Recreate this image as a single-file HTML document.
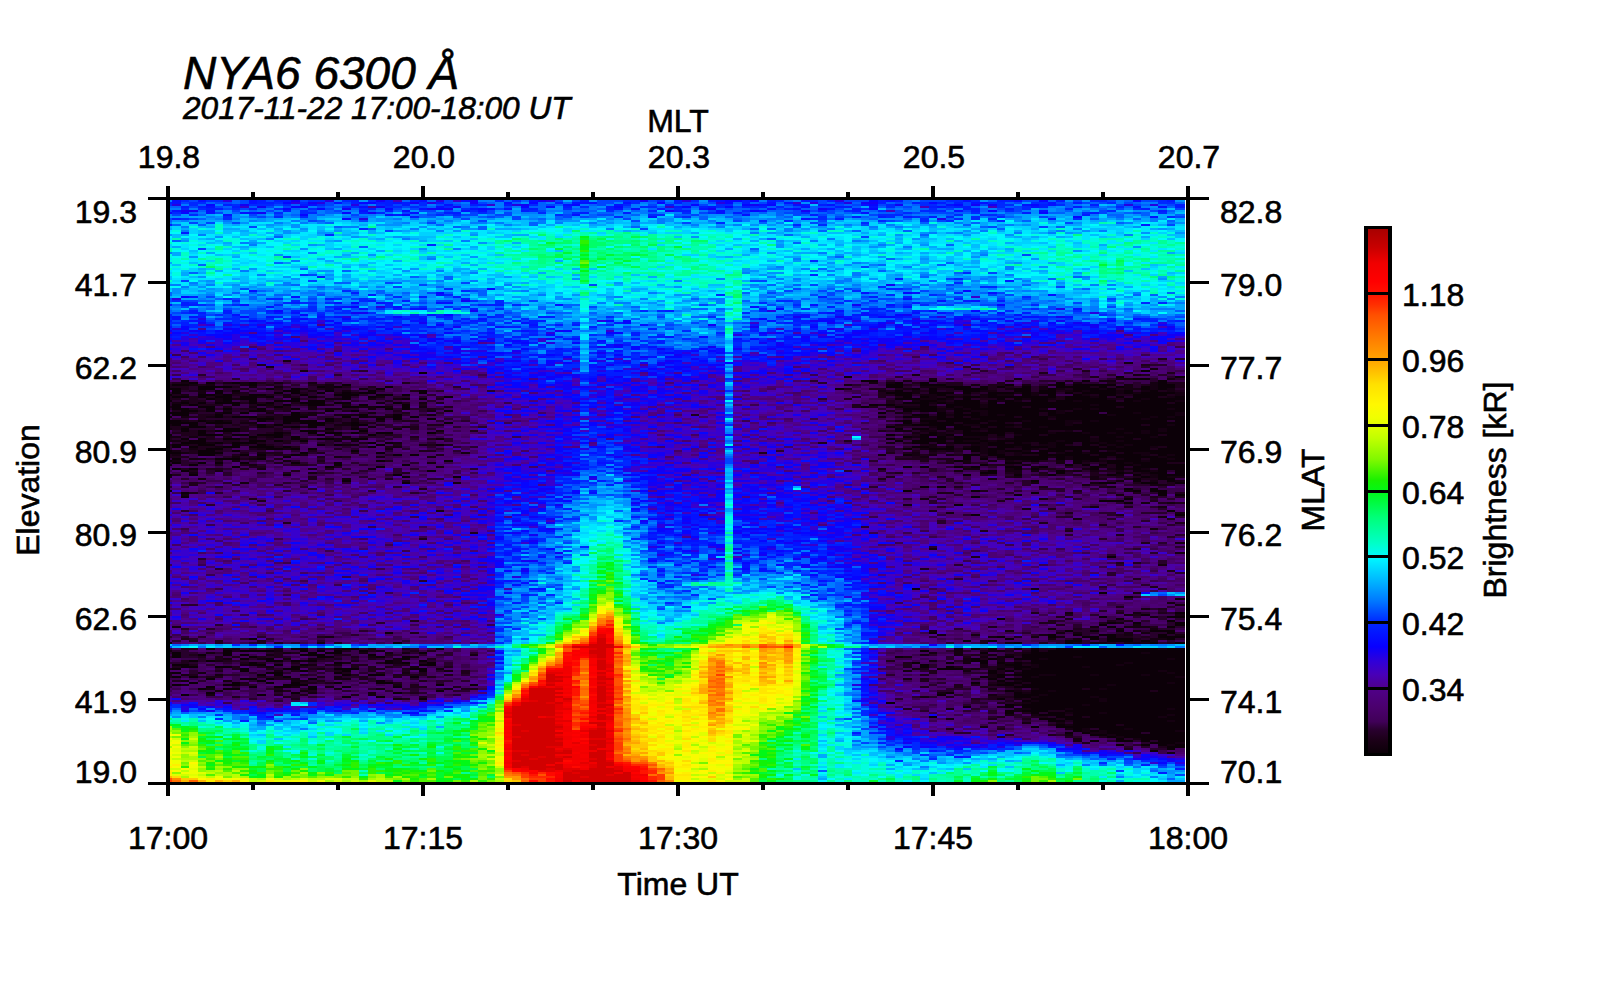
<!DOCTYPE html>
<html lang="en"><head><meta charset="utf-8"><title>NYA6 6300 keogram</title>
<style>html,body{margin:0;padding:0;background:#fff}svg{display:block}text{font-family:"Liberation Sans",sans-serif;fill:#000;stroke:#000;stroke-width:.6px}.t{font-size:32px}.it{font-style:italic}</style></head><body>
<svg width="1600" height="1000" viewBox="0 0 1600 1000">
<rect width="1600" height="1000" fill="#fff"/>
<g fill="none" stroke-width="2" shape-rendering="crispEdges">
<path stroke="#0c0008" d="M1141 371h9m-731 2h8m417 4h8m264 0h8m51 0h10m-52 2h17m-969 2h8m672 0h17m51 0h8m145 0h8m68 0h9m-978 2h9m8 0h9m17 0h8m9 0h8m638 0h8m17 0h9m127 0h9m93 0h9m-995 2h17m60 0h8m85 0h9m535 0h17m17 0h26m59 0h9m42 0h9m8 0h43m42 0h17m-977 2h34m85 0h8m9 0h8m43 0h8m493 0h17m43 0h25m9 0h8m9 0h8m17 0h9m25 0h34m9 0h8m9 0h8m17 0h9m8 0h17m-1007 2h13m17 0h17m51 0h8m17 0h9m76 0h9m450 0h9m68 0h8m9 0h8m17 0h34m26 0h17m17 0h8m17 0h26m8 0h9m25 0h9m8 0h9m-995 2h9m34 0h8m9 0h8m43 0h17m25 0h9m34 0h8m43 0h8m468 0h8m26 0h8m26 0h17m34 0h17m8 0h17m17 0h9m8 0h26m8 0h9m17 0h8m-986 2h9m34 0h8m51 0h9m8 0h9m17 0h8m17 0h9m8 0h17m43 0h8m459 0h26m17 0h25m9 0h8m17 0h26m8 0h9m8 0h17m9 0h8m9 0h34m8 0h9m8 0h34m-1007 2h4m26 0h17m8 0h9m17 0h17m34 0h8m26 0h25m17 0h17m9 0h8m485 0h17m25 0h9m42 0h9m25 0h9m17 0h8m17 0h9m17 0h17m17 0h34m-995 2h17m9 0h8m9 0h17m8 0h17m9 0h8m34 0h9m25 0h9m17 0h8m68 0h9m450 0h9m8 0h9m17 0h8m9 0h17m8 0h68m9 0h25m9 0h8m9 0h8m9 0h25m17 0h10m-979 2h9m8 0h9m8 0h17m34 0h9m42 0h9m51 0h8m9 0h8m468 0h25m17 0h9m17 0h8m26 0h8m9 0h8m9 0h17m17 0h42m17 0h17m9 0h35m-1017 2h4m51 0h9m17 0h8m17 0h26m8 0h17m595 0h17m17 0h26m8 0h9m8 0h9m17 0h17m8 0h17m9 0h34m8 0h9m8 0h34m-994 2h8m9 0h8m9 0h25m9 0h8m9 0h8m26 0h25m9 0h17m42 0h9m501 0h26m8 0h9m8 0h26m8 0h9m8 0h162m8 0h10m-1013 2h9m8 0h9m34 0h8m17 0h9m17 0h8m17 0h17m34 0h9m34 0h8m459 0h9m8 0h9m25 0h9m17 0h34m8 0h102m9 0h86m-1013 2h9m17 0h17m59 0h9m59 0h17m17 0h9m17 0h8m451 0h8m26 0h8m17 0h17m9 0h8m9 0h17m8 0h34m9 0h85m8 0h61m-1013 2h17m17 0h9m8 0h9m25 0h9m25 0h9m85 0h8m9 0h8m493 0h34m17 0h9m8 0h68m17 0h17m9 0h8m9 0h68m8 0h10m-1004 2h17m8 0h9m34 0h17m59 0h9m17 0h8m85 0h9m450 0h9m8 0h17m17 0h17m17 0h68m17 0h112m-1017 2h21m34 0h9m8 0h9m42 0h9m578 0h8m51 0h9m8 0h9m8 0h9m8 0h51m9 0h8m9 0h34m8 0h26m8 0h34m-1003 2h17m26 0h8m68 0h9m59 0h9m25 0h9m510 0h17m8 0h9m8 0h26m8 0h9m8 0h34m9 0h59m9 0h59m-1007 2h4m43 0h8m9 0h25m26 0h25m34 0h9m8 0h9m25 0h9m8 0h9m484 0h9m8 0h9m8 0h9m8 0h9m8 0h43m8 0h26m8 0h94m8 0h9m8 0h10m-928 2h17m9 0h17m25 0h9m42 0h9m8 0h9m25 0h9m501 0h34m9 0h68m8 0h85m9 0h35m-1017 2h13m17 0h8m9 0h8m34 0h9m17 0h34m8 0h9m569 0h9m8 0h17m9 0h42m9 0h25m9 0h34m17 0h8m9 0h68m8 0h10m-1017 2h30m8 0h26m51 0h8m9 0h25m26 0h8m85 0h9m450 0h9m17 0h25m9 0h17m8 0h17m17 0h43m17 0h103m-1013 2h9m8 0h9m59 0h9m8 0h9m25 0h17m26 0h17m544 0h51m17 0h34m8 0h43m8 0h68m9 0h17m8 0h10m-996 2h17m51 0h9m25 0h9m8 0h9m569 0h9m42 0h9m8 0h17m9 0h8m9 0h8m17 0h17m9 0h137m-1004 2h8m34 0h17m85 0h9m17 0h8m536 0h8m9 0h17m8 0h9m8 0h26m8 0h34m9 0h85m8 0h34m9 0h18m-1004 2h8m9 0h8m9 0h25m60 0h17m42 0h9m595 0h8m17 0h60m34 0h59m9 0h8m9 0h18m-987 2h8m68 0h9m25 0h9m8 0h17m9 0h8m17 0h17m34 0h9m493 0h8m26 0h42m9 0h34m8 0h26m8 0h17m9 0h8m9 0h8m9 0h35m-1017 2h4m26 0h25m9 0h17m8 0h26m34 0h8m43 0h8m510 0h9m25 0h17m9 0h8m9 0h25m9 0h8m17 0h17m9 0h110m9 0h18m-936 2h8m17 0h9m8 0h9m603 0h9m8 0h9m8 0h9m8 0h9m51 0h76m9 0h17m8 0h26m8 0h27m-1004 2h8m9 0h8m17 0h17m51 0h9m17 0h17m17 0h17m68 0h8m442 0h9m25 0h26m8 0h26m34 0h76m9 0h34m8 0h44m-996 2h17m43 0h17m8 0h9m17 0h8m587 0h8m9 0h34m8 0h9m17 0h8m9 0h59m9 0h25m9 0h17m8 0h61m-1004 2h25m9 0h8m9 0h25m111 0h8m9 0h8m519 0h17m8 0h9m8 0h26m8 0h17m9 0h8m17 0h9m8 0h17m9 0h17m8 0h78m-1013 2h9m17 0h17m17 0h8m17 0h9m51 0h8m9 0h8m34 0h9m51 0h8m544 0h43m25 0h9m17 0h8m9 0h8m9 0h8m9 0h52m-1013 2h9m8 0h9m25 0h17m9 0h25m9 0h8m77 0h8m536 0h17m17 0h8m17 0h9m17 0h17m8 0h26m8 0h43m8 0h9m8 0h26m17 0h18m-979 2h17m43 0h17m8 0h9m8 0h9m586 0h9m17 0h25m9 0h17m8 0h17m17 0h9m17 0h102m8 0h27m-1017 2h4m26 0h17m17 0h8m111 0h8m612 0h9m8 0h9m8 0h17m17 0h26m8 0h9m8 0h9m17 0h69m-1017 2h13m17 0h25m77 0h8m68 0h9m603 0h9m25 0h26m17 0h17m8 0h26m8 0h9m17 0h35m-987 2h17m25 0h9m8 0h9m25 0h9m93 0h9m8 0h9m484 0h9m51 0h17m8 0h17m34 0h51m9 0h42m17 0h9m8 0h10m-902 2h8m672 0h8m26 0h51m8 0h9m8 0h34m9 0h42m9 0h18m-1013 2h9m34 0h25m17 0h9m697 0h8m9 0h8m17 0h43m8 0h9m8 0h26m25 0h17m9 0h17m8 0h10m-1017 2h4m204 0h9m59 0h9m501 0h9m68 0h8m34 0h9m8 0h9m8 0h34m9 0h35m-1013 2h9m17 0h8m9 0h8m17 0h9m42 0h9m34 0h8m663 0h17m51 0h9m25 0h17m9 0h34m-999 2h4m17 0h9m136 0h8m60 0h8m570 0h8m77 0h8m9 0h8m9 0h8m9 0h17m8 0h44m-953 2h8m85 0h9m42 0h9m518 0h9m8 0h9m25 0h9m8 0h9m25 0h17m17 0h9m42 0h9m17 0h8m9 0h52m-1013 2h9m8 0h9m816 0h8m9 0h8m51 0h9m17 0h8m9 0h8m17 0h27m-1004 2h8m238 0h9m552 0h9m59 0h9m68 0h17m8 0h9m8 0h10m-205 2h17m59 0h9m51 0h8m26 0h17m8 0h10m-1017 2h4m17 0h9m85 0h8m102 0h9m561 0h8m43 0h8m26 0h8m51 0h9m17 0h8m17 0h27m-783 2h8m43 0h8m680 0h9m8 0h9m-34 2h8m17 0h17m-833 2h9m680 0h8m94 0h8m26 0h8m-773 2h8m689 0h17m25 0h17m17 0h10m-265 4h9m8 0h9m178 2h9m17 0h8m-990 2h4m731 0h9m59 0h9m153 0h8m9 0h17m-986 2h8m842 0h8m119 0h9m-153 2h8m136 0h9m8 0h10m-1004 2h8m782 0h9m144 2h9m-34 2h25m0 2h9m-179 2h9m204 6h8m-204 4h9m195 0h10m-78 42h9m-204 32h8m179 4h8m17 4h9m42 2h10m-10 14h10m-44 2h9m-51 2h8m60 0h18m-188 2h8m111 0h8m43 2h8m-68 2h9m17 0h8m34 0h10m-86 2h8m68 0h10m-78 2h9m51 0h8m-110 4h8m17 0h9m17 0h8m26 0h25m-790 2h8m536 0h8m230 0h8m-127 2h8m17 0h9m17 0h17m42 0h9m-170 2h8m43 0h8m26 0h17m8 0h9m42 0h27m-936 2h8m748 0h9m76 0h9m8 0h26m34 0h8m-212 2h8m17 0h9m68 0h17m25 0h26m8 0h9m-982 2h4m221 0h9m612 0h8m43 0h8m77 0h8m17 0h10m-979 6h9m76 0h17m34 0h17m77 0h8m510 0h9m8 0h9m8 0h9m17 0h8m9 0h8m17 0h17m9 0h76m9 0h18m-962 2h9m8 0h34m26 0h8m9 0h8m9 0h8m17 0h9m552 0h9m102 0h8m9 0h137m-1013 2h9m42 0h9m76 0h9m8 0h17m77 0h8m553 0h8m43 0h110m9 0h35m-1013 2h9m17 0h8m17 0h9m8 0h9m51 0h25m43 0h8m646 0h163m-1013 2h9m68 0h8m60 0h17m42 0h9m17 0h8m485 0h8m102 0h9m8 0h51m9 0h103m-945 2h9m17 0h8m128 0h8m561 0h9m8 0h9m17 0h25m9 0h119m8 0h10m-996 2h9m8 0h9m51 0h17m8 0h9m8 0h9m68 0h8m26 0h8m544 0h17m43 0h154m-936 2h8m77 0h8m43 0h8m9 0h8m17 0h9m476 0h8m26 0h8m26 0h8m9 0h8m9 0h8m9 0h93m9 0h52m-1013 2h17m60 0h17m8 0h9m17 0h8m111 0h17m484 0h9m76 0h17m17 0h77m8 0h61m-1004 2h17m17 0h17m59 0h9m620 0h9m17 0h8m60 0h17m8 0h43m8 0h95m-1013 2h9m59 0h9m34 0h17m34 0h25m51 0h17m510 0h26m34 0h8m9 0h8m9 0h154m-945 2h9m51 0h8m34 0h9m68 0h8m561 0h9m8 0h9m8 0h136m9 0h18m-1013 2h9m85 0h17m51 0h8m646 0h9m25 0h145m8 0h10m-928 2h9m8 0h9m59 0h9m17 0h17m612 0h8m9 0h25m17 0h34m9 0h42m9 0h35m-1013 2h9m8 0h9m85 0h8m119 0h9m561 0h8m9 0h8m17 0h9m8 0h136m-969 2h9m25 0h17m9 0h8m34 0h9m671 0h9m8 0h180m-928 2h9m110 0h9m612 0h8m17 0h163m-996 2h9m34 0h8m26 0h8m17 0h9m34 0h8m34 0h17m578 0h9m25 0h17m9 0h136m8 0h10m-1013 2h9m42 0h17m43 0h25m128 0h8m26 0h8m519 0h17m8 0h85m9 0h69m-979 2h9m34 0h8m17 0h17m17 0h9m25 0h9m42 0h9m612 0h171m-987 2h8m17 0h17m68 0h9m722 0h43m8 0h9m8 0h78m-749 2h8m561 0h9m17 0h17m8 0h94m8 0h27m-979 2h9m76 0h9m93 0h9m544 0h8m60 0h8m9 0h154m-1004 2h8m68 0h9m671 0h9m68 0h25m9 0h137m-843 2h9m25 0h9m629 0h17m8 0h51m9 0h86m-766 2h8m570 0h8m26 0h68m8 0h78m-163 2h9m8 0h60m8 0h78m-299 2h9m136 0h154m-180 2h9m8 0h60m8 0h95m-222 2h8m34 0h9m8 0h163m-154 2h34m8 0h94m8 0h10m-180 2h9m8 0h26m17 0h120m-180 2h9m17 0h8m9 0h17m8 0h26m8 0h78m-146 2h26m8 0h94m8 0h10m-256 2h8m119 0h26m8 0h68m9 0h18m-146 2h17m9 0h120m-137 2h17m8 0h94m8 0h10m-112 2h112m-129 2h9m8 0h43m8 0h61m-154 2h8m17 0h129m-112 2h9m17 0h25m9 0h52m-112 2h9m8 0h9m8 0h68m-110 2h8m9 0h8m17 0h34m9 0h35m-95 2h17m9 0h69m-78 2h9m8 0h61m-69 2h8m17 0h44m-95 2h9m17 0h17m8 0h9m8 0h27m-35 2h25m-59 2h8m17 0h9m8 0h9m8 0h10m-18 2h18m-18 2h8m-25 2h8"/>
<path stroke="#150011" d="M283 361h8m833 2h9m-867 4h8m876 2h8m-858 2h8m604 4h8m213 0h8m-212 4h8m77 0h8m94 0h17m34 0h8m-272 2h9m187 0h17m-935 2h8m34 0h9m8 0h9m25 0h9m25 0h9m552 0h9m8 0h9m178 0h9m68 0h8m-969 2h9m8 0h9m25 0h9m76 0h9m510 0h8m119 0h9m42 0h9m17 0h8m68 0h9m17 0h8m-909 2h8m17 0h9m42 0h9m586 0h26m93 0h9m76 0h9m17 0h8m-858 2h8m17 0h9m25 0h9m535 0h9m93 0h9m25 0h9m8 0h9m34 0h8m17 0h17m9 0h8m9 0h8m-977 2h8m102 0h9m25 0h9m527 0h8m26 0h8m60 0h17m68 0h8m9 0h8m26 0h8m17 0h9m17 0h8m-977 2h8m26 0h8m111 0h8m553 0h8m94 0h8m9 0h8m77 0h8m9 0h8m34 0h10m-1004 2h8m26 0h8m60 0h8m629 0h17m26 0h8m9 0h8m9 0h17m17 0h8m43 0h8m85 0h10m-928 2h9m17 0h8m85 0h9m544 0h8m17 0h9m17 0h8m102 0h9m68 0h8m-960 2h8m9 0h8m85 0h17m26 0h8m17 0h9m518 0h17m9 0h8m68 0h9m17 0h8m51 0h9m25 0h9m-969 2h8m26 0h8m689 0h8m17 0h9m51 0h8m9 0h8m51 0h9m51 0h8m34 0h10m-1013 2h9m195 0h9m34 0h8m502 0h8m9 0h8m-688 2h8m68 0h9m527 0h8m94 0h8m102 0h9m-931 2h4m77 0h8m51 0h9m42 0h17m9 0h8m26 0h8m476 0h17m34 0h9m17 0h8m-680 2h9m8 0h17m26 0h8m561 0h17m9 0h8m68 0h9m25 0h9m8 0h9m68 0h8m-952 2h9m195 0h9m501 0h9m25 0h17m68 0h9m-850 2h8m43 0h8m34 0h9m51 0h8m519 0h8m77 0h8m68 0h9m68 0h8m34 0h10m-885 2h17m17 0h25m68 0h9m510 0h8m26 0h8m9 0h8m102 0h9m59 0h10m-1004 2h8m17 0h9m51 0h8m94 0h25m485 0h8m26 0h8m9 0h8m111 0h8m94 0h8m9 0h8m-824 2h8m561 0h17m34 0h9m161 0h9m-969 2h8m17 0h9m8 0h9m119 0h8m17 0h9m510 0h8m85 0h9m25 0h9m34 0h17m8 0h9m-859 2h17m85 0h9m569 0h9m136 0h8m-905 2h4m162 0h17m544 0h17m51 0h17m34 0h8m43 0h8m94 0h8m-994 2h8m26 0h8m43 0h8m9 0h8m60 0h8m9 0h8m26 0h8m519 0h8m68 0h9m25 0h9m-880 2h4m221 0h9m578 0h8m34 0h9m85 0h8m34 0h9m-731 2h8m451 0h17m8 0h17m9 0h8m17 0h9m85 0h8m68 0h9m8 0h9m-884 2h8m621 0h8m17 0h9m102 0h8m26 0h8m17 0h9m8 0h9m8 0h9m-816 2h8m595 0h9m68 0h8m-854 2h13m8 0h9m68 0h8m68 0h9m561 0h8m43 0h25m9 0h8m111 0h8m26 0h8m-909 2h8m77 0h17m595 0h8m26 0h8m17 0h9m76 0h9m-931 2h13m153 0h8m9 0h8m604 0h17m8 0h9m59 0h9m25 0h9m17 0h8m-918 2h9m178 0h9m484 0h9m51 0h8m26 0h8m34 0h9m17 0h8m43 0h8m-926 2h8m153 0h17m60 0h8m502 0h8m34 0h17m51 0h17m51 0h9m8 0h9m-918 2h8m170 0h9m527 0h8m26 0h8m9 0h8m26 0h8m26 0h8m60 0h8m26 0h8m-969 2h9m59 0h9m17 0h8m94 0h8m527 0h9m51 0h8m43 0h8m-867 2h9m748 0h8m9 0h8m26 0h8m9 0h8m17 0h9m76 0h9m-935 2h8m68 0h9m195 0h9m442 0h8m60 0h8m9 0h8m9 0h8m34 0h9m17 0h8m43 0h17m-978 2h9m119 0h8m570 0h8m26 0h8m9 0h8m9 0h8m60 0h8m119 0h9m17 0h8m-943 2h8m17 0h9m68 0h8m34 0h9m42 0h9m484 0h9m51 0h8m60 0h8m9 0h8m85 0h9m-978 2h17m43 0h8m808 0h8m43 0h8m43 0h8m-1003 2h9m51 0h8m43 0h8m672 0h8m17 0h9m8 0h9m8 0h9m25 0h9m17 0h8m9 0h8m34 0h9m-723 2h9m527 0h8m85 0h9m59 0h9m-884 2h8m765 0h9m102 0h8m-705 2h8m587 0h8m60 0h8m-850 2h9m42 0h9m51 0h8m502 0h8m77 0h17m25 0h9m68 0h8m17 0h9m8 0h9m8 0h9m-935 2h8m731 0h9m42 0h17m9 0h8m34 0h9m8 0h9m17 0h8m26 0h8m-969 2h9m110 0h9m697 0h8m102 0h9m8 0h9m-34 2h8m26 0h8m-990 2h4m842 0h8m68 0h9m51 0h8m9 0h18m-987 2h8m136 0h9m637 0h9m93 0h9m25 0h9m-17 2h8m26 0h8m17 0h10m-945 2h9m204 0h8m570 0h8m51 0h9m-17 2h8m60 0h17m-60 2h9m8 4h9m-952 4h8m927 0h8m-204 4h9m110 0h9m93 4h9m17 0h8m-272 2h9m178 2h9m59 0h9m-145 2h9m-595 2h8m502 2h8m221 0h10m-27 4h9m-94 2h9m68 10h8m17 14h10m-256 6h8m238 4h10m-27 12h9m-136 24h8m94 4h8m26 10h8m0 2h10m-44 4h9m-85 4h8m60 0h8m-17 2h9m42 0h10m-35 2h8m-42 6h8m9 2h8m-969 2h9m909 0h9m25 0h26m-102 2h8m60 0h8m26 0h8m-229 2h8m68 0h9m119 0h8m-85 2h9m8 0h9m42 0h9m8 0h9m-213 2h9m25 0h9m59 0h9m76 0h9m42 0h10m-860 2h9m654 0h9m34 0h8m17 0h9m-17 2h8m17 0h9m68 0h17m-17 2h8m-841 2h8m680 0h9m59 0h9m8 0h17m17 0h26m-927 6h17m34 0h9m51 0h8m26 0h8m26 0h8m663 0h9m76 0h9m-999 2h4m102 0h9m93 0h9m569 0h9m25 0h17m-799 2h9m68 0h8m68 0h9m17 0h8m9 0h8m519 0h8m17 0h9m59 0h9m110 0h9m-884 2h8m196 0h8m442 0h9m25 0h9m25 0h9m8 0h9m-646 2h8m34 0h9m484 0h9m68 0h8m9 0h8m68 0h9m-859 2h9m25 0h9m17 0h8m17 0h9m76 0h9m561 0h8m26 0h8m34 0h9m119 0h8m-960 2h8m77 0h8m85 0h9m527 0h8m26 0h8m26 0h8m-663 2h9m42 0h9m561 0h8m34 0h9m8 0h9m93 0h9m-893 2h9m59 0h9m17 0h8m638 0h8m9 0h8m26 0h8m77 0h8m-858 2h8m136 0h9m561 0h8m9 0h17m17 0h8m43 0h8m-922 2h4m145 0h8m111 0h8m468 0h8m51 0h9m42 0h9m-757 2h9m161 0h9m450 0h9m51 0h8m187 0h9m-999 2h4m26 0h8m196 0h8m604 0h8m145 0h8m-994 2h8m26 0h8m765 0h9m8 0h9m25 0h17m34 0h9m42 0h9m-816 2h8m646 0h9m34 0h8m136 0h10m-894 2h9m34 0h17m552 0h9m-731 2h8m34 0h9m59 0h17m706 0h8m-25 2h8m162 0h8m-994 2h8m204 0h9m586 0h9m110 0h9m-825 2h9m25 0h9m-128 2h9m119 0h8m34 0h9m59 0h9m535 0h9m34 0h8m60 0h8m-892 2h8m51 0h9m17 0h8m706 0h8m26 0h8m-748 2h9m51 0h8m561 0h9m76 0h9m-825 2h9m153 0h8m612 0h9m42 0h9m-128 2h9m102 0h8m51 0h9m-706 2h9m612 0h8m77 0h8m-76 2h8m60 0h8m-85 2h9m-17 2h8m60 0h8m-93 2h8m-59 2h8m60 0h17m34 0h8m94 0h8m-161 2h8m43 2h8m26 0h8m-102 2h9m17 0h8m128 0h8m-17 2h9m-221 2h8m213 2h8m-153 2h9m25 0h9m0 2h8m-93 2h8m77 2h8m9 0h8m34 0h9m-51 2h8m9 0h8m68 0h10m-95 2h17m-42 2h8m34 0h9m0 2h8m-51 2h9m51 0h8m-68 2h9m93 2h10m-18 2h8m-8 8h8"/>
<path stroke="#1e001b" d="M1158 359h9m-910 6h9m875 0h9m-68 6h8m-51 2h9m119 0h8m-34 2h9m-60 2h9m-94 4h9m51 0h8m-901 2h9m76 0h9m136 0h8m502 0h8m26 0h17m34 0h8m102 0h9m51 0h18m-1017 2h4m26 0h8m60 0h8m34 0h17m578 0h9m34 0h17m25 0h17m136 0h9m25 0h10m-1017 2h21m43 0h8m102 0h9m17 0h8m612 0h9m8 0h9m76 0h9m76 0h10m-1004 2h8m51 0h9m25 0h9m34 0h8m519 0h8m17 0h17m9 0h8m34 0h17m34 0h9m68 0h8m43 0h8m-935 2h9m212 0h9m467 0h9m25 0h9m17 0h8m102 0h9m93 0h9m8 0h10m-945 2h9m51 0h8m26 0h8m536 0h8m85 0h9m93 0h9m-910 2h9m51 0h17m17 0h8m604 0h17m51 0h17m127 0h9m17 0h17m34 0h8m-1007 2h4m17 0h9m8 0h9m76 0h9m17 0h8m527 0h9m17 0h8m9 0h8m34 0h9m110 0h9m93 0h9m-999 2h13m8 0h9m238 0h8m400 0h8m128 0h17m59 0h9m51 0h8m-935 2h17m179 0h8m493 0h9m51 0h8m94 0h8m-867 2h9m42 0h9m8 0h9m25 0h9m102 0h8m26 0h8m442 0h9m85 0h8m179 0h8m-994 2h8m9 0h25m26 0h8m43 0h8m17 0h9m85 0h8m425 0h9m34 0h25m9 0h8m-714 2h9m34 0h8m9 0h8m153 0h9m399 0h9m8 0h9m8 0h9m42 0h9m76 0h9m85 0h8m-935 2h9m42 0h17m17 0h17m136 0h9m-264 2h9m17 0h8m60 0h8m9 0h8m51 0h9m42 0h9m484 0h9m17 0h8m145 0h8m-884 2h9m102 0h8m9 0h8m77 0h8m493 0h9m34 0h8m9 0h8m68 0h9m-850 2h17m59 0h9m102 0h8m298 0h8m340 0h9m-859 2h17m17 0h9m25 0h9m8 0h9m663 0h8m9 0h8m43 0h8m-824 2h8m43 0h8m17 0h9m51 0h8m706 0h8m-867 2h9m42 0h9m17 0h8m60 0h8m60 0h17m518 0h9m-655 2h9m25 0h9m25 0h17m578 0h9m17 0h8m17 0h9m59 0h9m-867 2h8m9 0h8m9 0h8m9 0h8m102 0h9m42 0h17m697 0h9m-982 2h13m59 0h9m51 0h8m26 0h8m68 0h9m476 0h8m68 0h9m8 0h9m17 0h8m-850 2h9m59 0h9m25 0h9m51 0h8m17 0h9m42 0h9m510 0h8m9 0h8m-765 2h9m8 0h9m25 0h9m25 0h9m34 0h17m136 0h8m400 0h8m68 0h9m17 0h8m60 0h17m-893 2h26m25 0h9m34 0h8m85 0h9m552 0h9m17 0h17m42 0h9m-833 2h17m85 0h8m94 0h8m519 0h8m68 0h9m42 0h9m110 0h9m-961 2h9m8 0h9m25 0h9m93 0h9m42 0h9m527 0h8m34 0h9m93 0h9m-931 2h4m34 0h9m25 0h9m17 0h8m26 0h8m119 0h9m467 0h9m85 0h8m128 0h8m-960 2h8m34 0h17m43 0h8m553 0h8m-629 2h9m25 0h9m17 0h8m68 0h9m450 0h9m76 0h9m93 0h9m17 0h8m-871 2h4m17 0h9m42 0h9m17 0h8m119 0h9m25 0h9m8 0h9m467 0h9m17 0h8m77 0h8m26 0h8m17 0h9m-901 2h17m59 0h9m8 0h9m85 0h8m544 0h9m153 0h8m51 0h9m-969 2h8m43 0h8m77 0h8m612 0h9m42 0h17m17 0h9m102 0h8m-969 2h9m17 0h8m85 0h9m102 0h17m476 0h8m17 0h9m8 0h9m102 0h8m-884 2h9m42 0h9m17 0h17m34 0h8m26 0h8m400 0h8m119 0h9m8 0h9m17 0h8m68 0h9m102 0h8m-956 2h4m60 0h8m34 0h17m145 0h8m476 0h9m25 0h9m17 0h8m17 0h9m8 0h17m51 0h9m51 0h8m-990 2h21m60 0h8m60 0h8m17 0h9m561 0h8m187 0h9m-876 2h9m25 0h9m612 0h34m8 0h17m43 0h8m94 0h8m34 0h9m-935 2h8m94 0h8m60 0h8m527 0h9m17 0h8m60 0h8m17 0h9m-774 2h9m663 0h8m128 0h8m9 0h8m60 0h18m-970 2h8m17 0h9m42 0h17m680 0h26m93 0h9m-867 2h17m68 0h8m621 0h8m94 0h8m34 0h9m-935 2h8m17 0h17m17 0h9m76 0h9m705 0h17m-867 2h9m93 0h9m680 0h8m77 0h8m26 0h17m-833 2h8m111 0h8m485 0h8m102 0h9m25 0h9m42 0h9m34 0h8m-969 2h9m799 0h8m51 0h9m25 0h9m8 0h17m34 0h9m-842 2h9m569 0h9m42 0h9m59 0h9m102 0h8m9 0h8m-833 2h9m68 0h8m485 0h8m213 0h8m34 0h17m-756 2h8m-221 2h9m935 0h8m26 0h8m-986 2h9m969 0h8m-221 2h9m76 0h9m51 0h8m-688 2h8m553 2h8m85 0h9m-893 2h9m739 0h17m179 0h8m34 0h10m-61 4h9m17 0h8m17 0h10m-936 2h8m748 0h9m-757 2h9m731 0h8m145 0h8m0 2h9m8 0h10m-61 4h9m-85 2h8m-127 2h8m128 2h8m43 2h8m43 4h8m-892 4h8m748 0h9m127 0h10m-86 2h8m-127 6h8m77 0h8m-603 2h8m638 2h8m-705 4h8m714 4h9m-179 14h9m136 6h8m9 0h8m-221 6h9m238 2h8m-42 8h8m9 8h8m-42 20h8m34 2h9m-136 4h8m77 0h8m34 0h9m-102 2h8m60 0h8m-85 2h9m0 2h8m-663 2h9m629 0h8m51 0h9m8 0h9m-94 2h17m43 0h8m-51 2h9m-77 2h9m153 0h8m-85 2h9m-672 4h9m697 2h8m-807 2h8m689 0h8m94 0h17m8 0h9m-969 2h8m944 0h8m-952 2h9m17 0h8m34 0h9m714 0h8m145 0h8m-926 2h8m34 0h9m8 0h9m51 0h8m638 0h8m51 0h9m59 0h9m51 0h8m-994 6h17m119 0h8m714 0h17m-824 2h8m102 0h9m17 0h8m34 0h9m8 0h9m544 0h8m17 0h9m8 0h9m8 0h9m-774 2h9m8 0h9m714 0h8m-833 2h9m76 0h9m51 0h17m34 0h8m578 0h17m26 0h8m-824 2h8m9 0h8m9 0h8m17 0h9m8 0h9m68 0h8m604 0h8m-756 2h8m94 0h8m9 0h8m26 0h8m51 0h9m544 0h8m-807 2h8m34 0h9m119 0h8m527 0h9m119 0h8m-841 2h8m51 0h9m8 0h9m25 0h9m76 0h9m34 0h8m476 0h9m-723 2h9m127 0h9m17 0h17m25 0h17m493 0h9m110 0h9m-859 2h9m51 0h8m17 0h9m34 0h8m43 0h8m9 0h8m9 0h8m51 0h9m450 0h9m42 0h9m25 0h9m-765 2h8m26 0h8m34 0h9m51 0h17m17 0h8m510 0h9m34 0h8m17 0h9m-782 2h8m68 0h9m34 0h8m26 0h8m26 0h8m51 0h9m459 0h8m60 0h8m-663 2h9m25 0h9m34 0h8m34 0h9m459 0h8m60 0h8m-837 2h4m17 0h9m102 0h8m43 0h8m34 0h34m17 0h9m467 0h9m-761 2h4m34 0h17m34 0h9m8 0h9m34 0h8m34 0h9m25 0h9m25 0h9m-162 2h17m68 0h9m552 0h9m42 0h9m-808 2h9m136 0h8m94 0h8m493 0h9m-689 2h9m51 0h17m8 0h9m59 0h9m586 0h9m25 0h9m-791 2h9m161 0h9m535 0h9m8 0h9m34 0h8m-612 2h17m26 0h8m459 0h9m25 0h9m17 0h8m17 0h9m-740 2h9m178 0h17m536 0h8m60 0h8m-807 2h8m17 0h9m705 0h9m119 0h8m-748 2h9m-145 2h9m17 0h8m43 0h8m-127 2h8m43 0h8m128 0h8m519 0h8m34 0h26m-723 2h9m102 0h8m561 0h9m8 0h9m25 0h9m-26 2h9m-17 2h8m9 0h8m-119 6h9m136 2h17m-43 2h9m34 2h8m-76 2h8m26 0h17m34 0h8m-102 2h9m25 0h9m25 0h9m0 2h8m-25 4h8m60 0h8m-178 4h8m43 0h8m43 6h8m9 2h8m26 0h8m-25 6h8m68 4h9m-43 2h9"/>
<path stroke="#28002c" d="M1175 359h10m-35 6h17m-204 2h8m170 0h9m-179 2h9m93 0h9m-723 2h9m612 0h8m136 2h9m-935 2h8m128 0h8m765 0h9m42 0h9m-272 2h8m264 0h8m-943 2h8m706 0h8m153 0h9m34 0h8m17 0h10m-375 2h8m68 0h9m144 0h17m94 0h8m-990 2h4m43 0h8m43 0h8m9 0h8m34 0h17m476 0h9m110 0h9m136 0h17m17 0h8m9 0h8m-918 2h17m17 0h9m8 0h9m8 0h9m552 0h9m51 0h8m119 0h9m17 0h8m60 0h8m-952 2h9m85 0h8m17 0h9m136 0h8m442 0h9m102 0h8m9 0h8m68 0h9m17 0h8m-952 2h9m25 0h17m17 0h9m42 0h9m17 0h17m17 0h8m544 0h9m68 0h8m26 0h8m136 0h10m-1004 2h8m17 0h9m8 0h9m17 0h8m17 0h9m17 0h8m26 0h8m9 0h8m17 0h9m51 0h8m43 0h8m408 0h9m25 0h9m8 0h9m34 0h17m17 0h8m94 0h8m-973 2h4m136 0h9m603 0h9m51 0h8m68 0h9m-791 2h9m8 0h9m8 0h9m42 0h9m59 0h9m476 0h8m51 0h9m59 0h9m-816 2h8m94 0h8m9 0h8m34 0h17m9 0h8m9 0h8m663 0h9m8 0h9m-935 2h8m60 0h17m17 0h17m59 0h9m433 0h9m59 0h9m59 0h9m8 0h9m25 0h9m-842 2h9m59 0h9m76 0h9m17 0h8m68 0h9m459 0h8m77 0h8m34 0h9m85 0h8m-956 2h4m34 0h9m59 0h9m612 0h8m-735 2h4m102 0h9m8 0h9m85 0h8m-225 4h4m26 0h8m9 0h8m9 0h8m77 0h8m17 0h17m34 0h9m8 0h17m9 0h8m434 0h8m9 0h8m-671 2h17m25 0h9m136 0h8m519 0h8m-756 2h17m144 0h9m25 0h9m34 0h8m476 0h9m-706 2h17m17 0h17m9 0h8m111 0h8m9 0h8m476 0h9m17 0h8m-620 2h17m561 0h8m-731 2h17m17 0h43m68 0h8m17 0h9m93 0h9m450 0h9m-680 2h8m34 0h9m59 0h9m8 0h9m25 0h9m34 0h8m17 0h9m416 0h9m272 0h8m-977 2h8m26 0h8m34 0h9m51 0h8m570 0h8m94 0h8m-824 2h8m17 0h9m8 0h9m34 0h17m25 0h9m51 0h8m17 0h9m467 0h9m-689 2h9m8 0h17m9 0h8m17 0h9m42 0h9m8 0h9m34 0h17m51 0h8m17 0h9m416 0h26m-740 2h26m42 0h17m17 0h9m42 0h9m76 0h9m-264 2h9m68 0h25m9 0h8m595 0h9m17 0h8m17 0h9m127 0h9m-876 2h9m34 0h17m76 0h9m85 0h8m-221 2h9m17 0h8m51 0h9m59 0h9m8 0h9m493 0h17m93 0h9m-833 2h8m9 0h8m77 0h8m34 0h9m34 0h17m8 0h9m603 0h9m-842 2h9m34 0h8m34 0h9m8 0h17m17 0h9m68 0h8m17 0h9m25 0h9m442 0h8m9 0h8m68 0h9m-791 2h17m17 0h9m17 0h8m17 0h9m25 0h9m42 0h9m59 0h9m493 0h8m-782 2h9m85 0h17m17 0h8m9 0h17m8 0h9m76 0h9m493 0h8m136 0h9m-867 2h8m26 0h8m17 0h9m42 0h9m620 0h17m102 0h9m-914 2h4m170 0h9m8 0h9m59 0h9m17 0h8m9 0h8m400 0h17m8 0h9m42 0h9m25 0h9m-829 2h4m9 0h8m34 0h9m119 0h8m43 0h8m26 0h8m442 0h17m9 0h8m-739 2h8m34 0h9m8 0h26m25 0h9m85 0h8m60 0h8m315 0h8m102 0h9m187 0h8m9 0h8m-799 2h9m620 0h9m8 0h9m8 0h9m68 0h8m-841 2h8m43 0h8m85 0h9m17 0h8m-170 2h9m8 0h9m646 0h17m76 0h9m-791 2h9m102 0h8m604 0h8m170 0h9m-935 2h8m60 0h8m9 0h8m17 0h9m569 0h9m170 0h8m-888 2h4m9 0h17m102 0h8m9 0h8m26 0h8m51 0h9m518 0h9m25 0h17m43 0h8m51 0h9m-918 2h8m68 0h9m17 0h8m17 0h9m42 0h9m646 0h8m51 0h9m-136 2h8m34 0h9m76 0h17m34 0h9m-910 2h9m110 0h9m42 0h9m8 0h9m51 0h8m451 0h8m85 0h9m25 0h9m85 0h8m-952 2h9m144 0h9m25 0h9m442 0h8m26 0h8m43 0h8m111 0h8m26 0h8m34 0h9m34 0h8m-969 2h9m8 0h9m25 0h9m51 0h17m17 0h8m34 0h9m484 0h9m17 0h8m145 0h8m34 0h9m-893 2h9m153 0h8m595 0h9m8 0h9m17 0h8m17 0h17m-714 2h9m714 0h8m9 0h17m8 0h9m-952 2h8m136 0h9m34 0h8m51 0h17m502 0h8m102 0h9m-765 2h8m638 0h8m68 0h9m76 0h9m25 0h9m8 0h9m-969 2h8m17 0h9m51 0h8m51 0h9m603 0h9m42 0h9m8 0h9m127 0h9m-935 2h8m34 0h9m688 0h9m42 0h9m59 0h17m17 0h26m-982 2h4m9 0h8m26 0h8m77 0h8m85 0h9m467 0h9m280 0h9m-859 2h9m680 0h8m34 0h26m25 0h9m34 0h8m-858 2h8m77 0h8m638 0h8m34 0h9m-850 2h8m187 0h9m586 0h9m59 0h9m25 0h9m34 0h8m-204 2h9m178 0h9m-221 2h8m128 0h8m85 0h9m-264 2h9m25 0h9m127 0h9m68 0h8m9 0h8m-246 2h8m-8 2h8m179 0h8m-918 2h9m824 0h9m-111 2h9m136 0h8m60 0h8m0 2h9m-986 2h8m910 2h17m25 0h26m-204 2h8m136 0h9m-60 2h17m102 0h10m-78 2h9m-179 2h9m195 0h9m-213 2h9m221 2h8m-314 2h8m264 0h8m-76 2h8m-8 6h8m102 0h10m-18 2h8m-76 2h8m51 4h9m-238 4h8m238 0h10m-52 2h8m9 4h8m-51 2h9m-918 4h8m952 2h9m-9 2h9m-213 2h9m153 0h8m-909 4h8m884 4h9m59 0h10m-78 2h9m-162 4h9m-544 2h8m714 4h9m-51 2h8m51 2h9m-34 8h8m-17 2h9m-952 6h17m969 2h8m-25 2h8m-59 2h8m9 0h8m34 0h9m-26 2h9m17 0h8m-85 2h9m34 2h8m17 0h9m-9 2h9m8 0h10m-129 2h9m51 0h8m17 0h9m-774 2h9m782 0h8m-960 2h8m850 0h9m85 0h8m-102 2h9m93 0h10m-1004 2h8m17 0h9m739 0h9m119 0h17m59 0h17m-816 2h9m688 0h9m8 0h17m51 0h9m-128 2h9m51 0h17m17 0h8m26 0h17m8 0h10m-834 2h8m672 0h8m43 0h8m43 0h8m9 0h8m9 0h8m-1007 2h4m9 0h8m9 0h8m51 0h9m663 0h8m196 0h8m9 0h8m-969 2h9m42 0h9m17 0h8m791 0h8m26 0h8m34 0h9m25 0h10m-1013 2h9m136 0h8m77 0h8m638 0h17m17 0h8m9 0h8m60 0h8m-926 2h8m34 0h9m646 0h8m102 0h9m17 0h8m26 0h8m34 0h9m-999 6h4m77 0h8m9 0h8m51 0h9m25 0h9m42 0h9m561 0h8m17 0h9m8 0h9m-859 2h17m213 0h8m536 0h8m9 0h8m-803 2h4m9 0h17m17 0h8m43 0h8m136 0h9m25 0h9m17 0h8m527 0h9m-833 2h8m204 0h9m17 0h8m9 0h17m476 0h8m26 0h8m-803 2h4m9 0h17m68 0h8m9 0h8m43 0h8m43 0h8m553 0h8m60 0h8m-824 2h8m43 0h8m68 0h9m17 0h8m17 0h9m561 0h8m-756 2h8m26 0h17m34 0h8m26 0h17m93 0h9m518 0h9m59 0h9m-863 2h13m8 0h9m25 0h9m42 0h9m25 0h9m127 0h9m-247 2h9m76 0h9m144 0h9m476 0h8m-629 2h17m9 0h8m51 0h9m527 0h8m-722 2h8m51 0h9m42 0h9m646 0h8m17 0h9m-825 2h9m110 0h9m8 0h9m102 0h8m476 0h9m85 0h8m-833 2h9m51 0h8m26 0h8m26 0h8m34 0h9m595 0h25m-765 2h17m68 0h9m144 0h9m416 0h9m-697 2h8m60 0h8m68 0h17m655 0h8m-654 2h8m34 0h9m518 0h9m51 0h8m-807 2h8m43 0h8m51 0h9m51 0h8m9 0h8m43 0h17m8 0h9m518 0h9m8 0h9m-697 2h8m34 0h9m68 0h8m493 0h9m-697 2h8m672 0h8m-769 2h4m60 0h8m748 0h17m-739 2h8m26 0h8m60 0h8m26 0h17m17 0h8m502 0h25m34 0h9m-672 2h9m34 0h8m17 0h9m34 0h17m442 0h8m17 0h17m34 0h17m-731 2h9m119 0h8m9 0h8m578 0h9m-723 2h9m153 0h8m493 0h9m34 0h17m-723 2h9m8 0h9m595 0h8m9 0h8m-688 2h8m638 0h8m77 0h8m17 0h9m-740 2h9m688 0h9m-9 2h17m17 0h9m-51 2h8m9 2h8m-17 2h9m-60 2h9m34 0h8m17 0h9m-9 2h9m42 0h9m-34 2h8m-34 2h9m17 0h17m17 0h8m-34 4h9m-43 2h9m51 0h8m9 0h8m-76 4h8m85 2h9m-145 4h17m170 0h9m-145 2h9m42 0h9m-68 2h8m68 0h9m42 2h9m-26 2h9m17 0h8m9 0h8m-17 2h9m-17 2h8m-17 2h9m8 0h9m0 2h17"/>
<path stroke="#39004c" d="M1175 347h10m-1013 8h9m960 0h9m-238 2h8m111 0h8m-790 2h8m782 0h9m51 0h8m-161 4h8m-654 2h8m663 0h9m25 2h9m-663 4h8m697 0h9m34 0h8m26 0h8m34 0h10m-214 2h9m102 0h8m-918 2h9m297 0h9m323 0h8m145 0h8m68 0h17m17 0h17m77 0h8m-144 2h8m43 0h8m60 0h8m-986 2h9m178 0h9m731 0h8m-892 2h8m43 0h8m9 0h8m94 0h8m629 0h9m25 0h9m8 0h9m42 0h26m17 0h18m-894 2h17m102 0h9m459 0h8m17 0h9m17 0h8m85 0h26m51 0h8m17 0h9m8 0h9m-935 2h8m111 0h8m519 0h8m9 0h8m77 0h8m9 0h8m43 0h8m77 0h8m-867 2h9m25 0h9m51 0h17m25 0h9m450 0h9m51 0h8m51 0h9m-731 2h8m26 0h8m102 0h9m59 0h9m416 0h9m-629 2h8m43 0h8m34 0h9m25 0h9m25 0h9m408 0h17m-680 2h17m25 0h9m17 0h25m9 0h8m85 0h17m459 0h9m-672 2h9m119 0h17m34 0h8m17 0h9m459 0h8m145 0h8m34 0h17m-799 2h9m17 0h8m17 0h9m51 0h8m493 0h9m17 0h8m-739 2h8m68 0h9m51 0h8m26 0h8m26 0h8m476 0h17m-680 2h9m17 0h8m17 0h17m60 0h8m17 0h9m8 0h9m8 0h9m51 0h8m-136 2h9m51 0h8m111 0h8m349 0h8m128 0h8m-782 2h9m8 0h9m85 0h8m9 0h8m34 0h9m348 0h9m178 0h9m-731 2h8m9 0h17m8 0h9m25 0h17m128 0h8m-178 2h8m102 0h9m450 0h9m-676 2h4m128 0h17m17 0h8m17 0h9m17 0h8m85 0h9m408 0h8m-671 2h8m17 0h9m110 0h17m26 0h8m459 0h9m17 0h8m9 0h8m162 0h8m-939 2h4m17 0h9m127 0h9m34 0h8m60 0h8m434 0h25m-569 2h8m9 0h8m85 0h26m391 0h8m17 0h9m-727 2h4m136 0h9m68 0h8m9 0h8m51 0h9m340 0h8m60 0h8m9 0h8m-654 2h8m111 0h8m77 0h8m281 0h8m162 0h8m-544 2h9m8 0h9m8 0h17m43 0h8m26 0h8m349 0h8m-688 2h8m17 0h9m85 0h8m60 0h8m-59 2h8m102 0h17m26 0h8m468 0h8m-671 2h8m17 0h9m59 0h9m476 0h8m9 0h17m8 0h9m-621 2h9m34 0h8m68 0h9m34 0h8m-293 2h4m60 0h8m51 0h17m60 0h8m34 0h9m59 0h9m416 0h9m-740 2h9m119 0h8m51 0h9m59 0h9m8 0h9m501 0h9m-723 2h9m51 0h8m26 0h8m9 0h8m26 0h8m43 0h8m68 0h9m348 0h26m-519 2h9m-68 2h8m85 0h9m8 0h9m442 0h8m17 0h9m-621 2h9m34 0h8m9 0h8m60 0h8m34 0h9m374 0h8m43 0h8m-680 2h9m51 0h17m59 0h9m493 0h8m34 0h17m-595 2h17m9 0h8m43 0h8m51 0h9m-128 2h9m76 0h9m25 0h9m-196 2h9m34 0h17m8 0h9m85 0h8m451 0h8m17 0h9m102 0h8m-816 2h17m9 0h8m34 0h9m85 0h8m60 0h8m434 0h8m17 0h9m17 0h8m-765 2h9m25 0h9m93 0h9m42 0h9m-196 2h9m17 0h8m43 0h8m111 0h17m76 0h9m484 0h9m-812 2h4m9 0h8m153 0h9m34 0h8m485 0h8m85 0h9m8 0h9m51 0h8m-867 2h9m8 0h9m25 0h9m8 0h9m136 0h8m527 0h9m25 0h17m-765 2h9m17 0h8m9 0h8m9 0h8m34 0h9m110 0h9m467 0h9m25 0h9m59 0h9m17 0h8m-858 2h17m127 0h9m17 0h17m501 0h9m59 0h9m76 0h26m25 0h9m-884 2h8m51 0h9m697 0h8m60 0h8m-858 2h8m731 0h9m42 0h9m76 0h9m17 0h8m-939 2h4m51 0h9m85 0h8m43 0h8m43 0h8m26 0h8m476 0h17m9 0h17m-808 2h9m85 0h8m60 0h8m17 0h9m85 0h8m9 0h8m442 0h9m25 0h9m68 0h8m43 0h8m9 0h8m60 0h8m-969 2h9m42 0h9m42 0h17m17 0h9m68 0h8m595 0h9m-774 2h9m119 0h8m527 0h9m34 0h8m51 0h9m8 0h9m25 0h9m-833 2h8m34 0h9m663 0h8m77 0h8m60 0h8m51 0h10m-979 2h17m26 0h8m68 0h9m85 0h8m451 0h8m43 0h8m77 0h8m43 0h8m-905 2h4m9 0h8m102 0h9m8 0h9m8 0h9m76 0h9m8 0h9m501 0h9m17 0h8m102 0h9m34 0h17m-833 2h8m867 0h10m-979 2h9m68 0h8m723 0h8m60 0h8m43 0h17m-238 2h8m34 0h9m144 0h17m17 0h9m8 0h27m-987 2h8m26 0h8m867 0h9m51 0h18m-1013 2h9m17 0h8m94 0h8m111 0h8m689 0h8m17 0h9m17 0h8m-850 2h9m722 0h9m17 0h8m9 0h8m-884 2h9m42 0h9m697 0h8m60 2h8m43 0h8m9 0h8m-790 2h8m782 0h9m-196 2h9m-689 2h9m705 0h9m76 0h9m25 0h9m25 0h9m34 0h8m-909 6h8m85 0h9m688 2h9m-128 2h9m119 0h8m-663 2h9m450 0h9m153 0h8m77 0h8m-102 2h9m85 4h8m34 0h9m-961 2h9m960 0h10m-817 2h8m43 0h8m680 0h9m-935 2h8m927 0h8m34 0h9m-247 2h9m187 0h8m-255 2h9m25 0h9m238 0h8m-739 4h8m502 0h8m-663 2h9m612 4h8m-518 2h8m612 0h9m144 0h9m-128 4h9m8 0h9m59 0h9m17 0h8m-833 2h9m68 0h8m561 0h9m102 2h8m34 0h9m-170 8h8m-688 2h8m816 0h9m25 0h9m-982 2h4m26 0h8m833 0h9m51 2h8m26 0h8m-765 2h9m765 2h8m-952 4h9m127 2h9m-51 4h8m680 0h9m127 0h9m17 0h8m-824 4h8m765 0h9m-901 4h8m706 0h8m162 0h8m43 2h8m-773 2h8m-110 2h8m629 2h9m-34 6h8m204 0h9m59 0h10m-78 2h17m51 4h10m-953 2h8m935 0h10m-137 2h8m94 0h8m-918 2h9m790 0h9m110 0h17m-68 2h9m-816 2h8m799 0h9m59 2h10m-120 2h17m59 0h9m-740 2h9m68 0h8m629 0h9m8 0h26m-918 2h8m663 0h9m102 0h8m-722 2h8m595 0h9m170 0h17m17 0h17m25 0h10m-817 2h8m587 0h8m51 0h9m68 0h8m-901 2h9m119 0h17m569 0h9m42 0h9m25 0h17m43 0h8m34 0h9m-944 2h9m76 0h9m51 0h8m17 0h9m705 0h9m25 0h9m42 0h9m-850 2h8m26 0h8m51 0h9m17 0h8m17 0h9m518 0h9m119 0h8m-790 2h8m43 0h8m17 0h9m535 0h9m8 0h9m93 0h9m-799 2h8m757 0h17m42 0h9m76 0h10m-987 2h8m17 0h9m8 0h9m34 0h8m9 0h8m68 0h9m17 0h8m60 0h8m493 0h9m17 0h8m43 0h8m-841 6h8m17 0h9m8 0h9m42 0h9m110 0h9m17 0h8m-178 2h17m8 0h9m34 0h8m60 0h8m26 0h8m26 0h8m400 0h8m68 0h9m-782 2h8m136 0h17m9 0h8m17 0h9m484 0h9m42 0h17m43 0h8m-837 2h4m34 0h17m26 0h8m68 0h9m17 0h8m43 0h8m502 0h8m77 0h8m-782 2h9m59 0h9m8 0h9m25 0h9m8 0h9m68 0h8m544 0h9m-829 2h4m9 0h17m8 0h9m85 0h8m34 0h9m34 0h8m17 0h9m51 0h8m417 0h17m8 0h9m76 0h9m-842 2h9m68 0h17m68 0h8m17 0h9m68 0h17m459 0h8m17 0h9m-748 2h8m9 0h8m9 0h8m26 0h8m43 0h8m604 0h8m17 0h9m-740 2h9m153 0h8m68 0h9m425 0h8m85 0h9m-748 2h8m17 0h9m42 0h9m93 0h17m17 0h9m416 0h9m-706 2h9m161 0h9m510 0h25m-697 2h9m42 0h17m9 0h8m68 0h9m17 0h8m77 0h8m493 0h9m-765 2h8m9 0h17m8 0h9m42 0h9m51 0h8m9 0h8m17 0h9m-213 2h9m25 0h17m77 0h8m561 0h9m51 0h8m-790 2h8m43 0h8m9 0h8m43 0h8m60 0h8m43 0h8m9 0h8m26 0h8m-310 2h13m8 0h9m34 0h8m17 0h9m51 0h8m128 0h8m417 0h8m43 0h8m43 0h8m-756 2h8m85 0h9m8 0h17m68 0h9m467 0h9m59 0h9m-812 2h4m51 0h9m25 0h9m144 0h9m510 0h8m-769 2h4m43 0h8m102 0h9m17 0h8m17 0h9m-119 2h8m663 0h9m17 0h8m-799 2h9m8 0h9m51 0h8m162 0h17m42 0h9m535 0h9m-863 2h4m26 0h17m25 0h26m85 0h8m570 0h8m43 0h8m-765 2h9m17 0h8m43 0h8m9 0h8m638 0h8m26 0h8m-816 2h9m25 0h9m17 0h8m153 0h9m8 0h9m8 0h9m510 0h8m-765 2h17m17 0h17m60 0h8m68 0h9m25 0h9m527 0h8m-697 2h9m51 0h8m570 0h8m-629 2h9m119 0h8m553 0h25m9 0h8m-799 2h9m731 0h8m-42 2h8m43 0h8m-93 2h8m9 0h17m-9 2h9m51 0h17m8 0h9m-43 2h9m-51 2h8m17 2h9m51 4h8m-93 2h8m60 0h17m17 0h17m-68 4h8m17 0h9m25 0h9m-43 4h9m-85 2h8m51 0h9m34 0h8m9 0h8m9 0h8m-17 2h9m8 0h9m-9 2h9m8 2h9m8 2h9m8 4h9m-9 2h9m25 6h9m-34 2h8m17 0h9"/>
<path stroke="#440060" d="M249 347h8m663 0h9m-748 4h8m145 0h8m663 2h9m-85 2h8m-756 2h8m9 0h8m842 0h8m60 2h8m-246 2h8m119 0h9m51 0h8m68 0h9m8 0h9m-884 2h8m782 0h9m68 0h8m-926 2h8m85 0h9m705 0h9m17 0h8m-875 2h8m850 0h17m17 0h9m17 0h8m43 0h8m-935 2h9m17 0h8m723 0h17m153 0h8m-1003 2h9m714 0h17m8 0h9m59 0h9m170 0h8m-960 2h8m765 0h9m153 0h8m-212 2h8m-756 2h17m68 0h8m17 0h9m756 0h9m25 0h9m8 0h26m-842 2h9m569 0h9m8 0h9m170 0h8m-901 2h9m595 0h8m94 0h8m9 0h17m51 0h8m43 0h8m51 0h9m17 0h8m-926 2h8m111 0h8m17 0h17m60 0h8m434 0h8m94 0h25m60 0h8m9 0h8m-722 2h8m85 0h9m17 0h17m382 0h9m136 0h8m-782 2h9m51 0h8m68 0h9m25 0h17m442 0h17m162 0h8m-841 2h8m179 0h8m17 0h9m17 0h8m306 0h9m85 0h8m-629 2h9m136 0h8m349 0h8m-425 2h9m459 0h8m60 0h8m85 0h9m-544 2h8m442 0h9m-408 4h8m-178 2h8m34 0h9m17 0h8m26 0h25m34 0h9m348 0h9m34 0h17m25 0h9m-629 2h8m77 0h8m34 0h9m8 0h9m433 0h17m-518 2h8m357 0h9m-561 2h17m119 0h25m51 0h9m25 0h9m442 0h8m-586 2h8m51 0h9m76 0h9m433 0h9m153 0h8m-841 2h8m68 0h9m17 0h8m43 0h17m25 0h9m17 0h8m340 0h9m8 0h9m-561 2h8m17 0h17m43 0h8m9 0h8m51 0h9m119 0h8m-306 2h9m127 0h9m25 0h9m51 0h8m196 0h8m-510 2h9m127 0h9m85 0h8m9 0h25m255 0h9m-408 2h8m51 0h17m34 0h9m365 0h9m76 0h9m34 0h8m-535 2h8m119 0h9m-255 2h8m111 0h8m43 0h8m323 0h9m119 0h8m-501 2h8m68 0h9m391 0h8m-527 2h9m8 0h9m34 0h8m34 0h9m-255 2h8m77 0h8m9 0h8m43 0h8m43 0h8m-259 2h4m170 0h17m9 0h8m9 0h8m9 0h8m17 0h9m382 0h9m42 0h9m-638 2h9m144 0h9m68 0h8m408 0h9m-604 2h9m42 0h9m51 0h8m281 0h8m145 0h8m-637 2h8m9 0h8m187 0h9m25 0h9m459 0h8m-748 2h9m110 2h9m25 0h9m51 0h8m43 0h8m374 0h9m42 0h9m-727 2h4m230 0h8m26 0h8m9 0h8m349 0h8m-433 2h8m17 0h9m433 0h9m17 0h25m34 0h9m-706 2h9m51 0h8m9 0h8m94 0h8m9 0h8m213 0h8m119 0h9m-621 2h9m51 0h17m51 0h8m17 0h9m501 0h9m25 0h17m-552 2h8m17 0h17m34 0h9m51 0h8m43 0h8m145 0h8m170 0h9m102 0h8m-637 2h17m17 0h8m17 0h26m51 0h8m485 0h8m-790 2h8m119 0h9m17 0h17m51 0h8m527 0h9m-646 2h8m43 0h17m34 0h8m451 0h8m68 0h26m-697 2h8m17 0h17m17 0h17m34 0h9m467 0h9m93 0h9m-765 2h8m17 0h9m42 0h9m17 0h8m60 0h8m51 0h9m476 0h8m9 0h8m60 0h8m60 0h8m-867 2h9m93 0h9m42 0h26m17 0h8m442 0h9m178 0h9m-876 2h9m42 0h9m119 0h8m510 0h17m43 0h17m85 0h8m-871 2h4m17 0h17m17 0h9m8 0h9m17 0h8m43 0h8m43 0h8m34 0h17m102 0h9m374 0h8m17 0h9m110 0h9m-833 2h8m9 0h8m17 0h9m637 0h9m51 0h8m-756 2h8m680 0h9m68 0h8m17 0h9m8 0h9m-867 2h8m9 0h8m179 0h8m476 0h9m51 0h17m51 0h8m17 0h9m17 0h8m17 0h9m-901 2h8m43 0h8m26 0h8m77 0h17m76 0h9m416 0h9m8 0h9m17 0h8m9 0h17m51 0h8m77 0h8m34 0h9m-867 2h8m9 0h8m85 0h9m25 0h17m485 0h8m136 0h9m-876 2h9m8 0h9m8 0h9m161 0h9m51 0h8m434 0h8m17 0h9m8 0h9m51 0h8m60 0h25m-922 2h4m17 0h9m119 0h8m595 0h9m161 0h9m-842 2h17m26 0h8m111 0h8m519 0h8m102 0h9m-808 2h9m612 0h8m60 0h17m42 0h9m51 0h8m-833 2h9m8 0h17m51 0h9m25 0h26m561 0h8m9 0h8m94 0h8m43 0h8m26 0h8m17 0h10m-987 2h8m9 0h8m68 0h9m51 0h8m502 0h8m51 0h9m59 0h9m17 0h8m-595 2h9m527 0h8m60 0h8m51 0h9m42 0h9m-179 2h9m17 0h8m-646 2h9m102 0h8m493 0h17m17 0h9m-774 2h9m59 0h9m34 0h8m561 0h9m17 0h8m9 0h8m17 0h9m59 0h9m17 0h8m43 0h17m17 0h8m-850 2h9m663 0h8m102 0h9m25 0h9m-281 2h9m280 0h17m-1007 2h13m17 0h8m740 0h8m153 0h9m-757 2h9m620 0h9m25 0h9m17 0h8m43 0h8m26 0h8m17 0h9m8 0h10m-715 2h8m468 0h8m26 0h8m26 0h8m26 0h8m119 0h10m-919 2h8m791 0h8m43 0h8m26 0h8m-969 2h9m212 0h9m620 0h17m9 0h17m76 0h9m-230 2h9m144 0h9m68 0h8m-986 2h9m246 0h9m578 0h8m51 0h9m34 0h8m-161 2h8m17 0h9m85 0h8m-841 2h8m162 0h8m493 0h9m59 0h9m127 0h9m-196 2h9m204 0h8m-935 2h9m824 0h9m17 0h8m-136 4h9m51 0h8m60 0h8m34 0h9m8 0h9m-162 4h17m9 0h8m136 0h10m-163 2h9m127 0h9m-774 2h9m739 0h9m-264 2h9m238 0h17m25 0h10m-979 2h9m144 0h9m748 0h8m-909 2h8m893 0h8m17 0h9m-179 2h9m17 0h8m-833 2h9m697 0h8m136 0h9m59 0h9m68 0h8m-93 2h8m43 0h8m9 0h8m-799 2h9m807 0h10m-18 2h8m-977 2h8m9 0h8m740 0h8m196 0h8m-170 2h9m119 0h8m-722 2h8m587 0h8m111 0h8m-909 2h8m842 0h8m17 0h17m17 0h9m17 0h8m-977 2h8m17 0h9m229 0h9m595 0h8m-875 2h8m68 0h9m892 0h10m-979 4h9m782 0h8m26 0h8m77 2h8m26 0h8m-42 2h17m-867 2h8m26 0h8m782 0h9m17 0h8m43 2h8m-204 2h9m144 0h9m-850 2h8m799 0h9m59 0h9m8 0h10m-826 2h9m552 0h9m102 0h8m26 0h8m85 0h17m-935 2h9m654 0h9m187 0h8m26 0h8m-161 2h8m187 0h10m-120 2h8m43 0h25m-119 2h9m-748 2h8m77 2h8m782 4h9m-986 2h8m901 0h9m59 0h9m-952 4h8m60 0h8m170 0h9m612 0h17m25 0h9m-918 2h8m60 0h8m153 0h9m595 0h8m26 0h8m-76 2h8m85 0h9m25 0h9m25 0h10m-1017 2h4m757 0h8m94 0h8m-25 2h8m9 0h8m94 0h17m-791 2h9m17 0h8m-136 2h9m51 0h8m748 0h9m68 0h8m-229 2h8m136 0h9m34 0h8m-909 2h8m85 0h9m612 0h8m68 0h9m85 0h8m26 0h8m26 0h8m-221 2h9m42 0h9m17 0h8m26 0h8m26 0h8m51 0h9m-111 2h9m25 0h9m25 0h9m-816 2h8m43 0h8m544 0h9m51 0h8m17 0h9m8 0h9m8 0h9m34 0h8m17 0h9m-876 2h9m187 0h8m553 0h8m17 0h9m34 0h8m43 0h8m-909 2h8m43 0h8m748 0h26m8 0h17m-905 2h4m9 0h8m94 0h8m111 0h8m536 0h17m25 0h9m34 0h8m9 0h8m68 0h9m-965 2h4m9 0h8m68 0h9m127 0h9m493 0h8m94 0h8m94 0h8m-782 2h9m25 0h9m17 0h8m553 0h17m59 0h9m34 0h8m-901 2h9m161 0h9m654 0h9m51 0h17m-859 2h9m42 0h9m25 0h9m59 0h17m9 0h8m34 0h9m493 0h8m17 0h9m51 0h8m-739 2h8m17 0h9m51 0h17m535 0h9m59 0h26m127 0h9m-995 2h9m161 0h9m102 0h8m459 0h9m93 0h17m-867 6h9m102 0h8m85 0h17m502 0h8m17 0h9m8 0h9m-757 2h9m8 0h17m102 0h9m59 0h9m34 0h8m26 0h8m408 0h9m8 0h17m9 0h17m-706 2h9m8 0h9m34 0h8m570 0h8m9 0h8m17 0h9m34 0h8m17 0h9m-765 2h8m43 0h8m68 0h9m42 0h9m467 0h9m42 0h9m-740 2h9m25 0h9m170 0h17m17 0h8m451 0h8m51 0h9m-808 2h9m178 0h9m68 0h8m9 0h8m425 0h9m34 0h8m-769 2h4m170 0h9m17 0h17m17 0h8m578 0h9m8 0h9m-808 2h9m68 0h8m9 0h8m51 0h17m34 0h9m467 0h17m17 0h9m8 0h9m42 0h9m-829 2h4m43 0h8m9 0h8m77 0h8m17 0h9m25 0h9m51 0h8m493 0h17m9 0h17m-812 2h4m26 0h17m68 0h8m68 0h9m527 0h8m9 0h8m17 0h9m-748 2h8m17 0h9m17 0h8m128 0h8m68 0h9m-289 2h8m9 0h8m43 0h8m136 0h9m510 0h8m60 0h8m-782 2h9m76 0h9m25 0h9m93 0h17m442 0h9m110 0h9m-842 2h9m102 0h17m17 0h17m51 0h8m34 0h9m17 0h8m451 0h8m9 0h8m9 0h17m-672 2h9m8 0h9m8 0h9m144 0h9m476 0h17m25 0h9m-816 2h8m9 0h8m102 0h9m17 0h8m26 0h8m9 0h8m17 0h9m8 0h9m-285 2h4m238 0h9m518 0h26m-757 2h9m68 0h8m51 0h9m17 0h8m26 0h8m570 0h8m-731 2h9m42 0h17m9 0h8m43 0h8m9 0h8m570 0h8m-816 2h9m42 0h9m8 0h9m51 0h8m43 0h25m9 0h8m9 0h8m51 0h9m8 0h9m459 0h8m-786 2h4m43 0h8m34 0h9m17 0h8m26 0h8m60 0h8m587 0h8m9 0h8m-782 2h9m59 0h9m578 0h17m68 0h8m-773 2h8m26 0h8m94 0h8m17 0h9m527 0h8m77 0h17m-829 2h4m111 0h8m85 0h9m17 0h8m-76 2h8m638 0h8m-756 2h8m17 0h9m93 0h9m-102 2h8m77 0h8m587 0h8m9 0h8m-603 2h8m9 0h8m561 0h9m-17 2h8m17 0h9m-51 2h8m9 0h8m17 0h9m8 0h9m0 2h8m-93 2h8m43 2h8m26 0h8m9 0h8m-85 2h9m42 0h9m25 0h9m-111 2h9m42 0h9m25 0h9m-85 2h17m34 0h8m9 0h17m17 0h8m-76 2h8m26 2h8m17 2h9m17 2h8m-93 2h17m76 0h9m-9 2h9m-26 2h9m-60 2h9m85 0h8m-68 4h9m42 4h9m17 0h8m9 0h8m26 2h8m-8 2h8m17 2h10m-10 2h10"/>
<path stroke="#49006b" d="M300 341h8m825 0h8m-884 8h9m654 0h9m-689 2h9m603 0h9m-672 2h9m799 0h8m17 0h9m-757 2h9m697 0h8m9 0h8m9 0h8m17 2h9m25 0h9m-748 2h8m646 0h9m34 0h8m-850 2h9m671 0h9m-706 2h9m153 0h8m77 0h8m604 0h8m-871 2h4m119 0h9m76 0h9m17 0h8m544 0h9m136 0h8m-935 2h9m612 0h8m77 0h8m136 0h9m51 0h8m60 0h8m-858 2h8m510 0h9m59 0h9m17 0h8m119 0h9m51 0h8m51 0h9m-927 2h9m59 0h17m604 0h8m-663 2h9m51 0h8m34 0h9m544 0h8m43 0h8m34 0h9m76 0h9m59 0h10m-834 2h8m9 0h8m459 0h9m25 0h9m221 0h8m17 0h9m17 0h8m-739 2h8m9 0h8m34 0h9m382 0h9m42 0h9m51 0h8m17 0h9m85 0h8m51 0h9m-901 2h8m102 0h9m17 0h8m544 0h9m42 0h9m25 0h9m17 0h8m85 0h9m-999 2h13m59 0h9m59 0h9m34 0h8m60 0h8m34 0h9m382 0h9m17 0h8m51 0h9m8 0h9m51 0h8m-646 2h9m51 0h8m221 0h9m314 0h9m-714 2h8m68 0h9m8 0h9m34 0h8m-161 2h8m493 0h9m-425 2h8m26 0h8m17 0h9m-251 2h4m230 0h8m85 0h9m255 0h8m34 0h9m-417 2h9m8 0h9m365 0h9m51 0h8m17 0h9m-468 2h9m34 0h8m332 0h8m-442 2h9m365 0h9m-459 2h8m68 0h9m42 0h9m42 0h9m391 0h8m-433 2h8m391 0h9m34 0h8m-527 2h9m85 0h8m17 0h9m306 0h8m-425 2h9m25 0h9m8 0h9m34 0h17m374 0h8m-348 2h8m-68 2h9m42 0h9m348 2h17m-561 2h9m527 0h8m-552 2h8m179 0h8m332 0h8m-93 2h8m-348 2h8m459 0h9m-578 2h8m94 0h8m17 0h9m331 0h9m76 0h9m-621 2h9m136 0h8m17 0h9m51 0h8m179 0h8m68 0h9m85 0h8m17 0h9m8 0h9m-476 2h8m17 0h9m246 2h9m144 0h9m17 0h8m-637 2h8m128 0h8m9 0h8m34 0h26m357 0h8m34 0h9m-502 2h9m8 0h9m17 0h8m34 0h9m34 0h8m340 0h9m-646 2h8m94 0h8m77 0h8m9 0h8m434 0h17m17 0h8m-578 2h9m85 0h8m9 0h8m17 0h9m187 0h8m204 0h17m-578 2h17m77 0h8m9 0h8m-59 2h8m17 0h9m365 0h9m25 0h9m68 0h8m-527 2h9m17 0h8m26 0h8m9 0h8m238 0h9m42 0h9m-366 2h9m25 0h9m25 0h9m382 0h9m17 0h25m-586 2h8m94 0h8m-229 2h8m119 0h9m0 2h8m43 0h17m8 0h9m8 0h9m25 0h9m-170 2h8m9 0h8m85 0h9m501 0h9m-629 2h8m34 0h9m25 0h9m51 0h8m-178 2h8m94 0h8m9 0h8m43 0h17m17 0h17m382 0h9m25 0h17m-697 2h9m59 0h9m42 0h9m34 0h8m68 0h9m76 0h9m127 0h9m195 0h17m43 0h8m-654 2h8m17 0h9m51 0h8m17 0h17m9 0h17m-128 2h9m25 0h17m383 0h8m145 0h17m-527 2h17m51 0h8m289 0h9m110 0h9m34 0h8m9 0h8m51 0h17m60 0h8m-807 2h8m111 0h8m17 0h9m59 0h9m25 0h9m442 0h17m-808 2h9m25 0h9m127 0h26m561 0h8m60 0h8m-705 2h8m9 0h8m34 0h9m34 0h8m51 0h9m484 0h9m-723 2h9m93 0h17m51 0h9m-251 2h4m60 0h8m51 0h9m663 0h17m-782 2h8m68 0h9m42 0h9m34 0h8m26 0h8m485 0h8m51 0h9m8 0h9m-799 2h8m9 0h8m17 0h9m8 0h17m43 0h8m17 0h17m102 0h9m425 0h8m60 0h8m94 0h8m-884 2h9m59 0h9m25 0h9m34 0h8m9 0h8m68 0h9m595 0h8m9 0h17m-740 2h9m42 0h9m42 0h9m476 0h8m9 0h8m34 0h9m17 0h17m8 0h9m59 0h17m9 0h8m17 0h9m-927 2h17m26 0h8m17 0h9m76 0h9m535 0h9m8 0h9m68 0h8m9 0h8m26 0h8m-875 2h8m9 0h8m34 0h9m76 0h17m34 0h9m459 0h8m60 0h8m77 0h8m51 0h9m8 0h9m25 0h9m-918 2h8m17 0h9m42 0h9m34 0h8m17 0h9m68 0h8m485 0h8m9 0h8m68 0h9m17 0h8m51 0h9m25 0h9m-910 2h9m204 0h8m459 0h9m25 0h9m136 0h8m-909 2h8m111 0h8m17 0h9m535 0h17m51 0h9m42 0h9m25 0h9m68 0h8m9 0h8m-850 2h9m34 0h8m17 0h9m8 0h17m527 0h17m43 0h8m111 0h17m-748 2h8m519 0h8m43 0h8m9 0h8m34 0h9m127 0h17m-935 2h9m204 0h17m425 0h8m179 0h8m17 0h9m34 0h8m-956 2h4m85 0h9m586 0h9m25 0h9m187 0h17m59 0h9m8 0h10m-962 2h17m77 0h8m153 0h9m340 0h8m68 0h9m34 0h8m68 0h9m17 0h8m26 0h8m-841 2h8m94 0h8m34 0h9m442 0h8m102 0h9m-638 2h9m8 0h9m731 0h8m-731 2h9m68 0h8m459 0h9m17 0h8m51 0h9m42 0h9m85 0h17m-808 2h9m663 0h8m-807 2h8m833 0h9m68 0h25m17 0h10m-1013 2h9m85 0h8m51 0h9m629 0h8m17 0h9m34 0h8m43 0h8m43 0h8m-884 2h9m680 0h17m93 0h9m34 0h8m34 0h9m8 0h9m-221 2h25m26 0h8m77 0h8m60 0h8m-195 2h8m128 0h8m51 0h9m-995 2h9m42 0h9m25 0h9m136 0h8m485 0h8m17 0h9m17 0h8m77 0h8m34 0h9m17 0h8m9 0h8m34 0h9m-978 2h9m119 0h8m621 0h8m68 0h9m34 0h8m51 0h9m-867 2h8m43 0h8m723 0h8m17 0h9m34 0h8m-212 2h17m93 0h9m17 0h8m94 0h8m-986 2h9m850 0h8m9 0h8m119 0h10m-1004 2h8m221 0h9m544 0h8m119 0h9m51 0h8m-990 2h4m859 0h8m94 0h8m26 0h8m-246 2h8m145 0h8m60 0h17m-230 2h9m25 0h9m-757 2h9m212 0h9m688 0h9m17 0h8m-782 2h9m586 0h9m110 0h9m51 0h8m-952 2h9m195 0h9m586 0h9m-145 2h9m255 0h8m-17 2h9m-982 2h4m34 0h9m85 0h8m714 0h9m127 0h9m-697 2h8m553 0h8m17 0h9m93 0h9m-999 2h4m204 0h9m688 0h9m51 0h8m-790 2h8m17 0h9m790 0h10m-826 2h9m731 0h8m9 0h8m51 2h10m-282 2h9m76 0h9m17 0h8m119 0h9m17 0h8m-833 2h9m102 0h8m510 0h9m119 0h8m60 0h8m-790 2h8m510 0h9m136 0h8m77 0h8m-901 2h9m714 0h8m179 0h8m-935 2h9m178 0h9m688 0h9m-162 2h9m42 0h9m-697 2h8m94 0h8m510 0h9m68 0h17m51 0h8m-119 2h9m-731 2h8m646 0h9m229 0h9m8 0h9m-986 2h8m170 0h9m102 0h8m468 0h8m68 0h9m68 0h8m-858 2h8m816 0h17m17 0h9m17 0h8m34 0h10m-95 2h9m-808 2h9m688 0h9m42 0h9m42 0h9m-918 2h8m60 0h8m663 0h9m-723 2h9m153 0h8m77 0h8m587 0h17m102 0h8m-238 2h9m178 0h9m34 0h8m-986 2h9m748 0h8m9 0h8m60 0h8m34 0h17m-918 2h9m739 0h9m170 0h8m17 0h17m-918 2h9m119 0h8m77 0h8m9 0h8m612 0h9m59 0h9m-238 2h8m9 0h8m119 0h9m8 2h17m43 0h8m9 0h25m-246 2h8m179 0h8m26 0h8m-229 2h8m187 0h9m8 0h9m8 0h17m-229 2h8m17 0h9m102 0h8m9 0h8m-935 2h9m884 0h8m43 0h25m26 0h8m-739 2h8m442 0h9m51 0h8m43 0h8m43 0h8m68 0h9m17 0h8m-960 2h8m111 0h8m119 0h9m501 0h9m110 0h9m8 0h9m-918 2h8m77 0h8m833 0h9m-816 2h8m638 0h8m77 0h8m9 0h8m85 0h9m-748 2h8m638 0h8m34 0h9m25 0h9m8 0h9m-982 2h4m264 0h8m17 0h9m17 0h8m442 0h9m76 0h9m42 0h17m43 0h8m9 0h8m-926 2h8m748 0h9m34 0h8m43 0h8m60 0h17m-995 2h9m59 0h9m25 0h9m17 0h8m153 0h9m595 0h8m17 0h9m17 0h8m-892 2h8m26 0h8m51 0h9m119 0h8m544 0h9m34 0h17m34 0h8m51 0h9m-978 2h9m25 0h9m59 0h9m59 0h9m612 0h8m136 0h9m-935 2h25m111 0h17m688 0h9m59 0h9m59 0h10m-902 2h8m9 0h8m179 0h8m417 0h8m34 0h9m85 0h8m77 0h8m-935 2h9m51 0h17m85 0h8m536 0h17m68 0h8m-714 2h9m654 0h9m76 0h9m-880 2h4m26 0h17m110 0h17m17 0h9m68 0h8m536 0h25m9 0h8m17 0h9m34 0h8m-884 2h9m8 0h9m17 0h8m26 0h8m60 0h8m60 0h8m9 0h8m459 0h17m34 0h9m34 0h8m-816 2h9m34 0h8m68 0h9m42 0h9m17 0h8m544 0h9m8 0h9m-570 6h9m76 0h9m425 0h8m43 0h8m26 0h8m-807 2h8m238 0h9m561 0h8m-790 2h8m9 0h8m60 0h8m153 0h9m416 0h17m51 0h9m-723 2h9m25 0h9m76 0h9m102 0h8m400 0h17m34 0h8m-561 2h9m59 0h9m450 0h17m-705 2h8m34 0h9m136 0h8m34 0h9m408 0h8m26 0h8m-510 2h9m34 0h8m434 0h8m17 0h9m-604 2h9m17 0h8m77 0h8m9 0h17m-272 2h8m77 0h8m77 0h8m536 0h8m34 0h9m-561 2h8m9 0h8m26 0h8m9 0h17m476 0h17m-723 2h9m34 0h8m119 0h9m8 0h9m17 0h8m425 0h9m-744 2h13m42 0h9m119 0h8m68 0h9m17 0h8m425 0h9m42 0h26m-740 2h9m119 0h8m578 0h9m8 0h9m-765 2h8m60 0h8m85 0h9m612 0h8m-765 2h9m8 0h9m127 0h9m17 0h8m34 0h9m433 0h17m26 0h8m-637 2h8m68 0h9m34 0h8m34 0h9m442 0h8m-731 2h9m8 0h9m25 0h9m17 0h25m43 0h8m17 0h9m25 0h17m43 0h8m17 0h9m425 0h8m9 0h8m26 0h8m9 0h8m-816 2h9m17 0h8m9 0h8m51 0h9m68 0h8m68 0h9m8 0h17m425 0h9m25 0h9m34 0h8m-782 2h26m127 0h9m17 0h8m51 0h9m8 0h9m416 0h9m-689 2h17m51 0h9m68 0h8m34 0h9m42 0h9m442 0h8m43 0h8m-646 2h9m25 0h9m17 0h8m570 0h17m-629 2h8m9 0h8m17 0h9m25 0h17m9 0h17m8 0h9m-285 2h13m34 0h8m17 0h9m34 0h8m34 0h9m42 0h17m51 0h26m450 0h9m25 0h9m-731 2h8m26 0h8m34 0h9m25 0h9m34 0h8m26 0h8m468 0h8m17 0h17m34 0h9m-808 2h9m42 0h9m25 0h17m26 0h8m77 0h8m9 0h8m34 0h9m484 0h9m-765 2h8m26 0h8m119 0h9m51 2h8m485 0h8m17 2h9m17 0h8m-680 2h9m620 0h26m25 0h9m25 0h17m9 2h8m-85 4h9m8 0h9m8 2h17m-25 6h17m-9 2h9m-26 2h26m34 0h8m9 0h17m-34 2h8m-68 2h9m42 0h9m8 0h9m8 0h9m-60 2h9m17 0h8m9 0h8m-93 2h8m51 0h9m0 2h8m-8 4h8m60 0h8m-8 2h8m9 0h8m-8 2h8m-17 4h9m0 4h8m60 2h8m0 2h10"/>
<path stroke="#4c0075" d="M1116 331h8m0 4h9m-842 2h9m867 8h8m-144 2h8m-799 2h9m136 0h8m-178 2h8m51 0h9m765 0h8m-731 2h9m-94 2h9m629 0h8m17 0h9m-587 2h9m722 0h9m-897 2h4m850 0h9m-863 2h4m179 0h17m544 0h8m102 0h9m8 0h9m-799 2h8m68 0h9m17 0h8m85 0h9m484 0h9m68 0h8m94 0h8m43 0h8m-926 2h8m629 0h9m93 0h9m17 0h8m51 0h17m34 0h9m-952 2h8m17 0h9m119 0h8m17 0h9m527 0h8m43 0h8m60 0h8m85 0h9m17 0h8m17 0h9m-935 2h8m51 0h9m578 0h8m77 0h8m162 0h8m34 0h10m-299 2h9m136 0h17m25 0h9m25 0h17m26 0h17m-944 2h9m51 0h8m170 0h9m8 0h9m280 0h9m25 0h9m110 0h9m76 0h9m42 0h9m34 0h8m26 0h8m17 0h9m-884 2h8m102 0h9m501 0h9m68 0h8m9 0h17m17 0h8m26 0h8m-739 2h8m587 0h8m26 0h17m68 0h17m-867 2h8m43 0h8m77 0h8m595 0h9m85 0h8m9 0h17m8 0h9m8 0h9m-876 2h9m25 0h9m8 0h9m8 0h9m42 0h9m340 0h8m34 0h9m59 0h9m34 0h8m111 0h17m8 0h9m-629 2h8m629 0h9m-714 2h8m60 0h8m9 0h8m9 0h8m17 0h9m263 0h9m-306 2h8m68 0h9m289 0h8m77 0h8m-110 2h8m85 0h9m-604 2h9m467 0h9m68 0h8m43 0h8m-663 2h9m221 0h8m85 0h9m297 0h9m-400 2h9m289 0h8m-323 2h9m34 0h8m238 0h9m-9 2h9m17 0h8m9 0h17m17 0h8m-272 2h9m238 0h8m68 0h9m-510 2h8m128 0h8m-51 2h17m323 0h9m51 0h8m-399 2h25m17 0h9m272 0h8m43 0h8m9 0h8m-382 2h8m230 0h8m26 0h8m26 0h8m26 0h8m9 0h8m34 0h9m-476 2h8m60 0h8m221 0h9m-366 2h9m93 0h17m9 0h17m-238 2h8m196 0h8m26 0h8m17 0h9m221 0h8m102 0h9m8 0h9m-400 2h17m17 0h9m110 0h9m-451 2h9m255 0h8m68 0h9m221 0h17m51 0h8m-408 2h9m34 0h8m43 0h8m315 0h8m-399 2h8m417 0h8m-493 2h9m51 0h17m297 0h9m85 0h8m-178 2h8m60 0h8m102 0h9m-442 2h8m0 2h9m25 0h9m170 0h8m179 0h8m-391 2h9m357 0h8m-484 2h8m51 0h9m34 0h8m-8 2h8m17 0h9m255 0h8m9 0h8m94 0h8m26 0h8m-501 2h8m298 0h8m-348 2h8m485 0h8m-561 2h9m161 0h9m-179 2h9m161 0h9m8 0h9m229 0h9m-366 2h9m25 0h9m280 0h9m102 0h8m51 0h9m17 0h8m-544 2h9m323 0h8m94 0h8m26 0h8m-569 2h8m102 0h9m59 0h9m416 0h9m-451 2h9m8 0h9m391 0h8m-408 2h9m42 0h9m187 0h8m170 0h9m-680 2h8m85 0h9m110 0h9m17 0h8m442 0h9m-459 2h17m382 0h9m25 0h9m8 0h9m-570 2h17m17 0h9m25 0h9m348 0h9m85 0h8m-620 2h8m17 0h9m76 0h9m331 0h9m144 0h9m51 0h17m-680 2h8m85 0h9m93 0h17m451 0h8m9 0h8m26 0h8m-773 2h8m111 0h8m77 0h25m34 0h17m315 0h8m238 0h9m-697 2h8m9 0h8m60 0h17m450 0h9m8 0h9m34 0h8m43 0h8m60 0h8m-901 2h9m17 0h8m43 0h8m9 0h25m9 0h8m17 0h9m42 0h9m51 0h8m102 0h9m229 0h9m-544 2h8m85 0h9m59 0h17m60 0h8m408 0h9m34 0h8m-705 2h8m34 0h17m68 0h9m76 0h9m212 0h9m255 0h8m-748 2h17m128 0h8m9 0h8m94 0h8m349 0h8m68 0h9m17 0h8m34 0h9m17 0h8m-790 2h8m60 0h8m60 0h17m34 0h8m502 0h8m60 0h8m17 0h9m8 0h9m76 0h9m-944 2h17m9 0h8m26 0h17m25 0h9m161 0h17m247 0h8m60 0h8m77 0h8m68 0h9m51 0h8m34 0h17m-595 2h9m459 0h8m34 0h26m42 0h9m34 0h8m-922 2h4m51 0h9m51 0h17m68 0h8m60 0h8m425 0h9m25 0h9m8 0h9m34 0h8m9 0h8m26 0h8m26 0h8m60 0h8m-323 2h9m93 0h9m76 0h17m68 0h9m-914 2h13m68 0h8m77 0h8m34 0h9m59 0h9m416 0h17m94 0h8m77 0h8m26 0h8m-918 2h9m8 0h17m34 0h9m25 0h9m42 0h9m501 0h9m59 0h9m68 0h8m34 0h17m-833 2h17m68 0h9m8 0h9m68 0h8m476 0h17m17 0h9m25 0h9m51 0h8m17 0h9m8 0h9m59 0h9m-910 2h9m25 0h9m17 0h8m111 0h8m17 0h9m425 0h8m51 0h9m68 0h8m17 0h26m25 0h9m25 0h9m34 0h8m-943 2h8m170 0h9m425 0h8m102 0h9m8 0h9m127 0h9m-901 2h8m34 0h9m85 0h17m68 0h8m468 0h8m26 0h8m9 0h8m9 0h8m17 0h9m-829 2h4m17 0h9m144 0h9m17 0h8m51 0h9m552 0h9m42 0h9m8 0h9m25 0h9m34 0h17m25 0h10m-996 2h9m34 0h8m60 0h8m17 0h9m42 0h9m17 0h8m468 0h8m9 0h17m59 0h17m9 0h8m17 0h17m34 0h9m8 0h9m34 0h8m-867 2h17m9 0h8m94 0h8m43 0h8m391 0h9m153 0h8m85 0h9m-884 2h8m34 0h9m17 0h8m145 0h8m400 0h8m230 0h8m9 0h8m-816 2h17m51 0h9m51 0h8m485 0h17m42 0h9m127 0h26m17 0h18m-741 2h9m17 0h8m408 0h17m9 0h8m179 0h8m-892 2h8m26 0h17m8 0h9m59 0h9m42 0h9m25 0h9m374 0h8m136 0h9m51 0h8m102 0h9m-952 2h8m102 0h9m178 0h9m212 0h9m195 0h9m-561 2h8m553 0h8m9 0h8m111 0h8m34 0h9m8 0h9m17 0h17m-978 2h9m8 0h9m102 0h8m77 0h8m34 0h9m544 0h8m68 0h9m17 0h17m25 0h17m-909 2h8m34 0h9m85 0h8m60 0h8m17 0h9m442 0h8m119 0h9m8 0h9m25 0h9m8 0h9m59 0h10m-307 2h17m25 0h9m76 0h9m119 0h8m26 0h8m-875 2h8m85 0h9m416 0h9m93 0h9m34 0h8m85 0h9m17 0h8m17 0h9m-230 2h9m187 0h8m77 0h8m-756 2h17m518 0h9m42 0h9m25 0h9m85 0h8m26 0h8m-850 2h9m85 0h8m60 0h8m383 0h8m111 0h8m17 0h9m25 0h9m102 0h8m-994 2h17m51 0h17m671 0h9m102 0h8m-841 2h8m85 0h9m535 0h9m25 0h9m68 0h8m9 0h8m179 0h8m-986 2h9m875 0h9m34 0h8m-935 2h9m867 0h8m-884 2h9m773 0h9m51 0h8m111 0h8m17 0h10m-911 2h9m42 0h9m25 0h9m17 0h8m731 0h9m-910 2h9m17 0h8m17 0h9m671 0h9m212 0h10m-732 2h8m442 0h9m68 0h8m128 0h8m43 0h8m-858 2h8m102 0h9m17 0h8m706 0h8m-918 2h9m697 0h8m9 0h8m17 0h9m93 0h9m-663 2h8m527 0h9m8 0h9m25 0h9m17 0h8m34 0h9m-842 2h9m680 0h8m17 0h9m59 0h9m34 0h8m-773 2h8m646 0h17m51 0h9m102 0h8m-884 2h9m612 0h8m-705 2h8m43 0h8m162 0h8m604 0h8m-833 2h9m85 0h8m77 0h8m26 0h8m536 0h8m102 0h9m51 0h8m-909 2h8m77 0h8m34 0h9m34 0h8m17 0h9m637 0h9m-774 2h9m127 0h9m8 0h9m399 0h9m263 0h9m-969 2h8m68 0h9m85 0h8m553 0h8m34 0h17m-820 2h4m51 0h9m51 0h8m655 0h8m94 0h8m26 0h8m43 0h8m-926 2h8m179 0h17m501 0h9m34 0h8m162 0h8m9 0h8m-782 2h9m493 0h8m26 0h8m77 0h8m77 0h8m-918 2h9m93 0h9m34 0h8m136 0h9m484 0h9m212 0h10m-987 2h8m60 0h8m136 0h9m501 0h9m102 0h8m34 0h9m25 0h9m-884 2h8m51 0h9m161 0h9m544 0h8m34 0h9m-791 2h9m17 0h8m570 0h8m255 0h9m-842 2h9m51 0h8m553 0h8m60 0h8m43 0h8m-867 2h9m170 0h8m34 0h9m552 0h9m187 0h18m-902 2h8m119 0h9m518 0h9m59 0h9m-808 2h9m42 0h9m76 0h9m8 0h9m68 0h8m553 0h8m34 0h9m42 0h9m76 0h10m-1013 2h9m714 0h8m26 0h8m17 0h9m-723 2h9m8 0h9m-94 2h9m119 0h8m26 0h8m77 0h8m502 0h8m102 0h9m-765 2h8m723 0h8m77 0h25m26 0h8m-990 2h4m9 0h8m230 0h8m510 0h9m8 0h9m42 0h9m161 0h10m-911 2h9m187 0h8m442 0h9m144 0h9m51 0h17m8 0h9m-999 2h4m145 0h17m697 0h8m26 0h8m60 0h8m9 0h8m-892 2h8m655 0h8m60 0h8m17 0h9m59 0h9m34 0h8m9 0h17m-765 2h8m493 0h9m25 0h9m102 0h17m17 0h8m9 0h8m-705 2h8m43 0h8m544 0h9m51 0h8m9 0h8m-51 2h9m51 0h8m17 0h9m-842 2h9m110 0h9m552 0h26m102 0h8m9 0h8m-943 2h8m26 0h8m111 0h8m68 0h9m552 0h9m25 0h9m51 0h8m17 0h9m-825 2h9m756 0h9m8 0h9m85 0h8m-867 2h9m34 0h8m9 0h8m94 0h8m578 0h9m-867 2h17m42 0h9m102 0h8m60 0h8m485 0h8m9 0h8m9 0h8m-510 2h9m493 0h8m-756 2h8m9 0h17m153 0h8m587 0h8m51 0h9m34 0h8m-782 2h9m17 0h17m17 0h8m34 0h9m-153 2h8m34 0h17m-136 2h9m246 0h9m8 0h9m561 0h17m-799 2h8m26 0h17m8 0h9m17 0h8m51 0h9m51 0h8m434 0h8m60 0h8m17 0h9m-808 2h9m25 0h9m34 0h8m77 0h17m42 0h9m17 0h8m493 0h17m9 0h8m-756 2h8m9 0h8m102 0h9m552 0h17m43 0h8m51 0h9m-863 2h4m9 0h8m43 0h17m42 0h9m34 0h8m26 0h17m25 0h9m8 0h9m51 0h8m476 0h9m-799 2h8m17 0h9m110 0h9m85 0h34m510 0h8m-773 6h8m238 0h9m416 0h9m8 0h9m34 0h8m9 0h8m-569 2h8m-17 2h9m42 0h17m9 0h8m-8 2h8m-161 2h8m162 0h8m400 0h17m42 0h9m-655 2h9m637 0h9m8 0h9m-502 2h9m433 0h9m34 0h8m-467 2h8m-229 2h8m179 0h8m9 0h25m-153 2h9m25 0h9m-204 2h8m17 0h9m178 0h9m527 0h8m-705 2h8m77 0h8m51 0h9m25 0h9m476 0h8m-722 2h8m264 0h8m9 0h8m417 0h8m43 0h8m-518 2h8m34 0h9m408 0h8m34 0h9m25 0h9m-595 2h8m60 0h17m442 0h17m-748 2h8m34 0h9m204 0h8m26 0h8m417 0h8m43 0h25m-85 2h9m-646 2h8m162 0h8m34 0h9m8 0h9m408 0h17m42 0h9m-697 2h17m76 0h9m51 0h8m26 0h17m408 0h17m17 0h17m8 0h17m9 0h8m-756 2h8m247 0h8m434 0h8m-739 2h8m51 0h9m144 0h9m-230 2h9m8 0h9m34 0h8m26 0h8m94 0h8m94 0h8m-221 2h17m77 0h8m77 0h8m34 0h9m425 0h8m-722 2h8m128 0h8m17 0h9m535 0h9m34 0h8m26 0h8m-637 2h17m42 0h9m484 0h9m42 0h9m-774 2h9m25 0h9m34 0h8m9 0h8m119 0h9m42 0h9m450 0h26m8 0h17m-688 2h8m17 0h9m59 0h9m544 0h8m17 0h9m-680 2h8m621 0h8m9 0h8m60 8h8m-59 4h8m17 0h9m17 0h8m-25 2h8m-34 4h9m51 0h8m-42 2h8m17 0h9m-102 2h8m34 0h9m25 0h9m-85 2h8m9 0h8m51 0h9m-60 2h9m93 0h17m-68 4h9m25 0h9m17 0h8m-51 4h9m42 0h9m0 2h8m17 0h9m-17 2h8m0 2h9m34 0h8m-34 2h9m-26 2h9m8 2h9m8 4h9"/>
<path stroke="#4e0080" d="M317 325h8m825 10h8m-136 2h9m144 2h10m-129 2h9m85 0h8m-824 2h8m697 0h17m111 0h8m-76 2h8m-901 2h9m42 0h9m68 0h8m697 0h9m42 0h9m59 0h9m-876 2h9m34 0h8m553 0h17m102 0h8m85 0h9m-833 2h8m621 0h8m238 0h9m-999 2h4m791 0h8m77 0h8m17 0h9m59 0h9m-893 2h9m85 0h8m553 0h8m119 0h9m68 0h8m-901 2h9m76 0h9m510 0h8m153 0h17m9 0h8m94 0h8m9 0h8m-960 2h8m136 0h9m663 0h8m51 0h9m68 0h8m9 0h8m-986 2h9m42 0h9m42 0h9m119 0h8m544 0h9m204 0h8m-1007 2h4m34 0h17m162 0h8m459 0h9m8 0h17m17 0h9m110 0h9m17 0h8m34 0h9m34 0h17m-944 2h17m714 0h17m94 0h8m34 0h9m34 0h8m26 0h8m-1007 2h4m77 0h8m43 0h8m9 0h8m85 0h9m-230 2h9m17 0h8m230 0h8m519 0h8m34 0h9m51 0h8m26 0h8m-956 2h4m43 0h8m34 0h9m8 0h9m187 0h8m255 0h9m85 0h8m9 0h8m9 0h8m94 0h8m119 0h9m-918 2h8m102 0h9m102 0h8m60 0h8m162 0h8m187 0h9m170 0h8m9 0h8m26 0h17m34 0h8m-909 2h17m17 0h8m9 0h8m43 0h8m34 0h9m102 0h8m306 0h9m85 0h8m43 0h8m51 0h9m-621 2h9m25 0h9m25 0h9m365 0h9m51 0h17m17 0h8m17 0h9m51 0h8m34 0h9m17 0h8m-858 2h17m110 0h9m17 0h8m153 0h9m204 0h8m94 0h8m43 0h8m17 0h9m51 0h25m17 0h9m-825 2h9m17 0h8m9 0h8m43 0h8m94 0h17m527 0h8m-595 2h9m442 0h8m26 0h17m-468 2h9m8 0h9m416 0h9m-400 2h9m331 0h9m17 0h8m26 0h8m-416 2h8m272 2h9m110 0h9m25 0h9m-476 2h8m17 0h9m246 0h9m110 0h9m8 0h9m-357 2h8m298 0h8m17 0h9m34 0h8m-442 2h9m34 0h8m247 0h8m34 0h9m8 0h9m17 0h8m26 0h25m9 0h17m-451 2h9m42 0h9m51 0h8m128 0h8m68 0h9m42 0h9m17 0h17m-400 2h9m229 0h9m8 0h9m85 0h8m-357 2h9m8 0h17m94 0h8m221 0h17m34 0h9m-400 2h9m42 0h9m136 0h8m51 0h9m42 0h9m42 0h9m-417 2h9m229 0h9m-204 2h8m400 0h8m-416 2h8m26 0h8m77 0h8m77 0h8m17 0h17m-272 2h9m212 0h17m9 0h8m17 0h9m161 0h9m-417 2h9m178 0h9m51 0h8m43 0h17m59 0h9m-306 2h17m178 0h9m110 0h9m8 0h9m-442 2h8m26 0h8m204 0h9m85 0h8m77 0h8m-374 2h17m221 0h9m136 0h8m-425 2h9m212 0h9m144 0h9m-298 2h9m178 0h9m51 0h8m51 0h9m8 0h9m-366 2h9m187 0h8m17 0h9m85 0h8m26 0h8m-399 2h8m9 0h8m255 0h9m-247 2h9m221 0h8m43 0h8m60 0h8m-425 2h17m340 0h9m68 0h8m-136 2h9m-315 2h9m42 0h9m17 0h8m306 0h9m-425 2h8m26 0h17m34 0h8m94 0h8m51 0h9m76 0h9m110 0h9m-485 2h9m59 0h17m9 0h8m204 0h9m51 0h8m9 0h8m17 0h9m-340 2h8m43 0h8m60 0h8m-229 2h8m77 0h8m43 0h8m187 0h9m85 0h17m59 0h9m-306 2h8m68 0h9m170 0h8m26 0h8m-450 2h8m43 0h8m264 0h8m26 0h8m77 0h8m-467 2h8m281 0h8m17 0h9m-289 2h8m68 0h9m153 0h8m68 0h9m93 0h17m-552 2h8m187 0h9m238 0h8m94 0h8m-450 2h8m26 0h8m391 0h9m-510 2h17m42 0h9m42 0h17m17 0h9m195 0h9m85 0h8m26 0h8m-425 2h17m43 0h25m-76 2h8m9 0h8m442 0h9m-621 2h9m518 0h9m-527 2h17m127 0h9m433 0h9m17 0h8m-735 2h4m94 0h8m9 0h8m145 0h8m417 0h17m34 0h8m-663 2h9m42 0h9m17 0h8m119 0h9m382 0h9m34 0h8m9 0h8m-680 2h9m51 0h8m60 0h17m42 0h17m247 0h8m17 0h9m25 0h9m119 0h8m-671 2h8m17 0h9m85 0h8m94 0h8m26 0h8m9 0h8m332 0h8m43 0h8m-714 2h9m8 0h9m93 0h9m17 0h8m17 0h9m510 0h8m85 0h9m17 0h8m43 0h8m26 0h8m-816 2h17m102 0h9m476 0h17m8 0h9m8 0h9m42 0h9m-706 2h17m9 0h17m34 0h8m9 0h8m34 0h9m25 0h9m238 0h8m187 0h9m8 0h9m8 0h9m59 0h9m76 0h9m-893 2h9m136 0h8m51 0h17m493 0h9m17 0h8m145 0h8m-867 2h9m93 0h9m25 0h9m59 0h9m8 0h9m102 0h8m306 0h9m25 0h9m42 0h9m93 0h9m-799 2h8m34 0h9m102 0h8m60 0h8m357 0h9m42 0h9m85 0h8m34 0h9m17 0h8m-875 2h17m8 0h9m85 0h8m17 0h9m8 0h9m42 0h9m85 0h8m400 0h8m43 0h8m51 0h9m17 0h8m-773 2h8m136 0h9m425 0h8m94 0h8m51 0h9m51 0h8m-816 2h9m68 0h8m9 0h8m485 0h8m77 0h8m51 0h9m25 0h9m34 0h8m26 0h8m-939 2h4m26 0h8m9 0h8m51 0h9m34 0h8m85 0h9m518 0h9m17 0h8m196 0h8m-977 2h8m43 0h8m60 0h8m417 0h8m128 0h8m9 0h8m94 0h8m17 0h9m-723 2h9m110 0h9m476 0h8m51 0h17m26 0h8m34 0h9m68 0h8m-739 2h8m34 0h9m467 0h9m76 0h9m59 0h9m-672 2h9m357 0h8m85 0h9m42 0h9m34 0h8m34 0h9m51 0h8m9 0h8m9 0h8m43 0h8m-990 2h4m17 0h9m153 0h8m587 0h8m119 0h9m68 0h8m-990 2h4m213 0h8m17 0h9m476 0h8m17 0h9m68 0h8m68 0h9m25 0h9m-927 2h9m25 0h9m246 0h9m399 0h9m8 0h9m51 0h17m76 0h9m8 0h9m17 0h17m-884 2h17m85 0h17m51 0h8m510 0h9m17 0h8m128 0h8m17 0h17m-714 2h9m450 0h17m17 0h9m68 0h8m17 0h9m59 0h9m-876 2h9m119 0h17m25 0h9m8 0h9m459 0h8m119 0h34m26 0h8m17 0h9m85 0h8m-858 2h17m170 0h8m408 0h9m42 0h9m59 0h9m-833 2h8m60 0h8m179 0h8m374 0h17m102 0h9m8 0h9m17 0h8m153 0h10m-979 2h9m34 0h8m9 0h8m9 0h8m26 0h8m34 0h9m518 0h9m34 0h8m34 0h9m85 0h8m51 0h17m-875 2h8m26 0h8m17 0h17m102 0h9m544 0h8m43 0h17m17 0h8m17 0h9m34 0h8m-816 2h9m127 0h9m510 0h8m26 0h8m26 0h8m60 0h17m8 0h9m-825 2h9m93 0h9m484 0h9m68 0h8m43 0h8m17 0h9m25 0h9m42 0h10m-962 2h9m238 0h8m442 0h9m170 0h17m8 0h9m8 0h9m-952 2h8m60 0h8m162 0h8m26 0h8m459 0h9m93 0h17m51 0h9m17 0h17m-918 2h8m85 0h9m102 0h8m510 0h9m34 0h17m51 0h8m17 0h17m68 0h10m-1017 2h13m25 0h9m34 0h8m230 0h8m408 0h26m68 0h8m85 0h9m25 0h17m-901 2h9m144 0h9m34 0h17m442 0h8m9 0h8m179 0h8m51 0h9m-999 2h4m60 0h8m94 0h8m9 0h8m51 0h9m578 0h8m102 0h9m17 0h8m-680 2h9m416 0h9m17 0h17m17 0h8m145 0h8m26 0h8m17 0h9m-986 2h8m43 0h8m26 0h8m646 0h9m110 0h9m34 0h8m77 0h8m-943 2h8m43 0h8m43 0h17m552 0h9m34 0h8m94 0h8m60 0h8m-943 2h8m26 0h8m111 0h17m8 0h9m17 0h8m476 0h9m-612 2h8m145 0h8m553 0h17m93 0h9m8 0h9m-833 2h8m578 0h9m59 0h9m136 0h8m-884 2h9m17 0h8m26 0h8m60 0h8m43 0h8m655 0h8m34 0h9m-774 2h9m544 0h8m111 0h8m26 0h8m26 0h8m68 0h26m-901 2h8m204 0h9m416 0h9m229 0h9m25 0h10m-979 2h17m663 0h9m51 0h8m68 0h9m119 0h17m-884 2h8m153 0h17m510 0h9m195 0h10m-1004 2h8m119 0h9m144 0h9m544 0h8m26 0h8m0 2h9m-638 2h9m544 0h8m34 0h9m51 0h8m26 0h17m8 0h9m-748 2h8m459 0h9m68 0h8m68 0h9m34 0h8m85 0h9m8 0h10m-979 2h9m204 0h8m51 0h9m416 0h9m25 0h9m68 0h8m43 0h8m34 0h9m-948 2h4m9 0h8m17 0h9m8 0h9m8 0h9m59 0h9m8 0h9m595 0h8m230 0h8m-790 2h8m34 0h9m25 0h9m561 0h8m17 0h17m26 0h8m-875 2h8m68 0h9m85 0h17m629 0h8m77 0h8m-824 2h8m60 0h8m502 0h8m94 0h17m25 0h9m68 0h17m8 0h17m-969 2h9m8 0h17m43 0h8m170 0h9m442 0h8m94 0h8m43 0h8m60 0h8m-935 2h9m136 0h8m94 0h8m34 0h9m620 0h9m51 0h18m-962 2h9m195 0h9m484 0h9m221 0h25m-901 2h9m25 0h9m42 0h9m25 0h9m59 0h9m493 0h8m85 0h9m76 0h9m-170 2h8m51 0h9m76 0h9m-859 2h9m17 0h8m111 0h8m502 0h8m128 0h17m25 0h9m17 0h8m-833 2h9m76 2h9m42 0h9m518 0h9m85 0h8m43 0h8m-956 2h4m17 0h9m42 0h9m195 0h9m493 0h8m153 0h17m26 0h8m9 0h18m-996 2h9m153 0h8m621 0h8m77 0h8m94 0h8m-986 2h9m34 0h8m196 0h8m17 0h9m433 0h9m229 0h9m-799 2h8m34 0h9m42 0h9m484 0h9m-748 2h8m748 0h9m110 0h9m-850 2h8m136 0h9m42 0h9m8 0h9m586 0h9m76 0h9m-748 2h8m502 0h8m119 0h9m76 0h9m-842 2h9m34 0h8m68 0h9m467 0h9m34 0h8m-752 2h4m9 0h8m238 0h9m34 0h8m442 0h9m178 0h9m-948 2h4m51 0h9m119 0h8m9 0h8m570 0h8m43 0h8m51 0h9m17 0h8m-799 2h9m42 0h9m51 0h8m34 0h9m450 0h9m110 0h9m8 0h9m76 0h9m-944 2h9m170 0h8m-204 2h9m204 0h17m17 0h8m17 0h9m561 0h8m68 0h9m-927 2h9m153 0h8m102 0h9m8 0h9m433 0h9m8 0h9m-706 2h9m102 0h17m578 0h8m51 0h9m34 0h8m-850 2h9m93 0h9m17 0h8m9 0h8m68 0h9m42 0h17m-59 2h8m468 0h8m94 0h17m-765 2h8m17 0h9m17 0h8m17 0h9m17 0h8m544 0h17m51 0h17m26 0h8m-782 2h9m102 0h17m8 0h9m17 0h8m9 0h8m519 0h8m26 0h17m-829 2h4m9 0h8m9 0h8m94 0h8m94 0h8m26 0h8m34 0h9m416 0h9m-706 2h9m17 0h8m34 0h17m17 0h9m51 0h8m26 0h8m468 0h8m34 0h9m93 0h9m-859 2h9m289 0h8m451 0h8m-739 2h8m102 0h9m25 0h9m93 0h9m425 0h8m43 0h8m9 0h8m-688 2h8m136 0h9m484 0h9m17 0h8m-518 6h8m43 0h8m9 0h8m-34 2h9m-9 2h9m-43 2h9m8 2h9m501 0h9m-519 2h9m25 0h9m-17 2h8m-8 2h8m493 0h9m-102 2h17m-655 2h9m204 2h8m17 0h9m-9 2h9m391 0h8m-586 2h8m85 0h9m42 0h9m450 0h9m8 0h9m-459 2h8m400 0h8m17 2h9m25 0h17m-561 2h9m-221 4h8m723 0h8m26 0h8m-773 4h8m255 0h9m433 0h26m59 0h9m-638 2h9m8 0h9m85 0h8m434 0h17m59 0h9m-799 2h8m136 0h9m42 0h9m569 0h9m-774 2h9m144 0h9m76 0h9m34 0h8m408 0h9m34 0h8m-697 2h9m76 0h9m59 0h9m34 0h8m17 0h9m-289 2h8m9 0h8m255 0h9m501 0h9m-782 2h17m25 0h9m59 0h9m110 0h9m-264 2h9m68 0h8m43 0h8m595 0h17m68 2h9m-740 2h9m671 0h9m-672 2h9m17 0h8m578 0h9m42 0h9m-706 2h9m680 0h8m-42 2h8m0 2h9m8 0h9m17 0h8m-42 2h8m60 0h8m-76 2h8m26 0h25m-17 2h9m-17 2h8m26 0h17m-34 4h17m17 0h8m26 0h8m-93 2h8m-34 2h9m93 0h9m-94 2h9m8 0h9m34 0h8m34 0h9m-51 2h8m-25 2h8m34 0h9m8 0h9m-17 2h8m26 4h8m-102 2h9m85 2h8m26 0h8m-25 2h8m26 0h8m9 0h8m0 2h9m-68 2h8m85 4h10"/>
<path stroke="#4f008d" d="M963 325h8m-773 4h8m43 4h8m833 6h9m-179 2h9m85 0h8m-748 2h9m195 0h9m603 0h9m76 0h10m-1013 2h9m68 0h8m621 0h8m179 0h8m34 0h9m59 0h10m-171 2h8m43 0h17m25 0h9m-884 2h8m77 0h8m493 0h9m25 0h9m272 0h8m17 0h9m-901 2h8m17 0h9m59 0h9m552 0h9m246 0h10m-265 2h9m25 0h9m17 0h8m68 0h17m9 0h25m68 0h10m-962 2h9m85 0h8m34 0h9m518 0h9m204 0h8m43 0h25m-943 2h17m8 0h17m17 0h9m476 0h8m34 0h9m178 0h9m-825 2h9m25 0h9m34 0h8m26 0h8m536 0h8m60 0h25m9 0h8m17 0h9m93 0h9m25 0h9m8 0h9m8 0h9m-859 2h9m42 0h9m25 0h17m383 0h8m34 0h9m161 0h9m51 0h17m8 0h9m8 0h9m17 0h8m9 0h8m-960 2h8m102 0h9m76 0h9m476 0h8m17 0h9m17 0h8m43 0h8m9 0h8m17 0h9m25 0h9m34 0h8m68 0h9m8 0h10m-1004 2h17m161 0h9m272 0h8m187 0h9m136 0h8m9 0h8m51 0h9m51 0h8m-884 2h9m42 0h9m433 0h9m59 0h9m102 0h8m68 0h9m34 0h17m25 0h9m17 0h8m17 0h9m42 0h10m-987 2h17m42 0h9m68 0h8m391 0h9m102 0h8m68 0h17m77 0h8m34 0h17m51 0h9m8 0h9m-952 2h8m119 0h9m42 0h9m76 0h9m323 0h8m136 0h9m8 0h9m51 0h17m-833 2h17m42 0h17m68 0h9m42 0h9m272 0h8m136 0h9m59 0h9m59 0h17m26 0h8m85 0h9m42 0h9m-982 2h4m68 0h9m25 0h9m25 0h9m25 0h9m25 0h9m17 0h8m230 0h8m60 0h8m34 0h9m93 0h9m59 0h9m25 0h9m8 0h9m76 0h9m25 0h9m17 0h8m51 0h10m-996 2h9m17 0h17m34 0h8m77 0h8m136 0h9m204 0h8m17 0h9m161 0h9m42 0h9m25 0h9m25 0h9m-850 2h8m85 0h17m34 0h9m51 0h17m8 0h26m229 0h9m42 0h9m25 0h9m51 0h8m9 0h17m25 0h9m34 0h8m43 0h8m-654 2h25m17 0h17m255 0h9m76 0h9m17 0h8m26 0h8m213 0h8m-561 2h17m9 0h8m204 0h9m85 0h8m230 0h8m-535 2h8m281 0h8m17 0h9m17 0h8m-408 2h9m238 0h8m153 0h9m-425 2h8m17 0h9m25 0h9m331 0h9m-374 2h8m17 0h9m34 0h8m26 0h8m-119 2h9m8 0h9m357 0h8m-399 2h8m34 0h9m144 0h9m170 0h8m9 0h17m-332 2h9m238 0h8m17 0h9m17 0h8m-374 2h9m34 0h17m272 0h17m59 0h9m-391 2h8m9 0h8m238 0h9m25 0h9m68 0h8m-357 2h9m195 0h9m42 0h9m68 0h8m-340 2h9m25 0h9m204 0h8m26 0h8m51 0h9m-332 2h9m25 0h9m110 0h9m110 0h9m8 0h17m-340 2h9m153 0h8m9 0h8m9 0h8m17 0h9m42 0h9m93 0h9m-400 2h9m365 0h9m17 0h8m-323 2h9m178 0h9m25 0h17m68 0h9m-383 2h9m110 0h9m255 0h8m-212 2h8m9 0h8m153 0h9m-357 2h8m17 0h17m323 0h9m-383 2h9m136 0h8m9 0h8m43 0h8m9 0h8m85 0h9m8 0h9m-306 2h8m128 0h17m34 0h8m60 0h25m51 0h9m-340 2h8m128 0h8m34 0h9m42 0h9m42 0h17m17 0h9m-400 2h9m51 0h8m17 0h9m212 0h9m25 0h9m-145 2h9m85 0h8m-85 2h9m85 0h8m34 0h9m-162 2h9m119 0h8m51 0h9m-111 2h9m51 0h8m17 0h9m8 0h9m-153 2h8m77 0h8m60 0h8m-357 2h9m17 0h8m111 0h8m9 0h8m145 0h8m9 0h17m17 0h8m-391 2h9m8 0h9m170 0h8m34 0h9m42 0h9m17 0h8m51 0h9m8 0h9m-349 2h9m161 0h9m-247 2h17m111 0h8m85 0h9m59 0h9m17 0h8m-297 2h8m68 0h9m68 0h8m111 0h8m-289 2h9m8 0h9m25 0h9m8 0h9m153 0h17m-264 2h9m25 0h9m195 0h9m25 0h9m-264 2h9m221 0h17m76 0h9m59 0h17m-399 2h8m136 0h9m34 0h8m60 0h8m-442 2h9m144 0h9m306 0h8m-297 2h8m51 0h9m93 0h9m8 0h9m42 0h9m59 0h9m-357 2h8m17 0h9m25 0h9m348 0h9m25 0h9m-434 2h26m34 0h8m136 0h9m204 0h8m-569 2h8m68 0h9m17 0h8m17 0h9m85 0h8m289 0h9m59 0h9m8 0h9m-621 2h9m484 0h9m68 0h17m-604 2h9m76 0h9m59 0h17m340 0h9m17 0h17m-442 2h8m34 0h9m238 0h8m187 0h9m8 0h9m-697 2h8m51 0h9m161 0h9m255 0h8m94 0h8m-408 2h9m8 0h9m17 0h8m17 0h9m433 0h9m-697 2h8m34 0h9m144 0h9m357 0h8m-633 2h4m60 0h8m60 0h8m111 0h8m272 0h9m93 0h9m161 0h9m-604 2h17m43 0h8m17 0h26m365 0h9m102 0h8m-578 2h9m76 0h9m314 0h9m42 0h9m-612 2h8m60 0h8m94 0h8m34 0h9m365 0h9m51 0h8m26 0h8m51 0h9m34 0h8m-867 2h9m8 0h9m34 0h8m221 0h9m348 0h9m229 0h9m102 0h8m-935 2h9m17 0h8m85 0h9m17 0h8m34 0h9m34 0h8m332 0h8m17 0h17m111 0h8m102 0h9m-842 2h17m17 0h9m25 0h9m34 0h8m26 0h17m42 0h17m43 0h8m136 0h9m170 0h8m51 0h9m17 0h8m9 0h8m17 0h9m119 0h8m-841 2h8m34 0h9m85 0h17m51 0h8m306 0h9m76 0h9m119 0h8m-799 2h9m8 0h9m17 0h8m102 0h9m42 0h9m34 0h25m26 0h8m213 0h8m119 0h9m8 0h9m8 0h9m8 0h26m178 0h9m-931 2h13m8 0h9m272 0h8m34 0h9m136 0h8m238 0h9m93 0h9m85 0h8m-935 2h9m34 0h8m51 0h9m8 0h9m51 0h8m502 0h8m85 0h9m-723 2h9m42 0h17m102 0h9m42 0h9m382 0h9m25 0h9m17 0h8m34 0h17m9 0h8m43 0h8m-833 2h9m42 0h17m638 0h8m68 0h9m17 0h8m26 0h8m-748 2h9m102 0h17m8 0h9m59 0h9m399 0h9m8 0h9m17 0h8m26 0h17m102 0h8m17 0h9m-910 2h9m68 0h8m9 0h8m34 0h9m42 0h9m442 0h8m119 0h9m42 0h17m94 0h8m-977 2h8m68 0h9m85 0h8m43 0h8m485 0h17m76 0h9m-842 2h9m42 0h9m59 0h9m119 0h8m60 0h8m340 0h9m93 0h9m8 0h9m17 0h8m26 0h17m59 0h9m-859 2h9m34 0h25m578 0h17m68 0h9m42 0h9m-863 2h4m77 0h8m9 0h8m595 0h9m17 0h8m17 0h9m93 0h9m119 0h8m-969 2h9m68 0h8m17 0h9m8 0h9m144 0h9m544 0h8m51 0h9m42 0h9m-910 2h9m8 0h9m42 0h9m76 0h9m76 0h9m238 0h8m213 0h8m60 0h8m34 0h17m9 0h8m-833 2h9m42 0h17m85 0h9m578 0h8m26 0h8m26 0h8m26 0h8m60 0h8m-986 2h9m178 0h9m59 0h9m17 0h8m408 0h9m25 0h9m178 0h9m-931 2h4m85 0h9m17 0h8m43 0h8m102 0h9m17 0h8m459 0h17m51 0h9m8 0h9m93 0h9m17 0h8m-969 2h9m93 0h9m102 0h8m17 0h9m42 0h9m501 0h9m76 0h9m-850 2h17m51 0h17m68 0h8m587 0h8m94 0h8m-841 2h17m34 0h8m34 0h9m25 0h17m60 0h8m434 0h8m43 0h17m25 0h9m76 0h17m9 0h8m51 0h9m-995 2h9m85 0h17m34 0h8m34 0h9m85 0h8m417 0h8m9 0h8m43 0h8m9 0h8m85 0h9m8 0h9m42 0h9m-876 2h9m8 0h9m17 0h8m9 0h8m136 0h9m467 0h9m8 0h9m25 0h9m51 0h17m34 0h8m-939 2h4m51 0h9m76 0h9m85 0h8m17 0h9m246 0h9m255 0h8m68 0h9m17 0h8m9 0h8m34 0h9m8 0h9m-952 2h8m94 0h8m26 0h8m68 0h9m518 0h9m25 0h9m51 0h8m26 0h8m68 0h9m25 0h9m-893 2h9m42 0h17m60 0h8m68 0h9m348 0h9m25 0h9m85 0h8m34 0h9m-680 2h8m9 0h8m128 0h8m442 0h9m17 0h8m162 0h8m-943 2h8m145 0h25m34 0h9m476 0h8m9 0h8m119 0h9m25 0h9m-850 2h8m9 0h8m9 0h8m9 0h8m153 0h9m425 0h8m68 0h9m136 0h17m8 0h9m25 0h9m-706 2h9m433 0h9m8 0h9m25 0h9m8 0h9m136 0h8m-807 2h8m578 0h9m42 0h9m34 0h8m17 0h9m8 0h9m51 0h8m9 0h17m42 0h10m-860 2h9m34 0h8m17 0h9m484 0h9m102 0h8m51 0h9m51 0h8m-722 2h8m26 0h8m459 0h9m25 0h9m8 0h9m85 0h8m34 0h9m-867 2h8m17 0h9m620 0h9m25 0h9m93 0h9m51 0h17m25 0h9m25 0h9m-999 2h4m111 0h8m43 0h17m51 0h25m536 0h8m94 0h8m51 0h9m-799 2h8m26 0h8m9 0h8m536 0h8m68 0h9m59 0h17m9 0h8m43 0h8m-807 2h8m17 0h9m42 0h9m42 0h9m382 0h9m76 0h9m68 0h8m26 0h8m9 0h8m-816 2h9m663 0h8m43 0h8m94 0h8m43 0h8m-892 2h8m85 0h9m68 0h17m493 0h8m34 0h9m178 0h10m-1004 2h8m153 0h9m34 0h8m34 0h9m25 0h9m484 0h9m136 0h8m34 0h9m-935 2h8m9 0h8m9 0h8m9 0h8m51 0h9m765 0h8m-918 2h9m705 0h9m93 0h9m59 0h9m59 0h9m8 0h9m-995 2h9m59 0h9m221 0h8m9 0h8m519 0h8m102 0h17m34 0h10m-1004 2h8m9 0h8m145 0h17m552 0h9m68 0h8m102 0h9m34 0h8m9 0h8m-935 2h9m51 0h8m145 0h8m451 0h8m145 0h8m-816 2h9m17 0h8m51 0h17m570 0h17m153 0h8m34 0h9m-935 2h8m94 0h8m17 0h9m8 0h9m17 0h8m536 0h8m51 0h9m76 0h17m-918 2h9m17 0h8m26 0h8m136 0h9m8 0h9m17 0h8m43 0h8m417 0h8m51 0h9m68 0h8m26 0h8m51 0h17m-102 2h17m51 0h9m42 0h9m-978 2h9m59 0h9m42 0h9m34 0h8m111 0h8m391 0h9m187 0h8m43 0h8m51 0h10m-1013 2h9m68 0h8m204 0h9m442 0h8m43 0h8m9 0h17m59 0h9m17 0h8m9 0h8m34 0h9m-952 2h17m68 0h17m93 0h9m17 0h8m544 0h9m68 0h8m-841 2h17m42 0h9m17 0h34m25 0h9m42 0h9m17 0h8m502 0h8m26 0h8m43 0h8m9 0h8m34 0h9m8 0h9m-808 2h9m25 0h9m59 0h9m637 0h17m17 0h17m-807 2h8m111 0h8m459 0h9m59 0h9m34 0h17m119 0h8m-969 2h9m161 0h9m8 0h9m663 0h8m60 0h8m9 0h17m-944 2h9m8 0h9m102 0h8m17 0h9m51 0h8m17 0h9m518 0h9m59 0h9m25 0h9m34 0h8m-884 2h9m25 0h9m8 0h9m8 0h9m8 0h9m68 0h8m34 0h9m42 0h9m416 0h9m68 0h17m17 0h8m17 0h9m8 0h9m25 0h17m-939 2h4m9 0h8m60 0h17m59 0h9m17 0h17m544 0h8m111 0h8m9 0h8m9 0h17m-876 2h9m119 0h8m128 0h8m434 0h8m34 0h9m-782 2h25m51 0h9m102 0h8m502 0h8m34 0h9m8 0h9m8 0h9m25 0h9m42 0h9m8 0h9m42 0h9m51 0h8m-918 2h9m42 0h9m569 0h9m93 0h26m42 0h9m17 0h8m-697 2h9m34 0h8m34 0h9m518 0h9m8 0h9m-774 2h17m111 0h8m527 0h9m25 0h9m25 0h9m-816 2h8m43 0h17m93 0h9m76 0h9m484 0h9m25 0h17m43 0h8m9 0h8m-824 2h8m43 0h8m621 0h8m85 0h17m-807 2h17m93 0h17m17 0h9m59 0h9m8 0h17m9 0h8m9 0h8m493 0h17m17 0h17m-854 2h4m77 0h8m646 0h9m85 0h8m9 0h8m26 0h8m-875 2h8m17 0h9m42 0h9m17 0h8m9 0h17m620 0h9m68 0h8m-850 2h9m59 0h26m17 0h8m153 0h9m25 0h9m416 0h17m43 0h8m17 0h9m17 0h8m-799 2h17m145 0h17m68 0h8m459 0h9m-748 2h8m43 0h8m51 0h9m8 0h9m102 0h8m26 0h8m485 0h8m-748 2h26m161 0h26m493 0h8m43 0h8m17 0h9m-774 2h9m136 0h8m34 0h9m51 0h8m391 0h9m8 0h17m-637 2h25m43 0h8m51 0h26m42 0h9m399 0h9m25 0h9m-655 2h9m76 0h9m93 0h9m416 0h9m25 0h9m-578 2h8m9 0h8m85 0h9m8 0h9m425 0h8m-459 6h9m433 0h9m-434 2h9m-26 4h9m8 0h9m-9 2h9m0 2h8m383 2h8m-8 2h8m-476 2h9m68 2h8m-17 6h9m425 0h8m-51 4h17m68 0h9m-77 2h9m-680 2h8m247 0h8m400 0h8m-416 2h8m425 2h9m-595 2h8m111 0h8m476 2h9m-748 4h8m714 0h9m-740 2h9m136 0h8m-136 2h9m76 0h9m42 0h9m102 0h8m451 0h8m-603 2h8m43 0h8m17 0h9m501 0h9m8 0h9m34 0h8m-748 2h9m17 0h8m85 0h9m34 0h8m68 0h9m467 0h9m-672 2h26m127 0h9m450 0h9m17 0h17m25 0h9m-714 2h8m111 0h8m519 0h8m9 0h8m-25 2h8m17 0h9m42 0h9m-26 2h9m8 0h9m-60 2h9m17 0h8m-25 2h8m34 0h9m-77 2h26m8 0h9m-17 6h8m17 0h9m-17 2h8m-42 2h8m34 0h9m25 2h9m-51 2h8m77 2h17m-85 2h8m17 0h9m-9 2h9m34 0h8m9 0h8m-51 2h9m25 0h9m17 0h8m-68 2h9m34 0h8m17 0h9m-17 2h8m51 2h9m-34 2h8m0 4h9m34 0h8m-25 2h8m17 0h9m17 6h8"/>
<path stroke="#4b00a5" d="M368 207h8m646 122h9m42 2h9m-289 2h8m187 0h9m-570 2h9m620 0h9m-765 2h8m748 0h9m-876 2h9m102 0h8m77 0h8m-221 2h9m187 0h8m604 0h8m17 0h9m51 0h8m-867 2h9m127 0h9m8 0h9m119 0h8m408 0h9m161 0h9m25 0h9m-918 2h8m60 0h8m553 0h8m128 0h8m145 0h8m26 0h17m-935 2h8m43 0h8m153 0h9m493 0h8m34 0h9m51 0h8m43 0h8m17 0h9m-833 2h8m60 0h8m595 0h9m51 0h8m-841 2h8m43 0h17m119 0h8m442 0h9m42 0h17m34 0h9m76 0h9m42 0h9m17 0h8m-901 2h9m51 0h8m26 0h17m85 0h8m340 0h9m136 0h25m9 0h8m170 0h9m17 0h8m26 0h8m-892 2h8m9 0h17m8 0h9m8 0h9m467 0h9m8 0h9m144 0h9m59 0h26m8 0h9m8 0h9m-765 2h8m119 0h9m246 0h9m25 0h9m25 0h9m76 0h9m8 0h9m34 0h8m111 0h8m26 0h8m17 0h9m17 0h17m-969 2h8m9 0h8m94 0h8m34 0h9m42 0h9m34 0h8m332 0h8m26 0h8m43 0h17m59 0h9m85 0h8m9 0h8m94 0h8m-994 2h8m9 0h17m34 0h17m68 0h8m77 0h8m383 0h8m77 0h17m119 0h8m111 0h8m-926 2h8m26 0h17m17 0h8m9 0h8m111 0h8m451 0h8m94 0h8m51 0h17m26 0h8m-935 2h9m102 0h8m17 0h9m17 0h8m68 0h17m374 0h9m297 0h9m-927 2h9m34 0h8m34 0h17m17 0h9m535 0h17m17 0h9m8 0h9m25 0h9m8 0h9m34 0h8m-837 2h4m77 0h8m136 0h9m76 0h9m365 0h9m-680 2h17m68 0h8m17 0h9m42 0h9m17 0h8m60 0h8m366 0h17m25 0h9m110 0h9m17 0h17m51 0h8m-905 2h13m51 0h8m77 0h17m25 0h9m42 0h9m8 0h9m8 0h9m42 0h9m59 0h9m306 0h8m26 0h8m26 0h8m-748 2h9m17 0h8m17 0h9m178 0h26m306 0h8m17 0h9m17 0h8m51 0h17m119 0h9m-850 2h8m51 0h26m34 0h8m9 0h8m17 0h9m17 0h8m9 0h25m17 0h9m280 0h9m34 0h8m34 0h9m42 0h17m77 0h8m60 0h8m-782 2h9m8 0h9m34 0h8m128 0h8m34 0h9m144 0h9m144 0h9m25 0h9m51 0h8m-688 2h8m187 0h9m42 0h9m17 0h8m17 0h9m68 0h8m17 0h9m68 0h8m145 0h8m-442 2h9m85 0h8m153 0h9m51 0h8m34 0h9m34 0h8m34 0h9m-315 2h9m34 0h8m85 0h9m119 0h8m-365 2h8m102 0h9m42 0h9m127 0h9m17 0h8m60 0h8m-136 2h17m34 0h9m25 0h9m8 0h17m-357 2h9m119 0h8m26 0h8m17 0h9m34 0h8m68 0h9m8 0h9m-340 2h8m17 0h9m17 0h8m34 0h9m221 0h8m26 0h8m-331 2h8m60 0h8m51 0h9m42 0h9m17 0h8m119 0h9m25 0h9m-400 2h9m17 0h8m204 0h9m34 0h8m-297 2h8m85 0h9m68 0h17m-162 2h9m178 0h9m17 0h8m9 0h8m43 0h8m34 0h9m-255 2h8m34 0h9m136 0h8m17 0h9m68 0h8m-416 2h8m170 0h9m51 0h8m77 0h8m-17 2h9m76 0h9m-315 2h9m8 0h9m34 0h8m119 0h9m59 0h9m51 0h8m-314 2h17m42 0h9m161 0h9m17 0h8m26 0h8m-348 2h8m68 0h9m119 0h8m43 0h8m9 0h8m34 0h9m25 0h17m-408 2h9m76 0h9m8 0h9m8 0h9m178 0h9m68 0h8m-365 2h8m162 0h8m60 0h8m85 0h9m8 0h9m17 0h8m-374 2h9m17 0h8m34 0h9m25 0h9m59 0h9m34 0h8m51 0h9m34 0h8m17 0h9m-230 2h9m76 0h9m119 0h8m9 0h17m8 0h9m-383 2h9m42 0h9m68 0h8m34 0h9m34 0h8m-187 2h9m51 0h8m51 0h9m144 0h9m-306 2h8m179 0h8m136 0h9m17 0h8m-144 2h8m68 0h17m-306 2h9m187 0h8m85 0h9m17 0h8m-289 2h17m111 0h8m9 0h8m-212 2h8m204 0h9m170 0h8m-399 2h8m51 0h9m8 0h9m161 0h9m59 0h9m8 0h9m34 2h8m-306 2h9m68 0h8m26 0h8m26 0h8m9 0h8m34 0h9m59 0h9m-323 2h8m60 0h8m272 0h9m-315 2h9m119 0h8m26 0h8m94 0h8m-374 2h9m25 0h9m187 0h8m136 0h9m8 0h9m-391 2h8m43 0h17m238 0h8m34 0h9m42 0h9m-383 2h9m272 0h8m43 0h8m9 0h8m43 0h8m-357 2h17m136 0h17m77 0h8m9 0h8m9 0h8m-348 2h17m34 0h8m153 0h9m25 0h9m42 0h9m8 0h9m51 0h8m-382 2h8m26 0h8m170 0h17m9 0h8m17 0h9m-289 2h8m298 0h8m9 0h8m60 0h8m-399 2h8m60 0h8m230 0h8m51 0h17m26 0h8m9 0h8m-85 2h9m51 0h8m-416 2h25m26 0h8m179 0h8m-144 2h8m281 0h17m-383 2h9m229 0h9m51 0h8m111 0h8m-518 2h8m77 0h8m162 0h8m51 0h9m25 0h9m51 0h17m59 0h9m-417 2h9m34 0h8m247 0h8m85 0h17m-340 2h9m119 0h8m34 0h9m59 0h17m119 0h9m-519 2h9m34 0h8m34 0h9m331 0h9m8 0h9m25 0h9m17 0h8m85 0h9m-187 2h8m111 0h8m-714 2h9m136 0h8m306 0h9m93 0h9m-561 2h8m94 0h8m94 0h8m26 0h8m281 0h8m102 0h17m-671 2h8m43 0h8m77 0h17m17 0h17m51 0h8m9 0h8m9 0h17m161 0h9m8 0h9m42 0h9m-408 2h8m9 0h8m77 0h8m9 0h8m434 0h8m-671 2h8m17 0h9m17 0h8m111 0h8m306 0h9m204 0h8m85 0h9m-808 2h9m127 0h9m51 0h8m34 0h9m8 0h9m348 0h9m-676 2h4m111 0h8m85 0h9m42 0h9m25 0h17m221 0h9m93 0h9m68 0h8m162 0h8m-816 2h17m9 0h8m17 0h26m51 0h17m34 0h8m621 0h8m9 0h8m-790 2h8m34 0h9m68 0h17m229 0h9m187 0h8m34 0h9m17 0h8m94 0h8m17 0h9m59 0h9m-935 2h8m34 0h17m26 0h8m9 0h8m9 0h8m145 0h8m9 0h8m281 0h8m51 0h9m17 0h8m26 0h8m136 0h9m-816 2h8m26 0h8m17 0h9m25 0h9m8 0h9m17 0h17m17 0h8m425 0h9m34 0h8m26 0h8m34 0h9m25 0h9m85 0h8m-892 2h8m34 0h9m42 0h17m17 0h9m25 0h9m17 0h8m60 0h8m85 0h9m136 0h8m128 0h8m9 0h8m204 0h9m-867 2h8m26 0h8m26 0h8m34 0h9m85 0h17m76 0h9m263 0h9m17 0h8m77 0h8m9 0h25m162 0h8m-901 2h9m17 0h8m17 0h9m93 0h9m8 0h17m527 0h9m17 0h8m34 0h9m8 0h9m42 0h17m-824 2h8m17 0h9m42 0h9m25 0h17m60 0h8m238 0h9m76 0h9m110 0h9m34 0h8m51 0h9m17 0h8m9 0h8m34 0h9m-880 2h4m26 0h17m93 0h9m136 0h8m510 0h9m17 0h17m110 0h9m-952 2h8m34 0h17m68 0h9m42 0h9m76 0h9m17 0h8m238 0h9m195 0h9m68 0h8m43 0h8m-841 2h8m17 0h9m153 0h8m26 0h8m264 0h8m264 0h8m94 0h8m-918 2h9m17 0h8m17 0h9m17 0h8m17 0h9m17 0h8m459 0h9m102 0h25m34 0h9m-778 2h4m9 0h8m43 0h8m77 0h8m153 0h9m272 0h8m43 0h8m60 0h8m17 0h26m17 0h17m153 0h8m-935 2h9m629 0h8m153 0h17m17 0h9m-850 2h8m34 0h9m17 0h8m111 0h17m8 0h9m8 0h17m391 0h9m68 0h8m9 0h8m60 0h17m144 0h9m-935 2h8m9 0h8m162 0h8m476 0h17m9 0h8m34 0h9m8 0h17m51 0h9m-867 2h8m94 0h8m17 0h17m51 0h9m68 0h8m9 0h8m476 0h9m17 0h8m128 0h8m-935 2h9m17 0h8m51 0h9m34 0h8m17 0h9m51 0h8m34 0h17m17 0h9m374 0h8m34 0h9m76 0h9m17 0h8m34 0h9m-897 2h4m60 0h8m68 0h9m17 0h8m17 0h9m34 0h8m459 0h9m51 0h8m187 0h9m-757 2h34m519 0h8m102 0h9m34 0h8m17 0h17m17 0h9m-952 2h8m26 0h8m43 0h8m94 0h8m43 0h8m502 0h8m17 0h9m34 0h8m9 0h8m34 0h9m25 0h9m-935 2h8m60 0h8m17 0h9m42 0h9m8 0h9m34 0h8m17 0h9m34 0h8m9 0h8m400 0h8m94 0h8m17 0h9m68 0h8m-892 2h8m9 0h8m85 0h9m25 0h9m76 0h9m17 0h8m26 0h8m451 0h8m17 0h9m42 0h9m42 0h26m51 0h8m-977 2h8m94 0h8m60 0h8m51 0h9m17 0h8m459 0h9m17 0h17m68 0h8m26 0h17m17 0h17m25 0h9m-944 2h9m110 0h9m544 0h8m179 0h8m9 0h17m17 0h8m43 0h8m-722 2h8m34 0h9m484 0h9m119 0h17m8 0h17m-952 2h9m59 0h9m8 0h9m93 0h9m8 0h9m8 0h9m442 0h8m136 0h9m51 0h8m17 0h9m-927 2h9m76 0h9m42 0h9m68 0h8m459 0h9m51 0h8m128 0h8m9 0h17m-850 2h8m9 0h8m51 0h9m59 0h9m34 0h8m26 0h8m400 0h8m9 0h8m34 0h17m77 0h8m26 0h8m9 0h8m60 0h25m-918 2h9m25 0h9m34 0h8m85 0h9m68 0h8m374 0h9m-710 2h4m26 0h8m94 0h8m34 0h9m59 0h9m59 0h9m527 0h8m94 0h17m-842 2h9m170 0h8m374 0h9m34 0h8m9 0h8m26 0h8m77 0h17m17 0h8m-850 2h9m144 0h9m68 0h8m442 0h9m102 0h8m51 0h9m51 0h8m-969 2h9m59 0h9m102 0h8m34 0h9m518 0h9m8 0h9m110 0h9m51 0h8m9 0h8m-892 2h8m102 0h9m25 0h9m42 0h9m544 0h8m17 0h9m93 0h9m-952 2h17m17 0h8m68 0h9m51 0h8m43 0h8m553 0h8m43 0h8m43 0h8m34 0h9m25 0h9m17 0h18m-885 2h8m612 0h26m8 0h9m8 0h9m93 0h9m85 0h8m-1003 2h9m25 0h9m25 0h9m42 0h9m25 0h9m85 0h8m43 0h8m425 0h9m51 0h8m43 0h8m9 0h8m9 0h8m26 0h17m25 0h17m26 0h8m-994 2h8m187 0h17m9 0h8m34 0h9m8 0h9m399 0h9m8 0h9m34 0h8m51 0h9m34 0h8m34 0h9m76 0h9m-969 2h8m51 0h9m110 0h9m76 0h9m476 0h8m17 0h17m51 0h9m76 0h9m-918 2h8m102 0h9m17 0h8m9 0h8m34 0h9m476 0h8m17 0h9m8 0h9m59 0h9m25 0h9m93 0h9m8 0h9m-952 2h8m17 0h9m144 0h9m561 0h8m9 0h17m17 0h8m51 0h17m9 0h8m9 0h8m-867 2h9m136 0h8m51 0h9m433 0h9m59 0h17m26 0h8m60 0h8m77 0h8m-935 2h9m68 0h8m9 0h8m34 0h9m51 0h8m468 0h8m34 0h9m8 0h9m110 0h9m-901 2h8m51 0h9m59 0h9m42 0h9m8 0h9m493 0h8m9 0h8m34 0h17m51 0h9m25 0h9m51 0h8m26 0h17m-901 2h8m672 0h8m51 0h9m42 0h9m17 0h8m26 0h8m-926 2h8m9 0h8m9 0h8m60 0h8m128 0h8m442 0h17m85 0h9m8 0h9m8 0h9m42 0h26m-901 2h8m43 0h8m247 0h8m366 0h8m9 0h8m17 0h9m59 0h9m17 0h8m51 0h17m43 0h17m-982 2h4m43 0h8m85 0h9m569 0h9m221 0h8m34 0h9m-999 2h4m255 0h17m595 0h9m68 0h8m-956 2h4m26 0h8m179 0h8m34 0h9m501 0h9m17 0h8m68 0h9m8 0h9m17 0h8m-909 2h8m9 0h8m187 0h9m25 0h9m544 0h17m25 0h9m51 0h8m-892 2h8m9 0h8m34 0h9m76 0h9m51 0h8m468 0h8m145 0h8m9 0h8m17 0h17m-850 2h17m51 0h9m76 0h17m60 0h17m476 0h8m9 0h8m102 0h9m8 0h9m-825 2h9m34 0h8m68 0h9m493 0h8m60 0h8m-816 2h9m178 0h17m17 0h9m59 0h9m416 0h9m25 0h9m68 0h8m17 0h9m-740 2h9m110 0h9m-238 2h8m34 0h17m51 0h9m25 0h9m25 0h9m68 0h8m9 0h8m553 0h8m17 0h9m-880 2h4m51 0h9m17 0h8m34 0h9m25 0h9m8 0h17m102 0h9m17 0h8m408 0h9m-587 2h9m17 0h8m578 0h9m17 0h17m34 0h17m-842 2h9m34 0h8m60 0h8m34 0h9m110 0h9m17 0h8m536 0h8m9 0h8m-858 2h17m34 0h8m17 0h9m195 0h17m417 0h8m43 0h8m9 0h8m26 0h8m-731 2h9m17 0h8m26 0h8m34 0h9m8 0h9m34 0h8m561 0h9m-850 2h17m8 0h9m42 0h9m93 0h26m85 0h8m451 0h8m-688 2h8m26 0h8m34 0h9m25 0h17m9 0h8m561 0h9m34 0h8m-748 2h9m17 0h8m60 0h8m17 0h9m34 0h8m51 0h9m425 0h8m51 0h9m-812 2h4m230 0h8m17 0h9m442 0h8m68 0h17m-803 2h4m102 0h9m42 0h9m17 0h8m68 0h9m34 0h8m468 0h8m-578 2h9m25 0h9m8 0h9m8 0h9m8 0h9m425 0h8m94 0h8m-790 2h25m34 0h9m34 0h8m43 0h8m102 0h9m-298 2h9m246 0h9m-238 2h8m26 0h8m119 0h9m68 0h17m510 0h8m-731 2h9m187 0h17m17 0h8m400 2h8m-8 2h8m85 0h9m-119 6h8m-399 4h8m-17 8h9m-9 2h9m382 0h9m-391 10h8m-17 6h9m408 2h8m-425 4h9m425 4h8m-17 2h9m8 0h9m42 0h9m-9 2h9m-765 2h8m663 0h9m-727 2h4m196 0h8m77 0h8m425 0h9m-570 2h9m34 0h8m9 0h8m-225 2h4m9 0h25m111 0h8m68 0h9m8 0h9m467 0h9m-697 2h8m26 0h8m119 0h9m-162 2h9m25 0h17m9 0h8m51 0h9m76 0h9m467 0h9m-663 2h8m17 0h9m42 0h9m76 2h9m484 0h9m17 0h8m43 0h8m-34 4h9m17 2h8m-68 2h9m8 2h9m-9 2h9m-26 2h17m17 0h17m-25 2h8m0 2h9m68 0h8m-68 2h9m17 2h8m-76 2h8m85 0h9m17 0h8m-127 2h17m8 0h9m8 0h17m-42 2h8m102 0h9m-43 2h9m25 0h17m-85 2h9m51 0h8m17 0h9m-9 2h9m34 4h17m0 2h8m-34 2h9m76 6h10"/>
<path stroke="#4500bc" d="M393 201h9m518 6h9m59 0h9m-111 4h9m-697 114h8m638 0h8m153 2h9m144 0h9m-842 2h9m442 0h8m213 0h8m34 0h9m-774 2h9m-115 2h4m162 0h8m612 0h9m110 0h9m34 0h8m34 0h9m-102 2h8m-646 2h9m578 0h8m102 0h9m8 0h9m-842 2h9m25 0h9m8 0h9m586 0h9m8 0h9m8 0h9m8 0h9m102 0h8m43 0h8m-986 2h9m119 0h8m68 0h9m527 0h8m94 0h8m34 0h9m17 0h8m34 0h9m-757 2h9m442 0h8m77 0h17m136 0h8m-922 2h4m17 0h9m42 0h9m51 0h8m26 0h8m595 0h9m110 0h9m-867 2h8m60 0h17m110 0h17m383 0h8m94 0h8m34 0h9m76 0h9m51 0h8m-909 2h8m77 0h8m51 0h9m17 0h8m519 0h8m77 0h8m26 0h8m43 0h17m25 0h17m34 0h9m25 0h10m-1017 2h4m153 0h9m68 0h8m468 0h8m43 0h8m26 0h8m17 0h34m9 0h8m17 0h9m17 0h8m34 0h17m-969 2h17m51 0h9m8 0h9m76 0h26m25 0h9m450 0h9m85 0h8m34 0h9m17 0h8m9 0h8m77 0h17m17 0h8m-969 2h9m51 0h8m34 0h9m68 0h8m9 0h8m17 0h9m518 0h9m59 0h9m17 0h8m9 0h8m26 0h8m43 0h8m34 0h10m-970 2h8m51 0h9m17 0h8m26 0h8m451 0h8m9 0h8m77 0h8m17 0h9m25 0h17m111 0h8m51 0h9m17 0h18m-1013 2h9m25 0h9m25 0h9m8 0h9m8 0h9m59 0h9m25 0h9m8 0h9m93 0h9m110 0h9m212 0h9m8 0h9m153 0h8m68 0h9m-867 2h17m51 0h25m459 0h17m60 0h8m51 0h17m145 0h8m9 0h8m17 0h9m-944 2h9m25 0h9m136 0h8m26 0h8m60 0h8m204 0h9m59 0h9m51 0h8m26 0h8m255 0h9m-893 2h9m8 0h9m136 0h8m85 0h9m42 0h9m221 0h8m9 0h8m34 0h9m42 0h9m17 0h42m26 0h8m51 0h17m136 0h10m-970 2h8m34 0h9m59 0h9m8 0h9m25 0h17m43 0h8m26 0h8m213 0h8m43 0h25m68 0h9m25 0h9m51 0h8m34 0h17m60 0h8m-884 2h17m85 0h17m17 0h26m8 0h9m8 0h17m9 0h8m9 0h8m26 0h8m298 0h17m8 0h9m51 0h8m34 0h9m17 0h17m25 0h17m34 0h9m34 0h8m51 0h9m8 0h9m-910 2h9m8 0h17m9 0h8m77 0h8m51 0h17m9 0h8m51 0h9m59 0h9m153 0h8m26 0h8m162 0h8m128 0h8m68 0h9m-944 2h9m42 0h17m43 0h8m43 0h8m9 0h8m179 0h8m340 0h9m25 0h9m102 0h8m-765 2h9m119 0h8m9 0h8m43 0h8m272 0h9m42 0h9m34 0h8m68 0h9m68 0h8m-790 2h8m34 0h9m170 0h8m332 0h8m34 0h9m-638 2h9m76 0h9m17 0h8m26 0h8m94 0h17m17 0h8m77 0h8m17 0h9m246 0h17m-493 2h9m51 0h8m9 0h8m17 0h17m145 0h17m42 0h9m110 0h9m-400 2h9m42 0h9m204 0h8m43 0h8m34 0h9m34 0h8m-399 2h8m17 0h9m136 0h8m17 0h9m8 0h9m110 0h9m42 0h9m-366 2h9m25 0h9m25 0h9m161 0h9m42 0h9m-289 2h8m187 0h9m8 0h9m85 0h8m9 0h8m26 0h8m-391 2h9m119 0h8m128 0h8m60 0h8m43 0h8m-365 2h8m17 0h9m68 0h8m68 0h9m17 0h8m60 0h8m17 0h9m-264 2h9m119 0h8m68 0h9m-221 4h8m179 0h8m111 0h8m-323 2h9m8 0h17m26 0h17m212 0h9m-136 2h8m43 0h8m17 0h9m93 0h9m-340 2h8m26 0h17m8 0h9m136 0h8m111 0h8m-357 2h17m68 0h9m25 0h9m34 0h8m68 0h9m8 0h9m17 0h8m26 0h8m17 0h9m-204 2h8m51 0h9m42 0h9m25 0h9m17 0h8m17 0h9m-179 2h9m51 0h17m8 0h17m9 0h8m9 0h8m26 0h17m25 0h9m-366 2h9m51 0h8m68 0h9m42 0h9m93 0h17m-229 2h8m119 0h9m8 0h9m59 0h9m8 0h9m-289 2h17m144 0h9m51 0h8m26 0h25m26 0h8m-195 2h8m60 0h8m17 0h9m-153 2h8m119 0h9m34 0h8m26 0h8m-229 2h8m119 0h9m25 0h17m68 0h9m-357 2h8m51 0h17m17 0h9m136 0h17m51 0h8m-144 2h8m34 0h9m102 0h8m-161 2h8m34 0h9m110 0h9m34 0h17m-332 2h9m42 0h9m42 0h9m59 0h17m17 0h9m25 0h17m43 0h8m-314 2h8m17 0h17m102 0h9m59 0h17m17 0h9m42 0h9m17 0h17m-383 2h34m26 0h8m51 0h9m8 0h9m85 0h8m51 0h17m17 0h17m9 0h8m-348 2h8m162 0h8m128 0h8m-314 2h8m43 0h8m128 0h8m60 0h8m9 0h8m51 0h9m-298 2h17m-59 2h17m136 0h8m68 0h9m102 0h8m-348 2h8m136 0h9m187 0h8m9 0h8m-340 2h9m161 0h9m59 0h9m34 0h8m43 0h8m-314 2h8m119 0h17m85 0h9m-264 2h9m25 0h9m85 0h8m145 0h8m43 0h8m-365 2h8m145 2h8m85 0h9m-26 2h9m59 0h9m8 0h17m26 0h8m-323 2h9m204 0h8m51 0h9m-281 2h9m170 0h8m17 0h9m51 0h8m34 0h9m-340 2h17m221 0h8m-76 2h17m8 0h9m25 0h9m17 0h8m43 0h8m43 0h8m-408 2h9m17 0h17m136 0h17m17 0h8m9 0h17m34 0h8m43 0h8m-314 2h8m255 0h9m59 0h9m-196 2h9m187 0h8m-289 2h9m127 0h9m76 0h9m-111 2h9m42 0h9m17 0h8m51 0h9m42 0h17m-382 2h8m17 0h9m153 0h8m162 0h8m-408 2h9m17 0h8m9 0h17m25 0h9m195 0h17m-51 2h9m51 0h8m77 0h8m-501 2h8m374 0h26m17 0h8m51 0h9m-672 2h9m297 0h9m314 0h9m-502 2h9m68 0h8m34 0h9m8 0h9m25 0h9m340 0h8m17 0h9m110 0h9m-706 2h9m34 0h8m43 0h8m34 0h9m34 0h8m196 0h17m8 0h17m68 0h9m195 0h9m-544 2h8m187 0h9m153 0h8m-561 2h9m17 0h8m408 0h9m-357 2h8m43 0h8m417 0h8m9 0h8m77 0h8m-688 2h8m60 0h8m26 0h17m8 0h9m17 0h8m43 0h8m9 0h17m8 0h9m51 0h8m323 0h9m153 0h8m-833 2h9m144 0h9m76 0h9m59 0h9m544 0h8m-892 2h8m9 0h8m60 0h8m102 0h9m8 0h9m17 0h8m9 0h8m434 0h8m-646 2h9m42 0h9m59 0h9m17 0h8m26 0h8m51 0h9m229 0h9m-553 2h9m42 0h17m77 0h8m9 0h8m26 0h8m94 0h8m238 0h9m93 0h9m42 0h9m51 0h8m43 0h8m-807 2h17m17 0h8m34 0h9m102 0h8m43 0h8m34 0h9m68 0h8m153 0h9m161 0h9m85 0h8m-803 2h4m9 0h8m60 0h8m26 0h8m60 0h8m68 0h9m8 0h9m263 0h9m221 0h8m77 0h8m43 0h8m-807 2h8m34 0h9m34 0h8m17 0h9m59 0h9m340 0h8m34 0h9m8 0h17m17 0h9m51 0h8m60 0h8m-705 2h8m26 0h8m26 0h8m51 0h9m17 0h8m187 0h9m110 0h9m102 0h8m9 0h8m179 0h8m-952 2h9m51 0h8m34 0h9m17 0h8m9 0h8m43 0h8m85 0h9m374 0h8m77 0h8m187 0h9m-927 2h17m17 0h9m8 0h9m119 0h8m629 0h9m136 0h8m-977 2h8m43 0h8m77 0h17m59 0h9m374 0h8m94 0h8m128 0h8m111 0h8m-807 2h8m26 0h8m34 0h9m110 0h9m323 0h8m17 0h9m51 0h8m-765 2h17m9 0h8m34 0h9m8 0h9m8 0h9m25 0h9m85 0h8m17 0h17m451 0h8m26 0h17m51 0h8m-858 2h8m9 0h8m43 0h8m94 0h8m17 0h9m102 0h8m374 0h9m51 0h8m77 0h8m68 0h9m-931 2h4m26 0h8m9 0h8m26 0h8m9 0h8m26 0h8m43 0h17m17 0h17m357 0h8m111 0h8m9 0h8m26 0h8m60 0h17m42 0h9m-867 2h17m42 0h17m51 0h9m17 0h8m34 0h9m8 0h9m17 0h8m485 0h17m25 0h9m110 0h9m-927 2h9m8 0h9m17 0h8m17 0h9m25 0h9m34 0h8m68 0h9m59 0h9m8 0h9m399 0h9m8 0h17m-637 2h8m9 0h8m578 0h9m17 0h8m51 0h9m8 0h9m17 0h8m-756 2h8m60 0h8m9 0h34m34 0h8m17 0h9m442 0h8m102 0h9m-808 2h17m43 0h8m26 0h8m9 0h8m51 0h9m102 0h8m349 0h8m102 0h9m51 0h8m9 0h8m51 0h9m51 0h8m-790 2h8m391 0h9m93 0h9m17 0h25m9 0h17m59 0h9m17 0h8m-871 2h4m51 0h17m51 0h9m8 0h17m34 0h9m51 0h17m442 0h8m9 0h8m77 0h8m-790 2h17m42 0h9m76 0h9m59 0h17m17 0h9m17 0h17m382 0h9m51 0h8m9 0h8m34 0h9m34 0h8m51 0h9m8 0h9m-948 2h4m9 0h8m119 0h9m136 0h17m450 0h9m34 0h8m9 0h25m9 0h8m34 0h17m9 0h8m51 0h9m-978 2h9m59 0h9m51 0h8m17 0h9m17 0h8m77 0h8m43 0h8m391 0h17m9 0h8m17 0h17m34 0h9m17 0h17m8 0h17m-875 2h8m213 0h8m68 0h9m374 0h8m128 0h8m26 0h8m60 0h8m-901 2h9m119 0h8m119 0h9m8 0h9m408 0h8m85 0h9m93 0h9m-910 2h9m85 0h8m136 0h26m425 0h8m17 0h9m25 0h17m26 0h8m26 0h25m60 0h8m34 0h9m-978 2h9m68 0h8m34 0h9m34 0h8m77 0h8m60 0h8m357 0h9m85 0h8m85 0h9m119 0h8m-986 2h9m8 0h9m34 0h8m51 0h9m76 0h9m25 0h9m25 0h9m263 0h9m212 0h17m34 0h9m59 0h9m-901 2h17m76 0h9m42 0h9m59 0h9m25 0h17m417 0h8m60 0h17m25 0h9m25 0h9m34 0h17m-897 2h4m77 0h8m68 0h9m8 0h9m59 0h9m8 0h9m416 0h9m25 0h9m17 0h8m26 0h17m127 0h9m8 0h9m-944 2h9m8 0h9m34 0h17m17 0h8m26 0h8m102 0h17m43 0h8m451 0h8m9 0h8m34 0h9m59 0h9m-859 2h9m68 0h8m9 0h8m17 0h9m59 0h9m59 0h9m535 0h9m17 0h8m43 0h8m-922 2h4m51 0h9m42 0h9m25 0h9m68 0h8m94 0h8m408 0h17m85 0h17m26 0h25m-905 2h4m77 0h17m178 0h17m451 0h8m85 0h9m42 0h9m-893 2h9m76 0h9m8 0h9m17 0h8m102 0h9m493 0h8m60 0h8m9 0h8m34 0h9m42 0h9m-867 2h8m51 0h9m34 0h8m17 0h17m51 0h9m42 0h9m467 0h9m34 0h8m51 0h17m26 0h8m-918 2h17m68 0h9m8 0h9m119 0h8m9 0h25m17 0h9m399 0h9m34 0h8m9 0h8m162 0h8m-956 2h4m111 0h8m9 0h8m60 0h8m51 0h9m34 0h17m382 0h9m59 0h17m51 0h9m17 0h8m17 0h17m-867 2h9m34 0h8m94 0h8m85 0h9m408 0h8m9 0h8m43 0h8m26 0h8m17 0h9m51 0h8m-888 2h21m9 0h8m102 0h9m93 0h9m51 0h8m425 0h9m68 0h8m51 0h9m-842 2h9m51 0h8m94 0h8m34 0h9m25 0h9m416 0h9m42 0h9m8 0h9m51 0h8m26 0h8m-799 2h9m25 0h9m42 0h9m51 0h8m43 0h8m43 0h8m468 0h8m128 0h8m-850 2h9m17 0h8m60 0h8m43 0h8m544 0h9m68 0h8m-871 2h21m43 0h17m25 0h9m51 0h8m51 0h17m553 0h17m127 0h9m34 0h8m-977 2h8m102 0h9m25 0h17m26 0h8m34 0h9m8 0h9m433 0h9m76 0h9m42 0h9m8 0h9m17 0h8m-833 2h17m17 0h9m34 0h8m9 0h8m77 0h8m43 0h8m459 0h9m59 0h17m51 0h17m51 0h9m-944 2h9m34 0h8m94 0h8m570 0h8m9 0h8m17 0h9m51 0h8m-790 2h8m43 0h8m85 0h9m76 0h9m399 0h17m26 0h8m34 0h17m26 0h25m-773 2h8m111 0h8m9 0h17m8 0h9m17 0h25m459 0h9m17 0h8m187 0h9m-876 2h34m9 0h8m85 0h9m493 0h17m59 0h9m68 0h8m-892 2h8m51 0h9m8 0h9m59 0h9m25 0h17m9 0h8m60 0h8m485 0h8m85 0h9m-638 2h9m17 0h8m451 0h8m-714 2h9m25 0h9m153 0h8m43 0h8m9 0h8m425 0h9m85 0h17m8 0h9m-825 2h9m42 0h26m8 0h9m59 0h17m9 0h8m43 0h17m484 0h9m42 0h9m8 0h9m8 0h9m-774 2h9m51 0h8m51 0h9m603 0h9m42 0h9m59 0h9m-893 2h43m34 0h8m111 0h8m570 0h8m-816 2h9m17 0h17m34 0h8m26 0h8m34 0h9m68 0h8m9 0h8m451 0h8m34 0h17m17 0h9m51 0h8m-714 2h9m42 0h9m8 0h9m51 0h8m553 0h8m77 0h8m-884 2h9m110 0h9m42 0h9m51 0h8m43 0h8m442 0h9m25 0h17m85 0h9m-884 2h8m26 0h8m9 0h8m26 0h8m17 0h9m569 0h9m51 0h8m9 0h8m9 0h8m-773 2h17m34 0h8m119 0h9m85 0h8m442 0h9m-748 2h17m178 0h17m60 0h8m459 0h9m17 0h8m-620 2h17m8 0h9m59 0h9m433 0h26m17 0h8m9 0h8m17 0h9m-782 2h8m94 0h8m145 0h8m26 0h8m434 0h17m25 0h9m-808 2h9m59 0h9m8 0h9m153 0h8m26 0h8m17 0h9m-221 2h8m17 0h9m153 0h8m425 0h9m42 0h9m-731 2h8m247 0h8m9 0h8m519 0h8m-552 2h8m-8 4h17m399 2h9m-17 8h8m-8 4h8m-399 6h8m366 2h8m-382 8h8m-8 6h8m-8 6h8m-8 2h8m383 4h17m-17 4h8m26 2h8m-603 4h8m119 0h9m425 0h8m-663 2h9m102 0h8m595 0h9m-774 2h9m59 0h9m76 0h9m93 0h9m-238 2h8m77 0h8m-76 2h8m43 0h8m17 0h9m51 0h8m-127 2h8m102 0h9m535 2h9m51 0h8m26 0h8m-93 2h8m-629 2h9m586 0h9m17 2h8m34 0h9m-51 2h8m0 2h9m-34 2h8m26 6h8m60 0h8m-25 2h17m-51 2h8m43 0h8m-42 2h8m26 2h8m26 4h17m-51 2h8m77 0h8m68 10h9m-17 2h8"/>
<path stroke="#3800cd" d="M453 201h8m332 2h8m-314 2h8m-255 2h9m416 0h9m297 90h9m-663 24h8m638 0h8m-221 2h9m-519 2h9m42 2h9m93 0h9m629 0h8m-102 2h9m-604 2h9m255 0h8m-331 2h8m519 0h8m204 0h9m-842 2h9m76 0h9m17 0h8m26 0h8m9 0h8m17 0h9m433 0h9m170 0h8m153 0h9m-969 2h8m179 0h17m663 0h17m93 0h10m-851 2h8m196 0h8m366 0h8m26 0h8m102 0h9m8 0h9m51 0h17m-969 2h8m26 0h8m17 0h9m76 0h9m68 0h8m128 0h8m289 0h9m204 0h8m26 0h8m26 0h17m-944 2h9m17 0h8m17 0h17m43 0h8m68 0h9m17 0h8m655 0h8m26 0h8m34 0h17m-943 2h8m94 0h8m60 0h8m417 0h8m17 0h9m144 0h9m25 0h17m34 0h9m8 0h9m25 0h9m-965 2h21m153 0h9m8 0h9m17 0h8m561 0h9m17 0h8m9 0h8m136 0h9m17 0h8m-952 2h9m110 0h9m25 0h9m59 0h9m348 0h9m119 0h8m9 0h8m85 0h9m17 0h8m94 0h8m-1003 2h9m25 0h9m85 0h17m25 0h9m603 0h9m17 0h8m77 0h8m34 0h17m17 0h9m-935 2h25m9 0h8m26 0h17m17 0h8m544 0h26m144 0h9m110 0h9m-986 2h8m26 0h8m9 0h8m26 0h8m417 0h8m51 0h9m110 0h9m68 0h8m17 0h9m42 0h9m93 0h9m-944 2h9m8 0h9m127 0h9m25 0h26m314 0h9m136 0h25m204 0h9m8 0h9m-833 2h8m17 0h9m153 0h8m85 0h9m331 0h9m68 0h8m-722 2h8m153 0h17m51 0h9m68 0h8m136 0h9m8 0h9m102 0h8m34 0h9m76 0h9m17 0h8m9 0h8m-824 2h8m34 0h9m59 0h9m25 0h9m59 0h9m68 0h8m60 0h8m179 0h8m9 0h8m9 0h8m43 0h17m76 0h17m-739 2h8m145 0h8m77 0h8m9 0h8m26 0h8m247 0h8m43 0h8m43 0h8m26 0h8m-663 2h9m119 0h8m9 0h8m26 0h8m34 0h26m306 0h8m26 0h8m9 0h8m9 0h8m68 0h9m-706 2h9m144 0h9m34 0h8m17 0h9m119 0h8m43 0h8m60 0h8m111 0h8m17 0h9m-561 2h8m94 0h8m34 0h9m8 0h9m85 0h8m289 0h9m25 0h17m60 0h8m-646 2h9m212 0h9m161 0h9m68 0h8m43 0h8m26 0h17m17 0h8m-722 2h8m136 0h9m51 0h8m17 0h9m8 0h9m280 0h9m68 0h8m43 0h8m-680 2h9m178 0h9m229 0h9m85 0h8m77 0h8m26 0h8m-650 2h4m17 0h9m272 0h8m34 0h9m127 0h9m110 0h9m195 0h9m-221 2h8m-382 2h8m68 0h9m102 0h8m9 0h8m26 0h8m68 0h9m93 0h9m-357 2h8m43 0h8m102 0h9m127 0h17m43 0h8m-161 2h8m17 0h9m25 0h9m68 0h17m-323 2h8m9 0h17m8 0h17m77 0h8m102 0h17m-280 2h8m119 0h9m8 0h9m127 0h9m34 0h8m17 0h9m-315 2h9m17 0h8m68 0h17m77 0h8m17 0h9m8 0h9m-264 2h9m204 0h8m17 0h9m8 0h26m8 0h9m-315 2h9m102 0h8m94 0h8m77 0h8m-229 2h8m136 0h9m-204 2h8m26 0h8m68 0h26m34 0h8m34 0h9m17 0h17m51 0h8m9 0h8m-323 2h9m17 0h8m17 0h9m212 0h9m-306 2h8m26 0h8m26 0h8m119 0h9m8 0h9m93 0h17m-51 2h9m-289 2h8m9 0h8m51 0h17m85 0h9m17 0h8m60 0h8m34 0h9m-221 2h8m153 0h9m-298 2h9m51 0h17m59 0h9m59 0h9m34 0h8m34 0h9m51 0h17m-332 2h9m136 0h8m34 0h9m42 0h9m68 0h8m-229 2h8m68 0h9m17 0h8m51 0h9m-264 2h9m34 0h8m17 0h9m93 0h9m25 0h9m93 0h9m25 0h17m-221 2h9m8 0h9m119 0h8m77 0h8m-357 2h9m238 0h8m34 0h9m17 0h8m-348 2h17m93 0h9m17 0h8m9 0h8m26 0h8m9 0h8m43 0h8m9 0h8m60 0h8m9 0h8m-357 2h9m17 0h8m77 0h8m43 0h8m51 0h9m42 0h17m17 0h17m-314 2h8m26 0h25m68 0h9m17 0h17m25 0h9m68 0h8m26 0h17m8 0h9m-357 2h8m187 0h9m25 0h9m-238 2h8m9 0h8m119 0h9m42 0h17m9 0h17m34 0h8m17 0h9m-145 2h9m59 0h9m34 0h8m17 0h9m59 0h9m-357 2h8m68 0h9m59 0h9m8 0h9m59 0h9m68 0h17m-298 2h9m51 0h8m34 0h9m8 0h9m34 0h17m8 0h9m8 0h9m-238 2h17m110 0h9m8 0h9m127 0h9m17 0h8m-255 2h9m42 0h17m26 0h17m17 0h8m34 0h26m8 0h9m8 0h17m-272 2h17m26 0h8m60 0h8m43 0h8m17 0h9m17 0h8m85 0h9m-349 2h9m25 0h17m170 0h9m76 0h9m42 0h9m-340 2h8m111 0h8m51 0h9m25 0h9m42 0h9m-306 2h8m34 0h9m110 0h17m17 0h9m93 0h9m25 0h9m8 0h9m17 0h8m-323 2h9m187 0h8m34 0h9m-264 2h9m127 0h9m76 0h9m68 0h8m-340 2h9m17 0h8m34 0h9m68 0h8m94 0h17m34 0h8m26 0h17m-366 2h9m170 0h8m9 0h17m17 0h8m17 0h9m76 0h9m-315 2h9m153 0h17m25 0h9m51 0h8m-297 2h8m77 0h8m68 0h17m26 0h8m94 0h8m43 0h8m-365 2h8m60 0h8m94 0h8m51 0h9m17 0h8m34 0h9m51 0h8m-382 2h8m43 0h8m17 0h9m76 0h9m42 0h9m42 0h9m17 0h8m94 0h8m-484 2h8m128 0h8m9 0h8m85 0h9m144 0h9m51 0h17m-383 2h17m34 0h9m170 0h8m-221 2h9m170 0h8m17 0h9m93 0h9m25 0h9m-349 2h9m204 0h8m77 0h8m43 0h8m-357 2h9m34 0h17m110 0h9m17 0h8m43 0h8m102 0h9m-383 2h9m34 0h8m128 0h8m51 0h9m25 0h9m34 0h8m17 0h9m25 0h9m-366 2h17m34 0h9m246 0h17m-450 2h8m170 0h9m136 0h8m9 0h17m68 0h8m60 0h8m26 0h8m-501 2h8m94 0h8m34 0h9m144 0h17m-306 2h9m229 0h9m25 0h9m17 0h8m17 0h9m17 0h8m111 0h8m-374 2h9m178 0h9m110 0h9m-655 2h9m153 0h8m34 0h9m391 0h8m26 0h8m43 0h8m-391 2h26m17 0h8m255 0h9m25 0h9m42 0h9m-706 2h9m297 0h9m178 0h9m17 0h8m94 0h8m43 0h8m-595 2h9m25 0h9m68 0h8m153 0h9m144 0h9m17 0h8m119 0h9m8 0h9m-672 2h9m119 0h8m51 0h17m9 0h17m17 0h8m43 0h8m238 0h9m127 0h9m153 0h8m-867 2h9m25 0h9m272 0h8m170 0h9m102 0h8m26 0h8m-501 2h8m9 0h8m102 0h26m187 0h8m43 0h8m43 0h8m85 0h17m-603 2h8m102 0h9m51 0h8m60 0h8m26 0h8m145 0h8m213 0h8m-714 2h9m68 0h8m111 0h8m77 0h8m196 0h8m9 0h8m43 0h8m9 0h8m68 0h9m-604 2h9m34 0h8m102 0h9m42 0h9m59 0h9m263 0h9m280 0h9m-850 2h17m8 0h9m17 0h8m77 0h8m111 0h8m17 0h9m323 0h8m119 0h9m-799 2h17m102 0h8m51 0h9m51 0h8m213 0h8m-382 2h8m34 0h9m51 0h8m26 0h17m51 0h8m26 0h8m136 0h9m42 0h9m51 0h8m26 0h8m60 0h17m17 0h8m119 0h9m-816 2h8m119 0h17m51 0h9m374 0h8m85 0h9m76 0h9m-672 2h9m17 0h8m43 0h8m34 0h17m204 0h9m195 0h9m-553 2h26m59 0h17m17 0h9m263 0h9m59 0h9m42 0h9m17 0h8m136 0h9m-846 2h4m26 0h8m145 0h8m43 0h8m77 0h8m221 0h9m289 0h8m-833 2h9m42 0h9m59 0h9m8 0h9m25 0h9m17 0h8m17 0h9m357 0h8m43 0h8m68 0h9m-740 2h9m42 0h9m8 0h9m8 0h9m144 0h9m110 0h9m272 0h8m51 0h9m85 0h8m68 0h9m-880 2h4m77 0h8m26 0h8m43 0h8m119 0h9m340 0h8m34 0h9m8 0h9m8 0h17m9 0h8m-629 2h9m68 0h8m51 0h9m340 0h8m68 0h9m110 0h9m-782 2h8m9 0h17m8 0h9m42 0h9m8 0h9m17 0h8m9 0h8m9 0h8m43 0h8m51 0h9m340 0h8m9 0h8m68 0h9m51 0h8m-807 2h8m102 0h9m127 0h9m425 0h8m9 0h8m153 0h9m-876 2h9m102 0h17m620 0h9m59 0h17m34 0h9m8 0h9m-893 2h9m59 0h9m136 0h8m9 0h8m26 0h8m17 0h17m374 0h9m17 0h17m161 0h9m110 0h10m-979 2h9m34 0h17m34 0h8m34 0h9m25 0h9m68 0h8m366 0h8m9 0h17m93 0h9m76 0h9m17 0h8m-905 2h4m43 0h8m94 0h8m51 0h9m76 0h9m51 0h8m145 0h8m170 0h9m93 0h9m51 0h8m34 0h9m51 0h8m-935 2h9m17 0h8m43 0h8m17 0h17m68 0h9m17 0h8m17 0h9m374 0h8m34 0h26m153 0h8m-871 2h4m34 0h9m8 0h9m85 0h8m77 0h8m51 0h9m8 0h9m476 0h17m17 0h8m51 0h9m-842 2h9m42 0h9m68 0h8m9 0h17m8 0h9m8 0h9m297 0h9m153 0h8m9 0h8m34 0h17m187 0h9m-982 2h4m9 0h8m34 0h9m34 0h8m94 0h8m34 0h9m17 0h8m502 0h8m-782 2h17m60 0h8m85 0h17m60 0h8m468 0h8m9 0h25m34 0h9m178 0h9m-986 2h8m17 0h17m34 0h9m102 0h8m85 0h17m357 0h9m17 0h8m17 0h9m17 0h17m42 0h9m42 0h9m42 0h17m-892 2h8m34 0h9m76 0h9m42 0h17m17 0h9m17 0h17m527 0h8m162 0h8m-901 2h9m42 0h9m34 0h25m68 0h9m255 0h8m128 0h8m128 0h8m9 0h8m26 0h8m51 0h9m-910 2h9m8 0h9m42 0h9m34 0h8m9 0h8m34 0h9m102 0h8m357 0h9m17 0h8m9 0h8m94 0h8m43 0h17m-880 2h4m43 0h8m145 0h8m9 0h8m451 0h8m34 0h17m17 0h9m8 0h9m17 0h8m34 0h9m59 0h9m-910 2h9m51 0h8m68 0h9m42 0h9m42 0h9m17 0h8m43 0h8m391 0h17m17 0h17m43 0h17m76 0h9m-901 2h8m43 0h8m17 0h9m68 0h8m34 0h9m34 0h8m43 0h8m417 0h8m136 0h9m42 0h9m-867 2h8m94 0h8m51 0h9m493 0h8m34 0h9m42 0h9m76 0h9m-893 2h17m34 0h9m42 0h9m17 0h8m26 0h25m502 0h8m34 0h9m34 0h8m51 0h9m25 0h9m76 0h9m25 0h10m-1013 2h9m102 0h8m51 0h9m34 0h8m51 0h9m17 0h8m391 0h9m170 0h8m-875 2h8m77 0h8m9 0h8m17 0h9m76 0h17m612 0h9m17 0h8m17 0h9m68 0h8m-935 2h9m34 0h8m170 0h9m433 0h9m17 0h8m9 0h8m85 0h9m59 0h9m-931 2h4m43 0h17m42 0h9m42 0h9m93 0h9m42 0h17m391 0h9m-570 2h9m51 0h17m76 0h9m399 0h9m110 0h9m-833 2h8m34 0h9m17 0h8m26 0h8m17 0h9m34 0h8m94 0h25m527 0h9m25 0h17m68 0h9m-965 2h4m17 0h9m8 0h17m34 0h9m51 0h8m26 0h8m43 0h8m43 0h8m425 0h9m76 0h9m34 0h8m-854 2h13m25 0h9m8 0h9m8 0h9m42 0h9m25 0h17m43 0h8m26 0h8m17 0h17m468 0h17m34 0h8m9 0h8m9 0h8m-799 2h9m34 0h8m17 0h9m17 0h17m42 0h9m42 0h9m25 0h9m484 0h9m34 0h8m85 0h9m-901 2h8m17 0h9m8 0h9m17 0h8m119 0h17m485 0h17m34 0h8m60 0h8m-782 2h17m17 0h9m42 0h9m8 0h17m17 0h9m93 0h9m416 0h17m85 0h9m8 0h9m76 0h9m-935 2h8m17 0h9m34 0h8m94 0h8m17 0h9m484 0h9m119 0h8m-790 2h8m26 0h17m8 0h9m119 0h8m60 0h8m9 0h8m391 0h9m153 0h8m-888 2h13m25 0h9m25 0h9m25 0h9m8 0h9m34 0h8m34 0h9m42 0h9m552 0h9m-774 2h9m93 0h9m51 0h8m485 0h8m60 0h8m43 0h8m9 0h17m25 0h9m-893 2h9m68 0h8m51 0h9m59 0h9m34 0h8m451 0h8m85 0h9m51 0h8m26 0h8m-867 2h9m34 0h8m9 0h8m102 0h9m17 0h8m527 0h9m17 0h8m-799 2h9m17 0h25m17 0h9m25 0h17m9 0h17m17 0h8m26 0h8m17 0h17m51 0h9m450 0h9m127 0h9m-867 2h8m9 0h8m43 0h8m9 0h8m9 0h17m76 0h9m8 0h9m25 0h9m8 0h9m416 0h9m102 0h8m68 0h9m8 0h9m-927 2h9m25 0h17m60 0h8m43 0h8m34 0h17m17 0h9m8 0h9m8 0h9m17 0h17m586 0h9m-910 2h9m8 0h9m93 0h17m26 0h17m25 0h9m34 0h8m34 0h9m17 0h8m400 0h25m9 0h8m-663 2h9m76 0h9m17 0h8m34 0h9m8 0h9m17 0h8m417 0h8m9 0h8m-752 2h4m17 0h9m34 0h17m34 0h8m34 0h9m17 0h8m34 0h9m25 0h9m17 0h17m467 0h9m-778 2h4m51 0h9m17 0h8m655 0h8m68 0h9m85 0h8m-867 2h9m68 0h8m9 0h17m8 0h9m76 0h9m-268 2h4m128 0h8m94 0h8m68 0h9m535 0h9m-842 2h9m68 0h8m34 0h9m8 0h9m51 0h8m34 0h9m433 0h9m76 0h9m-689 2h9m59 0h9m17 0h8m17 0h9m76 0h9m-255 2h8m136 0h17m9 0h8m26 0h8m-255 2h9m238 0h8m-272 2h9m195 2h9m93 2h9m408 0h8m-34 2h9m17 0h8m-416 4h8m383 0h8m-8 24h8m-17 2h9m-17 4h8m-8 4h8m-382 4h8m383 2h8m-17 6h9m17 2h8m-433 4h8m400 0h8m-17 2h17m-718 2h4m281 0h8m-204 2h9m76 0h9m8 0h9m501 0h9m-697 2h8m17 0h9m127 0h9m25 0h9m8 0h17m26 0h8m-127 2h8m536 0h8m-629 2h9m93 0h9m17 0h8m-85 2h9m85 0h8m485 0h8m-629 2h9m612 0h8m0 6h9m-17 4h8m9 0h8m-17 2h9m25 2h9m17 0h8m-68 2h9m25 0h9m34 0h8m-76 2h8m34 4h9m-17 2h8m26 2h8m-51 2h9m42 0h17m-59 2h8m17 0h9m76 0h9m-102 2h8m-17 2h9m17 0h8m94 2h8m60 4h8m9 2h8m0 2h17m-42 2h8m9 6h8"/>
<path stroke="#2800e0" d="M223 201h9m93 0h9m102 0h8m102 0h9m127 0h9m144 0h9m-553 2h9m17 0h8m102 0h9m280 0h9m85 0h8m26 0h8m-680 2h9m170 0h8m153 0h9m603 0h9m17 0h8m-799 14h9m569 0h9m-774 80h9m195 8h9m671 2h9m-298 2h9m314 2h9m-757 4h9m586 0h9m-748 2h8m706 0h8m-323 2h9m246 0h9m93 0h9m68 0h8m-722 2h8m561 0h9m59 0h9m59 0h9m127 0h9m-961 2h9m8 0h9m25 0h9m25 0h9m-128 4h9m654 0h9m25 0h9m85 0h8m43 0h8m-654 2h8m629 0h17m34 0h9m-884 2h8m51 0h9m51 0h8m238 0h9m212 0h9m272 0h8m9 0h8m34 0h9m17 0h8m-909 2h8m145 0h8m340 0h9m204 0h8m119 0h9m-901 2h8m17 0h9m17 0h8m34 0h9m34 0h8m9 0h8m561 0h9m85 0h17m-846 2h4m9 0h8m9 0h25m9 0h17m34 0h8m34 0h9m68 0h8m77 0h8m272 0h9m85 0h8m230 0h8m-841 2h17m25 0h9m25 0h17m51 0h9m688 0h9m59 0h10m-1013 2h9m51 0h8m43 0h17m8 0h9m229 0h9m306 0h8m43 0h8m77 0h8m17 0h17m77 0h8m9 0h8m-918 2h17m43 0h17m102 0h8m442 0h9m110 0h9m17 0h8m77 0h8m43 0h8m-952 2h9m17 0h17m59 0h9m17 0h8m26 0h8m9 0h17m476 0h8m9 0h8m26 0h8m9 0h8m26 0h8m34 0h9m42 0h9m-893 2h9m102 0h8m519 0h8m17 0h9m42 0h9m93 0h9m25 0h9m93 0h9m-944 2h9m34 0h8m128 0h17m8 0h9m59 0h26m289 0h8m85 0h9m93 0h9m59 0h9m42 0h9m68 0h8m-901 2h9m85 0h8m51 0h9m8 0h9m59 0h9m161 0h9m119 0h8m26 0h8m119 0h9m-782 2h8m170 0h9m425 0h8m43 0h8m26 0h8m60 0h8m-803 2h13m68 0h8m60 0h8m34 0h9m68 0h8m68 0h9m314 0h17m170 0h9m-799 2h8m128 0h8m9 0h8m9 0h8m34 0h9m408 0h8m26 0h8m34 0h9m17 0h8m34 0h9m-689 2h9m34 0h8m94 0h8m51 0h9m59 0h9m17 0h8m111 0h8m51 0h9m25 0h9m8 0h9m76 0h17m26 0h8m119 0h9m59 0h10m-928 2h9m161 0h9m348 0h9m25 0h9m144 0h9m8 0h9m-731 2h17m34 0h8m17 0h9m42 0h9m42 0h9m246 0h9m42 0h9m25 0h9m17 0h8m43 0h8m-476 2h9m17 0h8m68 0h9m136 0h8m60 0h8m51 0h9m42 0h9m-476 2h8m51 0h9m8 0h9m34 0h8m153 0h9m17 0h8m34 0h9m51 0h8m9 0h8m9 0h8m60 0h8m179 0h8m-646 2h9m178 0h9m110 0h9m42 0h17m-399 2h8m60 0h8m51 0h9m110 0h9m25 0h9m136 0h8m26 0h8m-663 2h9m102 0h8m425 0h17m9 0h8m-599 2h4m119 0h9m25 0h9m127 0h17m187 0h9m76 0h9m68 0h8m-391 2h9m42 0h17m26 0h8m128 0h8m26 0h8m43 0h8m26 0h8m-297 2h8m51 0h9m93 0h9m34 0h8m34 0h9m8 0h9m59 0h9m-323 2h17m119 0h8m9 0h8m34 0h9m34 0h17m-255 2h8m26 0h8m77 0h8m68 0h9m8 0h17m34 0h9m-323 2h8m111 0h8m26 0h8m60 0h8m-204 2h9m17 0h8m111 0h8m26 0h8m34 0h9m-179 2h9m119 0h8m-127 2h8m34 0h9m85 0h8m17 0h9m34 0h8m-306 2h9m59 0h17m17 0h9m17 0h17m51 0h8m17 0h9m8 0h9m-204 2h8m102 0h9m17 0h8m153 0h9m8 0h9m-306 2h8m34 0h9m8 0h9m59 0h9m8 0h9m34 0h8m-119 2h9m34 0h8m9 0h8m-144 2h8m153 0h17m17 0h9m34 0h8m51 0h9m-255 2h8m60 0h8m17 0h9m-145 2h9m17 0h8m94 0h8m9 0h17m17 0h8m-221 2h9m17 0h8m9 0h8m9 0h8m-51 2h9m85 0h8m230 0h8m-340 2h9m119 0h8m179 0h8m-229 2h8m51 0h9m102 0h8m-289 2h9m51 0h17m8 0h9m8 0h9m17 0h8m136 0h9m34 0h8m-161 2h8m9 0h8m34 0h9m-196 2h17m17 0h9m93 0h9m25 0h9m42 0h9m8 0h9m-238 2h17m85 0h8m-144 2h8m102 0h9m25 0h9m8 0h9m-111 2h9m59 0h9m25 0h9m68 0h8m-272 2h9m8 0h9m8 0h17m187 0h9m42 0h9m-238 2h8m128 0h8m-187 2h9m8 0h9m119 0h8m102 0h9m34 0h8m-280 2h8m26 0h8m60 0h8m43 0h8m17 0h9m-170 2h8m17 0h9m59 0h9m42 0h9m8 0h17m34 0h9m8 0h9m-306 2h17m25 0h9m25 0h9m68 0h8m51 0h9m85 0h8m9 0h8m-280 2h8m34 0h17m60 0h8m-102 2h17m119 0h9m85 0h8m17 0h9m-298 2h17m136 0h9m85 0h17m42 0h9m-323 2h8m9 0h8m136 0h9m102 0h8m-297 2h8m85 0h9m59 0h17m145 0h17m-289 2h8m77 0h8m34 0h9m68 0h17m42 0h9m-289 2h8m119 0h9m8 0h9m59 0h9m85 0h8m-331 2h8m43 0h8m60 0h8m68 0h17m77 0h8m9 0h17m8 0h9m-357 2h8m43 0h8m111 0h8m9 0h8m-144 2h8m145 0h8m51 0h9m-255 2h8m34 0h17m102 0h9m25 0h9m76 0h9m17 0h8m-323 2h9m25 0h9m93 0h9m59 0h26m8 0h9m25 0h17m26 0h8m-297 2h8m111 0h17m51 0h8m111 0h8m-357 2h9m17 0h8m51 0h9m93 0h9m34 0h17m42 0h9m59 0h9m-315 2h9m17 0h8m60 0h8m60 0h8m60 0h17m17 0h8m9 0h8m-323 2h9m17 0h8m9 0h8m77 0h8m34 0h9m85 0h25m-306 2h9m34 0h8m26 0h17m161 0h17m77 0h8m9 0h8m-68 2h9m25 0h9m-366 2h9m263 0h9m17 0h8m9 0h17m-332 2h9m76 0h9m34 0h8m179 0h8m51 0h17m-229 2h8m26 0h8m85 0h9m8 0h9m42 0h17m-348 2h17m161 0h9m93 0h9m42 0h17m-323 2h9m34 0h8m94 0h8m26 0h8m77 0h8m43 0h8m-348 2h17m263 0h9m34 0h8m43 0h8m-408 2h9m8 0h9m221 0h8m26 0h8m77 0h8m51 0h9m-578 2h8m77 0h8m60 0h8m51 0h9m170 0h8m26 0h8m68 0h9m68 0h8m-459 2h9m93 0h9m153 0h8m17 0h9m8 0h17m68 0h9m-196 2h9m-391 2h8m102 0h9m59 0h9m212 0h9m25 0h9m-340 2h8m17 0h9m76 0h9m8 0h9m17 0h8m264 0h8m-518 2h8m179 0h8m43 0h8m119 0h9m25 0h9m323 0h8m-807 2h8m247 0h8m213 0h8m357 0h9m-578 2h17m229 0h17m9 0h8m68 0h9m-595 2h8m9 0h8m34 0h9m127 0h9m25 0h9m161 0h9m8 0h9m110 0h9m42 0h9m-638 2h9m144 0h9m102 0h8m187 0h9m76 0h9m59 0h9m17 0h8m9 0h25m-569 2h8m26 0h8m68 0h9m323 0h8m17 0h9m34 0h8m-667 2h4m179 0h8m26 0h8m374 0h17m43 0h8m9 0h8m187 0h9m-850 2h8m17 0h9m76 0h9m34 0h17m85 0h8m9 0h8m255 0h26m8 0h9m42 0h9m25 0h9m-693 2h4m9 0h8m94 0h8m43 0h17m25 0h9m8 0h17m26 0h8m9 0h8m26 0h8m221 0h9m51 0h8m17 0h9m17 0h8m9 0h8m9 0h8m-663 2h9m42 0h9m8 0h9m25 0h9m42 0h9m25 0h9m85 0h8m272 0h17m-616 2h4m9 0h8m9 0h8m9 0h8m85 0h9m59 0h9m68 0h8m9 0h8m9 0h8m281 0h8m85 0h9m-493 2h8m357 0h9m42 0h9m51 0h8m-697 2h9m42 0h9m59 0h9m119 0h25m9 0h17m187 0h8m136 0h9m178 0h9m-791 2h9m17 0h8m417 0h8m17 0h9m255 0h8m-663 2h9m187 0h8m298 0h8m77 0h8m77 0h8m26 0h8m68 0h9m-876 2h9m8 0h9m51 0h8m153 0h9m365 0h9m-621 2h9m195 0h9m8 0h9m25 0h9m238 0h8m-493 2h9m93 0h9m8 0h9m51 0h8m272 0h9m85 0h8m34 0h9m-629 2h8m26 0h8m17 0h9m68 0h8m510 0h17m34 0h9m51 0h8m-714 2h17m17 0h17m17 0h9m42 0h9m306 0h8m136 0h9m144 0h9m-825 2h9m17 0h8m34 0h9m119 0h8m9 0h8m51 0h9m17 0h8m383 0h8m128 0h8m68 0h9m-910 2h9m59 0h9m34 0h8m9 0h8m519 0h8m68 0h17m60 0h8m17 0h9m-808 2h9m110 0h9m85 0h8m43 0h8m323 0h9m127 0h9m-748 2h8m85 0h9m8 0h9m51 0h8m51 0h9m212 0h9m51 0h8m204 0h9m102 0h8m34 0h9m-884 2h8m9 0h8m60 0h8m43 0h8m94 0h8m26 0h8m289 0h9m51 0h8m34 0h9m127 0h17m60 0h8m-918 2h9m8 0h9m17 0h8m17 0h9m42 0h17m34 0h9m42 0h9m42 0h9m238 0h8m145 0h17m51 0h8m-697 2h9m25 0h9m25 0h17m51 0h9m34 0h8m51 0h9m8 0h9m-298 2h9m25 0h9m8 0h9m17 0h8m9 0h8m68 0h9m17 0h8m51 0h9m204 0h8m77 0h8m145 0h8m-735 2h4m9 0h8m94 0h8m9 0h8m34 0h17m9 0h8m77 0h8m340 0h9m59 0h9m51 0h8m111 0h8m-884 2h9m59 0h9m51 0h8m9 0h8m136 0h17m476 0h9m25 0h9m42 0h9m51 0h8m-926 2h8m43 0h8m68 0h9m59 0h9m17 0h8m9 0h8m468 0h8m94 0h8m119 0h9m-927 2h9m42 0h9m68 0h8m145 0h8m332 0h8m26 0h8m43 0h8m-697 2h9m85 0h8m17 0h9m17 0h8m51 0h9m34 0h8m374 0h9m51 0h8m51 0h9m-791 2h17m9 0h8m68 0h9m42 0h9m59 0h9m688 0h9m-927 2h9m102 0h17m34 0h17m68 0h8m34 0h9m399 0h9m-587 2h9m76 0h9m34 0h8m26 0h8m417 0h8m-654 2h8m196 0h8m434 0h8m9 0h8m68 0h9m-829 2h4m60 0h8m17 0h9m51 0h8m366 0h8m204 0h9m51 0h8m17 0h9m-791 2h9m76 0h9m25 0h17m34 0h17m43 0h8m68 0h9m374 0h8m136 0h9m-876 2h9m8 0h9m93 0h9m34 0h8m51 0h9m17 0h8m442 0h9m178 0h9m-842 2h9m221 0h8m400 0h8m77 0h8m9 0h8m-799 2h9m51 0h8m51 0h9m646 0h8m17 0h17m-739 2h8m153 0h9m25 0h9m8 0h9m8 0h9m425 0h8m17 0h9m-476 2h8m434 0h8m26 0h8m-612 2h9m34 0h8m26 0h8m9 0h17m433 0h9m-706 2h9m34 0h8m77 0h8m26 0h8m17 0h17m94 0h8m-280 2h8m43 0h8m60 0h8m128 0h8m9 0h8m366 0h8m111 0h8m26 0h8m68 0h9m-833 2h8m17 0h9m42 0h9m68 0h8m26 0h8m26 0h8m366 0h8m34 0h9m76 0h9m76 0h9m-876 2h9m51 0h8m17 0h9m85 0h8m85 0h9m357 0h8m51 0h9m25 0h9m25 0h9m51 0h8m-816 2h17m85 0h9m25 0h9m102 0h8m383 0h8m26 0h17m127 0h9m-850 2h8m60 0h8m102 0h9m59 0h9m433 0h17m136 0h9m-850 2h8m60 0h8m162 0h8m425 0h9m8 0h9m8 0h9m76 0h9m8 0h17m-790 2h8m60 0h8m43 0h8m111 0h8m468 0h8m51 0h9m-697 2h8m17 0h9m68 0h8m60 0h8m400 0h8m34 0h9m17 0h8m-654 2h8m51 0h9m93 0h17m485 0h8m-680 2h9m578 0h8m26 0h8m-671 2h17m85 0h8m17 0h9m34 0h8m9 0h8m-153 2h9m17 0h8m34 0h9m68 0h8m34 0h9m365 0h9m25 0h9m25 0h9m-723 2h9m136 0h8m43 0h8m442 0h9m8 0h17m-731 2h9m102 0h8m68 0h9m17 0h8m26 0h8m34 0h17m417 0h17m34 0h8m-680 2h9m119 0h8m68 0h9m382 0h9m34 0h17m42 0h9m-723 2h9m8 0h9m8 0h9m595 0h8m-722 2h8m102 0h9m136 0h8m9 0h8m425 0h9m-476 2h8m485 0h8m-527 2h9m-111 2h9m187 0h8m383 0h17m25 0h9m-26 2h9m-26 2h9m-17 4h8m-433 2h8m408 12h9m-9 6h9m-391 10h8m374 4h9m-26 12h9m34 0h8m-34 2h9m-9 4h9m-442 8h8m417 0h8m-654 2h8m17 0h9m136 0h8m68 0h9m-255 2h8m26 0h8m60 0h8m9 0h8m9 0h8m519 0h8m-671 2h17m102 0h8m-161 2h8m128 0h8m51 0h26m-221 2h8m68 0h9m8 0h17m604 0h8m-637 2h8m629 8h9m-17 4h8m17 0h9m-43 2h9m-26 2h9m25 0h9m-17 4h8m9 0h17m-34 2h8m17 0h9m-26 2h9m-26 2h9m-9 2h9m102 0h8m-85 2h9m17 0h8m9 0h8m9 0h34m-77 2h9m42 0h9m-43 2h9m51 0h8m-76 2h8m26 0h8m9 0h8m102 4h9m34 4h8m0 2h9m8 2h10m-10 4h10"/>
<path stroke="#1400f3" d="M291 201h9m76 0h9m85 0h8m60 0h8m94 0h8m-340 2h9m93 0h9m51 0h8m383 0h17m-638 2h9m272 0h8m221 0h9m136 0h8m68 0h9m8 0h9m-740 2h9m34 0h8m68 0h9m68 0h8m-119 2h9m76 0h9m8 0h9m255 0h8m102 0h9m-646 2h17m467 0h9m127 0h9m-553 2h9m102 0h8m510 72h9m-434 16h9m382 4h9m-391 6h8m-127 2h17m535 2h9m-119 2h8m34 0h9m212 0h9m-94 2h9m-170 2h8m102 0h17m68 0h9m42 0h9m-867 2h8m60 0h8m145 0h8m400 0h8m77 0h8m43 0h8m102 0h9m-374 2h8m162 0h8m68 0h9m51 0h8m68 0h9m-816 2h8m9 0h8m34 0h9m25 0h9m68 0h8m289 0h9m119 0h8m9 0h8m17 0h9m68 0h8m85 0h9m17 0h8m43 0h8m-952 2h9m42 0h9m68 0h8m468 0h8m77 0h8m196 0h8m-956 2h4m17 0h9m85 0h8m9 0h8m26 0h8m213 0h8m476 0h17m34 0h9m-833 2h17m569 0h9m59 0h9m68 0h8m26 0h8m17 0h9m17 0h17m25 0h9m17 0h8m-935 2h9m136 0h8m43 0h8m408 0h9m187 0h8m60 0h8m60 0h18m-928 2h9m42 0h9m8 0h9m25 0h9m51 0h8m374 0h9m8 0h9m93 0h9m170 0h17m34 0h8m-935 2h9m42 0h9m110 0h9m144 0h9m297 0h9m17 0h17m25 0h9m119 0h8m26 0h8m17 0h9m8 0h9m17 0h8m-990 2h4m60 0h8m94 0h8m85 0h9m8 0h17m17 0h9m357 0h8m26 0h17m8 0h9m110 0h9m8 0h9m42 0h9m59 0h9m-986 2h8m9 0h8m51 0h9m51 0h8m26 0h8m26 0h8m366 0h8m9 0h8m43 0h17m34 0h8m34 0h9m17 0h8m9 0h8m9 0h8m-807 2h8m17 0h9m42 0h9m59 0h9m17 0h8m17 0h9m25 0h9m195 0h9m153 0h8m34 0h9m59 0h26m17 0h8m43 0h8m17 0h9m127 0h9m-842 2h9m93 0h9m42 0h9m127 0h9m102 0h8m153 0h9m25 0h9m221 0h8m-973 2h4m77 0h8m153 0h9m34 0h8m196 0h8m68 0h9m25 0h9m93 0h9m34 0h8m34 0h9m17 0h8m17 0h9m59 0h17m26 0h8m26 0h8m-841 2h8m26 0h8m94 0h8m51 0h9m340 0h8m281 0h8m-960 2h8m128 0h8m34 0h17m17 0h17m26 0h8m136 0h9m170 0h8m77 0h8m-663 2h9m119 0h8m51 0h9m17 0h17m25 0h9m204 0h8m77 0h8m85 0h9m59 0h9m-646 2h8m128 0h17m204 0h8m136 0h9m59 0h9m68 0h17m25 0h17m-697 2h9m51 0h8m332 0h8m68 0h9m34 0h8m-603 2h8m170 0h9m8 0h9m34 0h8m43 0h17m144 0h9m76 0h9m204 0h8m-612 2h9m25 0h9m51 0h17m25 0h9m136 0h8m9 0h8m-297 2h8m145 0h8m17 0h9m51 0h8m43 0h8m51 0h9m102 0h8m170 0h9m-587 2h9m161 0h9m59 0h9m8 0h9m-230 2h9m25 0h9m25 0h9m170 0h8m85 0h9m144 0h9m-459 2h8m170 0h9m68 0h8m17 0h9m-255 2h8m102 0h9m59 0h9m17 0h17m34 0h8m-297 2h8m26 0h8m9 0h8m9 0h8m68 0h9m42 0h9m-221 2h8m51 0h9m17 0h8m34 0h9m59 0h9m8 0h9m34 0h8m17 0h9m-170 2h8m43 0h8m26 0h17m68 0h8m-357 2h9m246 0h9m-136 2h8m51 0h9m110 0h9m-247 2h9m59 0h9m85 0h8m43 0h8m-161 2h34m51 0h8m60 0h8m26 0h8m68 0h9m-264 2h9m34 0h8m43 0h8m26 0h8m-195 2h17m8 0h17m85 0h17m9 0h17m25 0h9m-221 2h8m68 0h9m127 0h9m-204 2h8m9 0h8m-34 2h9m119 0h8m26 0h8m9 0h17m-179 2h9m93 0h9m59 0h9m42 0h9m-170 2h8m68 0h9m-128 2h9m8 0h9m51 0h8m17 0h9m8 0h9m17 0h8m94 0h8m-161 2h17m8 0h9m136 0h8m-297 2h8m26 0h8m145 0h17m34 0h8m-136 2h9m8 0h9m8 0h9m-128 2h9m17 0h8m68 0h17m-144 2h8m77 0h8m26 0h8m-93 2h8m9 0h8m68 0h9m17 0h8m128 0h8m17 0h9m-111 2h9m17 2h8m-263 2h8m60 0h8m94 0h8m9 0h8m-127 2h8m247 0h8m-263 2h8m43 0h8m68 0h9m127 0h9m-272 2h8m17 0h9m25 0h9m-94 2h9m85 0h8m43 0h8m51 0h9m-221 2h8m26 0h17m51 0h8m17 0h9m93 0h9m51 2h8m-306 2h9m8 0h9m8 0h9m110 0h9m68 0h8m-178 2h8m247 0h8m-272 2h9m17 2h8m-85 2h9m153 0h8m77 0h8m-110 2h8m-119 2h17m60 0h8m60 0h8m34 0h9m25 0h9m-221 2h17m51 0h17m110 0h9m85 0h8m-144 2h8m51 0h9m-272 2h8m51 0h9m85 0h8m153 0h9m-289 2h17m51 0h8m43 0h8m111 0h8m17 0h9m-298 2h9m34 0h8m51 0h9m136 0h17m42 0h9m-323 2h8m9 0h8m26 0h8m204 0h9m85 0h8m-331 2h8m85 0h9m17 0h8m-119 2h9m8 0h9m102 0h8m102 0h9m25 0h17m-340 2h9m246 0h9m8 0h9m42 0h9m-315 2h9m17 0h8m204 0h9m51 0h8m9 0h8m-340 2h9m8 0h9m25 0h9m102 0h8m-153 2h9m42 0h9m85 0h8m9 0h17m25 0h9m25 0h9m51 0h17m34 0h8m-221 2h9m127 0h17m-289 2h9m42 0h17m43 0h8m60 0h8m60 0h8m43 0h8m17 0h9m-340 2h8m77 0h8m51 0h9m110 0h9m25 0h9m-306 2h17m127 0h9m17 0h17m68 0h17m-264 2h17m162 0h8m34 0h17m85 0h9m-400 2h9m85 0h8m102 0h9m25 0h9m119 0h8m26 0h8m-204 2h9m59 0h9m34 0h17m17 0h8m-272 2h9m119 0h8m9 0h8m17 0h9m8 0h9m17 0h17m-221 2h17m93 0h9m17 0h8m68 0h9m17 0h8m68 0h9m-374 2h8m43 0h8m111 0h8m9 0h8m9 0h17m51 0h8m-561 2h9m314 0h9m153 0h8m17 0h9m51 0h8m26 0h8m-51 2h17m34 0h9m-340 2h8m68 0h9m178 0h17m9 0h17m-332 2h9m229 0h9m8 0h9m-17 2h8m43 0h8m26 0h17m-383 2h9m51 0h8m9 0h8m119 0h9m59 0h9m-510 2h8m34 0h9m161 0h9m136 0h8m102 0h9m34 0h8m51 0h9m34 0h8m213 0h8m-646 2h9m280 0h9m25 0h9m17 0h17m68 0h8m-663 2h9m51 0h8m145 0h17m51 0h8m26 0h8m17 0h9m221 0h8m85 0h9m-366 2h9m178 0h17m9 0h8m9 0h8m85 0h9m34 0h8m-663 2h9m221 0h8m26 0h8m17 0h9m8 0h9m195 0h9m51 2h8m34 0h9m25 0h9m-374 2h8m51 0h9m170 0h8m-348 2h8m43 0h8m119 0h9m93 0h9m25 0h9m51 0h8m51 0h9m8 0h9m8 0h17m-374 2h9m8 0h9m8 0h9m119 0h8m196 0h8m-595 2h9m212 0h9m59 0h9m127 0h9m119 0h8m136 0h9m-689 2h9m85 0h8m136 0h26m127 0h9m17 0h8m162 0h8m9 0h8m-552 2h8m94 0h8m400 0h8m51 0h9m-544 2h8m170 0h9m110 0h9m76 0h9m17 0h8m43 0h17m102 0h8m68 0h9m-247 2h9m17 0h8m17 0h9m17 0h8m-527 2h9m136 0h8m17 0h9m212 0h9m8 0h9m34 0h8m34 0h9m8 0h9m-621 2h9m161 0h9m34 0h8m9 0h17m42 0h9m272 0h8m17 0h9m-493 2h8m468 0h8m-586 2h8m706 0h8m9 0h8m51 0h9m-782 2h8m255 0h9m255 0h8m17 0h9m195 0h9m-663 2h8m26 0h8m26 0h8m9 0h8m196 0h8m119 0h9m93 0h9m-655 2h9m8 0h9m51 0h8m68 0h9m42 0h9m476 0h8m-467 2h8m289 0h9m51 0h17m-604 2h17m34 0h9m25 0h9m8 0h9m484 0h17m34 0h9m68 0h8m-697 2h9m68 0h8m26 0h8m417 0h8m17 0h9m42 0h9m178 0h9m-527 2h8m170 0h9m110 0h9m93 0h9m-731 2h8m68 0h17m68 0h9m25 0h9m17 0h8m298 0h8m60 0h8m9 0h8m128 0h8m-816 2h9m34 0h8m94 0h8m162 0h8m366 0h8m68 0h9m-697 2h8m9 0h8m111 0h8m85 0h17m221 0h9m8 0h9m51 0h8m17 0h9m25 0h9m8 0h9m17 0h8m17 0h9m-451 2h9m8 0h9m17 0h17m340 2h8m17 0h9m127 0h9m-808 2h9m8 0h17m204 0h9m382 0h17m51 0h9m76 0h9m93 0h9m-884 2h8m26 0h8m60 0h8m9 0h8m119 0h9m297 0h9m17 0h25m17 0h17m-620 2h8m213 0h8m366 0h8m128 0h8m34 0h9m-714 2h17m136 0h8m26 0h8m315 0h8m9 0h8m-595 2h9m68 0h8m34 0h9m34 0h8m43 0h8m383 0h17m136 0h8m-790 2h8m43 0h8m34 0h9m603 0h9m17 0h8m-569 2h8m434 0h8m9 0h8m-578 2h9m51 0h8m468 0h8m85 0h9m-672 2h9m119 0h8m17 0h9m51 0h8m-93 2h8m77 0h8m366 0h8m17 0h9m170 0h8m-892 2h8m833 0h9m42 0h9m-816 2h8m68 0h9m25 0h9m42 0h9m42 0h9m391 0h8m-527 2h9m578 0h8m-501 2h8m17 0h9m433 0h9m-748 2h8m255 0h9m416 0h9m8 0h9m42 0h9m-544 2h8m60 0h8m408 0h9m-570 2h9m25 0h17m519 0h8m-595 2h9m161 0h9m535 0h9m-816 2h8m128 0h8m68 0h9m493 0h8m34 0h9m68 0h8m-888 2h4m51 0h9m68 0h8m179 0h8m468 0h8m26 0h8m43 0h8m-816 2h9m85 0h8m111 0h8m510 0h9m-77 2h9m42 0h9m-94 2h17m60 0h8m9 0h8m-705 2h8m-25 2h8m153 0h9m459 0h8m60 0h8m9 2h8m-799 2h9m136 0h8m-127 2h8m51 0h17m595 0h9m8 0h9m-655 2h9m654 0h9m-43 2h17m77 0h8m-612 2h9m510 0h8m-399 2h8m-68 6h9m442 0h8m-425 2h9m408 0h8m43 10h8m-68 6h9m-9 6h9m-9 8h9m-9 6h9m0 2h8m-25 6h8m-391 12h9m382 2h9m-408 4h8m-306 2h9m688 0h9m-451 2h9m17 0h8m400 0h8m-450 2h8m-238 2h9m144 0h9m17 0h8m9 0h25m9 0h8m-221 2h9m195 0h17m442 0h9m-476 2h8m-229 2h8m17 0h9m59 0h9m51 0h8m26 0h8m-127 2h8m672 2h8m-671 2h8m612 4h9m8 4h9m-17 2h8m-25 2h17m8 0h9m-17 6h8m94 0h8m-68 2h26m-60 2h9m34 0h8m9 0h8m43 0h8m-85 2h9m-43 2h9m8 0h17m26 0h8m34 0h17m17 0h17m-76 2h8m85 0h9m-162 2h9m25 0h26m93 0h9m-9 2h9m17 2h8m17 0h9m-51 2h8m17 0h17m-25 2h8m34 2h17m-25 2h8m26 0h8m-8 2h8"/>
<path stroke="#0705ff" d="M725 201h17m8 0h9m110 0h9m161 0h9m85 0h8m-858 2h8m68 0h17m153 0h9m119 0h8m60 0h8m196 0h8m-731 2h9m357 0h8m111 0h8m43 0h8m17 0h9m93 0h9m76 0h9m68 0h8m-748 2h9m221 0h8m17 0h9m59 0h9m59 0h9m34 0h8m-450 2h8m26 0h8m60 0h8m43 0h8m34 0h9m382 0h9m-128 2h9m229 0h9m-829 2h4m9 0h8m153 0h9m688 0h9m-748 2h8m94 0h8m663 2h9m-740 2h9m136 70h8m468 2h8m-535 2h8m459 0h9m-731 4h8m162 6h8m638 2h8m-654 2h8m417 2h8m-510 2h9m688 0h9m-680 4h8m136 0h9m442 0h8m-663 2h9m144 0h9m476 0h17m-595 2h8m34 0h9m408 0h8m77 0h8m102 0h9m-714 2h8m68 0h9m272 0h8m9 0h8m187 0h17m77 0h8m60 0h8m119 0h9m-842 2h9m51 0h8m281 0h8m247 0h8m51 0h9m102 0h8m-731 2h9m68 0h8m26 0h8m451 0h8m26 0h8m43 0h8m9 0h8m77 0h8m68 0h9m-986 2h8m68 0h9m51 0h8m485 0h8m51 0h9m85 0h8m51 0h9m25 0h17m-892 2h8m43 0h8m60 0h8m34 0h9m34 0h8m553 0h8m94 0h8m111 0h8m-977 2h8m9 0h8m9 0h25m34 0h9m8 0h9m246 0h9m280 0h26m51 0h8m34 0h17m34 0h9m-859 2h9m42 0h17m17 0h9m51 0h17m34 0h8m68 0h9m153 0h17m136 0h8m9 0h8m34 0h9m34 0h8m34 0h9m17 0h8m68 0h9m161 0h10m-1017 2h4m34 0h17m17 0h17m51 0h17m34 0h9m25 0h9m8 0h9m127 0h9m289 0h17m42 0h9m68 0h8m119 0h17m-909 2h17m17 0h8m26 0h8m408 0h9m119 0h8m9 0h8m43 0h8m26 0h8m9 0h8m26 0h8m43 0h17m68 0h8m9 0h8m17 0h17m-918 2h9m25 0h9m127 0h17m306 0h9m42 0h9m25 0h17m17 0h9m17 0h8m26 0h17m34 0h8m34 0h9m127 0h9m-969 2h8m85 0h9m76 0h9m102 0h8m17 0h9m280 0h9m51 0h8m43 0h8m26 0h17m34 0h8m162 0h8m-952 2h9m136 0h8m43 0h8m26 0h8m60 0h8m43 0h8m230 0h17m42 0h9m8 0h17m68 0h9m25 0h9m110 0h9m25 0h9m-893 2h9m59 0h9m17 0h8m17 0h9m102 0h8m349 0h8m43 0h17m85 0h8m26 0h8m-756 2h8m145 0h8m153 0h9m8 0h9m136 0h17m34 0h8m51 0h9m221 0h8m26 0h8m-952 2h17m51 0h9m25 0h9m42 0h9m51 0h8m94 0h8m102 0h9m59 0h9m85 0h8m136 0h9m-519 2h9m255 0h8m9 0h8m94 0h8m128 0h8m-467 2h17m161 0h9m42 0h9m59 0h26m8 0h17m102 0h9m-778 2h4m230 0h8m136 0h9m59 0h9m119 0h8m51 0h9m17 0h8m119 0h9m-595 2h8m26 0h17m25 0h9m34 0h8m68 0h9m93 0h17m-263 2h8m51 0h9m119 0h8m162 0h17m289 0h8m-646 2h9m34 0h8m51 0h9m34 0h8m77 0h8m17 0h9m119 0h8m-289 2h9m8 0h9m51 0h8m34 0h9m51 0h8m60 0h8m153 0h9m-255 2h8m-238 2h9m25 0h9m153 0h8m-195 2h8m43 0h8m102 0h9m17 0h8m34 0h9m59 0h9m-340 2h8m26 0h8m26 0h8m34 0h9m42 0h9m17 0h8m153 0h9m-374 2h8m43 0h8m213 0h8m17 0h9m17 0h8m17 0h9m59 0h9m-332 2h9m25 0h9m25 0h9m68 0h8m-178 2h17m8 0h9m17 0h8m94 0h8m9 0h8m102 0h9m-272 2h8m17 0h9m34 0h8m26 0h8m51 0h9m42 0h9m-213 2h9m51 0h8m9 0h8m9 0h8m-127 2h17m42 0h9m59 0h9m-128 2h9m17 0h17m42 0h9m17 0h8m43 0h8m9 0h8m-212 2h8m9 0h25m9 0h8m85 0h9m-9 2h9m17 4h8m-119 2h9m17 0h8m68 0h9m17 0h8m-161 2h34m8 0h9m25 0h9m59 0h9m-145 2h9m34 0h8m60 0h8m-68 4h17m94 2h8m-127 2h8m9 0h8m17 0h9m-17 2h8m-119 2h17m9 0h8m34 0h9m42 0h17m85 2h9m-204 2h8m85 0h9m-119 2h8m60 0h8m26 0h8m34 0h9m-34 2h8m-85 2h9m17 0h8m-85 2h9m85 0h8m26 0h17m76 0h9m-136 2h8m-59 2h17m17 0h8m68 0h9m-94 2h9m34 0h8m221 2h9m-272 2h8m119 0h9m-145 2h9m34 0h8m17 0h9m-85 2h8m34 0h17m26 0h8m26 0h8m102 2h9m-238 2h8m102 0h9m68 0h8m77 0h8m-297 2h8m34 0h9m42 0h9m8 0h9m127 2h9m-204 2h17m136 0h8m-68 2h9m-187 2h8m43 0h8m68 0h9m59 2h9m59 0h9m59 0h9m-196 2h9m-9 2h9m42 0h9m-196 2h9m51 0h8m68 2h9m34 0h8m-170 4h9m8 0h9m8 0h9m93 0h9m119 0h8m51 0h9m-204 2h8m119 0h9m25 0h9m-255 2h8m94 0h17m17 0h8m-212 2h8m43 0h8m85 0h9m85 0h8m-221 2h17m26 0h8m60 0h8m9 0h17m-128 2h9m76 0h9m34 0h8m51 0h9m8 0h9m-238 2h17m102 0h8m34 0h9m25 0h9m85 0h8m-178 2h8m43 0h8m85 0h9m34 0h8m-204 2h9m8 0h9m8 0h9m119 0h8m-280 2h8m128 0h8m34 0h9m-264 2h9m68 0h8m145 0h8m60 0h8m60 0h8m43 0h8m-348 2h8m315 0h8m-357 2h9m229 0h9m-247 2h9m68 0h8m60 0h8m17 0h9m42 0h9m25 0h9m8 0h9m8 0h9m-357 2h8m128 0h8m68 0h17m162 0h8m26 0h8m-365 2h17m136 0h8m34 0h9m8 0h9m8 0h17m34 0h9m-247 2h9m161 0h9m8 0h9m68 0h8m-289 2h9m119 0h8m43 0h8m26 0h8m51 0h17m9 0h8m-382 2h8m43 0h17m42 0h9m68 0h8m51 0h9m8 0h9m17 0h8m17 0h9m68 0h8m-314 2h8m119 0h9m59 0h9m76 0h9m59 0h9m-221 2h8m102 0h9m8 0h9m-519 2h9m229 0h9m229 0h9m68 0h8m-314 2h8m85 0h9m144 0h9m-272 2h8m213 0h8m-229 2h8m204 0h17m68 0h9m25 0h17m-459 2h9m93 0h9m263 0h9m-374 2h8m17 0h9m25 0h9m178 0h9m8 0h9m8 0h9m25 0h17m34 0h9m25 0h9m-170 2h8m51 0h9m25 0h9m127 0h9m-213 2h9m119 0h17m25 0h9m-26 2h17m-110 2h17m76 0h17m-527 2h9m365 0h9m8 0h9m8 0h9m34 0h25m26 0h8m17 0h9m-502 2h9m289 0h8m26 0h8m43 0h8m9 0h17m-255 2h8m128 0h8m17 0h9m25 0h9m8 0h9m85 0h8m-391 2h9m51 0h8m170 0h9m68 0h8m34 0h17m43 0h8m-680 2h9m476 0h8m60 0h8m77 0h8m34 0h9m144 0h9m-672 2h17m119 0h9m187 0h8m119 0h9m42 0h9m-400 2h9m8 0h9m340 0h8m9 0h8m-110 2h8m9 0h8m17 0h9m-561 2h8m34 0h9m229 0h9m340 0h8m-399 2h8m213 0h17m-306 2h8m230 0h8m51 0h9m-536 2h9m34 0h8m247 0h8m51 0h9m119 0h8m51 0h9m17 0h8m-340 2h9m246 0h9m85 0h8m-476 2h9m153 0h8m281 0h8m60 0h8m26 0h8m-93 2h8m17 0h9m59 0h9m51 0h8m-714 2h9m170 0h8m408 0h9m-17 2h8m-544 2h9m204 0h8m153 0h9m-366 2h9m25 0h9m161 0h9m238 0h8m102 0h9m-366 2h9m272 0h8m17 0h9m25 0h17m9 0h8m-697 2h9m212 0h17m43 0h8m247 0h8m145 0h8m-348 2h8m213 0h8m-246 2h8m298 0h8m153 0h9m-119 2h8m-646 2h9m102 0h8m468 0h8m26 0h8m17 0h9m212 0h9m-910 2h9m59 0h9m569 0h9m8 0h9m-485 2h9m51 0h8m408 0h9m-493 2h8m646 0h9m-863 2h4m842 0h8m-739 2h8m9 0h8m51 0h9m476 0h8m26 0h8m17 0h9m-425 2h8m374 0h9m25 0h9m-612 2h8m170 0h17m-51 2h9m17 0h8m493 0h9m51 0h8m-535 2h8m629 0h9m-689 2h9m8 0h9m391 0h8m119 0h9m-748 4h8m187 0h9m399 0h9m59 0h9m25 0h9m-774 2h9m42 0h9m187 0h8m-119 4h9m136 0h8m417 0h8m-51 2h17m94 4h8m-510 2h9m-272 2h8m663 0h9m-425 2h8m400 0h8m-442 2h9m25 0h9m399 4h9m-663 2h8m221 4h9m408 0h8m-17 12h9m-9 2h9m-383 10h9m357 0h8m-374 10h9m-17 12h8m-8 4h8m374 2h9m-9 2h9m-17 2h8m-382 2h8m-8 2h8m366 6h8m-433 6h8m434 0h8m-718 2h4m9 2h8m187 0h9m51 0h8m-255 2h9m25 0h9m17 0h8m77 0h8m60 0h8m-212 2h8m60 0h8m43 0h8m51 0h9m34 2h8m-170 2h9m136 0h17m459 0h17m-17 4h8m0 2h9m17 0h8m-42 6h8m17 8h9m0 6h8m9 0h17m8 0h9m59 4h9m-85 2h8m43 0h8m43 0h8m-153 2h9m17 0h8m-42 2h8m51 0h9m93 0h17m26 4h8m34 2h9m-9 4h9m8 0h9m-9 4h9"/>
<path stroke="#0510ff" d="M172 201h9m17 0h8m43 0h8m162 0h8m34 0h9m59 0h9m178 0h9m161 0h9m68 0h8m43 0h8m-850 2h9m68 0h8m77 0h8m51 0h9m102 0h8m60 0h25m26 0h8m136 0h9m8 0h9m178 0h17m60 0h8m-748 2h9m127 0h9m110 0h9m42 0h9m136 0h8m26 0h8m26 0h8m26 0h8m77 0h8m68 0h9m17 0h8m-850 2h9m144 0h9m68 0h8m264 0h8m85 0h9m59 0h9m59 0h9m85 0h8m94 0h8m17 0h9m-748 2h8m43 0h8m9 0h8m9 0h8m102 0h9m8 0h9m59 0h9m59 0h9m17 0h8m26 0h8m-663 2h9m25 0h9m144 0h9m34 0h8m51 0h9m8 0h9m229 0h9m34 0h8m187 0h9m76 0h9m-842 2h9m25 0h17m153 0h9m297 0h9m136 0h8m-646 2h9m153 0h8m179 0h8m162 0h8m-102 2h9m493 0h8m-357 2h9m-561 72h8m604 2h8m43 0h8m68 0h9m-561 2h8m604 0h8m-765 2h9m603 2h9m25 2h9m25 0h9m-646 2h8m34 0h9m51 0h17m-285 2h4m68 0h9m306 0h8m247 0h8m68 0h9m-629 2h8m68 0h9m42 0h9m348 0h9m144 0h9m-578 2h8m17 0h9m42 0h17m646 0h9m-247 2h9m85 0h8m-663 2h9m8 0h9m527 0h8m26 0h8m43 0h8m17 0h9m51 0h8m-773 2h8m187 0h9m365 0h9m51 0h17m136 0h8m-850 2h9m8 0h9m68 0h8m43 0h8m9 0h8m434 0h8m17 0h9m34 0h8m43 0h8m51 0h17m51 0h17m26 0h8m-901 2h9m110 0h9m76 0h9m34 0h8m51 0h9m331 0h17m162 0h8m9 0h8m111 0h8m-952 2h17m51 0h9m25 0h9m110 0h17m85 0h9m246 0h9m110 0h9m8 0h9m-689 2h9m76 0h9m68 0h8m128 0h8m400 0h8m9 0h8m34 0h9m17 0h8m9 0h8m43 0h8m9 0h8m-875 2h8m9 0h8m43 0h8m221 0h9m102 0h8m162 0h8m34 0h26m34 0h17m42 0h9m51 0h8m9 0h8m9 0h17m-914 2h4m68 0h9m85 0h8m9 0h17m59 0h9m59 0h9m399 0h9m-663 2h8m26 0h8m17 0h9m42 0h9m76 0h9m340 0h8m94 0h17m17 0h8m136 0h9m8 0h9m34 0h8m17 0h9m-910 2h9m136 0h8m111 0h8m289 0h9m8 0h9m59 0h9m76 0h9m34 0h8m26 0h8m9 0h8m9 0h17m-918 2h8m9 0h8m68 0h9m8 0h9m25 0h9m8 0h9m25 0h9m85 0h8m332 0h8m60 0h8m77 0h8m26 0h8m17 0h9m93 0h9m17 0h8m-1003 2h9m17 0h8m51 0h9m136 0h8m349 0h8m26 0h17m51 0h8m17 0h9m34 0h8m34 0h9m68 0h8m-888 2h4m17 0h9m68 0h8m68 0h9m25 0h9m17 0h8m68 0h9m178 0h9m110 0h9m76 0h9m59 0h9m8 0h26m110 0h9m-927 2h9m68 0h8m9 0h8m43 0h8m26 0h8m17 0h9m68 0h8m9 0h8m94 0h8m153 0h9m42 0h17m102 0h9m51 0h8m60 0h17m-799 2h8m128 0h8m111 0h8m9 0h8m68 0h9m161 0h9m76 0h9m34 0h8m34 0h9m17 0h17m-714 2h8m51 0h9m102 0h8m26 0h8m34 0h9m272 0h8m51 0h9m93 0h9m93 0h9m-757 2h9m42 0h9m238 0h8m170 0h9m51 0h8m94 0h8m85 0h9m-723 2h9m85 0h8m60 0h8m111 0h8m34 0h9m110 0h9m25 0h17m17 0h9m8 0h9m-672 2h9m195 0h17m17 0h9m119 0h8m9 0h8m136 0h9m25 0h9m25 0h9m34 0h8m26 0h8m-646 2h9m187 0h8m187 0h9m51 0h17m25 0h9m59 0h9m8 0h9m17 0h8m9 0h8m-382 2h17m17 0h8m145 0h8m9 0h8m-212 2h17m8 0h9m25 0h9m17 0h8m119 0h9m85 0h8m9 0h8m43 0h8m-399 2h8m77 0h8m51 0h9m17 0h8m17 0h9m93 0h9m-323 2h8m17 0h9m272 0h8m9 0h8m102 0h9m-323 2h8m196 0h8m-238 2h9m76 0h9m51 0h8m9 0h17m25 0h9m-153 2h8m77 0h25m34 0h9m110 0h9m-374 2h8m9 0h8m77 0h8m187 0h9m-272 2h8m26 0h8m119 0h9m-196 2h9m25 0h9m119 0h17m17 0h8m51 0h9m-255 2h8m34 0h9m136 0h8m-204 2h9m42 0h9m102 0h8m26 0h8m-178 2h8m60 0h8m9 0h8m-34 2h9m25 0h9m17 0h8m153 0h9m-289 2h8m9 0h8m9 0h8m51 0h9m34 0h8m119 0h9m-298 2h9m34 0h8m51 0h17m68 2h9m-77 2h9m42 0h9m-128 2h17m17 0h17m-34 2h9m34 0h8m68 0h9m-85 2h8m17 0h17m17 0h9m-68 2h8m-59 2h8m9 0h8m51 0h9m-34 2h8m43 0h8m-119 2h9m51 0h8m9 2h8m9 0h8m-59 2h25m-34 2h9m17 0h8m17 0h9m25 4h17m-110 2h8m26 0h8m0 4h9m-68 2h8m9 0h8m9 0h17m25 0h9m-34 2h17m-60 2h9m25 0h9m17 4h8m204 0h9m-247 2h9m153 0h8m-221 2h9m85 0h8m-85 2h9m34 0h25m9 2h8m77 0h8m-153 4h9m119 4h8m-161 2h17m42 0h17m17 0h9m-26 2h9m68 0h8m9 0h8m-161 2h8m-8 2h8m-85 2h9m51 0h8m26 0h8m43 0h8m-85 2h17m-34 2h9m76 0h9m-77 2h9m238 0h8m-51 2h9m25 0h9m-255 2h8m34 0h17m145 0h8m-187 2h9m42 0h9m-68 2h8m26 0h8m9 0h8m-127 2h8m68 0h9m25 0h9m25 0h9m8 0h9m25 0h9m25 0h9m-230 4h9m255 0h8m34 0h9m-323 2h8m9 0h8m26 0h8m136 2h17m-178 2h8m85 0h9m68 0h8m-229 2h8m34 0h9m-34 2h8m17 0h9m246 0h9m-264 2h9m102 0h8m102 0h9m25 0h9m-281 2h9m17 0h17m76 0h9m51 0h8m77 0h8m-280 2h8m9 0h8m272 0h9m-298 2h17m17 0h9m127 0h9m-187 2h8m77 0h8m145 0h8m43 0h8m-280 2h8m9 0h8m128 0h8m68 0h9m42 0h9m-306 2h8m9 0h8m145 0h8m9 0h8m94 0h17m8 0h9m-272 2h8m68 0h9m34 0h25m51 0h9m17 0h17m-298 2h9m25 0h17m9 0h8m94 0h8m26 0h8m34 0h9m-60 2h9m51 0h17m25 0h17m-340 2h9m187 0h8m17 0h9m136 0h8m9 0h8m-178 2h8m51 0h9m51 0h34m-332 2h9m153 0h8m17 0h9m8 0h9m68 0h8m26 0h8m-442 2h9m110 0h9m34 0h8m102 0h9m25 0h9m76 0h17m9 0h8m17 0h9m-77 2h9m34 0h8m34 0h9m-162 2h17m94 0h8m-306 2h9m34 0h8m111 0h8m26 0h8m51 0h9m34 0h8m51 0h9m-366 2h9m8 0h9m170 0h8m34 0h9m42 0h9m-94 2h9m34 0h17m42 0h9m-289 2h17m102 0h8m9 0h8m128 0h8m51 0h9m-77 2h9m17 0h8m-544 2h9m178 0h9m17 0h8m213 0h8m-212 2h8m26 0h8m255 0h9m34 0h8m-501 2h8m179 0h17m110 0h9m68 0h17m8 0h9m17 0h8m-153 2h26m42 0h9m93 0h9m-60 2h9m25 0h9m34 0h8m-391 2h9m272 0h8m85 0h9m-196 2h9m93 0h9m68 0h8m-348 2h8m26 0h8m128 0h8m17 0h17m-306 2h9m306 0h8m17 0h9m34 0h8m9 0h8m-297 2h8m162 0h8m9 0h8m94 0h8m43 0h8m-93 2h8m77 0h17m-349 2h9m272 0h17m-451 2h9m144 0h9m195 0h9m59 0h9m34 0h8m-331 2h8m153 0h9m17 0h8m102 0h9m-306 2h8m196 0h17m-187 2h8m9 0h8m145 0h8m51 0h9m68 0h8m-357 2h9m255 0h8m68 0h9m34 0h8m-595 2h9m391 0h8m34 0h9m68 0h17m17 0h8m17 0h9m-68 2h8m-365 2h8m213 0h8m60 0h8m-8 2h8m-433 2h8m434 0h8m77 0h8m26 0h8m-459 2h9m17 0h8m196 0h8m94 0h8m26 0h8m51 0h9m-9 2h9m-502 2h9m331 0h9m127 0h9m8 0h9m-408 2h8m26 0h8m-263 2h8m102 0h9m153 2h8m306 0h9m42 0h17m-467 2h17m59 0h9m17 0h8m128 0h8m187 0h9m-349 2h9m348 0h9m-561 2h8m536 0h8m-340 2h17m306 0h9m42 0h9m-34 2h8m-527 2h9m93 0h9m408 0h8m-518 2h8m434 0h8m77 0h8m119 0h9m-714 2h8m536 0h8m-552 2h8m162 2h8m-263 2h8m604 2h8m9 0h25m-408 2h9m-68 4h8m536 0h8m-93 10h8m-34 2h9m34 2h8m-34 2h9m8 2h9m-34 4h17m-17 2h17m-9 20h9m-391 2h8m0 2h9m357 22h8m-8 6h8m-8 2h8m-8 2h8m-391 4h9m382 0h9m-400 4h9m365 2h9m-672 2h9m272 0h8m-310 2h4m187 0h9m59 0h9m433 0h9m-595 2h8m153 0h9m-230 2h9m17 0h8m153 0h9m-170 2h8m26 0h17m8 0h9m-9 2h9m552 0h9m-587 2h9m586 16h9m8 0h9m-34 2h17m-9 2h9m0 2h17m59 0h9m-77 4h17m34 2h9m34 0h8m26 0h8m-119 2h17m34 0h9m76 0h9m-77 4h9m85 0h8m-161 2h8m136 0h9m-9 2h9m8 0h9m8 2h17m-170 2h9m212 4h10"/>
<path stroke="#021cff" d="M257 201h9m8 0h17m60 0h8m26 0h8m17 0h9m161 0h9m85 0h8m26 0h8m26 0h8m17 0h9m25 0h9m17 0h8m43 0h8m9 0h8m94 0h17m42 0h9m102 0h8m-1007 2h4m85 0h17m77 0h8m17 0h17m9 0h8m26 0h8m111 0h8m111 0h8m60 0h8m128 0h8m26 0h8m17 0h9m8 0h9m110 0h9m-859 2h9m68 0h8m77 0h8m9 0h8m60 0h17m17 0h8m153 0h9m127 0h9m8 0h9m212 0h9m42 0h9m76 0h10m-1004 2h8m9 0h8m26 0h8m323 0h9m34 0h8m60 0h8m17 0h9m34 0h8m9 0h8m68 0h17m77 0h8m17 0h17m68 0h9m25 0h9m93 0h10m-979 2h17m26 0h8m111 0h8m153 0h9m68 0h8m43 0h8m119 0h9m59 0h9m102 0h17m25 0h9m127 0h9m-867 2h8m94 0h8m128 0h8m145 0h17m127 0h9m25 0h9m110 0h9m178 0h9m-808 2h9m76 0h17m119 0h9m34 0h8m102 0h9m280 0h9m59 0h9m-706 2h9m408 0h8m264 0h8m-680 2h9m433 0h9m17 0h8m17 0h9m17 0h8m-765 2h9m654 0h9m204 0h8m-888 6h4m969 0h9m-969 8h8m128 44h8m570 2h8m102 2h9m-663 12h8m9 2h8m-187 2h9m221 0h8m26 0h8m357 0h9m42 0h9m-553 2h9m127 0h9m-102 2h8m26 0h8m553 0h8m26 0h8m-824 2h8m102 0h9m85 0h8m519 0h8m-739 2h17m280 0h26m-170 2h8m485 0h8m-442 2h9m68 0h8m281 0h8m94 0h25m-697 2h9m25 0h9m34 0h8m17 0h9m365 0h9m212 0h9m17 0h8m-731 2h17m17 0h9m586 0h9m195 0h9m-863 2h4m145 0h8m153 0h9m306 0h8m34 0h9m8 0h9m17 0h8m-718 2h4m26 0h8m68 0h9m127 0h17m9 0h17m34 0h8m43 0h17m314 0h9m25 0h9m17 0h8m34 0h9m59 0h9m-731 2h8m34 0h17m17 0h17m51 0h9m323 0h8m51 0h9m102 0h8m9 0h17m110 0h9m25 0h9m-982 2h4m68 0h9m93 0h17m94 0h8m9 0h17m42 0h17m247 0h17m127 0h9m93 0h9m102 0h8m17 0h10m-1004 2h8m68 0h9m25 0h17m68 0h9m8 0h9m59 0h9m59 0h9m76 0h9m161 0h9m8 0h9m25 0h9m59 0h9m153 0h8m51 0h9m-952 2h17m76 0h9m51 0h8m43 0h8m94 0h8m60 0h8m9 0h8m170 0h9m34 0h8m187 0h9m25 0h9m136 0h8m-986 2h9m25 0h9m42 0h9m85 0h8m9 0h8m111 0h17m8 0h9m51 0h8m391 0h9m17 0h8m26 0h8m51 0h9m8 0h17m-973 2h4m68 0h9m8 0h9m25 0h9m34 0h8m145 0h8m153 0h9m153 0h8m153 0h9m25 0h9m17 0h8m26 0h8m68 0h17m-986 2h17m17 0h9m8 0h9m119 0h17m8 0h9m34 0h8m102 0h9m212 0h9m25 0h17m77 0h25m34 0h17m9 0h8m26 0h8m128 0h8m9 0h8m9 0h8m-986 2h9m280 0h9m144 0h9m204 0h8m17 0h9m8 0h9m42 0h9m153 0h8m-926 2h8m102 0h9m25 0h9m102 0h8m26 0h8m9 0h8m34 0h9m68 0h8m17 0h9m170 0h8m51 0h9m34 0h17m8 0h9m17 0h8m17 0h9m8 0h17m17 0h9m34 0h17m34 0h17m-978 2h9m170 0h8m9 0h8m77 0h8m26 0h8m17 0h9m34 0h8m94 0h8m196 0h8m9 0h17m17 0h8m128 0h8m-688 2h8m34 0h9m85 0h8m51 0h9m59 0h9m136 0h8m213 0h8m9 0h8m-765 2h9m17 0h8m366 0h8m68 0h17m9 0h8m17 0h17m9 0h8m9 0h8m34 0h9m110 0h9m-829 2h4m357 0h9m59 0h9m51 0h8m119 0h9m8 0h9m178 0h9m-561 2h8m26 0h8m43 0h8m9 0h8m77 0h8m238 0h9m76 0h9m-536 2h9m34 0h17m17 0h8m77 0h8m136 0h9m8 0h17m51 0h9m144 0h9m-782 2h8m281 0h8m170 0h9m85 0h8m9 0h8m60 0h8m-442 2h9m17 0h8m102 0h26m25 0h9m51 0h8m94 0h8m136 0h9m-357 2h8m9 0h8m9 0h8m34 0h9m68 0h8m-280 2h25m26 0h8m43 0h8m51 0h9m178 0h9m-272 2h8m17 0h9m59 0h9m59 0h9m17 0h8m26 0h8m9 0h8m-340 2h9m68 0h17m110 0h17m51 0h9m8 0h9m76 0h9m8 0h9m-366 2h9m144 0h9m68 0h8m68 0h9m-264 2h17m43 0h8m26 0h8m102 0h9m76 0h9m-306 2h17m17 0h8m85 0h9m127 0h9m-238 2h8m85 0h9m8 0h9m42 0h9m-204 2h8m34 0h9m34 0h17m59 0h9m-162 2h9m34 0h8m43 0h8m9 0h8m17 0h9m17 0h8m17 0h9m-187 2h8m60 0h42m51 0h9m-179 2h17m51 0h17m9 0h34m25 0h9m-136 2h8m17 0h9m8 0h9m51 0h8m-93 2h8m-51 2h9m119 2h8m0 4h9m-85 2h8m17 0h9m42 0h9m-34 6h8m-51 2h9m17 0h8m-25 2h17m-9 10h9m-26 2h9m0 4h8m26 0h8m-51 8h9m0 4h8m-25 2h8m9 0h8m17 0h9m68 0h8m-110 2h34m-43 2h9m8 0h9m-17 2h8m17 2h17m-17 2h9m-17 4h8m-17 6h9m-43 2h9m25 0h9m8 0h9m-51 2h8m34 0h9m8 0h9m-43 2h9m8 0h9m-43 2h9m34 2h8m-59 2h17m8 0h9m34 0h8m-110 2h8m51 2h9m8 0h9m153 0h8m-221 4h9m68 0h8m94 0h8m-136 4h9m8 0h9m8 2h9m0 2h8m85 0h9m-204 2h17m93 0h9m-102 2h8m17 0h9m110 0h9m-213 2h9m34 0h25m34 0h9m-17 2h8m204 0h9m-323 2h8m128 0h8m136 0h9m-264 2h9m221 0h8m-178 2h8m136 0h9m59 0h9m-272 2h8m9 0h17m93 0h9m-213 2h9m59 0h9m17 0h8m119 0h9m-196 2h9m144 2h9m178 0h9m-298 2h9m195 0h9m25 0h9m-298 2h9m8 0h9m280 0h9m25 0h9m-323 2h8m102 0h9m8 0h9m136 0h8m-306 2h34m26 0h8m77 0h8m9 0h8m-144 2h8m34 0h9m102 0h8m9 0h8m9 0h8m51 0h9m17 0h8m26 0h8m-323 2h9m110 0h9m17 0h8m68 0h9m8 0h9m-230 2h9m127 0h9m17 0h8m-170 2h9m119 0h8m9 0h8m145 0h8m-280 2h8m68 0h9m119 0h8m68 0h9m-340 2h8m17 0h17m153 0h9m119 0h8m-144 2h8m9 0h8m43 0h8m26 0h8m-127 2h8m9 0h17m119 0h8m-340 2h17m162 0h17m8 0h9m8 0h9m42 0h9m-238 2h8m255 0h9m8 0h9m8 0h9m-468 2h9m110 0h9m144 0h9m51 0h8m17 0h9m42 0h9m-102 2h25m43 0h8m34 0h9m34 0h8m-357 2h9m187 0h8m68 0h17m-136 2h9m8 0h9m17 0h8m94 0h8m-323 2h9m161 0h17m102 0h51m-289 2h9m255 0h8m17 0h9m-332 2h9m195 0h9m25 0h9m42 0h9m-281 2h9m161 0h26m34 0h25m43 0h17m17 0h8m-110 2h8m77 0h17m-349 2h17m230 0h8m34 0h9m17 0h8m-374 2h9m68 0h8m119 0h9m34 0h8m111 0h8m-331 2h8m9 0h8m145 0h8m77 0h8m9 0h17m17 0h8m17 0h9m-332 2h9m17 0h8m128 0h8m17 0h9m85 0h8m26 0h17m8 0h17m-187 2h9m-400 2h9m229 0h9m161 0h9m102 0h8m77 0h8m-374 2h9m127 0h9m8 2h9m76 0h9m68 0h8m187 0h9m-493 2h8m136 0h9m8 0h9m-196 2h9m178 0h9m85 0h8m26 0h8m-518 2h8m179 0h8m298 0h8m-535 2h8m561 0h9m-162 2h9m34 0h8m17 0h9m51 0h17m-323 2h8m289 0h9m17 0h8m-357 2h9m153 0h8m196 0h8m-195 2h8m162 0h8m-161 2h8m-204 2h9m8 0h9m8 0h9m110 0h9m8 0h9m-332 4h9m450 0h9m8 0h9m25 0h9m-366 2h9m161 0h9m178 0h9m-17 2h8m9 0h8m-348 6h8m-34 2h9m314 2h9m25 0h9m102 0h8m-637 2h8m26 0h8m493 0h9m-400 2h9m25 0h9m-102 2h8m425 0h9m-391 2h8m383 0h8m-25 4h8m17 2h9m-34 2h8m9 2h8m-8 6h8m-8 2h8m-8 2h8m0 2h9m-17 14h8m-569 2h8m774 0h8m26 0h8m-263 4h8m-374 2h9m357 0h8m-17 2h9m-366 4h9m357 2h8m-8 2h8m-8 6h17m-26 2h17m0 6h9m-9 4h9m-17 4h8m-382 8h8m-42 12h8m-263 4h8m119 0h9m25 0h9m-153 2h8m85 0h9m8 0h9m25 0h9m-145 2h9m8 0h9m76 0h9m93 0h9m433 0h9m-621 4h9m-9 2h9m603 0h9m0 2h8m-646 2h9m620 2h9m-26 10h9m8 0h9m34 4h8m-42 6h8m102 2h9m8 0h9m-26 2h9m51 0h8m-110 2h8m17 0h9m76 2h17m-110 6h8m136 2h9m34 0h8m0 2h9m-26 4h9m25 0h10m-10 4h10m-27 4h9"/>
<path stroke="#0028ff" d="M181 201h8m17 0h17m85 0h17m17 0h9m17 0h8m119 0h9m8 0h9m102 0h17m17 0h8m26 0h8m77 0h8m26 0h8m128 0h17m8 0h9m110 0h17m51 0h9m-978 2h17m68 0h9m17 0h8m111 0h8m204 0h9m195 0h9m76 0h9m59 0h17m26 0h17m59 0h9m42 0h17m-1007 2h4m17 0h9m34 0h8m9 0h25m9 0h8m26 0h8m51 0h9m34 0h8m102 0h9m85 0h8m85 0h17m153 0h9m25 0h17m60 0h17m42 0h9m-723 2h17m26 0h17m8 0h9m25 0h9m127 0h9m51 0h17m59 0h9m25 0h9m17 0h8m102 0h9m51 0h8m43 0h8m17 0h9m85 0h8m-943 2h8m9 0h8m26 0h8m34 0h9m25 0h9m42 0h9m93 0h9m51 0h8m34 0h9m102 0h8m179 0h8m60 0h8m85 0h9m34 0h8m60 0h8m-841 2h8m162 0h8m51 0h9m68 0h8m34 0h9m85 0h8m94 0h8m26 0h8m34 0h26m59 0h9m93 0h9m-944 2h9m93 0h9m17 0h17m59 0h9m93 0h9m51 0h8m26 0h8m102 0h9m17 0h8m85 0h9m93 0h9m59 0h9m102 0h8m68 0h9m-978 2h9m238 0h8m9 0h8m94 0h8m85 0h17m213 0h25m51 0h9m17 0h17m-774 2h9m42 0h9m17 0h8m306 0h9m59 0h9m127 0h9m59 0h9m17 0h8m26 0h8m17 0h9m17 0h8m162 0h8m-994 2h8m34 0h9m578 0h17m93 0h9m25 0h9m8 0h9m8 0h9m76 0h9m-323 2h8m17 0h9m85 0h8m34 0h9m17 0h8m43 0h8m-289 2h9m136 0h8m-76 2h8m17 0h9m-468 4h9m-43 6h9m93 10h9m374 16h8m145 12h8m-671 2h8m502 0h8m136 4h9m-9 4h9m-85 4h8m94 0h17m-553 2h9m433 0h17m-561 2h9m110 0h9m382 0h9m93 2h9m-519 2h9m263 0h9m161 0h9m34 0h8m-544 2h9m501 0h9m110 0h9m-808 2h9m34 0h17m51 0h8m17 0h9m586 0h9m-791 2h9m51 0h8m51 0h9m59 0h9m102 0h8m17 0h9m272 0h17m51 0h8m17 0h9m-689 2h9m85 0h8m9 0h17m8 0h9m161 0h9m255 0h8m68 0h9m297 0h9m8 0h9m-969 2h8m26 0h8m34 0h9m102 0h8m119 0h9m272 0h8m102 0h9m8 0h9m102 0h8m-731 2h9m8 0h9m51 0h8m26 0h8m17 0h9m8 0h9m416 0h9m-587 2h9m59 0h9m68 0h8m34 0h9m297 0h9m221 0h8m-739 2h17m8 0h9m8 0h9m289 0h8m9 0h8m94 0h8m102 0h9m42 0h9m76 0h9m59 0h9m-901 2h8m77 0h8m43 0h8m9 0h17m17 0h8m366 0h8m85 0h9m25 0h17m60 0h8m26 0h8m60 0h8m-858 2h8m9 0h8m187 0h9m17 0h8m51 0h9m280 0h9m170 0h8m26 0h8m94 0h8m-875 2h8m51 0h9m25 0h9m34 0h8m9 0h8m9 0h8m85 0h9m102 0h8m94 0h8m136 0h9m51 0h8m85 0h9m34 0h8m-888 2h4m43 0h25m9 0h8m9 0h8m9 0h8m17 0h9m68 0h8m17 0h9m25 0h9m68 0h8m221 0h9m25 0h9m42 0h9m51 0h8m43 0h8m85 0h9m17 0h8m77 0h8m-977 2h8m43 0h8m34 0h9m25 0h9m51 0h8m17 0h9m739 0h9m17 0h8m-1007 2h13m25 0h9m17 0h8m9 0h8m26 0h8m145 0h8m26 0h8m9 0h8m9 0h8m60 0h8m196 0h8m9 0h8m9 0h8m34 0h26m102 0h8m-820 2h4m94 0h8m9 0h8m60 0h8m9 0h8m17 0h9m8 0h17m26 0h8m145 0h8m272 0h9m42 0h17m51 0h9m42 0h9m34 0h17m34 0h8m-960 2h17m17 0h8m9 0h8m51 0h9m85 0h25m9 0h8m94 0h8m298 0h8m9 0h8m60 0h8m17 0h9m17 0h8m51 0h9m25 0h17m-722 2h8m34 0h9m127 0h9m195 0h9m8 0h9m85 0h8m51 0h9m25 0h9m25 0h9m59 0h9m17 0h8m9 0h8m68 0h10m-919 2h8m43 0h17m51 0h17m8 0h9m42 0h9m17 0h8m17 0h9m161 0h9m76 0h9m136 0h17m25 0h9m161 0h9m25 0h9m-961 2h9m136 0h8m17 0h17m34 0h9m17 0h8m68 0h9m178 0h9m8 0h9m136 0h8m60 0h8m9 0h17m-714 2h8m221 0h9m17 0h8m60 0h8m60 0h8m77 0h8m34 0h9m85 0h8m68 0h9m-723 2h9m246 0h9m17 0h8m43 0h8m68 0h9m195 0h9m127 0h9m85 0h8m-671 2h8m17 0h9m76 0h9m144 0h9m68 0h8m43 0h25m230 0h8m-867 2h9m8 0h9m127 0h9m51 0h8m9 0h8m170 0h9m17 0h8m170 0h9m-383 2h9m8 0h9m25 0h9m85 0h8m26 0h8m17 0h9m76 0h9m25 0h9m-349 2h9m8 0h9m8 0h9m8 0h9m153 0h8m85 0h9m25 0h9m17 0h8m-365 2h8m68 0h9m17 0h8m94 0h8m-212 2h8m34 0h9m42 0h9m25 0h9m76 0h9m34 0h8m9 0h8m-272 2h9m68 0h8m136 0h9m59 0h9m25 0h9m-340 2h8m102 0h9m51 0h17m68 0h8m34 0h17m17 0h9m59 0h9m-340 2h25m43 0h8m51 0h9m17 0h8m43 0h8m-246 2h8m77 0h8m68 0h9m51 0h17m-221 2h8m34 0h9m34 0h8m9 0h8m68 0h26m59 0h9m-238 2h8m128 0h8m17 0h9m-187 2h8m85 0h9m102 0h8m51 0h9m-349 2h9m34 0h8m17 0h9m59 0h17m17 0h9m8 0h17m17 0h9m8 0h9m-153 2h17m25 0h17m136 0h9m-162 2h9m68 0h8m-76 2h8m9 0h8m34 0h9m17 2h8m-34 4h9m-77 2h9m153 0h8m-153 2h9m-43 2h9m34 2h8m17 4h9m-43 2h9m136 0h8m-212 2h8m60 0h8m51 4h9m-77 4h9m76 2h9m-94 6h9m136 6h8m-127 4h8m0 4h9m102 2h8m-161 6h8m9 6h8m-42 2h8m9 0h8m17 0h9m-9 2h9m-9 4h9m0 2h8m-34 6h9m8 0h9m17 0h8m-42 2h8m-25 2h8m26 0h8m9 0h8m-34 2h9m8 0h9m8 0h17m-85 2h9m34 0h8m9 0h8m-51 2h9m25 0h17m9 0h8m-76 2h8m43 0h8m-51 2h17m0 4h9m0 2h8m26 2h8m-93 2h8m60 2h8m-93 2h8m17 0h9m8 0h9m51 0h8m-59 2h8m43 0h8m26 0h8m-51 2h9m-77 2h9m8 0h9m76 0h9m-119 2h8m221 0h9m-238 2h8m77 2h8m26 0h8m-59 2h8m34 4h9m93 0h9m-102 2h8m153 0h9m-77 2h9m-230 2h9m-51 4h8m247 0h8m-68 2h9m8 0h9m-77 2h9m102 0h8m-272 2h9m34 0h8m-34 2h17m17 0h9m93 0h9m17 0h8m-119 2h17m-59 2h8m26 0h8m51 0h9m34 0h8m9 0h8m85 0h9m-281 2h9m8 0h9m187 0h8m43 0h17m8 0h9m-85 2h8m43 0h8m85 0h9m-349 2h17m102 0h9m51 0h8m68 0h9m-221 2h8m111 0h17m25 0h9m-204 4h8m17 0h9m119 0h8m60 0h8m34 0h9m-298 2h9m8 0h9m187 0h17m8 0h9m42 0h9m-238 2h8m77 0h8m26 0h8m51 0h9m8 0h17m-229 2h8m85 0h9m42 0h9m17 0h8m43 0h8m17 0h9m8 0h9m-306 2h8m26 0h8m119 0h9m68 0h17m51 0h8m-323 2h17m153 0h9m93 0h9m59 0h9m-196 2h9m25 0h9m8 0h9m42 0h26m8 0h9m-281 2h9m8 0h9m42 0h9m102 0h8m94 0h17m8 0h9m-332 2h9m34 0h8m-348 2h8m357 0h9m76 0h9m17 0h8m85 2h9m8 0h9m-298 2h9m34 0h8m128 0h8m9 0h8m94 0h8m17 0h9m-306 2h8m128 0h17m17 0h8m43 0h8m60 0h8m17 0h9m-187 2h8m162 0h8m-331 2h17m187 0h17m17 0h8m26 0h8m-221 2h9m136 0h8m34 0h9m25 0h17m-280 2h8m230 0h8m17 0h9m-145 2h9m127 0h9m25 0h9m-170 2h8m34 0h9m25 0h9m-204 2h8m272 0h9m-332 2h9m42 0h9m127 0h17m43 0h8m26 0h8m43 0h8m-119 2h9m8 0h9m59 0h9m17 0h8m-340 2h9m306 0h8m-178 2h8m51 0h9m119 2h8m9 0h8m-59 2h8m-306 2h9m161 0h9m187 0h8m-212 2h8m145 0h8m9 2h8m-297 2h8m136 0h9m119 0h8m9 0h8m-425 2h9m110 2h9m8 0h9m136 0h8m128 0h17m-357 4h25m340 2h9m-306 2h8m102 0h9m170 0h8m9 0h8m-34 2h9m-162 2h9m144 0h9m8 0h9m-357 4h8m349 0h8m-8 2h8m-374 4h9m-170 2h8m536 0h8m-34 2h9m-17 4h8m-348 2h8m-17 2h9m8 0h9m-26 2h9m-9 6h9m357 0h17m-17 2h8m-374 4h9m-272 2h8m9 0h8m60 0h8m34 0h9m654 0h9m-757 2h9m136 0h8m434 8h8m-8 2h8m-17 6h9m-366 6h9m348 4h9m0 2h8m-17 14h9m-374 4h8m366 0h8m-382 2h8m-17 2h9m374 0h8m-399 2h8m-170 4h9m127 0h9m408 0h8m-697 2h9m127 0h9m-149 2h13m-13 2h4m128 0h8m26 0h8m77 0h8m442 0h9m-680 2h8m26 0h8m60 0h8m34 0h9m93 0h9m408 0h8m-637 2h17m17 0h8m17 0h9m51 0h8m502 0h8m-654 2h8m26 0h8m153 0h9m442 0h8m-654 4h8m34 0h17m26 0h8m-34 2h9m637 16h9m-51 2h8m9 0h8m-17 2h9m0 2h8m9 0h8m-34 2h9m17 0h8m-8 2h8m17 0h9m-34 2h8m60 0h8m9 0h17m-119 2h8m34 0h9m8 0h17m-17 2h9m-43 2h9m17 0h8m128 0h8m34 0h9m-34 2h8m-178 2h8m187 0h9m-238 2h8m238 0h17m-59 2h8m51 2h9"/>
<path stroke="#0044ff" d="M189 201h9m42 0h9m17 0h8m26 0h8m136 0h9m102 0h8m9 0h8m17 0h26m25 0h9m161 0h9m17 0h25m51 0h26m76 0h17m34 0h9m25 0h9m25 0h17m-977 2h8m26 0h17m8 0h9m76 0h9m8 0h9m93 0h9m25 0h9m110 0h17m68 0h17m9 0h8m43 0h8m51 0h9m68 0h8m43 0h8m9 0h8m43 0h8m34 0h9m17 0h8m9 0h8m17 0h9m-859 2h9m42 0h9m25 0h9m25 0h9m34 0h8m9 0h8m85 0h9m42 0h9m42 0h9m25 0h9m8 0h9m76 0h9m42 0h9m8 0h9m17 0h8m51 0h9m17 0h8m9 0h8m128 0h8m9 0h8m26 0h8m-986 2h9m17 0h8m43 0h8m9 0h8m26 0h8m77 0h8m9 0h8m43 0h8m26 0h8m111 0h8m102 0h9m51 0h8m17 0h17m68 0h9m102 0h8m68 0h9m-876 2h9m8 0h9m76 0h9m59 0h9m8 0h9m76 0h9m161 0h9m8 0h9m34 0h8m17 0h9m17 0h8m51 0h9m102 0h8m43 0h8m9 0h8m94 0h8m51 0h10m-1017 2h4m60 0h8m26 0h8m34 0h9m17 0h8m77 0h17m8 0h9m34 0h8m43 0h8m162 0h8m77 0h8m9 0h8m9 0h8m60 0h8m60 0h8m43 0h8m77 0h8m43 0h8m-943 2h8m179 0h8m26 0h8m26 0h8m9 0h8m9 0h8m187 0h9m34 0h8m34 0h17m26 0h8m17 0h9m34 0h8m9 0h8m9 0h25m145 0h8m26 0h8m-969 2h9m68 0h8m17 0h9m68 0h8m68 0h9m8 0h9m8 0h17m17 0h17m51 0h9m25 0h17m77 0h8m94 0h8m17 0h9m42 0h9m119 0h8m-748 2h9m187 0h8m26 0h8m17 0h9m42 0h9m8 0h9m85 0h8m153 0h9m76 0h9m110 0h9m127 0h10m-1017 2h4m17 0h9m263 0h9m42 0h9m102 0h8m-323 2h9m42 0h9m110 0h9m144 0h9m93 0h9m76 0h9m59 0h9m42 0h9m-757 2h9m8 0h9m17 0h8m187 0h9m246 0h9m119 0h8m247 0h8m-212 2h8m298 0h8m-926 2h8m731 0h9m42 0h9m-408 2h8m-263 2h8m468 6h8m-671 12h8m816 6h9m-748 2h8m570 10h8m119 6h9m-689 2h9m629 4h8m-773 2h8m119 0h9m433 0h17m-382 2h8m68 0h9m-51 2h8m162 0h8m213 0h8m128 0h8m-561 2h9m654 0h9m-825 2h9m544 0h8m43 0h8m51 0h9m-442 2h8m306 0h9m25 0h9m8 0h9m76 0h9m-502 2h9m331 0h9m51 0h8m34 0h9m119 0h8m-688 2h8m60 0h8m417 0h8m9 0h8m102 0h9m42 0h9m8 0h9m-808 2h9m646 0h8m85 0h9m-795 2h4m60 0h8m68 0h9m34 0h8m9 0h8m451 0h17m34 0h17m102 0h8m17 0h9m76 0h9m-948 2h4m9 0h17m238 0h17m76 0h9m255 0h8m-382 2h8m366 0h8m60 0h8m34 0h9m8 0h17m17 0h9m110 0h9m-876 2h9m8 0h9m76 0h9m34 0h8m43 0h8m60 0h8m43 0h8m170 0h9m59 0h9m119 0h8m34 0h17m26 0h17m-816 2h8m221 0h9m170 0h8m179 0h8m9 0h8m51 0h9m8 0h9m17 0h8m94 0h8m43 0h8m51 0h9m-927 2h9m25 0h9m25 0h9m17 0h8m9 0h8m17 0h9m17 0h8m43 0h8m26 0h8m578 0h9m17 0h8m-875 2h8m51 0h26m68 0h8m145 0h8m357 0h9m17 0h8m102 0h9m-825 2h9m59 0h17m26 0h8m213 0h8m34 0h9m238 0h8m85 0h26m161 0h17m9 0h8m-901 2h9m8 0h9m17 0h8m34 0h9m51 0h8m17 0h17m60 0h8m349 0h8m68 0h9m17 0h17m17 0h8m17 0h9m8 0h9m8 0h9m17 0h8m68 0h9m-893 2h9m17 0h8m255 0h9m136 0h8m77 0h8m34 0h9m34 0h8m145 0h25m9 0h8m111 0h17m25 0h10m-996 2h9m59 0h9m59 0h17m9 0h8m145 0h8m204 0h9m51 0h8m26 0h8m85 0h9m8 0h26m76 0h17m9 0h17m17 0h8m9 0h8m51 0h9m-995 2h9m25 0h9m51 0h8m26 0h8m26 0h8m34 0h9m76 0h9m25 0h9m17 0h8m306 0h17m9 0h8m26 0h8m43 0h8m43 0h8m60 0h17m42 0h17m-901 2h9m76 0h9m34 0h8m34 0h9m34 0h8m230 0h8m43 0h8m170 0h9m42 0h9m25 0h9m93 0h9m51 0h8m-867 2h9m25 0h9m8 0h9m8 0h9m59 0h9m8 0h9m8 0h9m59 0h9m42 0h9m42 0h9m8 0h9m127 0h9m17 0h8m204 0h9m76 0h9m-961 2h9m34 0h8m102 0h9m110 0h9m17 0h8m145 0h8m77 0h8m26 0h8m43 0h8m85 0h9m204 0h8m43 0h8m17 0h10m-996 2h9m8 0h9m51 0h8m43 0h8m51 0h9m8 0h9m17 0h17m85 0h17m34 0h8m9 0h8m9 0h8m51 0h9m204 0h8m94 0h8m119 0h9m-689 2h34m9 0h8m60 0h8m196 0h8m51 0h17m26 0h8m289 0h9m25 0h10m-775 2h9m17 0h8m17 0h9m34 0h8m9 0h8m213 0h17m25 0h9m8 0h9m25 0h9m68 0h8m-637 2h8m51 0h9m127 0h9m17 0h8m26 0h8m51 0h9m68 0h8m34 0h9m42 0h17m111 0h8m-493 2h9m17 0h8m162 0h8m162 0h8m26 0h8m17 0h9m-366 2h9m8 0h9m8 0h9m68 0h8m17 0h9m68 0h8m43 0h8m-289 2h17m17 0h9m25 0h9m34 0h8m68 0h9m34 0h8m51 0h9m-332 2h9m178 0h9m76 0h9m42 0h9m255 0h8m-603 2h8m26 0h8m26 0h8m17 0h9m68 0h8m153 0h17m34 0h9m-570 2h9m272 0h17m34 0h8m43 0h8m26 0h17m25 0h9m136 0h8m-382 2h8m60 0h17m34 0h8m26 0h8m9 0h8m94 0h8m-263 2h8m77 0h8m68 0h9m93 0h9m34 0h8m-340 2h9m51 0h17m102 0h17m42 0h9m17 0h8m-170 2h9m34 0h8m34 0h9m8 0h9m25 0h9m8 0h9m8 0h9m25 0h9m-315 2h9m119 0h8m-76 2h8m17 0h17m94 0h8m68 0h9m-264 2h9m144 0h9m68 0h8m-85 2h9m-179 2h9m76 2h17m43 0h17m34 0h8m-51 2h9m-43 4h9m136 0h8m-51 2h9m-68 2h8m17 0h9m68 4h8m-153 4h9m17 2h8m-34 6h9m-9 2h9m136 4h8m-144 2h8m17 2h9m-43 2h9m34 2h8m-17 6h9m102 4h8m-119 2h9m-43 6h9m8 2h9m-17 6h8m-25 2h17m-9 6h9m17 0h17m-26 2h9m-26 2h9m17 0h8m0 2h9m-34 2h8m-17 2h17m9 0h8m-25 6h8m-8 2h8m128 0h8m-8 2h8m-144 2h8m128 0h8m-144 2h8m0 2h9m-17 2h8m-25 2h8m34 0h9m212 0h9m-306 4h8m68 0h9m-60 2h17m51 0h9m-85 4h8m43 0h8m-34 2h9m34 0h17m-68 2h8m9 0h8m26 2h8m-68 2h9m68 0h8m-85 2h9m51 0h8m-136 4h9m42 0h9m17 0h8m26 0h8m145 0h8m-144 2h8m9 0h8m-144 2h8m26 0h17m17 0h8m51 2h9m-119 2h8m17 0h9m8 0h9m68 0h17m-102 6h8m77 0h8m-102 2h9m17 0h8m-34 2h17m111 0h8m26 0h8m68 0h9m-289 2h8m34 0h9m17 2h8m60 0h8m-127 2h8m145 0h8m-153 2h17m119 0h9m-9 2h9m59 0h17m26 0h8m-246 2h8m187 0h9m-247 2h9m144 0h9m17 0h8m68 0h9m-230 2h9m93 0h9m-145 2h9m8 0h9m8 0h9m34 0h8m68 0h9m-136 4h8m34 0h9m68 0h8m9 0h8m34 0h9m42 0h17m-263 2h17m8 0h9m8 0h9m110 0h9m25 0h17m-212 2h8m9 0h8m111 0h8m9 0h8m9 0h8m34 0h9m8 0h9m34 0h8m-110 2h8m26 0h8m51 0h9m-213 2h9m76 0h9m144 0h9m-281 2h9m119 0h17m144 0h9m-272 2h8m111 0h8m68 0h9m17 0h8m-102 2h9m8 0h17m60 0h8m34 0h9m-332 2h9m34 0h17m85 0h8m17 0h9m25 0h9m-196 2h9m25 0h9m144 0h9m8 0h9m17 0h8m-187 2h9m178 0h9m8 0h9m8 0h9m-289 2h8m162 0h8m77 0h8m9 0h17m34 0h8m-331 2h8m43 0h8m119 0h9m59 0h9m8 0h9m-213 2h9m85 0h8m9 0h8m17 0h9m-179 2h9m110 0h9m17 0h8m51 0h9m93 0h9m-340 2h8m26 0h8m272 0h9m-136 2h17m8 0h9m34 0h8m-221 2h9m229 0h9m34 0h17m-332 2h9m195 0h9m76 0h9m-153 2h8m9 0h8m51 0h9m59 0h9m25 0h9m-323 2h8m111 0h8m-127 2h8m128 0h8m17 0h9m17 0h8m43 2h8m43 0h25m-161 2h8m170 0h9m-357 2h8m306 0h9m-298 2h9m17 0h8m94 0h8m9 0h8m-136 2h9m212 0h9m8 0h9m-238 2h8m-34 2h9m306 0h25m-195 2h8m153 0h17m-34 2h9m17 0h17m297 0h9m-646 2h8m272 0h9m8 0h9m-306 2h8m9 0h8m162 0h8m-195 2h8m281 0h8m-280 2h8m-51 2h9m17 2h8m-17 2h9m136 0h8m179 0h8m9 0h8m-340 2h9m314 0h9m-357 2h8m9 0h8m315 0h8m9 2h8m-348 2h8m-25 2h8m26 0h8m-51 4h17m332 0h8m-357 4h9m340 0h8m-17 2h9m17 0h8m-8 2h17m-374 10h8m340 2h9m-553 2h9m34 0h8m-191 2h4m748 0h9m136 0h8m-221 2h9m-9 8h9m-9 4h9m8 0h9m-26 4h9m-366 2h9m340 2h8m9 2h8m-17 8h9m-374 18h8m-34 6h9m8 0h9m-60 4h17m417 0h8m-17 2h9m-693 2h4m17 0h9m153 0h17m17 0h17m8 0h9m-145 2h17m51 0h9m25 0h9m-119 2h8m145 0h8m451 0h8m-595 4h9m544 0h8m17 2h9m-9 4h9m0 2h8m-25 2h8m9 2h8m-34 4h9m34 6h8m-42 2h8m17 0h9m8 2h9m127 0h9m-170 2h8m119 0h9m42 0h9m-136 2h17m-34 2h8m77 0h8m-93 2h8m26 0h8m26 0h8m77 2h17m-153 2h8m170 0h17m0 4h9m-9 2h9m34 0h8m-17 4h9m-51 4h8m51 4h10"/>
<path stroke="#0060ff" d="M232 201h8m162 0h8m17 0h9m68 0h8m9 0h8m255 0h9m110 0h9m76 0h9m51 0h8m68 0h9m-927 2h9m17 0h8m213 0h8m26 0h8m17 0h9m17 0h8m17 0h9m76 0h9m8 0h9m59 0h9m8 0h9m17 0h8m43 0h8m17 0h9m25 0h9m8 0h9m93 0h9m51 0h8m17 0h9m34 0h8m34 0h10m-987 2h8m85 0h9m42 0h9m59 0h9m42 0h9m68 0h8m9 0h8m26 0h8m77 0h8m162 0h8m60 0h8m145 0h8m68 0h9m8 0h9m-999 2h13m42 0h9m17 0h8m68 0h17m85 0h9m25 0h9m8 0h9m42 0h17m111 0h8m26 0h8m68 0h9m8 0h9m17 0h8m34 0h9m17 0h8m9 0h8m68 0h9m25 0h9m51 0h8m9 0h8m17 0h9m8 0h9m34 0h8m-918 2h9m25 0h9m51 0h8m17 0h9m153 0h8m26 0h17m8 0h9m17 0h8m17 0h9m59 0h9m8 0h17m9 0h8m34 0h17m68 0h9m8 0h9m8 0h9m8 0h9m34 0h8m111 0h8m-909 2h8m43 0h8m68 0h9m34 0h8m17 0h9m161 0h9m8 0h17m17 0h9m8 0h9m85 0h17m25 0h26m42 0h9m25 0h9m102 0h8m9 0h8m60 0h8m94 0h8m-986 2h9m34 0h8m85 0h17m85 0h9m127 0h9m25 0h17m34 0h9m68 0h8m26 0h8m9 0h8m34 0h9m17 0h8m26 0h17m25 0h9m25 0h17m34 0h17m26 0h17m59 0h9m8 0h9m-952 2h8m85 0h9m17 0h8m94 0h8m162 0h8m34 0h9m34 0h17m42 0h9m34 0h8m17 0h9m25 0h9m59 0h9m34 0h8m153 0h17m17 0h9m25 0h10m-936 2h8m94 0h17m51 0h17m42 0h9m8 0h9m51 0h8m26 0h8m102 0h9m17 0h8m51 0h9m51 0h8m9 0h8m119 0h9m8 0h9m102 0h8m-926 2h8m332 0h8m9 0h8m136 0h9m25 0h9m85 0h8m34 0h9m25 0h9m34 0h8m136 0h9m34 0h8m-973 2h4m145 0h8m570 0h8m85 0h9m25 0h9m136 0h8m-850 2h9m195 0h9m221 0h8m51 0h9m93 0h9m42 0h9m136 0h8m-952 2h9m17 0h8m230 0h8m85 0h9m425 0h8m-637 2h8m111 0h8m17 0h9m144 0h9m153 0h8m179 0h8m68 0h9m-697 2h8m102 0h9m263 0h9m8 0h9m221 0h8m-187 2h9m25 0h9m42 0h9m-128 4h9m127 0h9m-655 2h9m484 2h9m-604 2h9m612 2h8m145 2h8m-595 2h9m382 2h9m76 8h9m42 2h9m-621 4h9m663 0h8m-756 2h8m672 0h8m51 0h9m-646 4h8m510 0h9m-485 2h9m527 0h8m-697 2h9m756 0h9m-553 4h9m25 0h9m467 0h9m144 0h9m-638 2h9m595 0h8m-127 2h8m-603 2h17m42 0h9m-111 2h9m467 0h9m17 0h8m119 0h9m93 0h9m-714 2h8m111 0h8m468 0h8m-93 2h8m17 0h9m85 0h8m128 0h8m-833 2h9m85 0h8m17 0h9m93 0h9m-319 2h4m60 0h8m9 0h8m60 0h8m51 0h9m17 0h8m34 0h9m25 0h9m255 0h8m230 0h8m179 0h8m-1007 2h4m85 0h9m8 0h17m60 0h8m102 0h9m8 0h9m646 0h8m9 0h8m-909 2h8m51 0h9m17 0h17m93 0h9m314 0h9m170 0h8m43 0h8m-790 2h8m26 0h8m128 0h8m298 0h8m102 0h9m8 0h9m34 0h8m26 0h8m9 0h8m17 0h9m-748 2h17m93 0h9m8 0h9m85 0h8m51 0h9m255 0h8m68 0h17m17 0h9m25 0h9m8 0h9m34 0h8m26 0h8m26 0h8m26 0h8m51 0h9m-884 2h8m34 0h9m76 0h9m42 0h9m85 0h8m315 0h8m34 0h9m17 0h8m43 0h8m9 0h8m9 0h34m17 0h8m-867 2h9m153 0h17m8 0h9m195 0h17m281 0h8m60 0h8m85 0h9m-774 2h9m8 0h9m85 0h8m77 0h8m34 0h9m34 0h8m17 0h9m59 0h9m119 0h8m43 0h8m196 0h8m43 0h8m-867 2h9m17 0h8m9 0h8m17 0h9m8 0h9m68 0h8m9 0h8m34 0h9m102 0h8m145 0h17m8 0h9m110 0h9m59 0h9m85 0h8m34 0h9m76 0h9m-965 2h4m111 0h8m26 0h8m26 0h17m136 0h8m119 0h9m110 0h9m25 0h9m110 0h9m42 0h17m68 0h9m17 0h8m102 0h10m-1017 2h4m34 0h9m17 0h8m68 0h9m8 0h9m178 0h9m34 0h17m17 0h8m17 0h9m178 0h9m153 0h17m76 0h9m42 0h9m-944 2h9m76 0h34m43 0h17m8 0h17m17 0h9m17 0h8m77 0h17m136 0h8m43 0h8m60 0h8m43 0h8m94 0h17m76 0h9m8 0h9m17 0h25m43 0h8m34 0h10m-928 2h9m34 0h8m51 0h9m8 0h9m68 0h8m17 0h9m204 0h17m238 0h8m213 0h8m-969 2h9m25 0h9m187 0h8m9 0h8m9 0h8m9 0h17m85 0h8m9 0h8m17 0h9m229 0h26m110 0h9m76 0h9m68 0h8m-960 2h17m127 0h9m17 0h8m9 0h8m77 0h8m204 0h9m42 0h17m9 0h8m94 0h8m85 0h9m34 0h17m17 0h8m43 0h8m9 0h8m-935 2h9m161 0h9m34 0h8m17 0h9m119 0h8m43 0h8m51 0h9m59 0h9m17 0h8m51 0h9m170 0h8m34 0h9m42 0h9m17 0h8m9 0h8m9 0h8m17 0h10m-1013 2h9m314 0h9m8 0h9m153 0h8m77 0h8m408 0h10m-707 2h9m34 0h8m26 0h8m68 0h9m17 0h17m25 0h9m8 0h9m51 0h17m25 0h17m77 0h8m26 0h8m17 0h9m161 0h9m-935 2h8m179 0h8m26 0h8m17 0h9m8 0h9m127 0h17m85 0h9m59 0h9m8 0h9m8 0h9m17 0h17m263 0h9m-655 2h9m8 0h9m42 0h9m68 0h17m-221 2h8m43 0h8m60 0h8m94 0h25m-204 2h9m212 0h9m136 0h8m187 0h9m-587 2h9m8 0h9m93 0h9m42 0h9m8 0h9m34 0h8m34 0h9m8 0h17m43 0h8m-340 2h9m85 0h8m60 0h8m17 0h9m17 0h8m17 0h9m-119 2h8m68 0h9m8 0h9m8 0h9m68 0h8m-280 2h8m43 0h8m68 0h9m76 0h9m17 0h8m-195 2h17m76 0h9m17 0h8m9 0h8m9 0h8m26 0h8m-255 2h9m51 0h8m153 0h9m17 0h8m-255 2h26m76 0h17m60 0h8m-187 2h9m25 0h9m85 0h8m68 0h9m34 0h8m68 0h9m-264 2h9m51 0h8m128 0h8m-178 2h8m26 0h8m9 0h8m-153 2h17m17 0h9m34 0h8m26 0h8m-17 2h9m42 0h9m51 0h8m-178 2h8m17 0h9m76 0h9m-179 2h9m51 0h8m102 0h9m-34 4h8m-119 2h9m85 0h8m-42 4h8m-34 8h9m170 16h8m-8 12h8m-8 2h8m-153 4h9m136 8h8m-8 18h8m-153 6h9m17 2h17m-26 8h9m119 0h8m-153 2h9m17 0h8m-25 2h8m17 0h9m-9 6h9m-26 2h17m-34 2h17m-8 2h8m26 0h8m-51 2h9m8 0h9m8 2h17m-68 8h9m8 0h9m-34 2h8m9 0h8m-8 2h8m34 2h9m-111 2h9m42 2h9m8 0h26m8 0h9m8 0h17m-76 2h8m34 0h9m8 0h9m127 0h9m-213 2h9m8 0h9m51 0h8m-93 4h8m17 0h9m-60 2h9m8 4h9m59 2h9m17 0h8m-85 2h9m-17 2h8m17 0h9m42 0h26m-26 4h9m-136 2h8m51 0h17m43 0h8m17 0h9m76 0h9m-187 2h8m68 2h26m136 0h8m-297 2h8m111 2h8m68 0h9m110 0h9m-153 2h8m-153 2h17m77 0h8m9 0h8m-144 2h8m26 0h17m-17 2h8m170 0h9m-213 2h9m221 0h8m-238 2h9m42 0h9m76 0h9m59 0h9m-187 2h8m170 0h9m-230 2h9m8 0h9m212 0h9m34 0h8m-263 2h8m9 0h8m17 0h9m110 0h9m8 0h9m25 0h9m-238 2h8m17 0h9m119 0h17m68 0h17m25 0h9m-264 2h9m170 0h8m17 0h9m8 0h9m-230 2h9m102 0h8m60 0h8m-204 2h9m25 0h9m25 0h9m59 0h9m153 0h8m-323 2h9m25 0h9m-9 2h26m187 0h8m26 0h8m17 0h9m-272 2h8m94 0h8m34 0h9m68 0h8m26 0h17m-289 2h8m17 0h9m161 0h9m34 0h8m34 0h9m8 0h9m-119 2h8m34 0h9m-213 2h9m119 0h8m170 0h9m-357 2h8m26 0h8m136 0h9m17 0h17m42 0h9m34 0h17m-298 2h9m127 0h9m8 0h9m59 0h9m-255 2h8m26 0h8m94 0h8m51 0h9m59 0h9m17 0h8m-51 2h9m25 0h9m25 0h9m-136 2h8m34 0h9m76 0h17m-340 2h9m51 0h8m119 0h9m51 0h8m-229 2h8m162 0h8m111 0h8m-306 2h9m153 0h8m153 0h9m-323 2h8m17 0h9m280 0h9m-332 2h9m161 0h9m8 0h9m127 0h17m-357 2h9m153 0h8m26 0h8m102 0h9m25 0h9m-340 2h8m153 0h17m111 0h8m17 0h9m8 0h9m-332 2h17m272 0h9m8 0h9m331 0h9m-629 4h8m111 0h8m9 0h17m144 0h9m8 0h9m-179 2h9m144 0h9m-340 2h8m-17 2h9m17 0h8m145 0h8m153 0h9m-340 2h8m153 0h9m-179 2h9m34 0h8m111 0h8m179 0h8m-17 2h9m8 0h9m-9 4h9m-9 2h9m-357 2h8m323 0h17m0 2h17m-357 2h9m340 0h8m-374 14h9m340 0h8m-348 2h8m-8 2h8m9 0h8m-357 6h9m85 0h17m42 0h9m85 0h25m17 0h9m467 0h9m51 0h8m26 0h8m34 0h9m51 0h8m-841 2h8m791 0h8m-263 2h8m-357 6h9m-9 6h9m-9 4h9m357 0h8m-17 6h9m-366 2h9m-9 4h9m348 18h9m-9 4h9m-417 6h26m-298 4h9m8 0h9m153 0h8m9 0h8m51 0h17m-229 2h8m94 0h8m51 0h9m17 0h8m-229 2h8m111 0h8m17 0h17m510 0h9m-621 4h9m51 0h8m544 0h9m-621 2h9m34 0h8m578 0h9m-17 2h8m-612 2h9m42 0h9m552 6h9m0 8h8m-34 4h9m34 4h8m119 0h17m-25 2h8m17 0h9m-128 2h9m85 0h8m-102 2h9m42 0h9m-17 2h17m34 0h8m43 0h8m-144 2h17m17 0h8m85 0h9m25 0h9m-17 2h8m0 2h9m0 6h8m17 0h9m42 2h10m-367 4h9m323 0h8m9 8h8"/>
<path stroke="#007bff" d="M168 201h4m162 0h8m136 0h17m170 0h9m85 0h8m26 0h8m111 0h8m196 0h8m-663 2h9m25 0h9m42 0h9m59 0h9m17 0h8m51 0h9m408 0h8m17 0h17m-977 2h8m26 0h8m111 0h8m26 0h8m51 0h9m59 0h9m76 0h9m17 0h8m17 0h9m68 0h8m17 0h9m34 0h8m119 0h9m161 0h9m-774 2h9m178 0h9m8 0h9m51 0h8m9 0h8m34 0h9m272 0h8m128 0h8m43 0h8m34 0h9m-982 2h13m8 0h9m68 0h8m26 0h8m94 0h8m179 0h8m94 0h8m145 0h8m43 0h8m9 0h8m34 0h9m25 0h9m42 0h9m8 0h9m25 0h9m25 0h9m17 0h17m-952 2h8m34 0h9m8 0h9m8 0h9m17 0h8m17 0h17m17 0h9m68 0h8m43 0h8m34 0h17m9 0h8m60 0h8m51 0h9m153 0h8m34 0h17m26 0h8m68 0h9m25 0h9m17 0h8m-892 2h8m60 0h8m17 0h9m17 0h8m60 0h8m128 0h17m51 0h8m17 0h9m17 0h8m9 0h8m9 0h8m68 0h9m51 0h8m17 0h9m25 0h9m102 0h17m76 0h9m25 0h17m43 0h8m-1007 2h4m85 0h9m17 0h8m17 0h9m42 0h17m34 0h9m68 0h8m128 0h8m68 0h9m42 0h9m68 0h8m77 0h34m59 0h9m59 0h9m8 0h9m-893 2h9m51 0h8m17 0h9m8 0h9m25 0h9m110 0h9m127 0h9m17 0h8m102 0h9m34 0h8m85 0h9m17 0h8m77 0h8m26 0h8m26 0h8m51 0h9m-901 2h8m9 0h8m60 0h17m34 0h8m34 0h9m8 0h9m110 0h9m25 0h9m34 0h8m43 0h8m77 0h8m17 0h17m77 0h8m247 0h8m26 0h8m-977 2h8m34 0h9m17 0h8m34 0h9m127 0h9m8 0h9m85 0h8m111 0h8m43 0h8m26 0h8m400 0h8m-990 2h4m102 0h9m17 0h8m9 0h8m77 0h8m60 0h17m8 0h9m34 0h8m9 0h8m26 0h8m60 0h8m111 0h8m94 0h8m68 0h9m161 0h9m34 0h8m-671 2h8m179 0h8m34 0h9m102 0h8m34 0h9m110 0h9m-833 2h8m153 0h17m102 0h9m246 0h9m144 0h9m17 0h8m-493 2h9m187 0h8m170 0h9m34 0h8m238 0h9m-901 2h8m247 0h8m340 0h9m187 0h8m68 0h9m34 0h8m-357 2h9m170 0h8m17 0h9m51 0h8m26 0h8m-858 2h8m918 0h9m-867 4h8m128 0h8m417 0h8m-374 2h9m340 0h8m34 0h9m-621 2h9m0 2h8m621 0h8m17 2h9m-459 2h8m-293 4h4m136 0h9m501 0h9m153 2h8m-561 4h9m357 0h8m-510 2h9m552 2h9m8 2h9m-102 2h8m119 0h9m93 0h9m-213 2h9m195 0h9m-774 2h9m187 0h8m366 0h8m9 0h8m-365 2h8m264 0h8m102 0h9m-604 2h9m561 0h8m17 0h9m59 0h9m76 0h9m-247 2h9m212 0h9m85 0h8m-374 2h9m51 0h8m9 0h8m43 0h8m111 0h8m9 0h8m26 0h8m-586 2h8m26 0h8m196 0h8m153 0h17m102 0h9m8 0h9m42 0h9m-842 2h9m85 0h8m544 0h9m68 0h8m-752 2h13m25 0h9m68 0h8m213 0h8m238 0h9m93 0h9m34 0h17m42 0h9m127 0h9m8 0h9m-935 2h8m119 0h9m42 0h9m8 0h9m374 0h8m17 0h9m34 0h8m68 0h9m34 0h25m26 0h8m-688 2h8m9 0h17m119 0h17m501 0h9m-731 2h8m17 0h9m8 0h9m204 0h8m238 0h9m119 0h17m17 0h34m8 0h9m25 0h9m8 0h9m-731 2h17m331 0h9m119 0h8m34 0h9m8 0h9m85 0h17m25 0h9m153 0h8m-935 2h9m8 0h9m8 0h9m153 0h8m128 0h8m213 0h8m9 0h8m77 0h8m9 0h8m85 0h9m17 0h8m51 0h9m-791 2h9m42 0h9m280 0h9m136 0h8m60 0h17m76 0h9m8 0h9m85 0h8m17 0h9m110 0h10m-987 2h8m196 0h8m9 0h8m26 0h8m102 0h9m68 0h8m60 0h17m51 0h17m76 0h9m42 0h17m43 0h8m26 0h8m9 0h8m26 0h8m94 0h8m-918 2h9m8 0h9m93 0h9m8 0h9m51 0h8m26 0h8m221 0h9m34 0h8m68 0h9m51 0h8m26 0h8m68 0h9m8 0h9m8 0h9m42 0h9m-833 2h8m43 0h8m17 0h9m42 0h9m25 0h9m42 0h9m59 0h9m42 0h9m8 0h17m85 0h9m25 0h9m8 0h9m8 0h9m59 0h9m17 0h8m51 0h9m25 0h9m34 0h8m17 0h9m127 0h10m-936 2h25m17 0h9m76 0h9m34 0h8m281 0h8m60 0h17m25 0h9m8 0h9m25 0h17m85 0h9m25 0h17m34 0h9m42 0h9m-944 2h9m25 0h9m8 0h9m8 0h17m43 0h8m170 0h17m366 0h8m9 0h8m119 0h9m42 0h9m8 0h9m8 0h9m-931 2h4m26 0h8m34 0h9m68 0h8m136 0h9m17 0h8m17 0h9m68 0h8m196 0h8m17 0h17m17 0h9m25 0h17m102 0h17m68 0h9m51 0h25m-1003 2h9m17 0h8m26 0h8m136 0h9m42 0h9m42 0h9m34 0h8m17 0h9m93 0h9m17 0h8m34 0h9m93 0h9m17 0h8m162 0h25m17 0h9m25 0h9m8 0h9m8 0h9m-918 2h8m77 0h8m162 0h17m323 0h8m26 0h17m59 0h17m17 0h9m42 0h9m25 0h9m-867 2h17m42 0h9m59 0h9m8 0h9m68 0h8m51 0h17m77 0h8m26 0h8m119 0h9m34 0h17m42 0h9m17 0h8m128 0h8m68 0h9m51 0h8m17 0h9m8 0h9m-986 2h8m26 0h8m128 0h8m68 0h9m25 0h9m85 0h17m25 0h9m8 0h9m17 0h8m111 0h17m34 0h17m246 0h17m17 0h9m8 0h9m17 0h17m-638 2h9m17 0h8m94 0h8m102 0h9m25 0h9m51 0h8m204 0h9m-799 2h8m136 0h9m8 0h9m136 0h8m77 0h8m187 0h9m212 0h9m59 0h9m-952 2h8m119 0h9m93 0h9m25 0h9m51 0h8m43 0h8m34 0h9m8 0h9m42 0h9m8 0h9m331 0h9m76 0h9m-935 2h8m204 0h9m34 0h8m26 0h8m9 0h8m34 0h9m127 0h9m76 0h9m25 0h9m8 0h9m59 0h9m204 0h8m9 0h8m-680 2h9m93 0h9m25 0h9m34 0h17m17 0h17m76 0h9m76 0h9m76 0h9m-493 2h8m102 0h9m25 0h9m68 0h17m17 0h8m17 0h9m17 0h8m-187 2h17m17 0h9m17 0h17m59 0h9m34 0h8m9 0h8m43 0h8m-340 2h9m8 0h9m42 0h9m51 0h8m60 0h8m-255 2h17m51 0h9m34 0h8m51 0h9m17 0h8m102 0h9m-255 2h8m17 0h26m34 0h17m17 0h8m9 0h8m43 0h8m9 0h8m34 0h17m-246 2h8m68 0h17m26 0h8m17 0h9m34 0h17m-162 2h9m59 0h9m34 0h8m34 0h9m-315 2h9m144 0h9m8 0h9m17 0h8m51 0h9m17 0h8m9 0h8m-170 2h9m17 0h8m51 0h9m17 0h17m25 0h9m-162 2h9m8 0h9m110 0h9m-230 2h9m144 0h9m59 0h9m-187 2h8m77 0h8m34 0h17m77 6h8m-195 2h8m77 0h8m-25 2h8m26 0h8m-68 2h9m-9 2h9m136 2h8m-153 16h9m136 4h8m-8 2h8m-8 4h8m-8 10h8m-153 10h9m-9 8h9m-9 8h9m136 4h8m-8 10h8m-8 6h8m-127 4h8m111 2h8m-8 10h8m-127 6h8m-34 2h9m8 0h9m-9 4h17m-42 2h8m17 0h17m-8 4h8m-17 2h9m17 0h8m-42 2h8m-8 2h8m9 0h8m9 0h17m-17 4h17m-85 4h8m34 0h9m-34 6h8m-8 2h8m60 0h8m51 0h9m-162 2h9m76 0h9m-85 4h8m-59 2h17m119 0h8m-93 6h8m-59 4h8m51 0h9m76 0h9m-111 2h9m8 2h9m93 0h9m68 0h8m-229 2h8m43 0h8m60 0h8m-144 2h8m43 0h8m136 2h9m-187 4h8m136 2h9m25 0h9m-85 2h8m-85 2h9m76 0h9m-119 2h8m111 0h8m-25 2h8m-110 4h8m272 0h9m-162 2h9m17 0h8m68 0h9m34 0h8m-272 2h9m17 0h8m68 0h9m93 0h9m-196 2h9m8 0h9m68 0h17m-136 2h8m136 0h17m102 0h9m-247 2h17m204 0h9m-264 2h9m119 0h8m9 0h8m26 0h8m68 0h17m-255 2h9m144 0h17m34 0h9m68 0h8m-297 2h8m9 0h8m111 0h17m76 0h9m8 0h9m-281 2h9m8 0h9m8 0h9m255 0h8m-306 2h9m42 0h9m17 0h8m60 0h8m26 0h8m26 0h8m17 0h9m34 0h17m-264 2h9m127 0h9m42 0h9m34 0h8m43 0h8m-289 2h9m93 0h9m34 0h8m77 0h8m-263 2h8m34 0h17m136 0h9m59 0h9m-264 2h9m280 0h9m-128 2h9m51 0h8m51 0h9m25 0h9m-60 2h9m17 0h8m9 0h8m9 0h8m-348 2h8m315 0h8m-331 2h8m9 0h8m9 0h8m9 0h8m196 0h8m34 0h9m17 0h8m-127 2h8m102 0h9m-332 4h9m144 0h9m25 0h9m85 0h8m68 0h9m289 0h8m-663 2h9m0 2h8m34 0h9m110 0h9m17 0h8m128 0h8m-323 2h9m119 0h8m9 0h8m136 0h9m-315 2h9m51 0h8m264 0h8m-187 2h9m195 0h9m-315 2h9m119 0h8m145 0h8m-331 2h8m-17 2h17m26 0h8m128 2h17m136 0h8m-340 2h9m17 2h8m-34 6h17m332 0h8m-323 2h9m119 0h8m187 2h9m-349 2h9m323 2h8m-348 2h8m340 0h9m-366 2h9m348 4h9m-366 2h9m-9 2h9m0 2h8m-331 2h8m51 0h9m195 0h9m34 0h8m459 0h9m25 0h9m8 0h9m51 0h8m17 0h9m25 0h9m17 0h17m-969 2h8m111 0h8m26 0h8m43 0h17m25 0h9m25 0h9m374 0h8m34 0h9m17 0h17m8 0h9m34 0h8m170 0h10m-341 8h8m-357 20h9m-9 4h9m340 14h17m-17 2h8m-382 10h8m-25 2h8m-255 2h9m646 0h8m-701 4h4m51 0h9m0 2h8m60 0h8m26 0h8m43 0h17m-204 2h8m26 0h8m153 0h9m-170 2h8m34 0h9m552 0h9m-587 2h9m-9 4h9m586 2h9m-561 2h8m561 2h9m-9 4h17m-17 2h9m-9 2h9m0 2h8m-17 2h9m-26 2h9m25 2h17m-25 2h8m77 0h8m-85 2h9m51 0h8m26 0h8m-85 2h9m17 0h17m42 0h9m25 0h9m-128 2h9m-26 2h9m161 0h17m17 0h9m25 0h9m-221 2h8m179 0h8m9 0h8m-204 2h9m204 0h8m-8 2h17m-68 2h8m-170 2h9m204 0h8m26 0h8m-25 2h8m-42 8h8m26 0h8"/>
<path stroke="#0091ff" d="M359 201h9m221 0h8m102 0h9m272 0h8m77 0h8m9 0h8m85 0h10m-664 2h8m272 0h9m212 0h9m-391 2h8m9 0h8m349 0h8m60 0h8m-816 2h9m204 0h8m60 0h8m34 0h9m374 0h8m68 0h9m85 0h8m-824 2h8m111 0h8m85 0h17m77 0h8m400 0h8m17 0h9m25 0h9m-893 2h9m8 0h9m161 0h9m17 0h8m51 0h9m8 0h9m510 0h8m9 0h8m77 0h17m-927 2h9m51 0h8m60 0h8m153 0h9m25 0h9m76 0h9m25 0h9m93 0h9m221 0h8m26 0h8m26 0h8m-892 2h8m43 0h8m85 0h9m8 0h9m25 0h9m136 0h25m34 0h9m25 0h9m85 0h25m34 0h9m8 0h9m51 0h8m119 0h9m85 0h8m60 0h8m-973 2h21m26 0h8m9 0h17m34 0h8m77 0h8m94 0h8m51 0h9m34 0h8m26 0h8m77 0h8m9 0h8m26 0h8m51 0h17m9 0h8m102 0h9m8 0h9m127 0h9m25 0h9m8 0h9m-944 2h9m42 0h9m110 0h17m43 0h8m9 0h8m26 0h8m26 0h8m136 0h9m8 0h9m59 0h17m17 0h9m59 0h9m17 0h25m111 0h8m136 0h9m-995 2h9m76 0h9m85 0h8m17 0h9m170 0h25m17 0h9m59 0h9m93 0h9m17 0h8m102 0h9m17 0h8m77 0h8m26 0h8m-833 2h9m8 0h9m144 0h9m17 0h8m179 0h8m17 0h9m34 0h8m26 0h8m77 0h8m26 0h8m238 0h9m93 0h10m-919 2h8m17 0h9m76 0h26m229 0h9m76 0h9m25 0h9m8 0h9m8 0h9m136 0h8m60 0h8m17 0h9m-740 2h9m119 0h8m383 0h17m306 0h8m-841 2h8m153 0h17m323 0h9m59 0h9m280 0h9m-884 2h8m43 0h8m51 0h9m51 0h8m502 0h8m111 0h8m-807 2h8m26 0h17m433 0h9m144 0h9m17 0h8m111 0h8m68 0h9m25 0h10m-1017 2h4m102 0h9m187 0h8m417 0h8m60 0h8m34 0h9m-799 2h8m128 0h8m34 0h9m289 0h8m221 0h9m-17 2h8m-739 2h8m145 0h8m434 0h8m77 0h8m-620 2h8m221 0h9m-179 2h9m459 0h8m136 0h9m-153 2h8m85 0h9m255 0h8m-841 2h8m111 0h8m323 2h9m314 0h9m-315 2h9m204 0h8m-714 2h9m85 0h8m459 0h9m-655 2h9m229 0h9m34 0h8m349 0h8m43 0h8m85 0h9m-60 2h9m102 0h8m-246 2h8m-518 2h8m536 0h8m26 0h8m145 0h8m-178 2h8m187 2h9m-799 2h8m153 0h9m323 0h8m17 0h17m51 0h9m-527 2h17m68 0h8m332 0h17m204 0h8m-204 2h17m136 0h9m144 0h9m-757 2h9m425 0h8m94 0h8m26 0h8m26 0h8m17 0h9m-765 2h8m77 0h8m128 0h8m77 0h8m340 0h9m102 0h8m9 0h8m-697 2h9m25 0h9m238 0h8m289 0h9m110 0h9m85 0h8m68 0h9m-961 2h9m187 0h8m383 0h8m187 0h9m-383 2h9m153 0h8m247 0h8m17 0h9m-876 2h9m34 0h8m17 0h9m8 0h9m144 0h17m383 0h8m102 0h9m25 0h17m-790 2h8m43 0h8m68 0h17m153 0h9m8 0h9m153 0h8m68 0h9m76 0h9m8 0h9m68 0h17m25 0h9m25 0h17m-850 2h9m25 0h9m42 0h17m221 0h9m238 0h8m9 0h8m9 0h8m17 0h9m8 0h9m51 0h8m26 0h8m60 0h8m85 0h9m25 0h9m-944 2h9m17 0h8m77 0h8m77 0h8m43 0h8m85 0h9m272 0h8m9 0h8m162 0h8m26 0h8m9 0h17m-876 2h9m25 0h9m68 0h8m34 0h9m8 0h9m34 0h17m17 0h8m43 0h8m306 0h9m17 0h8m26 0h8m26 0h8m34 0h9m-731 2h8m43 0h8m43 0h17m8 0h17m34 0h9m34 0h17m59 0h9m68 0h8m94 0h17m76 0h9m42 0h9m8 0h9m25 0h9m25 0h9m34 0h8m9 0h8m68 0h9m-850 2h8m60 0h8m77 0h17m17 0h8m9 0h8m17 0h9m42 0h9m25 0h9m34 0h8m43 0h8m264 0h17m119 0h8m102 0h9m25 0h9m-961 2h9m25 0h9m8 0h9m17 0h25m9 0h8m17 0h9m42 0h9m42 0h9m102 0h8m196 0h8m43 0h8m34 0h9m110 0h9m25 0h9m76 0h9m-850 2h8m60 0h8m17 0h17m68 0h9m221 0h8m17 0h17m68 0h9m34 0h8m43 0h8m9 0h8m26 0h17m25 0h9m25 0h9m34 0h8m17 0h9m-897 2h4m34 0h9m153 0h8m77 0h25m9 0h8m17 0h9m127 0h9m85 0h8m68 0h9m59 0h9m127 0h9m17 0h8m34 0h9m68 0h8m-858 2h8m43 0h8m51 0h34m77 0h8m111 0h8m162 0h8m9 0h8m60 0h8m128 0h8m17 0h9m8 0h9m25 0h9m17 0h8m-990 2h4m26 0h8m26 0h8m43 0h8m26 0h8m77 0h8m17 0h9m34 0h8m34 0h9m25 0h9m68 0h8m153 0h9m25 0h9m8 0h17m136 0h9m34 0h8m43 0h8m-918 2h9m85 0h8m68 0h9m153 0h8m51 0h17m26 0h8m17 0h9m42 0h9m51 0h8m94 0h8m213 0h8m9 0h8m26 0h8m-756 2h8m119 0h9m25 0h9m17 0h8m119 0h9m85 0h8m43 0h8m26 0h8m68 0h17m26 0h8m60 0h8m-799 2h9m221 0h17m17 0h17m68 0h8m43 0h8m43 0h8m34 0h43m195 0h9m17 0h8m9 0h8m26 0h8m51 0h9m-646 2h8m34 0h9m59 0h26m17 0h17m17 0h8m17 0h9m34 0h17m195 0h9m85 0h8m68 0h9m34 0h8m-892 2h8m213 0h8m9 0h8m51 0h9m161 0h9m102 0h8m51 0h9m161 0h9m-918 2h8m85 0h9m144 0h9m76 0h9m17 0h17m42 0h9m102 0h8m26 0h8m366 0h8m51 0h10m-749 2h8m60 0h8m51 0h17m34 0h9m68 0h8m17 0h9m59 0h9m195 0h9m85 0h8m-595 2h9m59 0h9m8 0h9m68 0h8m60 0h8m34 0h9m68 0h8m43 0h8m-365 2h8m77 0h8m51 0h17m17 0h9m8 0h17m17 0h17m357 0h9m-884 2h8m213 0h8m77 0h8m26 0h8m77 0h8m34 0h9m59 0h9m25 0h9m-374 2h8m17 0h26m17 0h8m9 0h8m68 0h9m17 0h8m221 0h9m-323 2h8m17 0h9m51 0h8m9 0h8m-280 2h8m145 0h8m9 0h8m17 0h9m68 0h17m-128 2h17m111 0h25m-246 2h8m204 0h9m76 0h9m-230 4h17m17 0h9m34 0h8m77 0h8m-178 2h8m94 0h8m34 0h9m-196 2h9m178 0h9m25 0h9m-51 2h8m9 0h8m-119 2h9m-51 2h8m60 0h8m-76 2h8m34 2h9m68 2h8m-85 2h9m0 4h8m-42 2h8m17 2h9m-9 2h9m136 2h8m-8 4h8m-8 32h8m-8 22h8m-8 2h8m-8 8h8m-153 16h9m17 10h8m111 2h8m-144 8h8m-17 2h9m-9 2h9m8 4h9m119 0h8m-136 6h9m8 0h9m102 0h8m-153 2h9m8 0h9m0 8h8m-42 2h8m43 0h8m-17 2h17m-68 2h9m17 0h17m17 0h8m-51 2h17m-34 4h9m-34 2h8m26 0h8m51 0h9m-77 2h17m-17 2h9m17 0h8m-8 2h8m-59 4h8m77 0h8m-59 2h8m-34 2h17m9 0h8m60 0h8m-85 4h9m59 2h9m-17 2h8m0 2h9m-94 2h17m247 0h8m-272 2h17m9 0h8m60 0h8m-76 2h8m-42 2h8m9 0h8m-17 2h9m85 0h8m17 0h9m-102 2h17m42 0h9m-102 4h8m94 2h8m102 2h9m-68 2h17m-204 4h8m153 0h9m-128 2h9m85 0h17m59 0h9m42 0h9m-264 2h9m8 0h9m34 0h8m51 0h9m42 0h9m102 0h8m-136 2h17m9 0h8m51 0h9m17 0h8m-229 2h8m128 0h8m-187 2h9m127 0h9m51 0h8m34 0h9m-255 2h17m127 0h9m51 0h8m60 0h8m-255 2h9m110 0h9m8 0h9m42 0h9m17 0h8m26 0h8m9 0h8m-297 2h8m9 0h8m119 0h17m51 0h9m110 0h9m-306 2h8m111 0h8m34 0h17m43 0h34m-247 2h9m110 0h9m85 0h8m34 0h9m-272 2h8m196 0h8m17 0h9m17 0h8m9 0h8m-144 2h8m9 0h8m94 0h8m17 0h9m-306 2h8m43 0h8m68 0h9m8 0h9m59 0h9m34 0h8m-289 2h9m8 0h17m213 0h17m25 0h9m-264 2h9m127 0h9m59 0h9m85 0h8m340 0h10m-681 2h17m629 0h8m9 0h8m-459 2h9m-51 2h8m9 0h8m111 0h8m9 0h8m9 0h8m-340 2h9m8 0h17m272 0h9m8 0h9m17 0h8m-323 2h9m153 0h8m-204 2h9m8 0h9m280 0h9m-315 2h9m42 2h9m-77 2h9m331 0h9m-332 2h9m17 0h8m-42 2h17m8 0h9m-26 2h9m8 0h9m314 0h9m-349 2h9m323 0h8m-331 2h8m136 0h9m-179 4h9m17 2h8m323 0h9m-357 6h8m323 0h9m8 0h9m-357 2h8m332 4h17m-26 2h34m-671 4h8m9 0h8m34 0h9m17 0h17m76 0h9m25 0h9m59 0h9m382 0h9m17 0h8m9 0h17m34 0h8m9 0h8m26 0h8m17 0h26m76 0h9m17 0h8m-841 2h8m43 0h8m502 0h8m111 0h8m9 0h8m-544 2h9m8 2h9m331 0h9m-17 6h8m0 10h9m-17 4h8m-348 2h8m323 2h17m0 2h9m-9 4h9m-17 2h17m-366 2h9m331 0h17m0 2h9m-9 4h9m-9 6h9m-391 4h8m374 6h9m-689 4h9m280 0h9m-281 2h17m179 0h8m26 0h17m-196 2h9m59 0h9m59 0h9m17 0h8m-238 2h9m127 0h17m60 0h8m43 0h8m-195 2h8m604 0h8m-646 2h9m76 0h9m8 0h9m42 2h9m476 0h8m-603 2h8m587 0h8m-8 12h8m9 8h8m-25 2h17m8 2h9m8 0h9m127 0h9m-60 2h9m-102 2h8m51 2h9m8 0h9m93 2h9m0 2h8m17 2h9m-179 2h9m17 0h8m-68 2h9m238 0h8m9 0h8m-17 6h27m-18 2h8"/>
<path stroke="#00a7ff" d="M563 201h9m535 4h9m-255 2h8m-357 2h9m510 0h8m43 0h8m-493 2h9m17 0h8m60 0h8m374 0h9m8 0h9m17 0h8m51 0h10m-724 2h9m25 0h9m187 0h8m451 0h8m-952 2h9m51 0h8m204 0h9m25 0h9m119 0h8m111 0h8m94 0h8m94 0h8m43 0h51m59 0h9m25 0h17m-986 2h17m111 0h25m43 0h8m9 0h8m26 0h8m60 0h8m26 0h8m85 0h9m25 0h9m42 0h9m25 0h9m204 0h8m51 0h9m25 0h9m93 0h9m-918 2h8m9 0h17m85 0h8m51 0h9m8 0h9m17 0h17m59 0h9m17 0h25m17 0h9m8 0h9m85 0h8m111 0h8m60 0h8m43 0h8m34 0h9m8 0h9m34 0h8m26 0h17m25 0h9m25 0h10m-996 2h34m9 0h8m26 0h8m26 0h8m17 0h9m34 0h8m9 0h17m51 0h8m9 0h8m51 0h9m68 0h8m34 0h9m144 0h9m25 0h9m17 0h17m85 0h8m85 0h9m25 0h17m26 0h17m-952 2h8m77 0h8m17 0h9m68 0h8m43 0h17m34 0h8m85 0h9m51 0h17m34 0h17m255 0h8m9 0h8m60 0h8m-824 2h8m34 0h9m76 0h9m59 0h9m76 0h9m25 0h9m34 0h17m76 0h9m34 0h8m102 0h9m8 0h9m59 0h9m51 0h8m26 0h8m43 0h17m34 0h8m34 0h9m-961 2h9m51 0h8m349 0h8m43 0h8m9 0h8m9 0h8m128 0h8m34 0h9m8 0h17m9 0h8m17 0h17m26 0h8m-837 2h4m9 0h8m34 0h17m34 0h9m51 0h8m85 0h9m59 0h26m221 0h8m68 0h9m68 0h8m68 0h17m43 0h8m111 0h8m9 0h8m-935 2h9m51 0h8m9 0h8m43 0h8m26 0h8m213 0h8m162 0h8m43 0h8m145 0h8m9 0h8m26 0h8m-790 2h8m17 0h9m51 0h8m9 0h8m94 0h8m213 0h8m77 0h8m77 0h8m102 0h9m59 0h9m25 0h9m-901 2h8m128 0h8m17 0h9m161 0h17m264 0h8m77 0h8m-527 2h9m34 0h8m391 0h9m204 0h8m9 0h8m17 0h9m76 0h9m-969 2h8m17 0h9m161 0h9m25 0h9m314 0h9m17 0h8m128 0h8m-654 2h8m68 0h9m85 0h8m323 0h9m195 0h9m-740 2h9m25 0h9m246 0h9m255 0h8m94 0h8m9 0h8m17 0h9m76 0h9m-697 2h8m493 0h9m8 0h9m42 0h9m204 0h8m-935 2h9m59 0h9m221 0h8m400 0h8m43 0h8m-603 2h8m383 0h8m68 0h9m17 0h8m68 0h9m25 0h17m51 0h9m-638 2h9m578 0h8m9 0h8m-816 2h9m25 0h9m136 0h8m434 0h25m26 0h8m26 0h8m9 0h8m17 0h9m42 0h9m187 0h8m-1003 2h9m161 0h9m391 0h8m102 0h9m-629 2h8m94 0h8m383 0h8m51 0h17m119 0h9m-612 2h8m502 0h8m60 0h8m-578 2h9m59 0h9m153 0h8m204 0h9m144 0h9m42 0h9m-812 2h4m289 0h9m450 0h9m42 0h9m25 0h9m34 0h8m-697 2h9m102 0h8m340 0h9m85 0h8m34 0h9m-663 2h8m34 0h9m416 0h9m51 0h8m34 0h9m85 0h17m-782 2h8m26 0h8m153 0h9m51 0h17m8 0h9m85 0h8m298 0h8m34 0h9m51 0h8m94 0h8m-875 2h8m145 0h8m77 0h8m9 0h8m408 0h9m144 0h9m-867 2h8m9 0h8m102 0h9m144 0h9m68 0h8m-365 2h8m153 0h9m42 0h9m34 0h8m128 0h8m213 0h8m85 0h9m-570 2h9m8 0h9m25 0h9m263 0h9m178 0h9m42 0h17m43 0h17m8 0h9m25 0h9m144 0h9m-935 2h8m153 0h9m85 0h8m255 0h9m76 0h9m42 0h9m76 0h9m42 0h9m-833 2h8m60 0h17m59 0h17m9 0h34m8 0h26m306 0h8m77 0h8m43 0h8m9 0h8m43 0h8m-748 2h9m25 0h9m110 0h9m42 0h17m9 0h8m43 0h8m9 0h8m9 0h8m315 0h17m17 0h8m17 0h9m25 0h9m25 0h9m42 0h9m-808 2h9m382 0h9m34 0h8m77 0h8m9 0h8m17 0h9m76 0h9m51 0h8m51 0h9m59 0h9m-833 2h17m51 0h8m102 0h9m8 0h9m8 0h17m357 0h9m17 0h8m9 0h8m17 0h17m221 0h9m-952 2h8m26 0h8m9 0h8m9 0h8m17 0h17m34 0h9m68 0h17m17 0h8m17 0h9m59 0h9m93 0h17m281 0h8m17 0h26m34 0h8m-816 2h17m9 0h8m60 0h8m9 0h8m34 0h9m25 0h17m26 0h17m51 0h8m119 0h9m68 0h8m34 0h9m42 0h9m17 0h8m34 0h26m-638 2h9m8 0h9m51 0h8m17 0h17m34 0h9m119 0h8m9 0h8m94 0h8m128 0h8m51 0h9m34 0h8m60 0h8m43 0h8m17 0h9m25 0h17m-918 2h26m144 0h9m8 0h9m25 0h9m127 0h9m59 0h9m136 0h8m94 0h8m68 0h9m25 0h9m17 0h8m34 0h9m85 0h8m-956 2h4m43 0h8m17 0h9m8 0h9m144 0h9m42 0h9m17 0h8m26 0h8m162 0h8m85 0h34m111 0h8m43 0h17m8 0h9m25 0h17m51 0h9m-935 2h17m229 0h17m26 0h8m9 0h8m26 0h8m77 0h8m85 0h9m85 0h8m145 0h8m9 0h8m68 0h26m8 0h17m60 0h8m-935 2h9m8 0h9m17 0h8m26 0h8m204 0h17m179 0h8m85 0h9m340 0h17m8 0h10m-936 2h17m136 0h8m128 0h8m94 0h8m26 0h8m17 0h9m68 0h8m26 0h8m26 0h8m204 0h9m59 0h9m-850 2h8m34 0h9m76 0h9m85 0h8m17 0h9m85 0h8m60 0h8m43 0h8m204 0h17m68 0h9m127 0h10m-970 2h8m68 0h9m136 0h8m128 0h8m17 0h9m8 0h9m59 0h9m238 0h8m26 0h8m51 0h9m110 0h9m8 0h9m8 0h10m-970 2h8m221 0h9m25 0h9m127 0h17m94 0h8m34 0h9m8 0h9m17 0h8m281 0h17m17 0h17m25 0h10m-724 2h9m42 0h9m17 0h8m26 0h8m17 0h9m187 0h8m94 0h8m94 0h8m77 0h8m60 0h25m-799 2h9m153 0h8m26 0h8m17 0h9m25 0h9m25 0h17m34 0h9m391 0h8m9 0h8m9 0h8m9 0h8m-629 2h9m8 0h9m59 0h9m450 0h9m-893 2h9m93 0h9m153 0h8m94 0h8m9 0h8m26 0h8m43 0h8m-110 2h8m43 0h8m34 0h9m8 0h9m-51 2h34m59 0h9m-391 2h8m153 0h9m25 0h9m85 0h8m34 0h9m-102 2h8m17 0h9m8 0h9m-94 2h9m59 0h9m136 0h8m-127 2h8m94 0h8m-51 2h17m17 0h9m-77 2h9m34 0h8m-68 2h9m0 4h8m-59 2h8m111 0h8m-59 2h8m43 0h8m-204 2h9m59 0h9m-26 12h9m136 2h8m-8 6h8m-153 6h9m136 6h8m-8 76h8m-8 20h8m-8 4h8m-8 2h8m-144 2h8m17 0h9m-9 4h9m-17 2h17m170 0h8m-195 4h8m-17 2h26m102 0h8m-153 4h9m0 2h17m17 0h8m-17 2h9m-34 2h8m-34 4h17m43 0h8m-59 2h8m9 0h8m128 0h8m-8 2h8m-153 2h17m26 0h8m-17 6h9m17 0h8m-85 6h9m-9 4h9m68 2h8m-93 2h17m-17 2h8m68 0h9m-77 2h9m-9 2h9m-26 6h9m0 4h8m-8 2h8m9 0h8m51 0h9m42 4h9m8 0h9m-9 2h9m-77 2h9m144 2h9m-238 2h8m-8 2h8m-8 2h8m77 0h8m-76 2h8m68 0h9m144 0h9m-162 2h9m-111 4h17m102 0h9m8 0h9m76 0h9m-238 2h8m17 0h9m68 0h8m102 0h17m34 0h9m-281 2h9m8 0h9m110 0h17m26 0h8m34 0h9m-204 2h25m153 0h9m51 0h8m-272 2h9m17 0h8m187 0h9m-111 2h9m102 0h8m9 0h17m-221 2h8m128 0h8m-204 2h9m161 0h9m59 0h17m43 0h8m-263 2h8m94 0h8m34 0h9m8 0h9m76 0h9m-111 2h9m17 0h8m9 0h8m60 0h8m-263 2h8m77 0h8m26 0h17m-179 2h9m8 0h9m25 0h9m68 0h17m127 0h9m17 0h8m-289 2h9m8 0h17m9 0h8m85 0h9m0 2h8m-178 2h8m145 0h8m162 0h8m-314 2h8m0 2h9m272 0h25m-314 2h8m26 0h8m111 0h8m145 4h17m-298 2h9m102 0h8m9 0h8m153 0h9m-349 4h9m25 0h9m127 0h9m153 2h8m-323 2h9m-9 2h17m306 0h9m-26 2h9m-323 2h8m17 0h9m314 0h9m-349 4h9m-9 2h9m8 0h17m306 0h9m-672 10h9m170 0h8m9 0h17m51 0h8m417 0h17m8 0h9m59 0h9m127 0h9m-884 2h25m9 0h8m17 0h9m68 0h8m94 0h8m400 0h8m26 0h8m136 0h9m51 0h17m25 0h9m-663 4h8m-8 4h8m332 6h8m-348 4h8m332 8h8m0 2h9m-17 2h8m-8 2h8m-8 8h8m-357 2h9m348 14h9m-17 2h8m-391 2h9m8 0h9m-26 2h9m374 0h8m-416 2h8m-272 2h9m25 0h17m136 0h17m-208 2h4m34 0h9m8 0h9m51 0h8m26 0h8m26 0h17m-85 2h17m25 0h17m9 0h25m485 0h8m-603 4h8m60 0h8m17 0h9m17 0h8m459 0h9m-629 2h8m43 0h8m561 0h9m-612 2h8m578 0h9m-587 2h9m25 0h9m136 0h8m417 0h8m-620 2h17m586 2h17m-8 2h8m-8 2h8m-34 6h9m25 0h9m-26 6h9m161 0h17m-187 2h9m187 0h8m-178 2h8m17 0h9m136 2h17m-247 2h9m59 0h17m9 0h8m-102 2h9m85 0h8m77 0h8m-85 2h9m8 0h9m8 0h9m8 0h9m8 0h9m68 0h8m-136 2h9m59 0h9m85 0h8m-204 2h9m204 0h8m-238 2h9m161 0h9m68 0h8m-255 4h9m25 0h9m229 0h9m0 6h8m-8 2h8m-357 2h9m289 2h8m43 0h18"/>
<path stroke="#00bdff" d="M810 205h8m281 0h8m-229 4h8m281 0h8m-518 2h8m459 0h9m-740 2h9m17 0h8m128 0h8m612 0h10m-970 2h8m17 0h9m85 0h8m204 0h9m297 0h9m289 0h8m-765 2h9m42 0h9m68 0h8m17 0h9m85 0h8m9 0h8m94 0h17m255 0h8m26 0h8m9 0h8m43 0h8m-901 2h9m34 0h8m26 0h8m77 0h8m9 0h8m68 0h17m179 0h8m17 0h9m68 0h8m128 0h8m102 0h9m34 0h8m34 0h9m-893 2h9m85 0h17m51 0h25m9 0h8m68 0h17m85 0h9m68 0h17m8 0h17m17 0h9m17 0h8m26 0h8m94 0h8m119 0h9m17 0h17m34 0h8m51 0h10m-1013 2h9m170 0h17m136 0h8m9 0h8m68 0h9m8 0h17m34 0h9m76 0h9m8 0h9m68 0h17m76 0h9m42 0h17m17 0h17m51 0h9m34 0h8m-935 2h9m8 0h9m25 0h9m17 0h8m111 0h8m51 0h17m17 0h9m17 0h8m43 0h8m85 0h9m102 0h8m17 0h9m17 0h8m60 0h8m9 0h8m26 0h8m77 0h8m60 0h17m-948 2h4m26 0h8m111 0h8m60 0h17m136 0h8m43 0h8m43 0h8m94 0h8m26 0h8m247 0h8m9 0h8m68 0h9m-876 2h9m51 0h8m60 0h8m51 0h9m68 0h8m196 0h8m60 0h8m128 0h17m144 0h17m-909 2h17m8 0h17m34 0h9m8 0h9m42 0h9m59 0h9m212 0h9m85 0h8m17 0h9m17 0h8m17 0h9m119 0h8m153 0h9m76 0h10m-987 2h17m8 0h9m8 0h17m85 0h9m25 0h9m102 0h8m153 0h9m170 0h17m34 0h8m51 0h9m17 0h8m60 0h8m77 0h8m-952 2h9m59 0h9m85 0h8m162 0h8m264 0h8m306 0h9m68 0h18m-1013 2h9m51 0h8m145 0h8m17 0h26m17 0h8m34 0h17m162 0h8m213 0h8m102 0h9m51 0h8m26 0h8m68 0h10m-987 2h8m34 0h9m8 0h9m102 0h8m43 0h8m43 0h8m374 0h9m59 0h17m9 0h8m68 0h9m136 0h8m-960 2h8m221 0h9m331 0h17m34 0h9m25 0h9m17 0h8m17 0h9m-723 2h9m620 0h9m8 0h17m43 0h8m43 0h8m68 0h9m25 0h9m-859 2h9m501 0h9m127 0h9m93 0h9m-748 2h8m26 0h8m578 0h9m110 0h9m68 0h8m-816 2h9m76 0h9m136 0h8m374 0h9m34 0h8m26 0h8m51 0h9m-808 2h9m221 0h8m128 0h8m221 0h9m42 0h9m25 0h9m127 0h9m-765 2h8m493 0h9m93 0h9m8 0h9m25 0h9m25 0h9m8 0h9m-748 2h8m9 0h8m221 0h9m25 0h9m314 0h9m34 0h8m85 0h9m8 0h9m-689 2h9m42 0h9m68 0h8m17 0h9m263 0h9m221 0h8m-535 2h8m408 0h17m94 0h8m43 0h8m-187 2h9m51 0h8m43 0h25m51 0h9m-825 2h9m136 0h8m26 0h8m408 0h9m17 0h8m51 0h17m68 0h17m-799 2h9m161 0h9m34 0h8m366 0h17m25 0h9m17 0h8m17 0h9m34 0h8m247 0h8m-867 2h9m59 0h9m484 0h9m34 0h8m26 0h8m-731 2h9m221 0h8m145 0h8m162 0h8m26 0h8m102 0h17m102 0h9m110 0h9m-969 2h8m9 0h8m60 0h8m34 0h9m34 0h8m434 0h8m17 0h9m110 0h17m26 0h8m43 0h8m85 0h9m-808 2h9m93 0h9m8 0h9m297 0h9m102 0h8m26 0h8m9 0h8m17 0h9m51 0h8m34 0h9m119 0h8m-858 2h8m119 0h9m8 0h9m17 0h17m127 0h9m110 0h9m8 0h9m25 0h9m153 0h8m102 0h9m-914 2h4m17 0h9m42 0h9m187 0h8m9 0h8m34 0h9m25 0h9m8 0h9m229 0h9m25 0h9m17 0h8m145 0h8m-837 2h4m68 0h9m8 0h9m76 0h17m51 0h17m332 0h17m25 0h9m93 0h9m-672 2h9m34 0h17m161 0h9m17 0h8m289 0h9m17 0h17m25 0h9m25 0h9m8 0h17m60 0h8m68 0h9m42 0h9m-893 2h17m17 0h9m25 0h9m68 0h8m68 0h17m51 0h9m110 0h9m144 0h9m8 0h9m8 0h9m34 0h17m8 0h9m68 0h8m17 0h9m8 0h17m17 0h9m-850 2h8m43 0h8m51 0h17m9 0h8m17 0h9m8 0h17m51 0h34m230 0h17m76 0h9m8 0h9m17 0h8m9 0h8m9 0h8m77 0h8m26 0h25m9 0h8m34 0h9m-825 2h34m77 0h8m43 0h8m94 0h8m9 0h8m26 0h8m85 0h9m102 0h8m9 0h8m68 0h9m153 0h8m-871 2h4m17 0h9m25 0h9m68 0h17m34 0h8m9 0h34m17 0h8m26 0h8m43 0h8m94 0h8m77 0h8m111 0h8m43 0h8m51 0h9m8 0h9m76 0h9m-842 2h9m25 0h9m42 0h9m42 0h17m43 0h8m17 0h9m8 0h9m17 0h8m383 0h8m9 0h8m43 0h8m68 0h17m68 0h17m51 0h9m-952 2h8m17 0h9m8 0h9m17 0h8m17 0h9m161 0h9m136 0h8m9 0h8m60 0h8m60 0h8m34 0h9m76 0h9m127 0h17m17 0h17m51 0h9m-901 2h8m26 0h8m17 0h9m153 0h8m9 0h8m9 0h8m111 0h8m179 0h17m42 0h9m34 0h8m9 0h8m94 0h8m9 0h8m26 0h17m-910 2h9m119 0h8m9 0h8m111 0h8m85 0h9m127 0h17m43 0h8m9 0h17m93 0h9m34 0h8m9 0h8m43 0h8m94 0h8m-697 2h9m144 0h9m34 0h8m102 0h9m51 0h8m17 0h9m68 0h8m136 0h9m119 0h25m-926 2h8m60 0h8m43 0h8m43 0h8m17 0h9m119 0h8m26 0h8m26 0h17m8 0h9m59 0h9m365 0h17m-918 2h9m17 0h8m17 0h9m8 0h9m280 0h9m17 0h17m110 0h9m110 0h9m255 0h8m9 0h8m60 0h8m-943 2h8m77 0h8m153 0h9m76 0h9m34 0h8m51 0h9m93 0h17m34 0h9m255 0h8m60 0h17m-961 2h9m161 0h9m187 0h8m43 0h8m26 0h25m9 0h8m85 0h9m144 0h9m25 0h9m161 0h9m17 0h8m9 0h8m-994 2h8m340 0h9m8 0h17m34 0h9m42 0h9m17 0h8m68 0h9m161 0h9m-723 2h9m374 0h8m9 0h8m77 0h8m43 0h8m51 0h17m-195 2h8m9 0h17m34 0h8m476 0h10m-664 2h8m43 0h17m102 0h8m451 0h8m-629 2h9m110 0h9m-94 2h9m68 0h17m34 0h8m425 0h9m-587 2h17m68 0h9m102 0h8m-76 2h8m26 0h8m-136 6h9m110 0h9m-204 2h8m153 0h9m17 0h8m-119 2h17m26 2h8m34 0h9m-94 10h9m-9 2h9m-9 4h9m136 18h8m-8 16h8m-8 10h8m-8 10h8m-8 8h8m-8 8h8m-8 6h8m-8 10h8m119 2h9m-136 30h8m-8 2h8m-8 4h8m-136 12h9m-26 2h9m136 2h8m-144 6h8m9 0h8m0 2h9m102 0h8m-153 2h26m-9 2h9m-26 2h9m17 0h8m0 2h9m-43 2h9m0 2h8m26 0h8m-34 2h9m17 2h8m-51 2h9m17 0h8m9 0h8m-42 4h8m34 0h9m-43 2h9m25 0h9m-26 2h9m0 2h8m-119 2h9m93 2h9m8 0h9m-68 4h8m145 0h8m-161 4h8m51 2h9m-17 2h8m9 0h8m-17 2h9m-68 2h8m-8 6h8m-59 2h8m34 4h9m68 0h8m-25 6h8m26 0h17m59 2h9m34 0h8m-221 2h9m212 4h9m-255 2h8m17 0h9m59 2h9m-77 2h9m195 0h9m17 0h8m-255 2h9m76 0h9m76 0h9m-43 2h9m51 0h8m26 0h8m-221 2h9m-43 2h9m102 0h8m85 0h9m34 0h8m-221 2h9m102 0h8m102 0h9m-247 2h9m85 0h17m34 0h8m-161 2h8m9 0h8m94 0h8m26 0h8m468 0h8m-637 2h8m85 0h9m25 0h9m34 0h8m68 4h9m-145 2h9m8 0h9m8 0h9m153 0h8m-323 2h9m161 0h9m85 0h8m-102 2h9m-153 2h8m111 0h8m-153 2h9m8 0h9m85 0h8m34 0h9m-145 2h9m102 0h17m136 0h8m-289 2h9m8 0h9m119 0h8m-144 2h8m145 0h8m128 0h8m-289 2h9m110 0h17m-136 2h9m-26 2h17m111 0h8m-161 4h8m315 0h8m-17 4h9m-306 2h8m315 0h8m-331 2h8m315 0h8m-331 2h8m306 2h17m-340 2h9m0 4h8m-361 2h4m34 0h9m8 0h9m102 0h8m60 0h8m60 0h8m17 0h9m442 0h8m145 0h8m68 0h10m-1013 2h9m34 0h8m136 0h9m8 0h9m42 0h17m17 0h9m17 0h8m476 0h17m17 0h9m25 0h9m59 0h9m-604 8h9m331 0h9m-17 8h8m-357 8h9m331 6h9m-349 4h9m340 0h8m-8 10h8m-17 4h9m-357 4h8m-195 4h8m544 2h9m-417 4h9m-136 4h8m68 0h9m51 0h8m-289 2h9m8 0h9m144 0h9m501 0h9m-672 2h9m25 0h9m17 0h8m17 0h9m127 0h17m391 0h9m-604 2h9m76 0h9m8 0h9m51 0h8m-195 2h8m77 0h8m544 0h9m-595 2h8m17 0h9m561 0h8m-569 2h8m553 0h8m-603 2h8m17 0h9m561 0h8m-578 2h9m8 0h9m-51 2h8m578 2h9m-587 2h9m42 2h9m-43 2h9m552 0h9m17 0h8m-51 2h9m34 0h8m-17 2h9m0 2h17m-34 4h8m9 0h8m136 2h26m17 0h8m-187 2h26m102 0h17m25 0h9m-196 2h9m8 0h9m102 0h8m17 0h9m-136 2h8m9 0h8m17 0h9m8 0h9m0 2h8m26 0h8m85 0h9m-128 2h9m51 0h8m60 0h8m-178 2h8m26 0h8m136 0h9m8 2h9m-111 2h9m-221 2h8m111 0h8m26 0h8m9 0h8m196 0h8m-246 4h8m119 0h9m110 0h10m-69 2h8m-306 2h9m331 2h9m8 0h10"/>
<path stroke="#00d2ff" d="M1099 215h8m-731 2h9m408 0h8m298 0h8m-816 2h9m25 0h17m298 0h17m17 0h8m26 0h8m264 0h8m68 0h9m-791 2h17m196 0h25m77 0h8m26 0h8m9 0h8m26 0h8m145 0h8m9 0h17m93 0h9m17 0h8m43 0h8m43 0h8m17 0h9m-935 2h8m153 0h9m17 0h8m34 0h9m34 0h17m42 0h9m42 0h17m145 0h25m51 0h9m25 0h9m25 0h9m25 0h17m26 0h8m60 0h8m60 0h8m68 0h9m-986 2h17m42 0h17m94 0h8m51 0h9m25 0h9m25 0h9m76 0h9m34 0h8m9 0h8m43 0h8m17 0h9m51 0h8m43 0h8m51 0h9m59 0h9m8 0h9m25 0h9m59 0h9m59 0h9m17 0h8m17 0h10m-1013 2h9m42 0h9m42 0h9m17 0h8m17 0h9m25 0h9m8 0h9m51 0h8m60 0h8m94 0h8m68 0h9m8 0h9m25 0h9m8 0h9m8 0h9m51 0h8m26 0h8m77 0h8m17 0h9m34 0h17m42 0h17m17 0h9m51 0h8m-1003 2h9m8 0h9m42 0h9m93 0h9m25 0h9m17 0h8m26 0h8m85 0h9m25 0h9m102 0h8m26 0h17m8 0h9m34 0h8m26 0h8m17 0h9m17 0h8m9 0h8m26 0h8m68 0h9m25 0h9m17 0h8m51 0h17m-935 2h9m127 0h9m17 0h8m128 0h8m17 0h9m42 0h9m42 0h9m17 0h17m25 0h9m170 0h8m26 0h8m51 0h9m68 0h8m26 0h17m34 0h8m43 0h8m-986 2h9m76 0h9m119 0h8m9 0h34m42 0h9m93 0h9m59 0h26m68 0h8m17 0h17m43 0h8m60 0h8m77 0h8m153 0h9m-952 2h8m34 0h9m17 0h8m17 0h9m34 0h8m60 0h17m306 0h8m9 0h8m34 0h9m8 0h9m25 0h26m25 0h9m25 0h9m8 0h9m85 0h8m60 0h8m-858 2h8m9 0h8m9 0h17m51 0h8m153 0h9m17 0h8m187 0h9m204 0h8m51 0h9m8 0h9m59 0h9m-867 2h8m43 0h8m17 0h9m8 0h9m76 0h9m374 0h8m43 0h8m119 0h9m34 0h8m102 0h9m-876 2h9m8 0h9m76 0h9m42 0h17m272 0h9m102 0h8m51 0h9m17 0h8m9 0h8m34 0h17m34 0h9m34 0h8m-858 2h8m60 0h8m34 0h9m153 0h8m349 0h8m94 0h8m26 0h8m26 0h25m-871 2h4m26 0h8m85 0h9m25 0h9m59 0h9m17 0h8m9 0h8m17 0h9m187 0h8m51 0h9m17 0h17m25 0h9m110 0h9m102 0h8m51 0h9m-914 2h4m77 0h8m68 0h9m8 0h9m93 0h9m34 0h8m17 0h9m263 0h9m42 0h9m17 0h8m51 0h9m17 0h8m34 0h9m76 0h9m17 0h8m-926 2h8m17 0h9m8 0h9m136 0h8m34 0h9m42 0h9m17 0h8m298 0h8m17 0h9m42 0h9m93 0h9m17 0h8m94 0h8m-875 2h8m43 0h17m93 0h9m25 0h9m8 0h9m263 0h9m17 0h8m26 0h8m26 0h8m34 0h9m85 0h8m68 0h9m17 0h8m26 0h8m-901 2h9m144 0h9m68 0h8m315 0h8m85 0h9m85 0h8m51 0h26m161 0h10m-962 2h9m153 0h8m43 0h8m43 0h8m187 0h17m9 0h8m60 0h8m9 0h8m94 0h17m8 0h9m170 0h8m-756 2h8m9 0h8m332 0h8m17 0h9m110 0h9m8 0h9m51 0h8m43 0h8m26 0h8m-561 2h9m8 0h9m280 0h17m119 0h9m17 0h8m17 0h9m8 0h9m-774 2h9m17 0h8m9 0h8m196 0h8m272 0h9m59 0h9m17 0h8m128 0h8m43 0h8m-782 2h9m76 0h9m144 0h9m8 0h9m518 0h9m25 0h9m-833 2h8m51 0h9m51 0h8m60 0h8m17 0h9m331 0h9m42 0h9m17 0h8m34 0h9m17 0h8m34 0h9m17 0h8m51 0h9m93 0h9m-893 2h17m77 0h8m77 0h8m60 0h8m128 0h8m128 0h8m34 0h17m26 0h8m34 0h9m25 0h9m25 0h9m17 0h8m68 0h9m51 0h8m-969 2h9m357 0h8m187 0h9m68 0h8m17 0h9m8 0h9m17 0h8m26 0h8m17 0h9m110 0h9m-893 2h9m51 0h8m17 0h9m93 0h9m76 0h9m289 0h8m68 0h9m17 0h17m42 0h9m42 0h9m17 0h25m-854 2h4m68 0h9m127 0h17m9 0h25m26 0h8m34 0h9m17 0h8m230 0h8m68 0h9m42 0h9m51 0h8m17 0h9m195 0h10m-945 2h9m25 0h9m8 0h9m59 0h9m51 0h8m102 0h9m365 0h9m34 0h8m17 0h9m8 0h17m145 0h8m9 0h8m-943 2h8m60 0h17m17 0h8m26 0h8m26 0h8m51 0h9m42 0h9m34 0h8m26 0h8m17 0h9m153 0h8m9 0h17m17 0h8m34 0h9m51 0h17m85 0h17m42 0h9m-918 2h8m26 0h8m43 0h25m17 0h9m51 0h8m9 0h8m9 0h8m26 0h8m17 0h9m314 0h9m59 0h9m59 0h9m8 0h9m85 0h17m-876 2h9m68 0h17m51 0h17m25 0h9m85 0h8m34 0h9m25 0h17m102 0h9m110 0h9m25 0h9m110 0h9m85 0h8m136 0h17m-1007 2h4m26 0h8m111 0h17m42 0h9m17 0h8m68 0h9m51 0h8m60 0h8m145 0h8m26 0h8m26 0h8m85 0h9m17 0h8m162 0h8m51 0h10m-843 2h9m17 0h8m26 0h17m59 0h17m51 0h9m357 0h8m119 0h9m68 0h8m17 0h9m8 0h9m-978 2h9m93 0h9m42 0h17m26 0h8m9 0h8m51 0h17m9 0h8m51 0h9m8 0h9m59 0h17m9 0h8m43 0h17m42 0h9m34 0h8m102 0h9m93 0h9m17 0h8m111 0h8m-977 2h8m315 0h8m9 0h8m77 0h8m136 0h9m8 0h9m42 0h9m25 0h9m119 0h8m51 0h9m25 0h9m-931 2h4m9 0h8m298 0h17m34 0h8m60 0h8m26 0h17m42 0h9m8 0h9m34 0h8m289 0h17m51 0h9m-952 2h17m17 0h8m230 0h8m34 0h9m25 0h9m34 0h8m9 0h8m349 0h8m51 0h9m34 0h8m34 0h9m-595 2h8m43 0h8m26 0h8m51 0h9m34 0h17m76 0h9m382 0h10m-953 2h8m43 0h8m85 0h9m85 0h8m26 0h8m26 0h8m26 0h17m8 0h9m42 0h9m119 0h8m60 0h8m221 0h9m8 0h9m34 0h8m9 0h8m-654 2h8m26 0h8m85 0h9m110 0h9m-255 2h8m34 0h9m8 0h9m17 0h8m26 0h8m9 0h17m93 0h9m306 0h8m26 0h8m26 0h8m-620 2h8m43 0h8m77 0h8m442 0h9m-723 2h9m195 0h9m25 0h9m442 0h8m-586 2h8m9 0h17m204 0h8m51 0h9m102 0h8m26 0h8m26 0h8m51 0h9m68 0h8m9 0h8m-484 2h8m43 0h8m196 0h8m51 0h9m-765 2h8m340 0h9m51 0h8m68 0h9m391 0h8m9 0h8m17 0h9m-570 2h9m93 0h9m450 0h9m-612 2h8m119 0h9m-43 2h9m25 0h9m42 0h9m374 0h8m9 0h8m-510 2h9m85 2h8m-119 2h9m-26 2h9m68 0h8m60 0h8m-42 4h8m26 10h8m-8 6h8m-8 4h8m-8 2h8m-153 2h9m136 2h8m-153 6h9m136 22h8m-8 68h8m-127 24h8m0 4h9m102 6h8m-153 8h9m17 8h8m-8 2h8m0 2h9m-26 2h9m-9 2h26m-43 2h9m25 2h9m102 0h8m-144 2h17m-26 4h9m34 0h8m-59 4h25m9 0h17m-43 2h9m8 0h9m-9 6h9m17 0h8m94 0h8m-161 2h17m25 0h9m0 4h8m-76 6h8m162 0h8m-170 2h9m8 0h9m34 0h8m0 2h9m0 2h8m-68 2h9m-26 2h9m51 2h8m85 2h9m0 4h8m-102 2h9m-77 2h9m-9 2h9m-9 4h9m-17 2h8m179 2h8m-17 4h9m8 2h9m-196 2h9m68 0h17m110 0h9m-136 2h8m102 0h9m-128 2h9m8 0h9m85 0h17m-43 2h9m17 0h8m-42 2h8m17 0h9m17 0h25m-238 2h9m8 0h9m59 0h9m68 0h17m68 0h8m-144 2h8m34 0h9m8 0h9m416 0h9m25 0h10m-554 2h9m68 0h8m9 0h8m-170 2h9m76 0h9m42 0h9m-145 2h9m68 0h8m9 0h8m60 0h8m60 0h8m-119 2h9m42 0h9m68 0h17m-272 2h8m9 0h8m68 0h17m-119 2h9m76 0h9m8 0h9m-9 2h9m8 0h9m153 0h8m-323 2h17m9 0h8m9 0h8m77 0h8m9 2h17m8 0h9m-26 2h9m144 0h9m-187 2h8m162 0h8m9 2h8m-187 2h9m17 0h8m153 0h9m-298 2h9m280 0h9m-315 4h9m289 0h17m-332 4h9m306 2h8m-178 2h8m-144 2h8m-8 4h8m315 2h8m-510 2h9m510 0h8m-646 2h9m51 0h8m17 0h9m76 0h9m467 0h9m8 0h9m127 0h9m17 0h8m85 0h17m9 0h8m-671 2h17m314 0h9m-332 4h9m323 0h8m-348 6h8m-8 2h8m-8 2h8m332 4h8m-348 4h8m323 0h9m-349 12h9m340 6h8m-357 4h9m331 0h9m0 6h8m-374 2h9m357 2h8m-8 4h8m-34 4h9m17 0h17m-663 4h8m162 0h8m51 0h9m-221 2h8m119 0h9m25 0h9m17 0h8m-93 2h8m34 0h9m34 0h8m9 0h8m-195 2h8m9 0h8m34 0h9m-85 2h8m68 0h9m85 0h8m17 0h9m-119 2h8m17 0h9m518 0h9m-629 2h8m43 0h8m9 0h8m102 0h9m-111 2h9m42 0h9m51 0h8m-144 2h17m25 2h9m25 0h9m476 0h8m-603 2h8m26 0h8m34 0h9m8 0h9m34 0h8m425 0h9m17 0h8m0 4h9m-604 2h9m-9 2h9m552 2h9m8 2h9m-9 2h9m25 0h9m144 0h17m-195 2h17m170 0h8m-195 2h8m68 0h9m59 2h17m9 0h17m8 0h9m-145 2h9m34 0h8m26 0h8m17 0h9m-162 2h9m25 0h17m60 0h8m-42 2h8m9 0h8m17 0h9m8 0h9m93 0h9m17 0h8m-170 2h9m102 0h8m9 0h8m17 0h9m-247 2h9m34 0h8m68 0h9m93 0h9m-281 2h9m68 0h8m26 0h8m179 0h8m26 0h8m-221 2h9m187 0h17m-17 2h8m-8 2h8m9 0h8m-246 2h8m221 0h9m-26 2h9m25 0h9m-247 2h9"/>
<path stroke="#00e6ff" d="M665 215h9m-77 4h9m391 0h8m26 0h8m128 0h8m-714 2h9m76 0h9m127 0h9m280 0h9m144 0h9m25 0h9m-952 2h8m26 0h25m17 0h9m34 0h8m34 0h9m161 0h9m331 0h9m110 0h9m42 0h9m85 0h8m-858 2h25m17 0h9m68 0h8m26 0h8m77 0h8m9 0h8m51 0h9m17 0h17m51 0h8m162 0h8m85 0h9m59 0h17m26 0h8m43 0h8m-909 2h17m34 0h8m17 0h9m85 0h17m8 0h9m8 0h9m17 0h8m9 0h17m8 0h26m8 0h9m25 0h9m8 0h9m119 0h8m51 0h9m8 0h9m42 0h9m17 0h8m34 0h9m76 0h9m51 0h8m17 0h17m9 0h8m17 0h9m25 0h10m-979 2h9m34 0h8m9 0h8m17 0h9m8 0h9m34 0h8m34 0h9m17 0h8m26 0h8m111 0h8m68 0h26m8 0h9m8 0h9m144 0h9m25 0h9m25 0h9m17 0h25m43 0h8m43 0h8m51 0h9m8 0h9m25 0h10m-1017 2h4m77 0h8m119 0h9m34 0h17m8 0h9m17 0h17m8 0h17m68 0h17m119 0h9m85 0h8m51 0h9m8 0h9m17 0h8m17 0h17m17 0h9m25 0h9m8 0h9m8 0h9m59 0h9m8 0h9m8 0h17m-901 2h9m34 0h17m42 0h9m85 0h17m8 0h9m17 0h8m51 0h9m85 0h8m60 0h8m85 0h9m25 0h9m8 0h9m127 0h9m8 0h9m51 0h8m17 0h9m-910 2h9m8 0h17m51 0h17m68 0h9m51 0h8m34 0h9m68 0h8m34 0h9m34 0h8m119 0h9m34 0h8m94 0h8m26 0h8m17 0h17m77 0h8m9 0h8m9 0h8m43 0h8m-969 2h9m8 0h9m34 0h8m68 0h9m8 0h9m25 0h9m59 0h9m8 0h9m17 0h8m43 0h8m17 0h9m195 0h9m17 0h8m9 0h8m9 0h17m42 0h9m8 0h9m25 0h9m25 0h9m8 0h9m85 0h8m26 0h8m-956 2h4m17 0h9m136 0h8m51 0h9m51 0h17m68 0h8m204 0h9m17 0h8m51 0h9m25 0h17m51 0h9m17 0h8m9 0h8m26 0h8m60 0h8m-892 2h17m68 0h8m17 0h17m60 0h8m9 0h8m247 0h8m68 0h9m76 0h9m110 0h9m17 0h8m43 0h8m26 0h8m17 0h9m25 0h9m8 0h9m-723 2h9m34 0h8m247 0h8m9 0h8m34 0h9m8 0h9m17 0h25m34 0h9m51 0h17m8 0h9m8 0h9m8 0h9m110 0h17m26 0h8m-977 2h8m68 0h9m68 0h17m25 0h9m68 0h8m43 0h8m289 0h9m42 0h17m85 0h9m25 0h9m8 0h9m8 0h34m26 0h8m-909 2h8m68 0h9m42 0h9m110 0h9m246 0h9m34 0h8m9 0h8m9 0h8m26 0h17m85 0h8m9 0h8m17 0h9m8 0h9m34 0h8m17 0h9m51 0h8m26 0h8m-782 2h17m34 0h9m25 0h9m212 0h9m85 0h8m60 0h8m26 0h8m9 0h8m85 0h17m68 0h9m76 0h9m25 0h9m-867 2h8m51 0h9m34 0h8m26 0h8m9 0h8m17 0h9m34 0h8m17 0h9m204 0h17m25 0h9m17 0h8m43 0h8m9 0h8m9 0h8m9 0h17m85 0h8m68 0h9m34 0h8m17 0h10m-945 2h9m42 0h9m68 0h8m17 0h9m85 0h8m238 0h9m34 0h8m77 0h8m17 0h9m17 0h8m94 0h8m-833 2h9m59 0h9m17 0h25m119 0h9m8 0h17m289 0h9m25 0h9m34 0h8m9 0h8m34 0h9m119 0h8m9 0h8m94 0h8m-841 2h8m9 0h17m425 0h8m34 0h9m85 0h8m9 0h8m34 0h9m25 0h9m8 0h9m17 0h8m43 0h8m60 0h8m-990 2h4m17 0h9m42 0h9m59 0h9m178 0h17m43 0h8m153 0h9m25 0h17m43 0h17m51 0h8m26 0h8m17 0h9m42 0h9m17 0h8m60 0h8m-901 2h17m34 0h9m25 0h9m34 0h8m34 0h9m8 0h9m34 0h17m25 0h9m8 0h17m17 0h9m144 0h9m68 0h8m34 0h9m51 0h17m8 0h9m17 0h8m51 0h9m34 0h8m17 0h26m-850 2h8m43 0h17m42 0h9m42 0h9m42 0h9m34 0h8m264 0h8m9 0h8m51 0h9m8 0h9m17 0h8m34 0h9m17 0h8m77 0h8m26 0h17m93 0h9m-982 2h4m68 0h9m8 0h9m34 0h17m76 0h9m51 0h8m26 0h8m170 0h9m59 0h9m34 0h8m9 0h8m9 0h8m128 0h8m9 0h8m17 0h9m25 0h9m34 0h8m-841 2h8m26 0h8m102 0h9m25 0h17m323 0h17m17 0h9m8 0h9m76 0h9m42 0h17m68 0h17m136 0h10m-1013 2h9m42 0h9m25 0h9m25 0h9m17 0h17m51 0h8m255 0h9m59 0h9m59 0h9m51 0h8m111 0h17m17 0h8m145 0h8m-990 2h4m111 0h8m94 0h8m17 0h26m8 0h9m34 0h8m9 0h8m289 0h9m102 0h8m162 0h8m-867 2h17m9 0h17m17 0h8m51 0h9m85 0h8m119 0h9m153 0h8m60 0h8m17 0h17m34 0h17m17 0h9m102 0h17m-863 2h4m26 0h8m43 0h8m9 0h8m77 0h8m17 0h17m60 0h8m17 0h9m25 0h9m119 0h8m43 0h8m136 0h9m25 0h9m59 0h9m34 0h8m77 0h8m60 0h8m-960 2h8m34 0h9m25 0h9m8 0h9m68 0h17m17 0h17m25 0h9m34 0h25m77 0h8m85 0h9m17 0h25m34 0h9m51 0h8m43 0h8m9 0h8m26 0h8m136 0h9m-893 2h9m8 0h26m8 0h9m17 0h8m43 0h8m68 0h9m85 0h8m17 0h34m153 0h9m42 0h9m68 0h17m51 0h8m43 0h8m60 0h8m-705 2h8m136 0h9m25 0h9m17 0h17m119 0h8m17 0h9m102 0h8m77 0h8m128 0h8m85 0h9m-927 2h17m60 0h8m17 0h9m17 0h17m34 0h8m68 0h9m93 0h9m17 0h8m119 0h9m59 0h9m8 0h9m34 0h8m111 0h8m128 0h8m68 0h9m-969 2h8m26 0h8m17 0h9m76 0h9m204 0h8m77 0h8m43 0h8m94 0h8m51 0h9m280 0h9m42 0h10m-979 2h17m255 0h9m42 0h9m59 0h9m42 0h9m34 0h8m43 0h8m51 0h9m229 0h9m17 0h8m9 0h25m9 0h8m26 0h8m-867 2h9m127 0h9m76 0h9m25 0h9m25 0h9m110 0h17m34 0h9m246 0h9m17 0h8m119 0h17m-935 2h9m280 0h9m8 0h9m8 0h9m110 0h9m85 0h8m264 0h8m34 0h17m26 0h8m34 0h10m-698 2h8m26 0h8m17 0h9m119 0h8m17 0h26m25 0h9m399 0h9m-952 2h8m187 0h9m93 0h17m17 0h9m8 0h9m51 0h25m17 0h9m76 0h9m323 0h34m-621 2h9m59 0h9m17 0h8m43 0h8m60 0h8m366 0h8m26 0h8m17 0h9m-740 2h9m59 0h9m25 0h9m25 0h9m34 0h8m26 0h8m34 0h17m459 0h9m-595 2h8m34 0h9m68 0h8m442 0h9m8 0h9m17 0h8m-960 2h8m383 0h8m17 0h9m493 0h8m-535 2h8m26 0h8m17 0h26m25 0h9m374 0h8m60 0h8m-476 2h26m246 0h9m-459 2h8m-144 2h8m17 0h17m-42 2h8m306 0h9m-85 2h8m51 2h9m42 0h9m-17 2h8m-153 2h9m93 0h9m8 12h9m-128 2h9m-9 2h9m-9 2h9m136 8h8m-8 14h8m-8 120h8m-8 6h8m-8 10h8m-8 4h8m-127 6h8m9 2h8m-34 2h9m0 4h17m102 0h8m-119 2h9m-43 4h9m-34 4h8m26 0h8m26 0h8m94 0h8m-144 2h8m-17 2h17m17 0h9m-43 2h9m-9 4h17m-17 2h9m34 2h8m-51 4h9m8 0h9m-34 2h8m-17 4h9m8 4h9m42 0h9m-68 4h8m34 0h17m0 4h9m-9 4h9m-85 4h8m60 0h8m9 0h8m77 2h8m-170 2h17m51 0h9m153 2h8m-229 2h8m204 0h9m-255 2h8m34 0h9m187 0h17m-153 2h8m-17 2h9m59 0h9m-26 2h9m25 2h9m-94 2h17m51 0h9m59 0h9m17 0h8m-238 2h9m59 0h9m110 2h9m-196 2h9m76 0h9m136 0h8m-246 2h8m136 0h9m42 0h9m-213 4h9m136 0h8m34 0h9m59 0h9m-179 2h17m153 0h9m-272 2h8m94 0h8m34 0h17m102 0h17m-255 2h9m-9 4h9m59 0h9m51 2h8m119 0h9m-145 2h9m110 0h9m17 2h8m-314 2h8m153 0h9m127 0h9m-281 2h9m85 2h8m17 0h9m144 2h9m-289 2h8m128 0h8m-161 2h8m9 2h8m289 0h9m-26 2h9m8 2h9m-187 2h8m153 2h9m8 0h9m-332 2h9m-9 2h9m306 0h8m-331 2h8m-331 2h8m17 0h9m42 0h9m59 0h9m8 0h9m637 0h9m76 0h26m34 0h8m-297 4h8m-348 2h8m-8 4h8m323 2h9m8 0h9m-26 4h9m0 2h8m-34 2h9m-323 2h8m323 0h9m-340 12h8m323 2h9m-349 4h9m340 10h8m-365 4h8m349 0h8m-561 2h9m-9 2h9m518 2h9m-374 2h8m9 2h8m-42 2h8m391 0h17m-671 2h8m136 0h9m102 0h8m17 0h9m-302 2h4m9 0h8m17 0h9m246 0h9m374 0h8m-654 2h8m128 0h17m42 0h9m450 0h9m-680 2h8m128 0h8m68 0h9m8 0h9m408 0h8m-569 2h8m544 0h9m-595 2h8m51 0h9m34 0h8m17 0h9m34 0h8m-93 2h8m94 0h8m408 0h9m-442 2h8m408 0h9m17 0h17m-502 2h9m8 0h9m-111 2h9m8 0h9m8 0h9m-9 2h9m102 0h8m-178 2h17m569 0h9m8 0h9m-34 8h8m-552 2h8m527 0h9m-9 4h9m34 0h17m161 0h9m-187 2h8m-25 2h8m26 0h8m162 0h8m-195 2h17m170 0h8m-263 2h8m34 0h9m34 0h8m17 0h9m144 0h9m-187 2h8m17 0h17m136 0h9m-247 2h9m25 0h9m8 0h9m8 0h17m17 0h9m42 0h9m76 0h9m-230 2h9m76 0h9m17 0h8m111 0h8m-238 2h9m136 0h8m68 0h9m59 0h9m8 0h9m-255 2h17m178 0h9m17 0h8m-272 4h9m25 0h9m8 0h9m25 0h9m-128 2h9m68 0h8m17 0h9m221 0h17m-272 2h8m17 0h9m170 0h8m26 0h8m34 0h10m-341 2h8m306 2h9"/>
<path stroke="#00f9fb" d="M580 221h9m416 0h9m-230 2h9m102 0h8m238 0h9m-816 2h8m145 0h8m247 0h8m153 0h9m178 0h9m-842 2h9m306 0h8m34 0h9m25 0h9m8 0h9m484 0h9m-884 2h8m34 0h9m204 0h25m26 0h17m17 0h8m60 0h8m60 0h8m77 0h8m51 0h9m93 0h9m25 0h9m34 0h8m43 0h8m-926 2h8m34 0h9m42 0h9m212 0h9m8 0h9m102 0h8m26 0h8m34 0h9m136 0h8m34 0h9m229 0h9m-999 2h13m51 0h8m145 0h17m153 0h8m136 0h17m170 0h9m85 0h8m102 0h17m26 0h8m-952 2h9m68 0h8m85 0h9m17 0h34m34 0h8m26 0h8m34 0h9m195 0h9m85 0h25m77 0h8m51 0h17m17 0h9m8 0h9m8 0h9m76 0h9m-982 2h4m9 0h8m9 0h8m17 0h9m8 0h9m42 0h9m178 0h9m212 0h9m25 0h17m9 0h8m77 0h8m26 0h8m26 0h8m9 0h8m17 0h9m17 0h8m9 0h8m43 0h8m34 0h9m-884 2h8m51 0h9m68 0h8m77 0h8m51 0h17m213 0h8m51 0h17m17 0h9m17 0h8m102 0h9m34 0h17m25 0h9m17 0h8m51 0h9m25 0h9m8 0h10m-1017 2h4m68 0h9m8 0h9m34 0h8m85 0h9m272 0h8m60 0h8m51 0h9m34 0h8m26 0h8m17 0h9m127 0h9m127 0h10m-1013 2h9m8 0h9m68 0h17m17 0h8m26 0h17m8 0h17m9 0h8m9 0h8m51 0h17m204 0h9m42 0h9m8 0h9m144 0h9m136 0h8m-884 2h9m34 0h8m9 0h17m17 0h17m17 0h8m77 0h8m9 0h17m51 0h8m43 0h8m94 0h8m94 0h8m26 0h8m26 0h8m26 0h8m9 0h8m43 0h8m9 0h8m9 0h17m34 0h8m77 0h8m68 0h9m-961 2h9m8 0h9m85 0h8m26 0h8m43 0h25m43 0h17m8 0h9m17 0h8m9 0h8m77 0h8m102 0h9m25 0h9m8 0h9m42 0h17m51 0h9m68 0h8m60 0h8m-850 2h9m34 0h8m17 0h17m43 0h8m34 0h9m8 0h17m9 0h8m68 0h9m25 0h9m25 0h9m161 0h9m8 0h9m17 0h8m9 0h8m51 0h9m34 0h8m94 0h8m119 0h9m51 0h8m-1003 2h17m9 0h8m17 0h9m25 0h9m8 0h9m25 0h17m43 0h8m85 0h9m25 0h9m195 0h9m110 0h9m17 0h8m9 0h8m34 0h9m8 0h9m42 0h9m8 0h9m93 0h9m17 0h8m9 0h8m-926 2h17m25 0h17m9 0h8m9 0h8m68 0h17m9 0h8m26 0h17m59 0h9m161 0h9m93 0h9m170 0h8m102 0h17m-892 2h17m25 0h9m17 0h8m51 0h9m25 0h9m42 0h9m51 0h17m272 0h8m43 0h8m51 0h9m34 0h8m9 0h8m9 0h8m9 0h8m77 0h8m9 0h8m77 0h8m-986 2h9m17 0h8m34 0h17m136 0h9m59 0h9m161 0h9m51 0h8m77 0h8m26 0h17m34 0h8m68 0h9m17 0h8m204 0h10m-953 2h8m9 0h17m59 0h9m102 0h8m77 0h17m204 0h8m34 0h9m59 0h26m144 0h9m17 0h8m51 0h9m-935 2h8m68 0h9m34 0h8m34 0h9m17 0h8m9 0h8m43 0h17m17 0h8m17 0h9m195 0h9m51 0h8m94 0h8m43 0h8m153 0h9m-850 2h8m26 0h8m17 0h9m17 0h8m26 0h8m17 0h34m17 0h9m221 0h8m68 0h9m17 0h25m111 0h17m17 0h17m34 0h17m127 0h9m-952 2h8m26 0h8m51 0h9m51 0h8m34 0h9m25 0h9m17 0h8m111 0h8m34 0h9m110 0h9m25 0h9m127 0h9m85 0h8m136 0h9m34 0h8m-1007 2h4m9 0h17m51 0h17m51 0h8m26 0h8m26 0h25m51 0h9m204 0h8m43 0h8m77 0h17m85 0h8m60 0h8m9 0h8m43 0h8m17 0h17m17 0h9m-850 2h25m17 0h9m17 0h8m9 0h8m17 0h9m17 0h8m34 0h9m17 0h8m9 0h17m34 0h17m119 0h17m34 0h17m119 0h8m17 0h9m51 0h8m60 0h8m9 0h8m9 0h8m-884 2h9m42 0h9m68 0h8m26 0h8m17 0h9m25 0h9m110 0h9m102 0h8m26 0h8m119 0h9m51 0h8m43 0h17m136 0h17m8 0h9m-867 2h8m68 0h17m26 0h8m9 0h8m9 0h8m17 0h9m76 0h17m289 0h9m8 0h17m26 0h8m77 0h8m68 0h9m17 0h8m111 0h8m-943 2h8m9 0h8m43 0h8m43 0h8m60 0h17m8 0h9m34 0h8m26 0h8m9 0h8m136 0h9m144 0h9m17 0h8m26 0h8m26 0h8m94 0h42m34 0h9m76 0h10m-1013 2h9m25 0h9m34 0h8m9 0h8m17 0h9m442 0h8m9 0h8m247 0h17m-697 2h8m187 0h9m204 0h8m77 0h8m26 0h8m43 0h8m85 0h9m127 0h9m-961 2h9m17 0h17m102 0h8m213 0h8m34 0h26m8 0h9m229 0h9m59 0h9m102 0h8m26 0h8m-620 2h8m17 0h9m391 0h8m77 0h8m9 0h8m43 0h8m26 0h8m60 0h17m-867 2h8m43 0h8m34 0h9m93 0h9m51 0h8m17 0h9m42 0h9m85 0h8m-565 2h13m42 0h9m272 0h8m94 0h17m59 0h9m42 0h9m365 0h9m17 0h8m17 0h9m-808 2h9m187 0h17m17 0h17m8 0h9m102 0h8m306 0h17m9 0h8m51 0h26m-595 2h8m34 0h9m8 0h9m34 0h17m68 0h8m357 0h9m42 0h9m-663 2h8m51 0h9m25 0h9m8 0h9m17 0h8m17 0h9m433 0h17m17 0h9m-536 2h9m85 0h8m408 0h9m8 0h9m8 0h9m-944 2h9m136 0h8m170 0h9m68 0h8m26 0h8m17 0h9m25 0h9m442 0h8m-680 2h9m221 0h8m366 0h8m-442 2h9m17 2h8m400 0h8m9 2h8m-459 2h9m51 0h8m366 0h8m-527 2h9m51 0h8m281 0h25m-340 2h9m85 0h8m9 0h8m400 0h8m-739 2h8m9 0h8m17 0h9m280 0h9m416 0h9m-587 6h9m85 0h8m-102 8h9m136 8h8m-8 66h8m119 36h9m-136 8h8m60 44h8m-76 14h8m-8 4h8m-127 4h8m-8 2h8m-17 4h9m-9 2h17m-8 6h8m-17 2h9m8 0h9m102 0h8m-136 2h17m-25 2h8m17 4h9m-51 2h8m9 0h8m-17 2h9m25 0h9m-43 2h9m8 0h9m-17 2h8m-8 2h8m-8 6h8m17 2h17m94 0h8m-102 4h9m-60 2h17m26 0h8m-59 2h17m-17 2h17m42 6h9m-9 2h9m-60 2h9m34 4h8m-59 2h8m-8 4h17m-17 2h17m144 0h9m-179 2h9m8 0h9m136 0h8m-187 2h9m68 0h8m-59 2h8m60 2h8m111 0h8m17 0h9m-68 2h8m43 0h17m-51 2h8m17 0h9m17 0h8m-76 2h17m51 0h8m-238 6h9m221 0h8m-136 2h9m17 0h17m8 0h9m-34 2h17m110 0h9m-179 2h9m-17 2h8m-8 2h17m153 0h8m-280 2h8m111 0h8m17 0h9m127 0h9m-187 2h8m26 0h8m128 0h8m17 0h9m-17 4h8m-297 2h8m119 0h9m-17 4h8m-136 2h9m280 0h17m-178 2h8m-17 2h9m-145 2h9m8 0h9m-9 2h9m-9 2h9m280 0h9m17 4h8m-663 2h9m306 0h8m451 0h8m-450 10h8m298 0h8m9 2h8m-340 4h9m-17 4h8m-8 10h8m-8 2h8m315 0h8m0 8h9m-17 4h8m-8 4h8m-17 4h9m8 4h9m-544 2h8m162 2h8m357 0h9m-391 4h8m374 0h9m-400 2h9m8 0h9m-26 2h9m382 0h9m-638 4h9m136 0h8m9 0h17m25 0h9m8 0h9m-94 2h9m-128 2h9m8 0h9m51 0h8m17 0h9m25 0h9m68 0h8m-170 2h9m127 0h9m399 0h9m-604 2h9m76 0h9m42 0h9m450 0h17m-552 2h8m34 0h17m43 0h8m-136 2h9m51 0h8m9 0h8m51 0h9m-153 2h8m26 0h8m43 0h8m43 0h8m-119 2h9m552 0h9m-434 2h9m425 0h8m-569 2h8m34 0h9m484 0h9m-578 2h8m111 0h8m468 0h8m-578 2h9m25 0h9m501 0h9m-9 6h9m-544 2h17m535 0h9m-34 2h8m9 0h8m17 0h9m170 0h8m-187 4h9m110 0h9m8 0h9m17 0h8m-153 2h9m127 0h17m-178 2h8m17 0h9m8 0h9m68 0h8m26 0h8m60 0h8m-34 2h9m-153 2h8m26 0h17m8 0h9m17 0h8m128 0h8m-280 2h8m17 0h9m25 0h17m17 0h17m136 0h9m-281 2h9m170 0h8m-153 2h9m25 0h9m8 0h9m17 0h8m9 0h8m26 0h8m9 0h17m51 0h8m51 0h9m8 0h9m-332 2h9m68 0h8m17 0h9m187 0h8m-263 2h8m264 0h8m-263 2h8m-59 2h8m315 0h8m-340 2h9m76 0h9m8 0h9m221 0h8"/>
<path stroke="#00fcdf" d="M929 223h8m102 0h9m-723 2h9m34 0h8m204 0h9m68 0h8m-476 2h9m365 0h9m187 0h8m68 0h9m93 0h9m204 0h8m-960 2h8m408 0h9m-451 2h9m85 0h8m85 0h9m153 0h8m9 0h8m9 0h8m136 0h9m34 0h8m17 0h9m212 0h9m-587 2h9m102 0h8m17 0h9m85 0h8m68 0h9m8 0h17m51 0h9m85 0h17m212 0h9m34 0h8m-714 2h9m25 0h9m68 0h8m9 0h8m9 0h8m68 0h17m187 0h9m119 0h8m9 0h8m119 0h9m-910 2h9m51 0h8m9 0h8m170 0h9m136 0h8m17 0h9m25 0h9m51 0h17m25 0h9m25 0h9m8 0h9m68 0h8m119 0h9m51 0h8m9 0h8m9 0h8m-952 2h17m68 0h17m60 0h8m51 0h9m25 0h9m42 0h9m68 0h8m26 0h8m51 0h9m93 0h9m76 0h9m8 0h9m144 0h9m8 0h9m8 0h9m34 0h8m-952 2h9m34 0h8m26 0h8m68 0h9m8 0h9m85 0h8m9 0h25m213 0h8m43 0h8m230 0h17m17 0h8m51 0h9m-918 2h8m9 0h8m26 0h8m51 0h9m17 0h8m26 0h8m17 0h9m8 0h9m17 0h17m8 0h9m85 0h8m170 0h9m272 0h8m51 0h17m26 0h8m-918 2h9m8 0h9m136 0h25m111 0h17m68 0h8m85 0h17m17 0h9m102 0h8m179 0h8m128 0h8m-943 2h8m68 0h17m26 0h8m43 0h17m425 0h8m26 0h8m128 0h8m26 0h8m17 0h9m17 0h8m77 0h8m17 0h10m-1013 2h9m68 0h8m17 0h9m8 0h9m8 0h9m119 0h8m51 0h9m204 0h8m68 0h9m93 0h9m17 0h8m162 0h17m17 0h8m26 0h8m-952 2h17m17 0h9m17 0h8m60 0h8m9 0h8m111 0h8m9 0h8m187 0h9m34 0h17m51 0h8m85 0h9m144 0h9m-774 2h9m34 0h8m9 0h8m111 0h34m17 0h8m196 0h8m9 0h8m26 0h8m60 0h8m213 0h8m34 0h9m8 0h17m9 0h17m-982 2h4m136 0h9m17 0h8m9 0h8m17 0h9m17 0h8m264 0h8m34 0h17m34 0h9m25 0h9m127 0h9m42 0h9m127 0h9m8 0h9m-982 2h4m9 0h8m26 0h17m25 0h17m34 0h9m136 0h8m17 0h17m170 0h9m25 0h9m34 0h17m8 0h9m110 0h9m8 0h9m85 0h8m17 0h9m25 0h9m42 0h9m25 0h9m-978 2h9m42 0h9m34 0h8m17 0h9m34 0h8m17 0h9m17 0h8m9 0h8m34 0h17m9 0h8m9 0h8m145 0h8m17 0h9m59 0h9m59 0h9m195 0h9m59 0h9m17 0h8m-939 2h13m102 0h8m17 0h9m17 0h8m68 0h9m85 0h8m9 0h8m34 0h9m178 0h9m127 0h9m8 0h9m68 0h17m110 0h9m17 0h8m9 0h8m17 0h10m-1013 2h17m34 0h9m68 0h8m34 0h9m68 0h8m43 0h8m26 0h8m179 0h25m34 0h9m34 0h8m34 0h9m221 0h8m9 0h17m-876 2h9m17 0h8m26 0h8m26 0h8m43 0h8m26 0h8m17 0h9m42 0h9m221 0h8m204 0h9m110 0h9m42 0h9m-927 2h9m144 0h17m85 0h9m8 0h9m17 0h17m25 0h9m25 0h9m161 0h9m8 0h9m416 0h9m-986 2h8m51 0h9m93 0h9m76 0h9m161 0h9m8 0h9m314 0h9m42 0h9m42 0h9m8 0h9m25 0h9m59 0h9m8 0h10m-979 2h9m17 0h8m17 0h9m25 0h9m229 0h9m17 0h17m42 0h9m17 0h8m17 0h9m25 0h9m17 0h8m34 0h17m68 0h9m68 0h8m51 0h9m25 0h9m119 0h8m9 0h8m-1003 2h9m93 0h9m34 0h8m34 0h9m144 0h9m187 0h8m264 0h8m77 0h8m17 0h9m-927 2h9m8 0h9m170 0h8m213 0h8m102 0h9m8 0h9m17 0h8m26 0h17m331 0h9m-918 2h8m451 0h17m25 0h9m178 0h9m136 0h8m68 0h17m-782 2h9m59 0h9m17 0h8m17 0h9m68 0h8m51 0h9m8 0h9m17 0h8m34 0h17m349 0h17m8 0h17m17 0h9m42 0h10m-953 2h8m281 0h8m17 0h9m161 0h9m238 0h8m60 0h8m26 0h8m51 0h17m9 0h8m17 0h10m-639 2h9m8 0h17m9 0h17m17 0h8m9 0h34m51 0h8m340 0h9m8 0h9m8 0h9m17 0h8m-875 2h8m238 0h9m8 0h9m34 0h8m17 0h9m34 0h8m17 0h9m17 0h8m349 0h8m9 0h8m60 0h8m9 0h8m-603 2h8m17 0h9m484 0h9m-510 2h8m68 0h17m9 0h17m42 0h9m374 0h8m51 0h10m-613 2h8m111 0h8m26 0h8m434 0h8m-663 2h9m110 0h9m459 0h8m68 0h10m-528 2h8m-34 2h9m59 0h9m-111 2h9m8 0h9m25 0h17m493 0h9m8 0h10m-605 2h9m527 0h8m-544 2h17m128 0h8m-153 2h9m144 0h9m416 0h9m-587 2h9m102 0h8m34 0h9m195 0h9m-553 4h9m42 0h9m127 0h9m-136 2h17m255 4h8m-34 2h9m17 8h8m-8 10h8m-8 82h8m-8 76h8m-8 22h8m-8 2h8m-127 2h8m111 0h8m-8 2h8m-153 4h9m136 2h8m-127 2h8m-25 2h17m-9 4h17m-25 2h8m128 0h8m-119 2h9m0 8h8m-17 2h17m-59 4h8m9 0h8m-17 2h9m0 6h8m-25 2h8m0 2h9m34 0h8m-51 4h9m0 8h8m26 0h17m-102 4h8m85 2h9m-68 8h8m43 0h8m136 0h9m-34 2h8m9 0h8m34 0h9m-238 2h8m153 0h9m17 0h8m-187 2h9m161 0h17m-68 2h26m25 0h9m-196 2h9m68 4h8m77 0h8m68 0h9m-9 4h9m8 0h9m-272 2h8m9 0h8m68 0h9m59 0h9m-77 4h9m34 0h8m-42 2h8m-144 4h8m119 0h9m161 0h9m-298 2h9m8 0h9m102 0h8m26 0h8m-42 2h8m-127 2h8m128 2h8m-153 2h26m263 2h9m0 2h8m0 6h9m8 2h9m-408 2h8m485 0h8m-433 2h8m298 2h8m-306 2h9m289 0h17m-9 2h9m-332 2h9m314 0h9m-332 2h9m314 2h9m-9 4h9m-332 2h9m306 6h8m-331 2h8m323 6h9m-17 8h17m-9 2h9m-17 2h8m-17 4h9m8 0h9m-9 2h9m-17 2h17m-357 2h8m323 0h17m-357 2h9m331 4h9m-374 6h8m-34 2h9m-255 2h8m247 0h8m26 0h8m-272 2h17m77 0h8m68 0h9m17 0h8m434 0h8m-646 2h9m178 0h9m59 0h9m365 0h9m-629 2h17m8 0h9m59 0h9m25 0h9m25 0h9m34 0h8m400 0h8m-637 2h8m34 0h9m17 0h8m94 0h8m-110 2h8m561 0h9m-604 2h9m25 0h9m17 0h17m8 0h9m510 0h8m-595 2h9m127 0h17m-119 2h9m102 2h8m408 0h9m-578 2h17m25 0h9m527 0h8m9 0h8m-544 2h9m510 0h8m-586 2h8m128 0h8m442 0h17m-8 2h8m-595 2h9m170 0h8m400 0h8m-595 2h9m-17 2h8m536 0h8m-510 2h9m25 0h9m102 0h8m-136 2h9m42 0h9m467 0h9m187 0h8m-212 2h8m204 0h9m-740 2h9m501 0h9m17 0h8m9 0h8m-51 2h9m8 0h9m8 0h17m204 0h9m-153 2h8m43 0h8m17 0h9m34 0h8m-238 2h9m17 0h8m9 0h8m94 0h8m43 0h8m51 0h9m-221 2h8m9 0h17m59 0h9m102 0h8m9 0h8m9 0h17m-255 2h8m60 0h8m68 0h9m51 0h8m-280 2h8m60 0h25m34 0h9m178 0h9m8 2h9m8 0h9m-374 2h8m17 0h9m42 0h9m263 0h9m-340 2h8m34 0h9m297 0h9m-357 2h8m306 0h17m-289 2h9m255 0h8m26 0h17"/>
<path stroke="#00ffc4" d="M1107 223h9m-901 2h8m-8 2h8m-8 2h8m264 0h8m85 0h9m42 0h9m416 0h9m-604 2h9m127 0h9m59 0h17m26 0h8m43 0h8m60 0h17m-629 2h8m289 0h9m51 0h8m51 0h9m170 0h8m170 0h9m59 0h9m85 0h8m-909 2h8m111 0h8m68 0h9m93 0h9m102 0h17m25 0h34m374 0h9m17 0h8m-705 2h8m26 0h8m43 0h8m629 0h9m-884 2h17m59 0h9m119 0h8m187 0h9m17 0h17m17 0h8m298 0h8m94 0h8m-935 2h9m119 0h8m9 0h8m34 0h9m263 0h9m34 0h8m34 0h9m212 0h9m59 0h9m17 0h8m9 0h8m9 0h8m26 0h8m9 0h8m-1007 2h4m136 0h9m119 0h8m60 0h8m128 0h8m94 0h8m51 0h9m76 0h9m187 0h17m42 0h9m17 0h8m-697 2h9m25 0h9m42 0h9m42 0h9m17 0h8m315 0h8m119 0h9m8 0h9m34 0h17m8 0h10m-962 2h9m59 0h9m51 0h8m51 0h17m9 0h8m111 0h8m85 0h9m348 0h9m42 0h9m59 0h9m8 0h9m17 0h8m-552 2h8m34 0h9m93 0h9m238 0h17m25 0h9m8 0h9m51 0h8m34 0h10m-936 2h8m68 0h9m340 0h8m272 0h9m34 0h8m60 0h8m-892 2h8m9 0h8m26 0h8m85 0h9m25 0h9m42 0h9m238 0h25m17 0h9m8 0h9m297 0h9m127 0h9m-986 2h8m60 0h8m60 0h8m68 0h9m17 0h8m145 0h8m77 0h8m213 0h8m119 0h9m25 0h9m34 0h17m8 0h9m-910 2h9m170 0h8m9 0h17m17 0h8m60 0h8m332 0h8m187 0h17m43 0h8m9 0h8m9 0h8m17 0h17m-969 2h9m85 0h8m68 0h9m8 0h9m170 0h8m119 0h9m17 0h8m230 0h8m9 0h8m51 0h9m17 0h8m17 0h9m25 0h9m-910 2h9m34 0h8m128 0h8m230 0h8m26 0h8m26 0h8m9 0h8m102 0h9m204 0h17m93 0h9m-961 2h9m229 0h9m110 0h9m34 0h8m9 0h17m8 0h9m17 0h8m34 0h9m348 0h9m25 0h9m-927 2h9m263 0h9m25 0h17m9 0h8m102 0h9m8 0h9m17 0h25m43 0h8m255 0h9m17 0h8m9 0h8m26 0h8m43 0h8m-943 2h8m17 0h9m8 0h9m238 0h8m9 0h8m60 0h8m34 0h9m76 0h9m34 0h8m315 0h8m-905 2h4m187 0h9m51 0h8m85 0h9m102 0h17m170 0h8m315 0h8m26 0h8m-697 2h9m85 0h8m26 0h8m17 0h9m8 0h9m17 0h8m9 0h8m366 0h8m17 0h9m34 0h17m-884 2h8m230 0h8m34 0h9m42 0h9m8 0h9m42 0h9m42 0h9m323 0h17m59 0h9m25 0h9m-961 2h9m331 0h17m145 0h8m340 0h9m17 0h8m17 0h9m-578 2h8m17 0h9m25 0h9m17 0h17m467 0h17m17 0h9m-833 2h8m221 0h9m34 0h17m34 0h17m8 0h9m51 0h8m374 0h9m17 0h8m9 0h8m-990 2h4m391 0h17m9 0h8m60 0h8m17 0h34m9 0h8m306 0h9m68 0h8m-909 2h8m43 0h8m400 0h8m9 0h8m9 0h17m17 0h8m417 0h8m-612 2h9m76 0h9m25 0h9m8 0h9m374 0h8m9 0h8m-484 2h8m510 0h9m-485 2h9m42 0h9m374 0h8m43 0h8m-569 2h8m553 0h8m9 4h8m-442 4h9m-17 2h8m-68 2h9m34 0h8m400 0h8m-459 6h9m280 0h17m17 0h9m-595 2h8m-17 2h9m25 0h9m297 2h9m-17 6h8m-8 184h8m-136 16h9m0 6h8m-8 6h8m-17 2h9m-9 4h17m-8 2h8m111 0h8m-119 2h9m-17 2h8m-17 2h9m8 2h9m-26 4h9m-17 4h8m26 6h8m-51 6h9m-9 6h17m128 6h8m-110 2h8m94 0h8m-161 12h8m43 0h8m102 0h9m8 0h9m8 0h9m-60 4h9m-153 2h8m51 0h9m51 2h8m26 0h8m9 0h8m34 0h9m-162 2h9m68 0h8m9 0h8m26 0h8m-59 2h8m-8 2h8m17 0h9m68 0h8m-127 2h8m9 0h8m9 0h8m-170 2h9m229 0h17m-263 2h8m85 4h9m-102 2h8m119 0h9m119 0h17m-289 2h8m128 0h8m-42 2h17m17 0h17m8 0h9m-162 2h9m85 0h8m-102 2h9m93 0h9m170 0h8m-178 2h17m-9 2h17m-144 4h8m272 0h9m-170 2h8m162 0h8m-187 2h9m-128 2h17m272 0h9m-306 8h8m306 0h9m-17 4h8m-8 16h8m-340 20h9m323 6h8m-8 8h8m-8 2h8m0 2h9m-17 4h8m-17 2h17m9 0h8m-408 2h9m-281 2h9m637 0h9m-659 2h4m179 0h8m60 0h8m9 0h8m-127 2h8m9 0h25m60 0h8m-59 2h8m-170 2h9m110 0h9m51 0h8m-153 2h9m68 0h8m68 0h9m34 0h8m-212 2h8m162 0h8m408 0h9m8 0h9m-578 2h8m68 0h9m442 0h8m17 0h9m-612 2h8m94 0h8m34 0h9m-145 2h9m51 0h8m128 0h8m-161 2h8m34 0h9m-26 2h9m17 0h8m34 0h9m51 0h8m-144 2h8m43 0h8m34 0h9m25 0h9m-77 2h9m484 0h9m-459 4h8m17 0h9m-51 2h8m-68 2h9m51 0h8m43 0h8m391 0h9m-502 2h9m459 0h8m-433 2h8m434 0h8m26 0h8m170 0h9m-740 2h9m59 0h9m629 0h8m34 0h9m-723 2h9m450 0h9m187 0h8m-144 2h8m9 0h8m9 0h8m111 0h8m-212 2h8m9 0h8m34 0h9m144 0h9m-187 2h8m17 0h9m110 0h9m-128 2h9m153 0h8m34 0h9m17 0h8m9 0h8m17 0h9m-774 2h9m527 0h8m9 0h8m17 0h9m17 0h8m43 0h8m34 0h9m17 0h8m-229 2h25m26 0h8m43 0h8m43 0h8m77 0h8m-748 2h9m467 0h9m42 0h9m8 0h9m59 0h9m25 0h9m93 0h9m-272 2h8m9 0h8m128 0h8m-153 2h9m8 0h9m17 0h8m60 0h8m153 0h9m-281 2h17m9 0h8m9 0h8m34 0h9m17 0h8m153 0h9"/>
<path stroke="#00ffad" d="M1099 223h8m-450 4h8m-59 4h8m519 0h8m-807 2h8m187 0h17m34 0h9m17 0h17m-60 2h9m8 0h9m34 0h8m43 0h8m68 0h9m-213 2h9m17 0h8m43 0h8m34 0h9m34 0h8m9 0h8m391 0h9m-961 2h9m365 0h9m8 0h9m59 0h9m51 0h8m272 0h9m119 0h25m-612 2h9m25 0h17m9 0h8m366 0h8m187 0h9m-629 2h8m230 0h8m-484 2h8m264 0h8m119 0h9m17 0h8m340 0h9m51 0h8m-629 2h9m25 0h9m34 0h8m111 0h17m25 0h9m348 0h9m59 0h9m-999 2h4m111 0h8m213 0h8m9 0h8m34 0h9m17 0h17m8 0h9m8 0h9m51 0h17m212 0h9m102 0h8m9 0h8m9 0h8m-905 2h4m170 0h9m34 0h8m17 0h9m85 0h8m17 0h9m34 0h8m43 0h17m8 0h9m51 0h8m298 0h8m34 0h9m34 0h8m17 0h9m8 0h9m-723 2h9m153 0h8m17 0h9m68 0h8m247 0h8m196 0h8m-425 2h9m255 0h8m68 0h9m34 0h8m34 0h9m8 0h10m-826 2h9m127 0h9m8 0h26m51 0h8m60 0h8m400 0h8m17 0h9m-918 2h8m85 0h9m59 0h9m17 0h8m34 0h9m238 0h8m43 0h8m434 0h25m-960 2h8m128 0h8m357 0h9m51 0h8m281 0h8m9 0h8m9 0h8m17 0h9m-918 2h8m213 0h8m43 0h8m26 0h8m17 0h9m85 0h8m17 0h9m8 0h9m442 0h8m34 0h10m-979 2h9m51 0h8m51 0h9m178 0h9m8 0h9m102 0h8m9 0h8m60 0h8m-518 2h8m85 0h9m119 0h8m51 0h9m59 0h9m17 0h8m9 0h8m26 0h8m34 0h9m17 0h8m400 0h8m17 0h9m-782 2h8m128 0h8m51 0h9m85 0h17m34 0h8m349 0h8m51 0h9m-638 2h9m34 0h8m43 0h8m136 0h9m212 0h9m144 0h9m42 0h9m-638 2h9m17 0h8m43 0h8m17 0h9m17 0h8m9 0h8m17 0h9m433 0h9m-612 2h8m17 0h9m25 0h26m476 0h8m9 0h8m-603 2h8m77 0h8m26 0h8m9 0h8m60 0h17m323 0h8m102 0h10m-647 2h8m17 0h9m102 0h8m9 0h8m468 0h8m-552 2h8m442 0h9m59 0h9m-451 2h9m416 0h9m-612 2h8m204 0h9m425 0h8m-476 2h9m467 0h10m-605 4h9m34 0h8m43 0h8m434 0h8m-442 2h9m459 0h8m-433 2h8m366 2h8m-527 2h9m144 2h9m-128 4h9m-187 6h8m9 0h8m-51 2h9m17 0h8m238 2h9m34 0h8m-8 16h8m-8 2h8m-8 204h8m-8 8h8m-144 2h8m17 0h9m-17 8h8m-42 4h8m34 0h9m102 0h8m-144 2h8m17 2h9m-43 2h9m136 4h8m-144 2h8m26 0h8m-8 2h8m-59 2h8m145 2h8m-8 2h8m-110 2h8m102 2h9m-162 6h9m136 0h8m-8 2h8m-153 2h9m42 6h9m102 0h8m17 0h9m-34 2h8m34 0h9m-179 2h9m93 0h9m-145 2h9m144 0h9m51 2h8m-229 2h8m213 0h17m-238 2h8m119 0h9m-9 2h17m-85 2h9m-85 2h8m68 0h9m-85 2h8m136 0h17m-76 2h8m34 2h9m119 2h8m-170 2h9m8 0h9m8 0h9m-51 2h8m17 0h9m-128 2h9m93 0h9m-9 2h9m153 0h8m-272 2h9m119 0h8m145 0h8m-297 6h17m85 0h8m9 0h8m145 2h8m-323 4h9m323 2h8m-314 4h8m-8 2h8m289 0h9m-315 6h9m297 2h17m-323 6h9m314 4h9m-17 2h8m0 4h9m-26 12h9m-9 2h9m0 6h8m-17 6h9m8 0h9m-374 4h17m340 2h8m-17 2h9m-374 4h8m366 0h17m-655 2h9m-26 2h9m8 0h9m170 0h8m68 0h9m-255 2h8m162 0h8m26 0h8m17 0h9m-255 2h8m196 0h17m25 0h17m-110 2h25m17 0h9m8 0h9m-60 2h9m476 0h8m-612 2h9m34 0h8m68 0h9m17 0h8m43 0h8m-204 2h9m8 0h9m51 0h8m-8 2h8m26 0h8m9 0h8m34 0h9m-162 2h9m42 0h17m43 0h17m93 0h9m357 0h8m-518 2h8m77 0h8m-136 2h17m43 0h8m9 0h8m34 0h9m-111 2h9m17 0h8m34 0h9m459 0h8m-578 2h9m68 0h8m-17 2h9m25 0h17m-85 2h17m51 0h9m425 0h8m-544 2h9m42 0h9m8 0h9m0 2h8m451 0h17m0 2h8m9 0h8m26 0h8m-535 2h8m17 0h9m663 0h8m-212 2h8m196 0h8m-212 2h8m204 0h17m-807 2h8m162 0h8m366 0h8m187 0h9m17 0h8m51 0h9m-774 2h9m510 0h8m43 0h8m136 0h9m17 0h8m-59 2h8m-238 2h9m8 0h9m17 0h8m17 0h17m17 0h17m221 0h9m-281 2h9m127 0h9m110 0h17m-323 2h17m26 0h8m136 0h9m110 0h9m-221 2h8m43 0h8m145 0h25m-331 2h8m17 0h9m17 0h8m17 0h9m8 0h9m51 0h17m17 0h8m9 0h8m68 0h9m17 0h8m-289 2h17m17 0h9m17 0h8m34 0h9m25 0h17m179 0h17m-238 2h8m9 0h8m9 0h8m153 0h9"/>
<path stroke="#00ff97" d="M368 227h8m179 0h8m26 6h8m17 2h9m8 0h9m8 0h9m-68 2h8m51 0h9m-136 2h8m43 0h8m34 0h17m26 0h17m-179 2h9m17 0h17m59 0h9m34 0h17m476 0h8m17 0h9m-672 2h9m25 0h9m34 0h8m26 0h8m43 0h25m9 0h17m425 0h8m17 0h9m8 0h10m-741 2h9m76 0h9m153 0h8m425 0h9m34 0h8m-960 2h8m315 0h8m51 0h9m25 0h9m25 0h9m34 0h8m-501 2h8m221 0h9m187 0h8m26 0h8m459 0h9m-638 2h9m17 0h8m60 0h8m51 0h9m17 0h8m459 0h17m-680 2h9m17 0h34m17 0h8m26 0h8m26 0h8m383 0h17m8 0h17m51 0h9m-629 2h25m17 0h9m8 0h9m17 0h8m51 0h9m42 0h9m348 0h9m102 0h8m-901 2h9m323 0h17m59 0h9m382 0h9m42 0h9m-935 2h8m9 0h8m60 0h8m221 0h9m25 0h9m93 0h9m17 0h8m9 0h8m357 0h9m68 0h8m34 0h10m-656 2h9m8 0h9m42 0h26m518 0h9m17 0h8m-646 2h9m34 0h8m9 0h8m553 0h25m-637 2h17m34 0h8m417 0h8m51 0h9m25 0h9m59 0h10m-656 2h17m9 0h8m60 0h8m17 0h9m8 0h9m382 0h9m59 0h17m26 0h8m-960 2h8m298 0h17m68 0h8m26 0h8m51 0h9m391 0h8m-586 2h8m17 0h9m127 0h9m17 0h17m391 0h8m51 0h10m-979 2h9m374 0h8m43 0h17m25 0h17m34 0h9m340 0h8m43 0h8m-918 2h9m391 0h8m17 0h9m17 0h17m450 0h9m8 0h9m-68 2h8m-501 2h8m9 0h8m485 0h8m-391 2h9m-9 2h9m357 0h8m-501 2h8m111 2h8m0 6h9m-17 12h8m0 4h9m238 0h8m-255 2h9m-17 2h8m0 6h9m-17 214h8m-127 2h8m0 2h9m-34 4h8m9 2h8m0 2h9m-17 2h8m111 0h8m-144 2h17m119 2h8m-136 4h9m119 0h8m-136 6h17m9 0h8m-42 4h8m128 0h8m-144 2h8m128 0h8m-144 2h8m17 4h9m102 0h8m-136 2h9m-26 2h17m-17 4h9m25 0h9m68 2h8m17 0h9m-34 2h42m-119 4h9m-43 2h9m34 0h8m-51 6h9m187 2h8m-34 4h9m-43 2h9m17 0h8m-178 2h17m127 2h9m-9 2h9m-162 4h9m127 0h9m8 0h17m-34 2h9m-17 2h8m-136 2h9m119 0h17m93 0h9m-179 2h9m51 0h17m102 0h8m-8 4h8m-178 4h8m17 4h9m-9 2h9m-136 2h8m102 0h9m170 2h8m17 6h9m-196 4h17m145 14h8m-8 2h17m-17 2h8m-8 8h8m-25 4h8m9 0h8m-17 2h17m-8 4h8m-25 18h8m-348 8h8m332 4h8m-374 2h9m374 0h8m-25 2h17m-655 2h17m638 0h8m-637 2h17m102 0h8m26 0h8m43 2h8m51 0h9m-247 2h17m128 0h17m25 0h9m8 0h9m374 0h8m-467 2h8m77 0h8m383 0h8m-484 2h8m9 0h17m34 0h8m-59 2h8m34 0h9m408 0h8m-561 2h9m34 0h17m51 0h8m60 0h8m323 0h17m-586 2h8m111 0h8m51 0h9m391 0h8m-535 2h8m128 0h8m26 0h8m323 0h9m-510 2h8m51 0h9m59 0h9m17 0h8m357 0h9m-527 2h8m9 0h8m17 0h9m8 0h9m25 0h9m51 0h8m17 0h9m-162 2h9m34 0h8m43 0h8m400 0h8m26 0h8m-510 2h17m26 0h8m26 0h8m26 0h8m332 0h8m43 0h8m-561 2h9m76 0h9m8 0h9m399 0h9m34 0h8m-586 2h8m102 0h9m8 0h9m17 0h17m416 0h9m-561 2h8m43 0h8m9 0h8m425 0h9m-510 2h8m111 0h25m357 0h17m34 0h9m-510 2h8m9 0h8m663 0h9m17 0h8m-807 2h8m102 0h9m8 0h9m408 0h8m221 0h9m-723 2h9m8 0h9m442 0h8m43 0h8m-586 2h8m179 0h8m357 0h9m161 0h9m17 0h8m9 2h17m-255 2h8m43 0h8m136 0h17m-187 2h9m144 0h9m-502 2h9m306 0h8m51 0h9m110 0h9m119 0h8m-153 2h26m-153 2h8m68 0h9m8 0h9m34 0h8m128 2h8m9 0h8m-297 2h8m9 0h8m170 0h9m59 0h17"/>
<path stroke="#00ff81" d="M623 233h8m442 2h9m-485 2h9m8 0h9m-34 2h8m51 0h9m17 0h8m-144 2h8m68 0h17m34 0h9m-60 2h26m8 0h9m467 0h9m-527 2h8m153 0h9m-230 2h9m68 0h8m26 0h8m442 0h9m-578 2h8m26 0h8m77 0h8m17 0h9m-128 2h9m17 0h17m8 0h9m34 0h8m-110 2h8m85 0h9m442 0h8m-578 2h9m59 0h9m-230 2h9m178 0h9m51 0h8m9 0h17m-306 2h8m179 0h8m43 0h8m9 0h8m9 0h8m51 0h9m425 0h8m17 0h9m-612 2h8m26 0h8m51 0h9m17 0h8m17 0h17m391 0h9m-587 2h9m17 0h8m51 0h9m493 0h8m-544 2h9m34 0h17m76 0h9m433 0h9m-459 2h8m400 0h8m-416 2h8m408 0h9m-519 2h9m493 0h8m-535 2h8m519 0h17m-459 2h8m60 0h17m408 2h8m9 0h8m-119 2h9m-476 8h8m136 4h9m-17 2h8m-153 2h9m136 34h8m-8 220h8m-127 4h8m0 2h9m102 8h8m-119 4h9m-26 2h9m-17 4h8m17 2h17m94 0h8m-119 2h9m-26 2h9m-17 4h8m111 0h8m-93 2h8m-42 2h8m26 0h8m-51 8h9m34 2h8m145 0h8m-170 2h9m-43 2h9m34 0h8m128 0h8m9 0h8m-212 2h8m170 2h9m-17 2h8m0 2h9m17 0h8m9 2h8m-68 2h9m-170 2h8m128 0h8m85 2h9m-9 2h9m-179 2h9m-85 4h8m68 0h9m51 4h8m111 0h8m-178 4h8m-8 2h8m34 0h9m-9 2h9m119 0h8m-153 2h9m136 0h8m-8 2h8m-144 2h17m-179 2h9m323 2h8m-323 2h9m119 0h17m-26 2h9m161 0h9m-17 4h8m-161 2h8m153 0h9m-306 4h8m-8 2h8m281 6h8m-297 2h8m289 0h9m-332 24h9m314 0h9m-17 2h8m-331 10h8m306 4h9m-332 2h9m-17 2h8m-310 4h4m638 0h8m-391 2h9m17 0h8m-293 2h4m17 0h9m-9 2h9m246 0h9m-26 2h9m8 0h17m332 0h8m-603 2h25m230 0h8m340 0h9m-612 2h8m179 0h8m-178 2h8m9 0h8m77 0h8m85 0h9m42 0h9m-204 2h8m153 0h26m-187 2h8m60 0h8m26 0h17m42 0h17m-102 2h9m17 0h25m26 0h8m-204 2h9m195 0h9m374 0h8m-595 2h9m68 0h8m60 0h8m26 0h8m51 0h9m331 0h9m-561 2h8m34 0h9m51 0h8m9 0h8m417 0h8m-552 2h8m43 0h25m17 0h9m25 0h9m34 0h8m383 0h8m-603 2h8m26 0h8m51 0h9m25 0h17m17 0h9m-145 2h9m68 0h8m17 0h9m-94 2h9m17 0h8m26 0h8m60 0h8m-136 2h9m102 0h34m17 0h8m9 0h8m357 0h9m-561 2h8m519 0h8m-391 2h17m349 0h8m-510 2h9m42 0h9m17 0h8m43 0h8m26 0h8m374 0h9m-536 2h9m76 0h9m433 0h9m25 0h9m178 0h17m-756 2h8m34 0h9m705 0h9m-655 2h17m9 0h17m340 0h8m9 0h8m162 0h8m60 0h8m9 0h8m-722 2h8m612 0h9m68 0h17m-221 2h8m9 0h8m-42 2h8m26 0h8m145 0h17m17 0h8m26 0h8m-280 2h8m26 0h8m34 0h9m178 0h9m-298 2h9m136 0h8m170 0h9m8 0h9m-238 2h8m26 0h8m9 0h8m-144 2h17m34 0h8m34 0h9m102 0h8m85 0h9"/>
<path stroke="#00fe68" d="M572 231h8m-42 4h8m60 2h8m26 0h8m-136 2h9m34 0h8m-59 2h8m51 0h9m17 0h8m9 0h8m17 0h9m51 0h17m-153 2h17m17 0h17m-68 2h17m34 0h17m25 0h9m-77 2h9m17 0h8m17 0h9m17 0h8m-119 2h9m68 0h8m26 2h8m-51 2h9m17 0h17m-102 2h8m68 0h17m-93 2h17m17 0h8m17 0h9m68 0h8m-51 2h9m8 2h9m-102 2h8m553 0h8m-552 2h8m43 0h8m485 0h8m-918 2h9m365 2h9m527 0h8m-544 4h9m34 0h8m485 0h8m-544 4h9m-9 2h9m510 2h8m-527 2h9m-9 10h9m144 2h9m-9 2h9m-9 6h9m-145 242h9m0 4h8m-17 2h17m-17 6h9m119 0h8m-127 2h8m0 6h9m-9 4h9m-17 2h8m9 28h8m-51 4h9m34 0h8m128 0h8m9 0h8m-8 2h8m-42 4h8m17 2h9m-145 2h9m-77 4h9m136 0h17m-153 2h8m128 2h8m-161 2h17m229 0h9m-77 2h9m-51 2h17m102 4h8m-187 2h9m170 2h8m-178 2h17m-111 2h9m85 0h8m26 0h8m-34 4h17m-153 4h9m297 2h9m-170 2h8m153 2h9m-298 2h9m119 0h17m-153 4h8m289 0h17m-8 2h8m-323 4h9m127 0h9m161 0h9m-17 2h8m-306 4h9m-9 2h9m297 0h9m-323 10h8m298 2h8m9 0h8m-17 4h9m-17 4h8m0 8h9m-340 4h8m306 2h9m0 2h8m-331 2h8m315 0h8m-8 4h8m-348 2h8m315 2h8m-340 2h9m-26 2h9m348 0h9m-357 2h17m340 0h8m-374 4h9m-247 2h9m195 0h9m8 0h9m365 0h9m17 2h8m-629 2h9m8 0h9m8 0h9m127 0h9m408 0h8m9 0h8m-8 2h8m-612 2h9m85 0h8m43 0h8m51 0h9m8 0h17m357 0h17m-586 2h8m60 0h8m17 0h9m8 0h9m59 0h9m-204 2h8m119 0h9m102 0h8m332 0h8m-595 2h9m25 0h9m25 0h9m17 0h8m68 0h17m9 0h8m26 0h8m17 0h9m-9 2h17m298 0h17m-510 2h8m128 0h8m383 0h8m-484 2h8m9 0h8m34 0h9m34 0h17m348 0h9m-536 2h9m59 0h9m425 0h17m-544 2h8m17 0h9m161 0h9m323 0h8m-493 2h9m17 0h17m51 0h8m-144 2h8m9 0h8m26 0h8m17 0h9m34 0h8m34 0h9m357 0h8m17 0h17m-518 2h8m102 0h9m391 0h8m-484 2h8m60 0h8m-136 2h9m34 0h8m68 0h9m-77 2h17m17 0h9m42 0h9m391 0h8m255 0h9m-774 2h9m59 0h9m34 0h8m561 0h9m-689 2h9m467 0h9m17 0h8m204 0h9m42 0h9m-748 2h8m17 0h9m578 0h8m26 0h8m119 0h9m-272 2h8m111 0h8m102 0h9m-612 2h8m9 0h8m289 0h9m195 0h9m8 0h9m-60 2h9m34 0h8m85 0h9m-323 2h17"/>
<path stroke="#00fc4c" d="M631 237h9m-43 2h9m42 6h9m-77 8h9m-34 2h8m77 0h8m17 0h9m-119 2h8m17 0h9m-26 2h9m42 0h9m-34 2h8m519 0h8m-510 2h9m8 4h9m-60 8h9m0 278h8m9 4h8m-17 2h9m8 2h9m-26 2h9m-9 2h9m8 6h9m-9 8h9m-17 6h17m-26 2h9m8 0h9m144 14h9m-9 2h9m-153 2h8m102 2h9m8 0h9m8 0h9m8 0h9m-162 2h9m-60 2h9m34 0h8m94 2h8m60 2h8m-229 2h8m145 0h8m-17 4h9m-17 2h8m-161 4h8m-8 2h8m111 0h17m110 0h9m-255 2h8m119 0h9m0 2h17m-162 4h9m127 2h9m-26 2h9m17 0h8m-34 2h9m161 2h9m-170 4h17m119 0h8m-289 2h9m102 0h8m170 10h9m-17 4h8m0 4h9m-9 6h9m-170 4h8m145 0h17m-9 2h9m-9 4h9m-332 12h9m-9 2h9m306 4h8m-331 6h8m332 0h8m-357 2h9m323 2h8m-17 2h9m-357 4h17m340 4h8m-603 4h8m587 0h8m-467 2h8m-144 2h8m221 0h9m340 0h8m9 0h8m-391 2h9m8 0h9m348 0h17m-416 2h8m51 0h9m-26 2h9m-94 2h9m408 0h8m-544 2h9m127 0h9m76 0h9m323 0h8m-450 2h8m77 0h17m323 0h8m26 0h8m-595 2h9m535 0h9m34 0h8m-603 2h8m170 0h9m8 0h9m25 0h9m-230 2h9m85 0h8m102 0h9m-136 2h8m77 0h8m17 0h26m374 0h8m-467 2h8m85 0h9m-162 2h9m102 0h8m17 0h9m-238 2h8m17 0h9m34 0h17m25 0h9m76 0h9m34 0h17m348 0h9m-553 2h9m51 0h8m51 0h9m51 0h17m-179 2h9m119 0h8m26 0h8m332 0h8m247 0h8m-782 2h9m25 0h9m68 0h8m434 0h8m-561 2h9m93 0h9m408 0h17m238 0h8m-748 2h17m9 0h8m111 0h8m17 0h9m569 0h9m-791 2h9m17 0h8m26 0h8m111 0h17m8 0h17m323 0h9m238 0h8m17 0h9m-825 2h9m17 0h8m26 0h8m9 0h8m434 0h8m255 0h17m-680 2h9m85 0h8m289 0h9m25 0h9m-561 2h8m723 0h8m9 0h8m9 0h8m43 0h8m-119 2h9m102 0h8m-620 2h8m323 0h9m93 0h9m85 0h8m-229 2h8m247 0h8m34 0h9"/>
<path stroke="#00fa31" d="M580 239h9m-43 4h9m119 4h8m-127 2h8m0 4h9m34 2h8m17 0h9m-43 4h9m17 2h8m468 4h8m-510 2h9m-26 14h9m17 286h8m-17 16h9m-17 2h8m0 4h9m-17 2h8m17 0h9m-34 2h8m-8 8h8m170 4h9m8 0h9m-170 2h8m-51 2h9m136 0h8m0 2h9m-162 2h9m153 0h8m-8 2h8m-170 4h9m42 0h9m76 0h9m-94 10h9m51 2h8m102 0h9m-9 8h9m-136 2h8m119 2h9m25 4h9m-204 8h8m26 0h8m119 0h9m-153 6h8m0 2h9m-9 2h9m136 8h8m-153 2h9m136 0h8m0 2h9m-17 6h8m-314 2h8m289 14h9m-9 10h9m-332 6h9m306 0h8m-8 6h8m-331 2h8m-8 2h8m323 0h9m-638 2h9m8 0h9m603 0h9m-349 2h17m306 2h9m-595 2h17m221 0h8m9 0h8m323 0h9m-561 2h8m-42 2h8m26 0h8m102 0h9m42 0h9m-179 2h9m8 0h9m195 0h9m8 0h9m314 0h9m-408 2h8m51 0h9m348 0h9m-612 2h8m34 0h9m178 0h9m-119 2h8m85 0h9m34 0h8m-238 2h26m25 0h9m68 0h8m43 0h8m-136 2h9m161 0h9m8 0h9m314 0h9m-570 2h9m170 0h8m43 0h8m315 0h8m-586 2h8m187 0h9m25 0h9m25 0h17m-238 2h9m51 0h8m9 0h8m17 0h9m-94 2h9m76 0h17m17 0h9m42 0h9m-162 2h17m-59 2h8m43 0h8m77 0h8m-93 2h8m51 0h9m93 0h9m331 0h9m-459 2h8m68 0h17m17 0h9m-111 2h9m25 0h17m60 0h8m298 0h8m17 0h9m8 0h9m178 0h9m-748 2h8m68 0h9m25 0h9m42 0h9m-94 2h9m110 0h9m535 0h9m-612 2h8m43 0h8m315 0h8m255 0h9m42 0h9m-646 2h8m26 0h8m9 0h8m527 0h9m-612 2h8m9 0h8m527 0h9m34 0h8m-263 2h8m238 0h17m34 0h17m-204 2h9m76 0h9"/>
<path stroke="#01f817" d="M580 237h9m-9 10h9m-9 2h9m-9 6h9m-9 4h9m-9 12h9m17 292h8m-8 2h8m-17 2h9m0 2h8m-17 2h9m-9 2h9m-9 4h9m8 6h9m-34 6h8m17 4h9m-34 4h8m17 0h9m-34 6h8m179 4h8m-17 2h9m17 4h8m-76 6h8m-17 4h9m-162 2h9m136 0h17m76 0h9m-179 2h9m68 0h8m85 0h9m-247 2h9m127 0h9m0 2h8m-161 2h8m119 0h9m8 2h9m93 0h9m-255 4h8m128 0h8m-17 2h9m8 0h9m-68 2h8m179 2h8m-314 2h8m298 0h8m-297 2h8m102 0h9m25 2h9m-153 2h8m111 0h17m-26 2h9m-128 2h9m136 0h8m128 0h8m-289 4h9m272 2h8m-297 4h8m281 4h8m-306 6h9m144 0h9m-162 2h9m289 8h17m-17 2h8m-17 2h17m-8 4h8m-17 2h9m-9 4h17m-8 6h8m-34 6h9m8 0h9m-332 6h17m-25 2h17m-34 2h8m332 0h8m-633 2h13m0 2h8m281 0h8m298 0h8m-603 2h8m587 0h8m9 0h8m-620 2h8m264 0h8m306 0h9m-323 4h8m323 0h9m8 0h9m-604 2h9m561 0h8m17 0h9m-629 2h8m43 0h8m213 0h8m306 0h9m0 2h8m-603 2h8m17 0h9m17 0h8m230 0h8m281 0h8m-340 2h9m340 0h17m-527 2h8m527 0h9m-578 2h17m144 0h9m399 0h9m-604 2h9m51 0h8m213 0h8m264 0h17m-570 2h9m8 0h9m34 0h8m485 0h8m-544 2h17m510 0h17m-467 2h8m162 0h8m-136 2h9m416 0h9m8 0h9m-578 2h8m94 0h8m17 0h9m93 0h26m297 0h9m-476 2h8m9 0h8m85 0h9m8 0h17m17 0h9m-264 2h9m153 0h25m68 0h9m-162 2h9m450 0h9m-425 2h8m26 0h8m9 0h8m43 0h8m289 0h9m263 0h9m-612 2h8m340 0h9m255 0h8m-790 2h8m26 0h8m153 0h9m297 0h9m229 0h9m42 0h17m-799 2h9m42 0h9m8 0h9m51 0h8m26 0h8m26 0h8m323 0h9m17 0h8m170 0h9m42 0h17m-807 2h17m93 0h9m68 2h17m8 0h9m501 0h9m42 0h9m-638 2h9m34 0h8m323 0h9m195 0h9m85 0h8"/>
<path stroke="#11f207" d="M580 245h9m-9 20h9m17 310h8m-8 4h8m-17 12h9m-9 2h9m-17 2h8m-8 4h8m17 2h9m-9 4h9m0 4h8m128 0h8m-25 2h8m9 0h8m17 0h9m-170 2h8m-51 4h9m-26 2h9m0 2h8m-17 6h9m136 2h8m-85 2h9m59 0h9m0 2h8m-85 2h9m51 0h8m-25 2h8m-136 6h9m76 0h9m-111 2h9m110 0h9m-17 4h8m43 0h8m-161 2h8m94 2h17m153 0h8m-289 6h9m127 0h9m-26 2h9m8 0h9m136 0h8m-178 2h8m9 0h8m17 0h9m110 0h9m-289 2h8m111 2h8m9 0h8m17 0h9m-170 2h8m111 0h8m0 2h17m9 2h8m119 0h9m-298 2h9m127 0h9m153 2h8m-314 10h8m298 12h8m-17 6h9m-332 12h17m306 2h9m-323 2h8m289 0h9m-604 8h9m586 0h9m-332 2h9m-255 6h8m247 0h8m-280 2h8m272 0h9m-289 2h17m569 0h9m-561 4h8m153 0h9m25 2h9m331 0h9m-570 2h9m51 0h8m204 0h9m-289 2h8m94 2h8m102 2h9m34 0h8m306 0h9m-323 2h17m289 0h8m-544 2h9m153 0h8m26 0h8m-204 2h9m8 0h9m17 0h8m17 0h9m51 0h8m400 0h8m-561 2h9m8 0h9m153 0h8m60 0h8m17 0h9m272 0h17m-434 2h9m119 0h8m281 0h8m-535 2h34m17 0h8m77 0h8m68 0h9m-247 2h9m76 0h9m42 0h9m42 0h9m-153 2h8m43 0h8m77 0h17m8 0h9m17 0h8m17 0h9m-162 2h9m85 0h8m-170 2h9m34 0h8m102 0h9m42 0h9m8 0h9m289 0h17m255 0h8m-765 2h9m119 0h8m43 0h17m289 0h8m281 0h8m17 0h9m-672 2h9m51 0h8m298 0h8m204 0h9m-553 2h9m527 0h8m34 0h9"/>
<path stroke="#2cf200" d="M580 241h9m-9 2h9m-9 8h9m-9 16h9m17 306h8m-8 4h8m-25 4h17m0 2h8m0 12h9m-34 12h8m17 0h9m161 2h9m-43 2h9m-9 2h9m-179 2h9m195 4h9m-170 2h8m94 0h8m-110 2h8m94 0h8m-8 2h8m-110 2h8m85 0h17m-17 4h9m76 2h9m-255 2h8m145 0h17m-170 2h8m128 0h17m93 0h9m-111 2h9m-77 2h9m161 0h9m-111 2h9m-187 2h8m289 0h9m-17 2h8m-17 4h17m-136 2h9m-51 4h8m17 0h9m8 0h9m119 2h8m-170 4h9m8 4h9m-26 2h9m8 0h9m-34 2h8m9 4h8m-153 6h9m136 2h8m136 0h9m-9 2h9m-9 2h9m-306 2h8m289 14h9m-323 10h8m298 0h8m-8 4h8m0 4h9m-26 2h9m-306 2h8m272 0h9m17 0h8m-17 2h9m-604 4h9m578 2h8m-603 2h8m570 0h8m9 0h8m-25 2h8m0 6h9m-578 2h8m264 0h8m281 0h8m-561 2h9m238 0h8m-8 2h8m298 0h8m-306 2h17m-263 2h8m17 0h9m518 0h9m-510 2h8m187 0h9m297 2h9m-570 2h9m17 0h17m178 0h9m-43 2h9m25 0h9m314 0h9m-519 2h9m17 0h8m77 0h8m17 0h9m8 0h9m-179 2h9m59 0h17m43 0h8m43 0h8m17 0h9m17 0h8m306 0h9m-595 2h8m17 0h9m59 0h9m68 0h8m128 0h8m-272 2h9m34 0h17m85 0h8m-136 2h9m119 0h17m17 0h8m43 0h8m17 0h17m255 0h9m-502 2h9m8 0h9m8 0h9m25 0h9m34 0h8m17 0h9m8 0h26m306 0h8m-476 2h9m59 2h9m34 0h8m17 0h9m8 0h9m586 0h9m-672 2h9m119 0h8m272 0h9m272 0h8m-646 2h9m42 0h9m8 0h9m552 0h9"/>
<path stroke="#50f400" d="M580 261h9m17 326h8m-8 4h8m145 16h8m-178 2h8m-8 2h8m179 0h8m-25 2h8m-34 2h9m8 0h9m25 0h9m0 2h8m-68 2h9m-170 4h8m136 6h9m-162 2h9m59 8h9m68 0h8m-25 4h8m-170 4h9m93 6h9m34 0h8m-51 2h9m42 0h9m-51 4h8m9 0h8m9 0h8m119 0h9m-281 4h9m119 2h8m136 0h9m-162 2h9m17 0h8m119 2h9m-136 2h8m-25 2h8m136 2h9m-9 6h9m-9 8h9m-9 4h9m-315 8h9m-9 2h9m289 8h8m-314 4h8m-17 8h9m272 0h8m17 2h9m-315 2h9m-315 2h9m289 2h17m-306 2h8m281 0h8m-280 2h8m561 0h9m-595 2h8m281 2h8m281 0h8m-552 2h8m230 0h8m9 0h8m-297 4h8m26 0h8m519 0h8m51 0h9m-612 2h8m553 0h8m-297 2h8m289 0h9m-561 2h8m9 0h8m-8 2h8m213 0h8m26 0h8m247 0h8m-552 2h17m-9 2h9m17 0h17m238 0h8m-42 2h8m-263 2h8m272 0h9m-255 2h8m230 0h8m272 0h9m-544 2h8m9 0h17m221 2h8m272 0h9m-332 2h9m51 0h8m247 0h8m9 0h8m-544 2h9m42 0h9m187 0h8m281 0h8m-535 2h8m102 0h9m102 0h8m17 0h9m246 0h9m-536 2h9m102 0h8m77 0h17m8 0h9m42 0h9m-196 2h9m8 0h9m416 0h9m297 0h9m-629 2h8m323 0h9m-340 2h17m314 0h9"/>
<path stroke="#74f700" d="M580 263h9m17 318h8m-17 4h9m0 4h8m-17 6h9m0 4h8m-25 6h8m17 8h9m153 0h8m-161 2h8m145 0h8m-51 2h9m8 0h17m-144 2h8m119 2h9m34 0h8m-229 6h17m34 2h8m102 0h9m51 2h8m-76 2h8m-102 4h9m68 0h8m-178 8h8m94 0h8m17 0h9m-26 2h17m-119 2h9m246 4h9m-162 4h9m-26 2h9m8 0h9m25 0h9m-51 2h8m26 0h8m-8 2h8m-42 2h8m153 2h9m-153 2h8m0 2h9m-26 2h9m8 0h9m8 0h9m-17 2h8m-25 2h8m136 0h9m-9 2h9m-170 8h8m17 4h9m127 4h9m-17 6h8m-306 6h9m280 0h9m-26 2h9m-281 2h9m272 6h8m17 0h9m-34 2h17m-26 2h9m-289 2h8m272 0h17m-306 2h9m272 0h8m-289 4h17m272 0h9m-17 2h8m9 0h8m-612 2h9m586 0h9m-43 2h9m-570 2h9m552 0h9m25 0h9m-289 2h8m-8 2h8m264 0h8m-578 4h9m552 2h9m-561 2h8m544 0h9m-9 4h9m-544 2h8m247 0h8m-263 4h8m238 0h9m263 0h9m-536 2h9m255 0h8m9 0h8m-314 2h8m298 0h8m204 0h9m-510 2h8m272 0h9m255 0h17m-493 2h8m204 0h9m255 0h8m-484 4h8m17 0h9m42 0h17m68 0h9m-170 2h8m77 0h8m128 0h8m-195 2h8m26 0h25m-136 2h9m68 0h8m26 0h8m26 0h8m68 0h9m25 0h9m8 0h9m238 0h8m281 0h8m-646 2h9m76 0h9m544 0h17m25 0h9m-680 2h8m43 0h8m26 0h8m536 0h8"/>
<path stroke="#8ffa00" d="M606 593h8m-8 2h8m-17 2h17m-17 6h9m8 6h9m-34 4h8m187 0h9m-179 2h9m136 0h8m-144 2h8m111 0h8m-170 6h9m204 0h8m-229 2h8m170 2h9m-34 2h8m-170 4h9m144 0h9m-170 8h8m94 4h8m17 0h9m119 0h8m-153 2h9m127 2h9m-179 2h9m51 0h8m-161 4h17m-17 2h8m255 0h9m-128 4h9m110 0h9m-136 4h17m-17 4h8m0 2h9m110 0h9m-289 2h8m111 0h8m-127 2h8m-8 2h8m111 0h8m34 0h9m-43 2h9m0 2h8m9 0h8m-25 4h8m-161 6h8m281 6h8m-306 8h9m289 2h8m-34 6h17m-25 6h8m-25 2h8m9 0h8m9 4h8m-297 2h8m264 0h17m-17 2h8m-599 2h13m306 0h8m247 0h8m-561 2h9m280 0h9m272 0h8m-578 2h9m272 0h25m255 0h9m-281 2h9m-306 4h8m289 0h9m-298 2h9m289 0h8m255 0h9m-9 2h9m-578 2h8m289 0h9m255 0h8m-17 2h9m-264 2h9m-9 2h9m-306 2h8m485 0h8m-501 2h8m561 0h9m-561 2h8m264 0h17m-289 4h8m9 0h8m-42 2h8m77 0h8m-51 2h9m-34 2h8m9 0h8m9 0h17m51 0h8m170 0h9m8 0h9m229 0h9m-544 2h8m289 0h9m-332 2h9m34 0h8m17 0h9m68 0h8m-34 2h9m68 0h8m-59 2h17m17 0h8m391 0h9m-374 2h8m340 0h9m246 2h9"/>
<path stroke="#a5fc00" d="M597 601h17m0 10h9m161 6h9m-51 2h17m34 0h8m-221 2h9m187 2h8m-204 2h9m204 0h8m-8 2h8m-8 2h8m-229 2h8m-8 2h8m-17 2h9m153 2h8m-17 4h9m-51 4h8m-144 2h8m94 0h8m-102 4h9m136 2h8m-68 10h9m-111 2h9m153 4h8m-17 6h9m-51 4h8m0 2h9m8 0h9m-26 2h9m17 0h8m-25 6h8m85 0h9m-111 2h9m-153 2h8m162 6h8m111 4h8m-8 2h8m-8 4h8m-42 4h8m-8 2h8m17 2h9m-17 4h8m-616 6h4m-4 2h4m502 2h8m-195 2h8m-327 4h4m17 0h9m552 2h9m-570 2h9m535 0h9m-9 2h9m-264 2h9m204 0h8m-531 2h4m315 0h8m238 0h9m-68 2h8m-501 2h17m552 0h9m-26 2h9m-264 2h9m-298 2h9m17 0h8m255 0h9m229 0h9m17 0h8m-569 2h17m552 0h9m-272 6h8m238 0h9m-527 2h8m510 0h9m-43 2h9m-502 2h9m518 0h17m-527 2h9m68 0h8m187 0h9m-281 2h9m144 0h9m357 0h17m-578 2h8m51 0h9m17 0h8m9 0h8m85 0h9m8 0h9m-145 2h9m17 0h8m77 0h8m26 0h8m17 0h9m-111 2h9m8 0h9m8 0h9m102 0h8m17 0h9m544 0h8"/>
<path stroke="#bcff00" d="M597 599h9m-9 6h9m161 8h9m-187 4h8m179 0h8m-51 4h17m26 0h17m-60 2h9m-9 4h9m-9 4h9m34 0h8m-161 2h8m102 0h9m0 2h8m-42 6h8m102 6h9m-77 2h9m-213 4h9m76 4h9m51 0h8m-68 4h9m51 0h8m51 6h9m-230 2h9m144 0h9m-60 2h9m34 6h8m-17 2h17m-42 2h8m-136 2h9m144 0h9m-26 4h9m-17 2h17m-17 2h8m94 0h8m-76 10h8m-8 2h8m-187 6h9m170 0h8m102 0h9m-17 2h8m-17 4h26m-128 2h9m85 0h8m-272 4h9m246 0h9m-94 4h9m76 6h9m-591 2h4m578 0h9m-68 4h8m51 0h9m-17 6h8m-76 4h8m17 0h9m-527 2h17m493 2h8m-212 4h8m238 0h9m-570 4h9m561 0h8m-569 2h8m544 0h17m-59 2h8m43 0h8m-552 4h8m485 2h8m-518 2h8m26 0h8m9 0h8m-34 2h9m493 0h8m9 0h8m-535 2h8m9 0h8m9 0h8m26 0h8m417 0h8m34 0h9m-536 2h9m17 0h8m9 2h8m34 0h9m8 0h17m17 0h17m17 0h9m110 0h9m187 0h8m-450 2h8m119 0h17"/>
<path stroke="#ceff00" d="M606 609h8m-25 6h8m17 2h9m136 2h8m9 0h8m0 4h9m-170 2h8m136 0h9m0 2h8m-212 2h8m204 0h9m-170 2h8m94 0h8m17 2h9m-196 4h9m144 0h9m-9 2h9m68 2h8m-246 2h8m-17 2h9m136 0h8m-25 2h17m110 0h9m-179 2h9m68 2h8m-178 8h8m-8 2h8m145 2h8m-68 2h9m51 0h8m-68 8h9m8 4h9m25 4h17m-34 4h9m-17 2h25m-17 2h9m119 0h8m-144 2h8m-34 2h17m0 2h9m-9 4h9m119 0h8m-144 4h8m128 0h8m-110 4h8m51 0h9m-60 2h9m93 2h9m-43 6h9m8 0h9m-128 2h9m85 0h8m17 0h9m-85 4h8m51 0h9m-26 2h17m-76 2h8m68 0h9m-85 2h8m68 0h9m-26 2h9m0 2h8m-263 4h8m179 0h8m60 0h8m-578 2h9m8 0h9m476 0h8m51 0h17m-42 4h8m-544 2h9m306 0h8m179 0h8m51 0h9m-553 2h9m289 2h8m247 0h8m-17 2h9m-561 2h8m306 0h9m187 0h8m-527 2h9m8 0h9m297 0h9m238 0h8m-263 4h8m-306 2h9m535 2h9m-247 4h9m-336 2h13m0 6h8m510 0h9m8 0h9m-451 4h9m433 0h9m17 0h8m-493 2h9m42 0h9m17 0h8m9 0h8m366 0h25"/>
<path stroke="#e0ff00" d="M606 603h8m153 12h9m-187 4h8m170 0h9m-9 2h9m-162 2h9m119 0h17m0 2h8m17 0h9m-26 2h9m17 6h8m-178 2h8m94 0h17m8 0h9m34 0h8m-51 4h9m-51 4h8m34 0h9m-60 2h9m93 0h9m-119 10h8m0 2h9m42 4h9m34 2h8m-272 4h9m93 0h9m51 0h8m94 0h8m-8 4h8m-8 2h8m-161 2h8m-17 2h9m-119 2h8m102 0h9m42 0h9m102 2h8m-170 2h17m34 0h9m-179 2h9m119 0h17m136 2h8m-127 4h17m59 0h9m34 0h8m-153 2h17m9 0h8m111 0h8m-136 2h26m102 0h8m-144 2h8m-8 2h8m128 0h8m-144 2h8m68 0h9m0 2h17m25 0h9m-34 2h8m-110 2h8m111 0h8m-34 2h9m17 0h8m-34 2h9m8 0h9m-281 2h9m246 0h9m-264 2h9m161 0h9m-179 2h9m187 0h8m34 0h17m0 2h9m-68 8h8m-25 6h8m17 0h9m25 0h9m-68 2h8m17 0h9m34 0h8m-102 2h9m-162 2h9m-336 2h4m493 0h9m25 0h9m34 0h17m-281 2h9m204 0h8m17 2h9m-553 4h9m518 0h9m-536 2h9m518 0h9m34 0h8m-561 2h9m518 0h9m0 2h8m-565 2h4m510 0h9m42 0h9m-574 2h4m527 0h9m8 0h9m-26 2h9m8 4h9m-26 2h9m-519 2h9m493 2h8m26 0h8m-535 2h8m-34 2h9m8 0h9m297 0h9m-306 2h8m510 0h17m-433 2h8m17 0h17m357 0h17m-348 2h8m323 0h9"/>
<path stroke="#efff00" d="M606 605h8m153 12h9m-187 4h8m17 0h9m-9 4h9m127 0h9m17 0h8m-42 2h8m-170 2h9m153 2h17m-179 4h9m187 2h8m9 2h8m-85 4h9m51 0h8m-238 4h9m136 0h8m9 2h8m-25 10h17m25 0h9m8 12h9m34 6h8m-8 2h8m-25 2h8m9 2h8m-59 2h8m43 0h8m-119 2h9m93 2h9m-289 6h8m128 0h8m9 0h8m77 0h8m26 0h8m-42 2h8m34 0h9m-128 2h9m-34 2h8m43 0h8m77 0h17m-34 6h8m-119 2h9m17 2h8m51 0h9m17 0h8m-136 2h9m8 0h9m76 0h9m-94 2h9m85 0h8m-110 2h8m-153 2h9m229 0h9m-68 2h8m51 0h9m-9 2h17m-255 2h9m170 0h8m43 0h8m17 0h9m-264 2h9m238 0h8m-93 2h8m51 0h9m-230 2h9m-336 4h13m484 0h9m-179 2h9m161 0h9m42 0h9m-26 2h9m8 0h17m-561 2h9m493 0h17m-523 2h4m502 0h8m34 0h9m-26 2h17m9 0h8m-76 2h8m26 0h8m17 0h9m-230 2h9m-336 2h4m502 0h8m-510 2h9m493 0h8m-514 2h4m527 0h9m-536 2h9m476 0h8m34 0h9m-213 2h9m170 0h17m34 0h8m-561 2h9m510 0h8m-527 2h9m-13 2h4m17 0h9m501 0h17m-527 2h9m518 0h9m0 2h8m-544 2h9m476 0h17m-510 2h17m-9 4h9m17 0h8m0 2h9m42 2h17m26 0h8m349 0h8m9 0h8"/>
<path stroke="#f8fb00" d="M597 607h17m-17 2h9m153 12h8m-25 4h8m34 2h9m-51 2h8m17 0h9m8 2h9m-213 2h9m153 0h8m-127 4h8m102 0h9m51 0h8m-238 2h9m51 0h8m94 0h8m0 2h9m-9 2h9m-111 2h9m-85 4h8m136 0h9m25 0h9m-43 2h9m-9 4h9m25 0h9m-196 2h9m178 4h9m51 4h8m-51 4h9m17 0h8m-93 2h8m-8 2h8m-68 2h9m110 0h9m34 0h8m-110 2h8m-8 6h8m-68 2h9m34 0h8m-170 2h9m212 0h9m34 0h8m-136 10h9m8 0h9m76 0h9m8 0h17m0 2h9m-145 2h9m93 0h9m-102 2h8m102 0h9m-111 2h17m60 0h17m17 0h17m-51 2h8m-93 2h8m77 0h8m-102 2h9m17 2h8m60 0h8m0 2h9m-102 2h8m9 2h8m-25 2h8m34 0h9m-213 2h9m144 0h9m17 0h17m-9 4h9m42 0h9m-9 2h9m-77 2h9m17 2h8m-51 2h9m34 0h8m-531 4h4m544 2h9m-553 2h9m314 0h9m144 0h9m8 0h9m25 0h9m-540 2h4m485 0h8m-493 2h9m484 0h9m-506 2h4m476 0h9m34 0h8m17 0h17m-565 4h4m510 0h9m17 0h8m-51 2h9m8 0h17m-204 2h9m170 0h8m9 0h8m9 0h8m9 0h8m-68 2h9m17 0h8m-531 2h4m323 0h9m170 0h8m43 2h8m-561 4h9m510 0h8m9 0h8m9 0h8m-552 2h8m485 0h8m26 0h17m-553 2h9m535 0h9m-34 2h17m17 2h8m-42 2h8m-484 2h8m9 0h8m26 0h8m-34 2h9m42 0h9m382 0h9m25 0h9"/>
<path stroke="#fff700" d="M597 611h9m-9 2h9m8 6h9m136 4h8m-153 4h9m127 2h9m17 0h8m-8 4h8m-212 2h8m187 0h9m-26 2h9m-26 2h17m-187 2h9m153 0h8m17 0h9m17 0h8m-161 2h8m94 0h8m60 0h8m-51 8h9m-26 2h9m51 2h8m-51 4h9m34 2h8m-51 4h9m-136 2h8m162 2h8m-272 2h9m238 0h8m-8 2h8m-51 4h9m-119 2h8m-110 2h8m221 0h9m17 2h8m-102 2h17m34 0h9m-111 2h9m102 0h17m8 0h9m8 0h9m-111 2h9m51 0h8m26 0h8m-153 2h9m127 0h9m8 0h9m-128 2h9m68 0h17m25 0h9m-34 2h17m-136 2h8m34 0h17m-8 2h8m34 0h9m8 0h9m8 0h9m-111 2h9m68 0h8m17 0h9m-128 2h9m68 0h8m-51 2h9m42 0h9m-94 2h9m110 0h9m-111 2h9m-9 2h9m17 0h8m43 0h8m-85 2h9m59 2h9m-68 2h8m17 0h9m-51 2h17m17 2h8m-34 2h9m25 0h9m-9 2h9m-26 4h9m8 0h9m17 0h8m9 0h8m-59 2h17m-51 2h8m17 0h9m-9 2h9m34 0h8m-34 2h9m-43 2h9m17 0h8m-8 2h8m26 2h8m-238 4h9m144 0h9m68 0h8m-51 2h9m17 0h8m-221 2h9m212 0h9m-26 2h9m0 2h8m-51 2h9m42 4h17m-565 2h4m17 0h9m476 0h17m17 0h17m-230 2h9m170 0h8m9 0h8m-17 4h9m8 2h9m-34 2h8m26 2h8m-17 2h9m-510 2h8m519 0h8m-433 2h8"/>
<path stroke="#ffee00" d="M767 623h9m-17 4h8m-187 4h9m170 0h17m8 2h9m-17 6h8m-161 2h8m162 8h8m-8 2h8m-51 2h9m34 0h8m-59 2h17m34 2h8m-263 6h8m204 0h9m-26 2h9m34 0h8m-51 2h9m-111 2h9m93 4h9m8 0h9m17 4h8m-93 2h8m51 0h9m17 0h8m-51 4h26m25 2h9m-102 2h8m60 0h8m-255 2h9m110 0h9m34 0h8m51 0h9m34 2h8m-102 2h9m85 0h8m-153 2h9m93 0h9m8 0h9m25 0h9m-162 2h9m34 0h8m51 0h9m17 0h8m-127 2h8m94 0h8m-119 2h9m-9 2h9m42 0h17m34 0h9m17 0h8m-127 2h25m26 0h17m59 0h9m-111 2h9m25 2h9m25 0h9m17 0h8m-136 2h9m17 2h8m26 0h17m-68 2h8m9 0h8m9 0h17m-43 2h9m-17 2h8m34 0h9m8 0h9m-60 2h9m8 0h9m-43 4h9m8 0h17m-25 2h8m17 0h9m25 0h9m17 0h8m-238 2h9m187 0h8m-51 2h9m-17 2h8m17 0h9m-179 2h9m178 2h9m34 0h8m-76 2h8m-170 2h9m153 0h8m60 0h8m-76 2h8m17 0h9m-196 2h9m161 0h9m8 0h9m-9 2h9m17 0h8m-59 2h17m-9 2h9m34 0h8m9 0h8m-68 2h9m51 0h8m-17 2h9m-68 4h8m43 0h8m-8 2h8m-221 2h9m-332 2h9m544 0h8m-565 2h4m502 0h17m-523 4h4m536 0h8m-34 2h9m25 0h9m-557 2h4m502 2h17m-485 2h9m25 0h9m425 0h17m-485 2h9m51 0h8"/>
<path stroke="#ffe600" d="M759 629h8m-153 2h9m136 2h8m-25 4h8m34 0h9m-221 2h8m179 0h8m-25 4h8m9 0h8m-51 6h17m-178 2h8m136 2h9m8 0h9m0 2h8m0 2h9m8 0h9m-213 2h9m170 0h8m60 0h8m-102 2h9m34 0h8m26 0h8m-59 2h8m9 0h8m17 0h9m-238 2h8m153 0h9m68 2h8m-161 2h8m68 0h9m-179 6h9m153 0h8m26 0h8m43 0h8m-42 2h17m25 0h9m-94 2h9m25 0h17m17 0h9m-43 2h9m8 4h9m8 0h17m-25 4h17m-85 2h8m34 0h9m17 0h8m-34 2h9m17 0h17m-85 2h17m-204 2h8m187 0h9m-26 2h9m8 0h9m51 0h8m-85 2h9m68 0h8m-102 2h9m-43 2h9m-9 2h9m-9 2h9m51 0h8m-59 2h8m9 0h8m34 0h9m-26 2h9m0 2h8m26 0h8m-8 2h8m-51 4h9m17 0h8m-59 2h8m26 2h8m-51 2h17m43 0h8m-68 2h9m8 0h9m-17 2h8m17 0h9m34 0h8m-85 2h9m68 0h8m-76 2h8m51 0h9m-17 2h8m-76 2h8m9 12h8m17 0h9m-43 2h9m-9 2h9m8 6h9m8 4h9m-523 8h4m502 2h17m17 6h8"/>
<path stroke="#ffda00" d="M606 611h8m-25 14h8m17 4h9m144 4h9m0 2h17m-9 4h9m-51 2h8m17 0h9m-77 6h9m34 2h8m-127 2h8m-8 2h8m94 0h8m9 0h8m-42 2h8m51 0h9m-51 2h8m26 4h8m-68 2h9m68 0h8m0 2h9m-9 4h9m-264 4h9m85 0h8m136 0h9m8 0h9m-60 2h17m34 4h9m-162 2h9m59 0h9m17 0h8m9 0h8m-127 2h8m68 0h9m76 0h9m-170 6h8m60 0h8m26 0h8m-110 6h8m-127 4h8m119 0h9m85 6h8m-93 2h8m34 0h26m42 0h9m-119 2h8m34 2h9m34 2h8m-34 2h9m-26 2h9m0 2h8m26 0h8m-93 2h8m77 2h8m-93 2h8m34 0h9m-60 6h9m-145 2h9m127 0h9m76 0h9m-85 2h8m9 2h8m-17 2h9m25 0h9m17 0h8m-76 2h17m51 0h8m-68 4h9m-26 4h9m0 2h17m-17 4h8m34 6h9m-34 2h8m0 2h9m-502 12h9m323 2h8m-289 2h9m272 0h8"/>
<path stroke="#ffc800" d="M589 623h8m17 10h9m-9 2h9m136 0h8m-195 2h8m187 0h9m-9 2h9m-17 2h8m-204 2h9m212 0h9m-85 2h8m-85 2h9m-17 2h8m145 0h8m-68 2h34m26 0h8m-76 2h8m60 2h8m-68 2h9m51 0h8m-238 4h9m170 0h8m-8 4h8m9 2h8m17 0h9m-43 2h9m-43 2h9m34 0h8m9 0h17m8 0h9m-68 2h8m-34 2h9m51 0h17m8 0h9m-68 4h8m26 4h8m-8 2h8m-255 8h9m170 0h8m26 2h8m-8 2h8m-34 4h9m17 0h8m-110 2h8m94 4h8m-8 2h8m-93 4h8m-17 2h9m-9 2h9m76 0h9m-94 4h9m85 0h8m-102 2h9m76 2h9m-94 2h9m76 0h9m-85 2h8m60 0h8m-76 2h8m68 0h9m-94 4h9m68 0h8m-76 2h8m-17 2h9m0 4h8m-17 2h17m-17 2h17m-17 4h9m17 2h8m-8 2h8m-17 2h9m-9 2h9m-9 2h9m8 2h9m-9 4h9m-9 8h9m34 2h8m-535 2h17m314 2h9"/>
<path stroke="#ffb500" d="M606 613h8m-17 2h9m-9 2h9m-26 20h9m170 0h8m0 6h9m-60 2h9m42 6h9m-17 2h8m9 0h8m-25 2h8m-212 2h8m145 0h8m26 0h8m17 0h9m-153 2h8m111 0h8m17 0h17m-17 2h9m-153 2h8m102 0h9m-119 2h8m111 0h8m-212 2h8m153 0h9m76 0h9m-51 2h8m9 0h17m-43 2h9m0 2h8m-127 2h8m128 4h8m-238 2h9m221 0h17m-255 2h8m196 0h8m34 0h9m-77 2h9m-9 2h9m-196 4h9m204 0h8m-110 2h8m68 10h9m-85 4h8m85 0h9m0 4h8m-17 2h9m-9 8h9m-85 2h8m60 0h8m-85 6h9m68 2h8m-8 2h8m-85 4h9m-9 4h9m-17 4h8m9 4h8m-17 4h9m-17 2h8m26 6h8m-8 4h8m-8 2h8m0 4h9m-506 6h4m493 0h9m-9 2h9m-493 2h8m9 0h8m9 0h8m9 0h8"/>
<path stroke="#ffa500" d="M606 615h8m0 22h9m-9 2h9m161 2h9m-221 2h8m-25 2h8m60 0h8m102 0h9m8 0h9m34 0h8m-93 2h8m9 0h17m51 0h8m-34 2h9m-221 4h8m204 0h9m8 0h9m-238 2h8m60 0h8m-8 2h8m153 0h9m-77 2h9m34 0h8m17 0h9m-85 4h8m68 0h9m-85 2h8m43 0h17m-51 2h8m-110 4h8m94 0h8m-34 2h9m51 0h8m-238 4h9m85 0h8m68 0h9m59 0h9m8 4h9m-170 4h8m94 0h8m-110 2h8m94 0h8m-34 2h9m-9 2h9m-9 2h17m-93 6h8m-127 2h8m111 0h8m85 0h9m-17 6h8m-8 2h8m-8 2h8m-85 8h9m68 0h17m-9 4h9m-102 20h17m0 10h8m-17 2h9m25 14h9"/>
<path stroke="#ff9700" d="M589 627h8m-25 14h8m196 4h8m-68 2h9m25 0h9m0 2h8m-8 2h8m-51 4h9m59 0h9m-34 2h8m-144 4h8m153 0h9m-247 2h9m-17 8h8m162 0h8m-136 2h9m119 2h8m43 2h8m-238 2h9m85 2h8m-51 4h9m119 4h8m-93 2h8m94 2h8m-153 4h9m136 2h8m-110 6h8m-8 4h8m-8 2h8m-8 4h8m77 0h8m-93 2h8m77 0h8m-93 6h8m-8 2h8m77 0h8m-93 2h8m-8 6h8m9 24h8m-17 2h9m-9 2h9m17 12h17m-170 4h17m-9 2h9"/>
<path stroke="#ff8a00" d="M597 619h9m-17 10h8m-17 10h9m25 2h9m102 4h8m9 0h8m-195 2h8m221 2h9m-9 2h9m-238 8h8m145 0h8m-8 2h8m43 2h8m-221 2h9m153 2h8m43 0h8m-59 2h25m-25 4h17m-9 4h17m-153 4h9m-77 14h9m-9 2h9m102 0h8m77 0h17m-17 2h8m-8 4h8m-102 2h9m0 8h8m85 2h9m-102 6h8m-8 10h8m-8 4h8m-8 2h8m-8 4h8m-8 6h8m-8 4h8m0 6h9m0 2h8m-476 20h9m484 2h9"/>
<path stroke="#ff7c00" d="M606 617h8m-8 2h8m-17 2h9m-9 2h9m-26 18h9m25 2h9m144 2h9m-153 2h8m-17 2h9m-68 12h8m153 0h9m-9 4h9m-111 2h9m-85 2h8m162 8h8m-8 2h8m-136 4h9m119 0h8m-195 2h8m179 0h8m0 4h9m-9 2h9m-9 8h9m-17 6h17m-17 8h8m-93 6h8m-8 30h8m-8 8h8m17 6h9m-9 4h9m0 4h8m-161 4h8"/>
<path stroke="#ff6e00" d="M589 631h8m17 20h9m-9 4h9m-9 4h9m-68 4h8m153 0h9m-111 2h9m-43 2h9m-9 10h9m127 4h9m-9 4h9m-204 2h8m51 0h9m-9 4h9m119 0h8m-136 2h9m127 0h9m-145 2h9m119 0h8m-136 4h9m119 2h8m0 2h9m-145 4h9m127 2h9m-9 2h9m-111 8h9m-9 8h9m0 2h8m-17 4h9m0 6h8m-17 14h17m-8 6h8m9 2h8m-144 12h8m0 2h9m127 0h9m-136 4h8m-357 2h9"/>
<path stroke="#ff6100" d="M597 625h9m178 20h9m-51 2h8m-170 14h9m-9 2h9m25 0h9m-43 2h9m127 2h9m-145 4h9m25 0h9m93 0h9m-187 2h8m68 0h9m-43 2h9m-17 2h8m-8 2h17m127 0h9m-17 2h8m0 2h9m-17 4h17m-145 2h9m127 6h9m-111 6h9m-51 4h8m34 10h9m-9 2h9m-9 4h9m-9 14h9m34 34h8m-476 12h9m323 0h8m128 0h8"/>
<path stroke="#ff5300" d="M606 623h8m-34 20h9m-26 2h9m42 0h9m136 0h8m0 2h17m-221 2h9m-9 2h9m42 10h9m-43 8h9m25 0h9m-85 8h8m68 2h9m-9 2h9m-94 2h9m76 0h9m-51 2h8m34 0h9m-9 6h9m-9 4h9m-9 2h9m-43 4h9m-9 2h9m25 0h9m-9 4h9m-43 2h9m25 2h9m-51 4h8m-8 6h8m34 2h9m-9 2h9m-51 4h8m34 8h9m-9 4h9m-9 10h9m0 10h8m0 2h17m0 2h9m-145 8h9m17 2h8m-378 4h4"/>
<path stroke="#ff3d00" d="M606 621h8m-8 6h8m-25 6h8m-8 2h8m162 12h8m-153 10h9m-43 2h9m-34 6h8m-17 2h17m-25 8h8m170 0h9m-111 2h9m-85 2h8m-17 6h9m76 2h9m-9 2h9m-9 4h9m-51 4h8m-68 2h9m51 2h8m-76 2h8m60 0h8m0 2h9m-17 2h8m-8 2h8m-8 4h8m34 0h9m-43 2h9m-17 4h8m0 2h9m-17 6h8m34 2h9m-9 10h9m-9 4h9m-9 2h9m-9 2h9m-9 2h9m-9 6h9m-9 2h9m-9 2h9m-9 2h9m25 8h9m-153 2h8m9 4h8m128 0h8m-144 2h8m128 0h8m-136 2h17m111 0h8m-497 2h4m366 0h8"/>
<path stroke="#ff2700" d="M597 627h9m-43 20h9m0 2h8m34 4h9m-51 14h8m-8 6h8m-8 2h8m34 0h9m-51 8h8m-59 6h8m43 10h8m34 0h9m-111 2h9m-17 4h8m102 4h9m-51 2h17m-17 6h17m-17 6h8m-8 2h8m34 6h9m8 34h17m0 6h9m-136 2h8m9 0h8m102 0h9m-128 4h26m93 0h9m-9 2h9"/>
<path stroke="#ff1400" d="M606 625h8m-25 12h8m187 10h9m-230 8h9m0 6h8m-8 8h8m-8 2h8m-8 10h8m-42 2h8m26 6h8m-8 2h8m-59 2h8m43 0h8m-8 2h8m0 18h9m-85 28h8m111 22h8m9 4h8m-144 2h8m128 2h8m-8 2h8m-119 2h9m8 6h9m93 0h9"/>
<path stroke="#ff0800" d="M597 629h9m0 6h8m-8 2h8m-25 2h8m-8 2h8m9 2h8m-42 2h17m-26 8h9m-9 4h9m8 0h9m-26 2h9m-9 2h9m0 2h8m-8 2h8m-34 4h9m34 8h8m-59 4h8m-8 4h8m43 2h8m-76 4h8m60 4h8m-93 24h8m68 0h9m-9 4h9m-9 2h17m-17 14h9m-85 4h8m-8 8h8m51 10h9m42 2h9m0 2h8m-59 2h8m60 2h8m-102 4h9m-9 2h9m-9 4h9m-26 2h9"/>
<path stroke="#fe0000" d="M606 629h8m-17 2h9m0 2h8m-8 6h8m-8 2h8m-34 10h9m-17 2h8m0 2h9m-17 2h8m-8 2h8m-17 6h9m17 2h8m-42 2h8m26 0h8m-8 2h8m9 2h8m-25 2h8m-25 12h8m-59 8h8m34 0h9m17 4h8m-93 8h8m77 4h8m-34 4h9m17 0h8m9 0h8m-51 2h9m-9 2h9m-68 2h8m-8 4h8m94 0h8m-34 2h17m9 0h8m-110 4h8m43 0h8m9 0h8m0 2h9m-85 2h8m60 0h8m-76 4h8m60 0h8m-8 2h8m0 2h9m-85 14h8m-8 2h8m94 0h8m-51 4h9m-68 2h8m111 2h17m-128 2h9m110 0h9m-128 2h9m8 0h9m17 2h8m68 0h9m0 4h8m-8 2h8m-8 2h8"/>
<path stroke="#f80000" d="M606 631h8m-17 2h9m-26 16h9m-17 2h8m0 2h9m-17 2h8m9 4h8m-8 2h8m9 0h8m-51 2h9m17 0h8m-8 10h8m-42 2h17m34 0h8m-51 4h9m-9 2h9m17 0h8m-42 2h17m17 0h8m-8 2h8m-68 2h9m25 0h9m-17 4h17m34 0h8m-25 2h8m-42 2h8m26 2h8m9 4h8m-51 4h9m17 0h8m-8 2h8m-8 2h8m-34 2h9m-9 2h9m17 6h8m-8 2h8m-93 2h8m51 0h9m34 0h8m-51 2h9m-68 2h8m-8 2h8m68 0h9m17 0h8m-110 4h8m51 0h17m26 0h8m-51 2h9m-68 2h8m60 0h8m-17 4h9m-9 2h9m-68 2h8m51 0h17m-76 2h8m51 0h9m8 4h9m-85 2h8m60 0h8m26 0h8m-110 2h8m68 0h9m-9 2h9m-85 4h8m60 0h17m-17 2h8m34 2h9m-119 2h8m68 0h9m34 2h8m-110 2h8m94 0h8m-102 2h9m17 2h8m-8 2h8m68 0h9m-85 4h8m9 0h8"/>
<path stroke="#f20000" d="M589 643h8m17 4h9m-17 2h8m-8 2h8m-8 2h8m-8 2h8m-8 2h8m-8 2h8m-8 4h8m-25 2h8m-34 2h9m-9 2h9m34 0h8m-68 2h26m25 0h9m-43 2h9m34 4h8m-25 2h8m9 2h8m-8 2h8m-59 2h17m-26 2h9m51 0h8m-51 2h9m17 0h8m-8 2h8m-34 2h9m34 2h8m-93 2h8m34 0h9m-17 2h8m-42 2h8m26 0h8m26 0h8m-85 2h9m42 0h9m17 0h8m9 0h8m-102 2h9m42 2h9m34 0h8m-110 2h8m85 0h9m-102 2h8m43 0h8m26 2h17m-102 2h8m43 0h8m-25 2h8m9 2h8m34 2h17m-59 2h8m0 4h9m-9 2h9m-9 2h9m-17 4h8m17 0h9m17 0h8m-51 2h9m8 0h9m17 0h8m-51 2h9m8 2h9m17 0h8m-34 4h9m17 0h8m-42 2h17m17 0h8m-110 2h8m43 0h8m9 0h17m8 0h17m-42 2h8m9 0h8m-17 2h9m-34 2h25m26 0h8m-42 2h8m26 0h8m-51 2h26m-85 4h8m43 0h8m26 0h8m-51 2h9m8 0h26m-26 2h9m34 0h8m-93 2h8m51 0h9m-34 2h8m68 0h9m-26 2h9m8 2h17m-93 4h8m68 0h9"/>
<path stroke="#e30000" d="M597 635h9m-9 2h9m-17 12h8m-8 6h8m-8 2h8m0 2h9m0 6h8m-8 2h8m-8 4h8m-68 2h17m34 2h9m-43 2h9m-17 2h8m34 2h9m-60 2h9m42 2h17m-76 2h8m9 0h8m43 2h8m-8 4h8m-8 4h8m-93 2h8m77 0h8m-85 2h9m25 0h9m-26 2h9m42 0h9m-51 2h8m-8 2h8m-8 2h17m34 0h8m-8 2h8m-110 2h8m43 0h8m43 0h8m-110 4h8m34 0h17m26 0h8m9 0h8m-8 2h8m-59 2h17m-60 4h9m34 0h8m34 2h9m-51 2h8m26 0h8m-76 2h8m51 0h9m17 0h8m-102 6h9m34 0h8m26 2h25m-59 2h8m9 2h8m26 0h8m-25 2h8m-51 2h17m0 2h9m-60 2h17m26 0h8m43 0h8m-93 4h8m9 2h8m9 0h8m-34 2h9m51 0h8m-85 2h9m85 0h8m-34 2h9m0 2h8m-76 2h8m60 0h8m17 0h9m-77 2h9m8 0h17m34 0h9m-85 2h17m8 0h9m0 2h8m26 2h8m-34 2h9m42 4h9"/>
<path stroke="#d10000" d="M597 639h9m-9 2h9m-9 2h9m-17 2h25m-42 2h42m-17 2h9m-17 2h17m-17 2h17m-9 2h9m-9 2h9m-9 4h9m-9 2h9m-9 2h9m-9 2h9m-9 2h9m-9 4h9m-60 2h9m-9 2h17m34 0h9m-60 2h9m42 0h17m-68 2h17m34 2h9m-60 2h9m42 2h9m-77 2h34m34 0h9m-77 2h26m42 0h9m-77 2h34m34 0h9m-77 2h26m42 0h9m-77 2h34m34 0h9m-77 2h26m8 0h9m25 0h9m-68 2h17m42 0h9m-85 2h25m9 0h8m-42 2h34m42 0h17m-102 2h43m42 0h9m-94 2h43m-43 2h43m42 0h9m-94 2h43m-43 2h43m42 0h9m-94 2h26m59 0h9m-94 2h43m42 0h9m-94 2h43m-43 2h43m34 0h17m-85 2h34m42 0h9m-94 2h51m-51 2h43m42 0h9m-94 2h9m8 0h26m34 0h17m-94 2h51m26 0h17m-94 2h43m34 0h17m-85 2h34m34 0h17m-94 2h51m-51 2h43m34 0h17m-94 2h51m26 0h17m-94 2h51m34 0h9m-94 2h34m43 0h17m-94 2h43m34 0h8m-68 2h26m8 0h9m25 0h9m-94 2h60m17 0h17m-94 2h9m8 0h26m34 0h17m-94 2h26m8 0h9m8 0h9m17 0h17m-94 2h17m9 0h25m34 0h9m-85 2h42m26 0h17m-94 2h43m42 0h17m-102 2h34m9 0h8m34 0h17m-102 2h9m8 0h34m34 0h9m-77 2h17m9 0h8m26 0h25m-42 2h51m-60 2h9m8 0h34m9 0h8m-68 2h43m8 0h17m-68 2h17m9 0h42m-68 2h68m-68 2h9m8 0h51"/>
</g>
<g fill="#000" shape-rendering="crispEdges">
<rect x="166" y="186" width="4" height="610"/>
<rect x="1186" y="186" width="4" height="610"/>
<rect x="148" y="197" width="1061" height="3"/>
<rect x="148" y="782" width="1061" height="3"/>
<rect x="251" y="192" width="4" height="6"/>
<rect x="251" y="784" width="4" height="6"/>
<rect x="336" y="192" width="4" height="6"/>
<rect x="336" y="784" width="4" height="6"/>
<rect x="421" y="186" width="4" height="12"/>
<rect x="421" y="784" width="4" height="12"/>
<rect x="506" y="192" width="4" height="6"/>
<rect x="506" y="784" width="4" height="6"/>
<rect x="591" y="192" width="4" height="6"/>
<rect x="591" y="784" width="4" height="6"/>
<rect x="676" y="186" width="4" height="12"/>
<rect x="676" y="784" width="4" height="12"/>
<rect x="761" y="192" width="4" height="6"/>
<rect x="761" y="784" width="4" height="6"/>
<rect x="846" y="192" width="4" height="6"/>
<rect x="846" y="784" width="4" height="6"/>
<rect x="931" y="186" width="4" height="12"/>
<rect x="931" y="784" width="4" height="12"/>
<rect x="1016" y="192" width="4" height="6"/>
<rect x="1016" y="784" width="4" height="6"/>
<rect x="1101" y="192" width="4" height="6"/>
<rect x="1101" y="784" width="4" height="6"/>
<rect x="148" y="281" width="19" height="3"/>
<rect x="1189" y="281" width="20" height="3"/>
<rect x="148" y="364" width="19" height="3"/>
<rect x="1189" y="364" width="20" height="3"/>
<rect x="148" y="448" width="19" height="3"/>
<rect x="1189" y="448" width="20" height="3"/>
<rect x="148" y="531" width="19" height="3"/>
<rect x="1189" y="531" width="20" height="3"/>
<rect x="148" y="615" width="19" height="3"/>
<rect x="1189" y="615" width="20" height="3"/>
<rect x="148" y="698" width="19" height="3"/>
<rect x="1189" y="698" width="20" height="3"/>
</g>
<g class="t">
<text x="137" y="223.0" text-anchor="end">19.3</text>
<text x="1220" y="223.0">82.8</text>
<text x="137" y="295.6" text-anchor="end">41.7</text>
<text x="1220" y="295.6">79.0</text>
<text x="137" y="379.1" text-anchor="end">62.2</text>
<text x="1220" y="379.1">77.7</text>
<text x="137" y="462.7" text-anchor="end">80.9</text>
<text x="1220" y="462.7">76.9</text>
<text x="137" y="546.3" text-anchor="end">80.9</text>
<text x="1220" y="546.3">76.2</text>
<text x="137" y="629.9" text-anchor="end">62.6</text>
<text x="1220" y="629.9">75.4</text>
<text x="137" y="713.4" text-anchor="end">41.9</text>
<text x="1220" y="713.4">74.1</text>
<text x="137" y="783.0" text-anchor="end">19.0</text>
<text x="1220" y="783.0">70.1</text>
<text x="169" y="168" text-anchor="middle">19.8</text>
<text x="168" y="849" text-anchor="middle">17:00</text>
<text x="424" y="168" text-anchor="middle">20.0</text>
<text x="423" y="849" text-anchor="middle">17:15</text>
<text x="679" y="168" text-anchor="middle">20.3</text>
<text x="678" y="849" text-anchor="middle">17:30</text>
<text x="934" y="168" text-anchor="middle">20.5</text>
<text x="933" y="849" text-anchor="middle">17:45</text>
<text x="1189" y="168" text-anchor="middle">20.7</text>
<text x="1188" y="849" text-anchor="middle">18:00</text>
<text x="678" y="132" text-anchor="middle">MLT</text>
<text x="678" y="895" text-anchor="middle">Time UT</text>
<text transform="translate(39 490) rotate(-90)" text-anchor="middle">Elevation</text>
<text transform="translate(1324 490) rotate(-90)" text-anchor="middle">MLAT</text>
<text transform="translate(1506 490) rotate(-90)" text-anchor="middle">Brightness [kR]</text>
<text x="1402" y="306.0">1.18</text>
<text x="1402" y="371.8">0.96</text>
<text x="1402" y="437.7">0.78</text>
<text x="1402" y="503.5">0.64</text>
<text x="1402" y="569.3">0.52</text>
<text x="1402" y="635.1">0.42</text>
<text x="1402" y="701.0">0.34</text>
</g>
<text class="it" x="183" y="89" font-size="46">NYA6 6300 Å</text>
<text class="it" x="183" y="119" font-size="31.6">2017-11-22 17:00-18:00 UT</text>
<defs><linearGradient id="cb" x1="0" y1="1" x2="0" y2="0">
<stop offset="0.0000" stop-color="#0c0008"/>
<stop offset="0.0250" stop-color="#1c0018"/>
<stop offset="0.0450" stop-color="#2a0030"/>
<stop offset="0.0600" stop-color="#400058"/>
<stop offset="0.0850" stop-color="#4a006c"/>
<stop offset="0.1220" stop-color="#500088"/>
<stop offset="0.1500" stop-color="#4800b8"/>
<stop offset="0.1750" stop-color="#3000d8"/>
<stop offset="0.2030" stop-color="#0800ff"/>
<stop offset="0.2500" stop-color="#0028ff"/>
<stop offset="0.2900" stop-color="#0078ff"/>
<stop offset="0.3300" stop-color="#00b8ff"/>
<stop offset="0.3730" stop-color="#00f8ff"/>
<stop offset="0.4000" stop-color="#00ffc8"/>
<stop offset="0.4500" stop-color="#00ff78"/>
<stop offset="0.4990" stop-color="#00f818"/>
<stop offset="0.5200" stop-color="#18f000"/>
<stop offset="0.5600" stop-color="#80f800"/>
<stop offset="0.6000" stop-color="#c0ff00"/>
<stop offset="0.6250" stop-color="#e0ff00"/>
<stop offset="0.6400" stop-color="#f0ff00"/>
<stop offset="0.6650" stop-color="#fff800"/>
<stop offset="0.7040" stop-color="#ffe000"/>
<stop offset="0.7400" stop-color="#ffb000"/>
<stop offset="0.7550" stop-color="#ffa000"/>
<stop offset="0.7960" stop-color="#ff7800"/>
<stop offset="0.8360" stop-color="#ff5000"/>
<stop offset="0.8550" stop-color="#ff3000"/>
<stop offset="0.8780" stop-color="#ff1000"/>
<stop offset="0.9000" stop-color="#ff0000"/>
<stop offset="0.9350" stop-color="#f00000"/>
<stop offset="0.9650" stop-color="#c80000"/>
<stop offset="1.0000" stop-color="#a80000"/>
</linearGradient></defs>
<g shape-rendering="crispEdges">
<rect x="1364" y="226" width="28" height="530" fill="#000"/>
<rect x="1368" y="229" width="20" height="524" fill="url(#cb)"/>
<rect x="1368" y="292" width="20" height="3" fill="#000"/>
<rect x="1368" y="358" width="20" height="3" fill="#000"/>
<rect x="1368" y="424" width="20" height="3" fill="#000"/>
<rect x="1368" y="490" width="20" height="3" fill="#000"/>
<rect x="1368" y="555" width="20" height="3" fill="#000"/>
<rect x="1368" y="621" width="20" height="3" fill="#000"/>
<rect x="1368" y="687" width="20" height="3" fill="#000"/>
</g>
</svg></body></html>
